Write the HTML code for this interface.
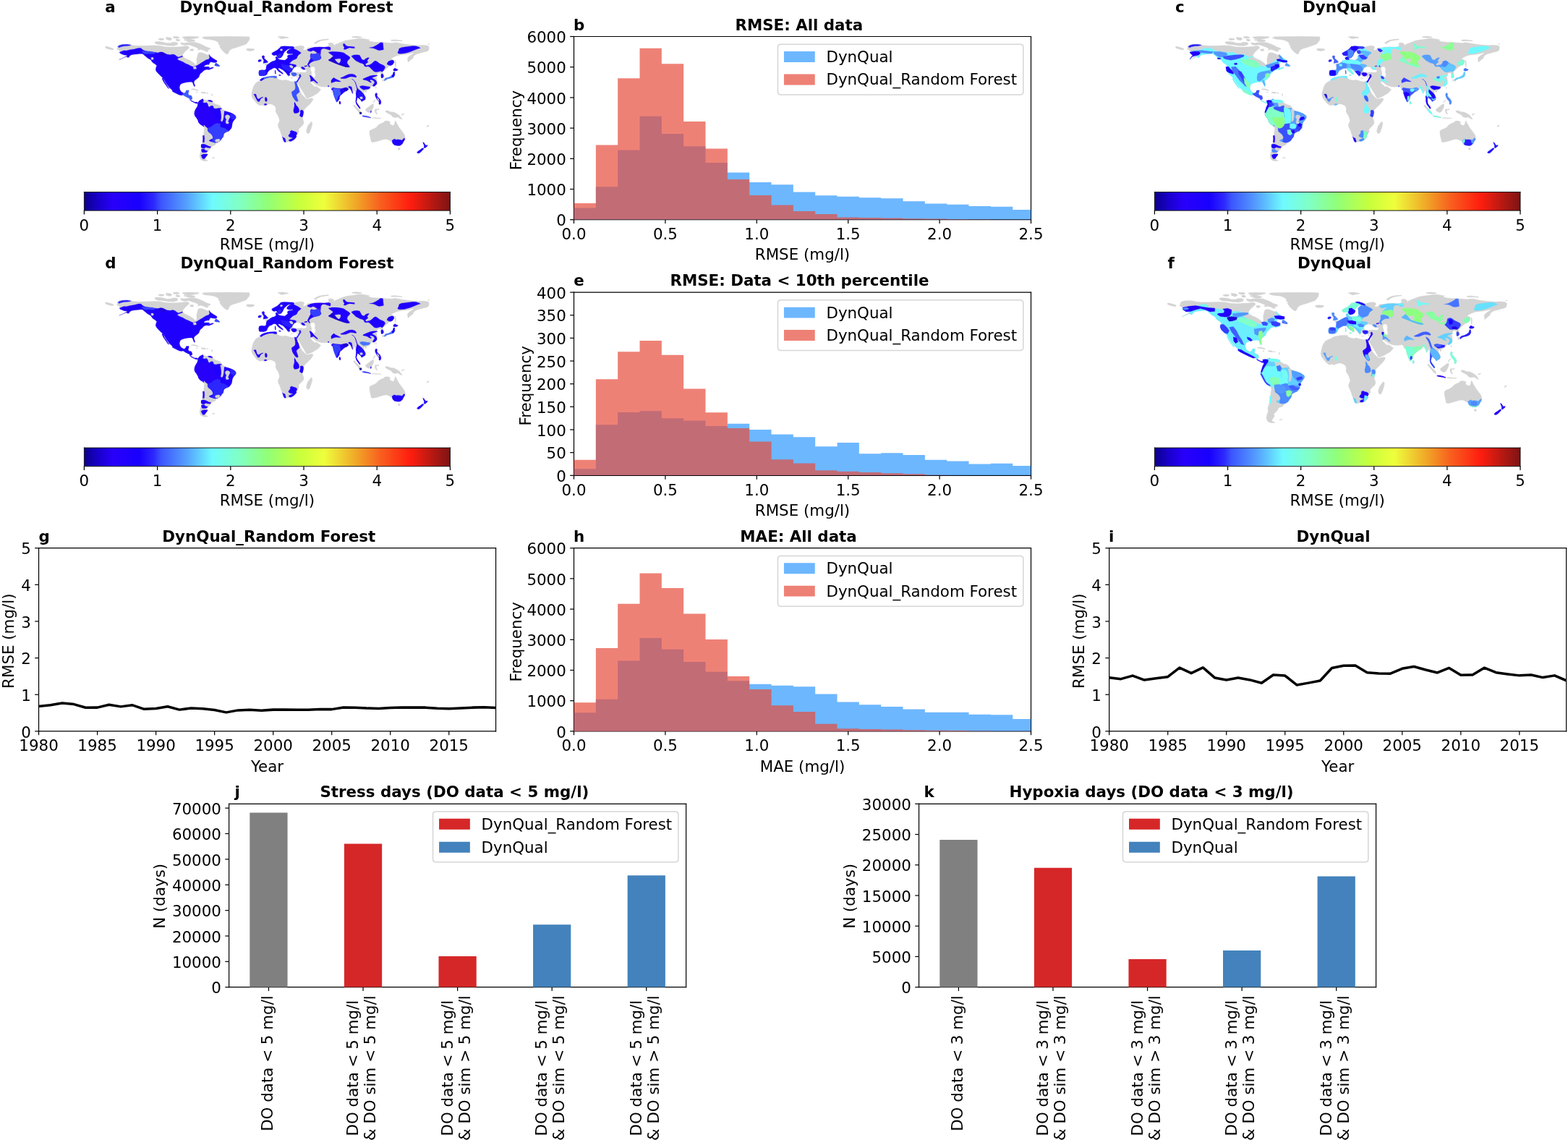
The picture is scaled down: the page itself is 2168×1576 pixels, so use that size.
<!DOCTYPE html>
<html lang="en"><head><meta charset="utf-8"><title>DynQual vs DynQual_Random Forest</title>
<style>html,body{margin:0;padding:0;background:#fff;overflow:hidden}svg{display:block}</style></head>
<body>
<svg width="2168" height="1576" viewBox="0 0 1419.054545 1031.563636" role="img" aria-label="Model performance figure"><defs><linearGradient id="jetgrad" x1="0" y1="0" x2="1" y2="0"><stop offset="0.000" stop-color="#0c008c"/><stop offset="0.040" stop-color="#1a00cd"/><stop offset="0.080" stop-color="#2800fa"/><stop offset="0.150" stop-color="#1900ff"/><stop offset="0.190" stop-color="#2d28ff"/><stop offset="0.210" stop-color="#3c55ff"/><stop offset="0.280" stop-color="#55a0ff"/><stop offset="0.350" stop-color="#6efaff"/><stop offset="0.420" stop-color="#80ffc8"/><stop offset="0.500" stop-color="#91ff78"/><stop offset="0.590" stop-color="#c8ff3c"/><stop offset="0.655" stop-color="#eeff3c"/><stop offset="0.740" stop-color="#f0aa28"/><stop offset="0.810" stop-color="#f85f1e"/><stop offset="0.890" stop-color="#ff1e0f"/><stop offset="1.000" stop-color="#7d1414"/></linearGradient></defs>
<defs>
<style type="text/css">*{stroke-linejoin: round; stroke-linecap: butt}</style>
</defs>
<g id="figure_1">
<g id="patch_1">
<path d="M 0 1031.56 L 1419.05 1031.56 L 1419.05 0 L 0 0 z" style="fill: #ffffff"/>
</g>
<g id="axes_1">
<g id="patch_2">
<path d="M 106.13 42.11 L 107.82 40.66 L 110.96 40.08 L 114.82 39.99 L 118.2 40.47 L 120.62 41.14 L 125.45 41.43 L 130.28 41.43 L 135.11 41.19 L 139.94 41.05 L 144.77 41.34 L 149.6 42.3 L 155.4 42.59 L 160.23 42.4 L 165.06 42.11 L 168.93 41.63 L 170.86 42.11 L 171.24 43.46 L 168.93 45.4 L 166.99 47.33 L 165.54 49.26 L 165.16 50.71 L 166.03 51.77 L 168.44 53.12 L 171.34 54.33 L 173.76 55.78 L 175.69 57.23 L 177.23 59.02 L 178.1 56.99 L 177.86 53.61 L 178.59 50.71 L 179.17 48.29 L 181 47.42 L 183.42 47.81 L 185.83 48.78 L 187.77 49.74 L 189.21 49.26 L 190.66 51.19 L 192.6 52.64 L 195.01 54.09 L 196.46 55.06 L 196.07 56.26 L 194.53 56.6 L 192.6 56.51 L 190.66 56.02 L 189.7 56.99 L 189.21 58.44 L 187.28 58.44 L 185.35 59.16 L 184.38 60.37 L 186.32 60.37 L 188.73 60.37 L 189.94 61.09 L 188.01 62.3 L 190.66 61.43 L 192.98 60.76 L 193.18 61.43 L 191.15 62.4 L 188.73 63.12 L 187.28 62.79 L 185.35 63.27 L 183.9 64.23 L 182.93 65.44 L 181.49 66.41 L 180.52 68.1 L 180.04 69.79 L 178.59 71 L 177.14 72.21 L 175.93 73.17 L 175.45 74.62 L 175.93 76.07 L 176.56 77.76 L 175.93 78.34 L 175.21 77.04 L 174.48 75.1 L 173.76 74.14 L 171.82 74.14 L 169.89 74.28 L 167.96 74.62 L 166.03 75.1 L 164.1 75.83 L 162.89 77.04 L 162.4 79.21 L 162.89 81.38 L 164.1 83.07 L 166.03 84.04 L 167.96 83.56 L 168.44 82.11 L 169.41 81.62 L 170.86 81.72 L 170.62 83.07 L 170.13 85.01 L 171.82 85.97 L 173.76 86.7 L 174 88.15 L 173.9 89.6 L 172.94 90.08 L 173.42 91.04 L 174.87 91.77 L 176.32 92.49 L 177.77 92.25 L 179.22 92.98 L 178.73 93.7 L 176.8 93.46 L 174.87 92.49 L 172.94 91.53 L 171.97 90.56 L 171.49 89.11 L 169.55 88.15 L 167.62 87.18 L 165.69 85.97 L 164.24 86.21 L 162.31 85.97 L 159.89 84.76 L 157.96 83.8 L 156.03 82.83 L 156.03 81.87 L 154.58 80.42 L 153.61 79.69 L 152.16 77.76 L 150.71 75.83 L 149.51 73.9 L 148.3 71.72 L 147.19 70.27 L 145.74 69.07 L 144.29 67.62 L 142.84 66.17 L 141.63 64.72 L 140.91 63.27 L 141.15 61.34 L 141.87 59.4 L 140.91 58.44 L 139.46 57.47 L 138.01 56.51 L 137.04 55.06 L 136.08 53.85 L 134.63 53.12 L 133.18 52.16 L 131.73 50.95 L 130.28 49.74 L 129.31 48.78 L 127.38 48.54 L 125.45 48.78 L 123.04 49.02 L 120.62 49.26 L 118.69 49.74 L 117.24 50.71 L 116.76 51.68 L 115.79 52.16 L 114.82 51.43 L 113.37 51.58 L 110.96 52.74 L 107.82 53.99 L 108.06 53.51 L 110.96 52.16 L 112.89 51.1 L 114.24 49.98 L 112.41 49.74 L 110.48 49.02 L 108.78 48.29 L 108.06 47.33 L 108.54 46.36 L 107.58 45.4 L 106.13 44.91 L 105.65 43.95 L 106.61 43.22 z M 146.61 70.67 L 147.57 70.29 L 148.78 73.67 L 150.23 75.84 L 151.68 78.01 L 152.89 79.95 L 152.41 80.24 L 150.96 78.26 L 149.51 76.18 L 148.06 74.05 L 147.09 72.22 z M 95.26 42.11 L 96.95 42.11 L 99.85 42.98 L 102.75 43.95 L 102.51 45.15 L 100.33 45.01 L 97.43 44.19 L 95.4 43.46 z M 182.72 34.04 L 184.89 33.22 L 192.62 33.08 L 207.11 32.93 L 219.19 33.03 L 225.71 33.22 L 225.95 34.77 L 225.47 36.7 L 224.02 38.39 L 223.05 39.84 L 220.64 40.81 L 217.74 41.77 L 214.84 42.74 L 212.43 43.46 L 210.01 44.19 L 208.08 45.4 L 207.11 47.09 L 206.39 48.78 L 205.18 49.02 L 203.73 48.05 L 202.28 46.84 L 200.83 45.4 L 199.62 43.7 L 198.66 42.01 L 199.38 41.05 L 197.45 40.32 L 198.18 39.36 L 196.97 38.15 L 195.52 37.18 L 193.59 36.46 L 191.17 35.98 L 188.76 35.73 L 186.34 35.49 L 184.41 35.01 z M 222.81 44.33 L 224.5 43.85 L 227.4 43.95 L 230.06 44.19 L 230.3 45.15 L 228.85 45.88 L 226.43 46.27 L 224.02 45.88 L 222.96 45.15 z M 168.95 38.63 L 173.3 38.05 L 177.65 38.39 L 181.51 39.84 L 184.41 41.05 L 186.34 42.26 L 189.24 43.22 L 190.69 43.95 L 189.96 44.91 L 187.79 45.4 L 188.76 46.6 L 186.82 46.84 L 184.41 45.64 L 181.99 44.91 L 178.61 45.4 L 179.58 43.95 L 177.65 42.98 L 175.23 42.01 L 172.33 41.05 L 169.43 40.32 z M 165.57 33.32 L 170.88 32.93 L 179.58 33.22 L 180.06 34.04 L 175.71 34.53 L 172.33 35.25 L 170.4 34.77 L 166.53 34.29 z M 166.53 35.73 L 171.37 35.49 L 176.2 36.22 L 175.71 37.18 L 170.88 36.94 L 167.02 36.7 z M 171.85 44.43 L 174.75 44.19 L 175.47 45.4 L 174.02 46.36 L 172.09 45.88 z M 139.94 37.91 L 142.84 37.43 L 147.19 37.91 L 150.57 39.02 L 154.43 38.87 L 155.88 38.15 L 159.26 38.05 L 161.2 39.12 L 160.23 40.81 L 156.37 41.53 L 151.54 41.29 L 147.19 40.66 L 142.84 40.32 L 140.43 39.36 z M 142.84 35.25 L 145.74 34.53 L 148.64 35.01 L 148.15 36.22 L 144.77 36.46 z M 150.09 33.56 L 154.43 34.04 L 155.88 35.25 L 153.95 36.7 L 150.57 35.73 z M 156.37 33.08 L 160.23 32.84 L 162.65 33.8 L 161.2 34.77 L 157.33 34.53 z M 159.26 35.25 L 162.16 35.49 L 163.13 36.7 L 161.2 37.43 L 159.26 36.7 z M 163.13 38.39 L 166.99 38.87 L 168.93 38.39 L 170.86 39.12 L 169.89 40.81 L 166.99 41.05 L 164.1 40.32 z M 165.06 33.32 L 170.86 33.08 L 179.55 33.32 L 180.04 34.04 L 175.69 35.01 L 170.86 35.73 L 166.99 35.25 L 165.54 34.29 z M 168.93 36.7 L 172.79 36.22 L 176.65 36.7 L 176.17 37.67 L 171.82 37.91 L 169.41 37.57 z M 195.28 56.75 L 196.97 57.96 L 198.42 58.92 L 198.9 60.13 L 197.45 59.98 L 195.52 59.69 L 194.07 59.16 L 194.79 57.96 z M 172.94 80.53 L 175.35 80.19 L 177.77 80.82 L 179.7 81.64 L 179.46 82.27 L 177.28 81.64 L 174.87 81.15 L 173.18 81.15 z M 182.11 83.23 L 184.53 83.09 L 186.46 83.81 L 186.22 84.54 L 183.8 84.39 L 182.21 84.05 z M 187.19 83.81 L 188.39 83.81 L 188.39 84.54 L 187.19 84.54 z M 177.28 83.33 L 178.73 83.23 L 178.83 83.81 L 177.38 83.91 z M 191.29 84.78 L 192.16 85.02 L 192.35 86.71 L 191.68 86.71 z M 179.22 92.99 L 180.18 91.3 L 181.63 90.33 L 183.56 89.37 L 184.05 90.33 L 185.01 90.09 L 185.98 90.57 L 187.91 90.82 L 190.33 90.57 L 192.02 91.3 L 192.5 92.26 L 193.71 93.47 L 195.64 94.44 L 197.57 94.92 L 199.5 95.89 L 200.47 97.34 L 200.95 98.54 L 202.4 99.51 L 203.37 100.23 L 205.3 100.96 L 207.72 101.68 L 210.13 102.65 L 212.06 103.86 L 213.27 105.07 L 213.51 106.51 L 212.64 107.82 L 211.68 109.03 L 210.71 110.48 L 210.23 111.92 L 209.99 113.86 L 209.26 115.79 L 208.3 117.24 L 207.33 118.45 L 205.4 119.17 L 203.46 120.14 L 202.5 121.1 L 202.26 122.55 L 201.77 124 L 200.57 125.45 L 199.6 126.9 L 198.63 127.87 L 197.18 128.83 L 195.74 129.8 L 195.25 130.76 L 193.8 131.73 L 191.87 132.21 L 190.91 133.18 L 190.42 134.63 L 189.21 135.84 L 188.01 137.04 L 186.8 138.49 L 188.01 139.46 L 187.28 140.43 L 186.07 142.36 L 185.35 143.57 L 186.56 144.53 L 188.49 145.26 L 187.04 145.64 L 185.11 145.74 L 183.18 145.26 L 181.73 144.29 L 181 142.84 L 180.66 140.91 L 181 138.98 L 181.73 137.04 L 182.21 135.11 L 181.82 133.66 L 182.21 131.25 L 183.18 129.31 L 183.42 127.38 L 183.66 124.97 L 184.05 122.55 L 184.38 120.62 L 184.63 118.69 L 184.87 116.76 L 184.63 114.82 L 183.18 113.62 L 181.24 112.41 L 179.79 110.72 L 179.07 108.54 L 177.86 106.61 L 176.41 104.68 L 175.93 102.75 L 176.41 100.33 L 177.38 98.4 L 178.59 96.47 L 178.93 94.53 z M 191.87 142.6 L 194.29 142.36 L 194.53 143.08 L 192.11 143.23 z M 233.92 73.67 L 236.34 72.7 L 238.75 71.25 L 241.65 70.53 L 245.03 70.04 L 248.41 69.9 L 250.59 70.04 L 250.83 71.01 L 253.24 72.22 L 256.14 72.7 L 258.07 72.22 L 260.01 72.7 L 262.91 73.43 L 265.8 73.91 L 267.25 73.67 L 268.46 74.63 L 268.22 75.6 L 269.18 77.53 L 270.63 79.95 L 271.6 82.36 L 272.57 84.29 L 274.02 86.23 L 275.46 87.68 L 276.91 89.12 L 277.88 89.61 L 280.3 89.12 L 282.71 88.64 L 283.44 90.09 L 282.44 91.64 L 281 93.57 L 279.55 95.02 L 277.61 96.95 L 275.68 98.88 L 274.72 100.33 L 274.96 102.26 L 274.47 104.2 L 273.75 106.13 L 273.99 107.58 L 274.72 109.51 L 274.96 111.44 L 274.23 112.89 L 272.78 114.34 L 271.33 115.79 L 270.13 117.24 L 270.61 119.17 L 269.89 120.14 L 268.92 121.59 L 267.95 123.52 L 266.5 125.45 L 265.05 126.9 L 263.12 127.87 L 261.19 128.35 L 258.77 128.83 L 257.33 127.87 L 256.36 125.93 L 255.39 123.52 L 254.43 121.59 L 253.94 119.65 L 252.98 117.24 L 252.01 115.31 L 251.53 113.37 L 252.01 111.44 L 252.98 109.51 L 252.5 107.09 L 251.53 104.68 L 250.32 102.75 L 249.36 100.81 L 249.6 98.88 L 249.36 96.95 L 248.15 95.5 L 246.22 94.53 L 244.28 94.05 L 241.87 94.53 L 238.97 95.5 L 237.04 95.02 L 235.1 95.5 L 232.21 93.57 L 230.76 91.64 L 229.57 90.09 L 228.12 88.16 L 227.64 85.74 L 227.88 83.33 L 228.61 80.91 L 229.09 78.98 L 230.06 77.05 L 231.51 75.12 L 232.96 74.15 z M 281.72 109.99 L 282.69 110.96 L 282.44 113.37 L 281.72 115.79 L 280.75 118.69 L 279.79 120.62 L 278.1 120.86 L 277.13 118.69 L 277.86 115.79 L 278.58 113.86 L 280.03 111.92 z M 234.4 67.62 L 234.16 65.68 L 234.65 63.75 L 236.82 63.27 L 239.24 63.51 L 240.68 62.79 L 240.93 60.85 L 241.17 59.4 L 239.96 58.44 L 239.48 57.71 L 241.17 57.47 L 242.62 57.38 L 243.58 57.09 L 245.03 56.26 L 246.48 55.54 L 248.41 55.06 L 249.38 54.33 L 249.86 53.61 L 249.38 52.16 L 249.62 51.43 L 250.59 51.19 L 251.31 52.4 L 252.28 53.61 L 254.21 54.09 L 256.14 54.33 L 257.59 54.57 L 259.04 53.61 L 260.49 52.16 L 260.01 50.71 L 260.97 49.74 L 262.91 49.5 L 265.32 49.02 L 264.84 48.54 L 262.42 48.78 L 260.49 48.54 L 259.52 47.57 L 260.01 46.36 L 260.97 45.4 L 262.18 44.43 L 262.42 43.95 L 260.49 44.43 L 259.04 45.64 L 257.59 46.84 L 256.63 48.29 L 256.14 49.74 L 255.18 51.19 L 254.21 52.16 L 252.76 52.64 L 251.31 52.16 L 250.83 50.71 L 249.86 49.74 L 248.41 50.23 L 246.96 49.98 L 246.09 49.02 L 246 48.05 L 248.41 46.6 L 250.83 45.4 L 253.24 43.22 L 254.21 42.11 L 257.11 41.77 L 260.97 41.92 L 264.84 42.11 L 266.29 42.74 L 267.74 42.11 L 270.15 41.53 L 272.57 41.29 L 274.5 41.77 L 275.46 42.74 L 274.98 43.95 L 274.02 44.91 L 275.46 45.4 L 276.91 44.91 L 277.88 43.95 L 278.85 42.98 L 281.26 43.22 L 284.64 42.59 L 289.47 42.4 L 294.3 42.59 L 296.72 42.11 L 297.69 40.56 L 296.72 39.36 L 298.65 38.63 L 301.07 38.87 L 302.52 40.56 L 302.03 42.5 L 302.27 42.01 L 303.24 40.32 L 306.14 39.12 L 309.04 37.91 L 312.42 36.7 L 316.28 35.98 L 320.63 35.49 L 324.98 34.77 L 328.36 34.86 L 332.22 35.49 L 334.64 35.98 L 333.19 36.7 L 336.09 37.67 L 340.44 38.05 L 345.27 38.15 L 350.1 38.63 L 354.93 38.87 L 356.86 38.39 L 359.76 38.63 L 364.59 39.6 L 369.42 40.32 L 374.25 40.81 L 379.08 41.05 L 381.5 40.81 L 386.33 41.05 L 388.26 42.11 L 388.26 44.43 L 387.29 46.12 L 385.36 46.84 L 382.95 47.33 L 380.53 48.05 L 377.63 48.78 L 375.7 49.74 L 374.25 50.95 L 373.77 52.64 L 371.83 54.09 L 369.9 55.78 L 369.18 56.51 L 368.94 54.57 L 368.7 52.64 L 369.9 51.19 L 371.83 49.74 L 373.77 48.54 L 374.73 47.81 L 372.8 48.05 L 369.9 48.78 L 367 49.26 L 364.11 49.5 L 362.17 49.74 L 359.76 50.23 L 357.34 51.19 L 355.41 52.16 L 353.96 53.12 L 356.86 54.57 L 356.62 56.51 L 355.41 58.44 L 353.48 59.4 L 351.55 60.37 L 350.1 61.82 L 348.65 63.27 L 347.2 64.23 L 345.75 64.96 L 346.96 65.44 L 346.72 66.65 L 347.2 68.58 L 346.96 70.03 L 345.27 70.76 L 344.54 69.55 L 344.78 67.62 L 344.3 66.17 L 342.85 65.93 L 341.4 66.65 L 341.64 68.1 L 339.95 68.58 L 340.92 70.03 L 341.16 71.96 L 341.4 74.38 L 340.44 76.31 L 338.99 77.76 L 338.02 78.24 L 336.57 77.76 L 335.61 79.21 L 334.64 80.66 L 333.19 81.38 L 331.74 82.11 L 330.29 82.59 L 329.33 82.11 L 329.33 83.81 L 329.81 86.23 L 330.77 88.16 L 330.53 90.09 L 328.84 91.06 L 327.39 92.02 L 326.43 90.57 L 324.98 89.12 L 323.53 88.16 L 323.05 90.09 L 322.56 92.02 L 323.53 93.96 L 324.98 95.89 L 326.19 97.82 L 325.46 98.3 L 324.01 96.37 L 322.56 94.44 L 321.84 92.02 L 322.08 89.61 L 322.32 87.19 L 322.08 84.78 L 321.6 83.33 L 320.63 81.88 L 319.66 84.29 L 319.42 84.78 L 318.7 82.6 L 318.22 79.95 L 317.25 78.98 L 315.32 80.91 L 313.87 82.12 L 312.42 82.84 L 310.97 83.81 L 309.52 85.26 L 308.07 86.23 L 307.35 87.68 L 307.1 89.61 L 306.14 91.06 L 304.93 92.51 L 304.21 91.54 L 303.48 89.61 L 302.52 87.19 L 301.79 84.78 L 301.31 82.36 L 300.34 81.15 L 299.62 80.91 L 299.13 79.46 L 297.69 78.01 L 295.75 78.5 L 293.34 78.74 L 290.92 78.5 L 288.99 78.01 L 287.54 77.53 L 285.61 76.56 L 283.68 75.12 L 281.74 73.67 L 281.02 73.67 L 280.78 74.15 L 281.26 75.12 L 282.23 76.08 L 283.68 77.53 L 285.13 78.5 L 286.57 78.01 L 287.54 78.98 L 288.99 79.95 L 290.44 80.91 L 289.47 82.36 L 287.54 84.29 L 285.13 85.74 L 282.71 87.19 L 280.3 88.16 L 277.88 89.12 L 276.91 88.16 L 275.95 86.23 L 274.5 83.81 L 273.05 81.4 L 271.6 78.98 L 270.15 76.56 L 269.18 75.12 L 270.15 74.39 L 271.12 73.18 L 271.12 72.93 L 271.36 70.51 L 271.6 68.82 L 270.15 68.58 L 268.7 69.16 L 266.77 69.07 L 265.32 69.31 L 263.87 68.82 L 263.15 67.62 L 262.91 66.17 L 263.63 65.2 L 264.35 64.23 L 262.91 64.96 L 261.94 65.2 L 262.42 66.65 L 262.66 68.1 L 261.94 69.07 L 261.21 69.55 L 260.49 68.1 L 259.52 66.65 L 258.56 65.68 L 257.59 64.72 L 256.63 63.75 L 255.66 63.03 L 254.69 62.54 L 253.49 61.92 L 252.28 61.58 L 251.7 62.3 L 252.76 63.27 L 253.73 64.23 L 254.69 65.2 L 255.9 65.93 L 256.38 66.89 L 255.42 67.62 L 255.18 66.65 L 253.73 65.68 L 252.28 64.72 L 251.31 63.75 L 250.59 62.79 L 249.86 61.82 L 248.41 61.34 L 246.96 61.82 L 245.51 62.79 L 244.07 63.27 L 243.1 64.23 L 242.13 65.68 L 241.65 67.13 L 240.68 68.1 L 238.75 68.58 L 236.82 68.58 L 234.89 68.49 z M 237.06 50.71 L 238.75 50.23 L 239.48 51.43 L 238.99 52.64 L 240.2 53.61 L 241.65 55.06 L 242.62 56.26 L 241.17 56.75 L 239.72 56.99 L 238.27 57.23 L 238.51 56.02 L 238.75 54.57 L 238.03 53.61 L 237.3 52.16 z M 233.68 54.57 L 234.89 53.85 L 236.58 54.09 L 236.34 55.3 L 234.89 56.02 L 233.68 55.78 z M 248.8 63.75 L 249.38 63.51 L 249.62 66.65 L 248.9 66.89 z M 252.28 67.62 L 254.21 67.86 L 253.97 68.58 L 252.52 68.34 z M 262.91 70.51 L 264.84 70.42 L 264.93 70.9 L 263 71 z M 268.46 69.79 L 269.67 69.55 L 269.76 70.27 L 268.61 70.42 z M 251.07 33.22 L 255.42 32.84 L 260.73 33.56 L 261.21 34.29 L 258.32 34.53 L 255.42 35.25 L 253.97 34.86 L 252.52 34.04 z M 284.16 39.12 L 286.09 37.43 L 288.99 36.22 L 292.85 35.49 L 297.2 35.25 L 297.44 35.98 L 293.34 36.46 L 289.96 37.18 L 287.54 38.39 L 285.61 39.84 z M 318.46 33.08 L 323.29 32.84 L 327.15 33.32 L 326.67 34.04 L 322.8 33.9 L 318.94 33.8 z M 318.7 33.22 L 322.56 32.84 L 326.91 33.32 L 327.39 34.04 L 323.53 34.19 L 319.66 34.04 z M 353.48 36.22 L 357.34 35.83 L 359.76 36.22 L 364.11 36.7 L 363.62 37.28 L 359.28 37.09 L 354.44 37.09 z M 387.29 39.6 L 388.74 39.7 L 388.65 40.32 L 387.39 40.28 z M 357.34 54.57 L 358.07 54.82 L 358.41 57.47 L 358.21 60.37 L 357.58 60.37 L 357.44 57.47 z M 355.89 62.79 L 357.34 61.58 L 358.79 62.3 L 360.24 62.79 L 359.28 63.99 L 357.34 64.23 L 356.14 63.99 z M 347.68 71.96 L 349.13 70.51 L 351.55 70.03 L 353.48 69.07 L 355.41 67.62 L 356.14 65.2 L 357.1 65.2 L 357.34 67.62 L 356.38 69.55 L 354.44 70.51 L 352.51 71 L 350.58 71.48 L 348.89 72.45 L 348.17 73.41 z M 345.75 71.96 L 347.2 71.72 L 347.44 73.17 L 346.23 73.65 z M 339.95 78.74 L 340.68 78.5 L 340.44 80.19 L 339.95 80.19 z M 330.53 82.6 L 331.74 82.36 L 331.74 83.57 L 330.77 83.81 z M 306.86 91.78 L 307.83 91.54 L 308.46 93.23 L 307.83 94.44 L 307.01 93.96 z M 339.71 84.54 L 340.92 84.05 L 341.4 85.26 L 341.16 86.71 L 342.37 88.16 L 343.82 89.61 L 344.78 91.54 L 344.78 93.47 L 343.82 94.68 L 342.85 93.96 L 343.09 92.51 L 342.13 91.06 L 340.92 89.61 L 339.95 87.68 L 339.47 86.23 z M 337.3 92.51 L 339.47 90.09 L 339.95 90.57 L 337.78 92.99 z M 330.77 98.79 L 332.71 97.34 L 334.64 95.89 L 336.57 94.44 L 338.02 93.96 L 338.26 95.89 L 337.54 97.82 L 336.57 99.75 L 335.61 101.2 L 334.16 101.93 L 332.22 101.2 L 331.02 100.23 z M 319.66 95.16 L 320.87 94.92 L 322.56 96.85 L 324.5 98.79 L 326.43 100.72 L 327.39 102.65 L 326.43 103.13 L 324.98 101.93 L 323.53 99.99 L 321.6 97.82 L 320.15 96.13 z M 327.88 104.58 L 330.29 104.68 L 333.19 105.31 L 335.61 106.27 L 335.36 106.76 L 332.71 106.13 L 329.81 105.79 L 328.12 105.31 z M 339.47 98.79 L 342.85 98.54 L 343.33 99.27 L 340.92 99.51 L 340.44 101.2 L 341.64 103.13 L 340.92 103.62 L 339.47 101.68 L 339.23 99.75 z M 336.57 106.51 L 339.47 106.42 L 342.37 106.76 L 344.78 106.51 L 344.78 107.09 L 341.89 107.38 L 338.99 107.09 L 336.67 107.09 z M 348.65 100.23 L 350.58 99.99 L 353.48 101.2 L 356.38 101.44 L 358.79 102.65 L 361.21 104.1 L 363.14 106.51 L 364.11 108.21 L 362.17 107.48 L 360.24 106.03 L 357.34 106.51 L 354.93 105.55 L 353.96 104.1 L 352.03 103.13 L 350.1 102.17 L 348.89 101.2 z M 363.14 103.62 L 365.56 102.65 L 366.04 103.13 L 363.62 104.34 z M 334.4 118.69 L 335.61 117.48 L 338.02 116.51 L 340.44 115.31 L 341.89 113.62 L 343.33 112.41 L 345.27 111.44 L 347.2 110.72 L 348.17 109.51 L 350.1 109.27 L 352.51 109.75 L 353.24 110.72 L 352.51 111.92 L 353.96 112.89 L 355.89 113.62 L 356.86 112.41 L 357.34 110.48 L 357.83 109.03 L 358.55 110.23 L 359.28 111.92 L 360.24 113.37 L 361.21 115.31 L 362.66 117.24 L 364.11 119.17 L 365.56 121.1 L 366.52 123.04 L 366.76 124.97 L 366.04 126.9 L 365.07 128.35 L 364.11 130.28 L 362.17 131.73 L 360.72 131.97 L 358.79 131.73 L 356.86 131.25 L 355.41 129.8 L 354.44 127.87 L 352.51 127.14 L 351.55 126.42 L 349.61 125.93 L 347.2 126.18 L 344.78 126.9 L 342.37 127.62 L 339.95 128.35 L 337.54 128.83 L 335.85 128.35 L 335.61 126.42 L 335.12 124.48 L 334.64 122.55 L 334.4 120.62 z M 360 133.9 L 362.17 133.9 L 361.69 135.59 L 360.72 135.84 z M 382.7 128.59 L 383.67 129.07 L 384.39 130.28 L 385.36 131.49 L 387.05 131.25 L 386.57 132.45 L 385.36 133.42 L 384.39 134.15 L 383.67 133.18 L 383.91 131.73 L 383.19 130.28 z M 377.39 137.77 L 378.6 136.56 L 380.53 135.35 L 381.98 134.15 L 383.43 133.9 L 383.19 135.11 L 381.98 136.32 L 380.53 137.77 L 379.08 138.73 L 377.63 138.49 z M 386.09 114.1 L 388.02 113.13 L 388.36 113.76 L 386.57 115.06 z" clip-path="url(#p8a1bfb4084)" style="fill: #d3d3d3; stroke: #d3d3d3; stroke-width: 0.15"/>
</g>
<g id="patch_3">
<path d="M 265.08 61.58 L 267.25 60.85 L 269.67 60.61 L 271.6 61.09 L 272.32 62.54 L 274.02 63.27 L 276.19 63.27 L 277.4 63.99 L 276.91 65.2 L 274.98 65.44 L 272.57 65.2 L 270.15 65.44 L 267.74 65.44 L 265.8 64.96 L 264.84 63.75 z M 281.5 60.85 L 283.19 60.37 L 284.64 61.09 L 285.13 63.27 L 284.64 65.2 L 285.37 67.13 L 285.13 69.55 L 283.68 70.27 L 282.47 69.55 L 281.99 67.62 L 282.23 65.68 L 281.5 63.75 L 281.26 62.3 z" clip-path="url(#p8a1bfb4084)" style="fill: #ffffff; stroke: #ffffff; stroke-width: 0.15"/>
</g>
<g id="patch_4">
<path d="M 107.82 53.99 L 110.96 52.74 L 113.37 51.58 L 115.4 50.32 L 114.24 49.98 L 112.41 49.74 L 110.48 49.02 L 108.78 48.29 L 108.06 47.33 L 109.99 46.46 L 112.41 45.64 L 114.34 45.88 L 116.27 45.4 L 118.69 44.82 L 121.59 44.43 L 123.52 43.85 L 125.45 43.46 L 127.62 43.46 L 128.45 44.43 L 129.8 45.4 L 131.73 46.12 L 135.11 46.6 L 138.01 46.94 L 140.91 47.42 L 143.32 47.71 L 145.26 47.09 L 147.19 47.33 L 149.12 48.29 L 151.05 49.16 L 153.95 49.5 L 156.37 49.02 L 158.3 49.65 L 159.75 50.71 L 161.2 51.68 L 163.13 51.19 L 165.06 50.47 L 165.4 51.19 L 163.61 51.92 L 161.68 52.54 L 160.47 53.22 L 161.2 54.09 L 163.13 55.06 L 165.54 56.02 L 167.96 57.47 L 170.38 58.44 L 172.79 59.65 L 174.72 60.37 L 176.17 60.13 L 178.1 59.4 L 180.04 58.2 L 181.97 56.99 L 183.9 55.78 L 185.83 54.57 L 187.28 53.85 L 188.73 53.61 L 189.7 52.16 L 189.21 49.26 L 190.66 51.19 L 192.6 52.64 L 195.01 54.09 L 196.46 55.06 L 196.07 56.26 L 194.53 56.6 L 192.6 56.51 L 190.66 56.02 L 189.7 56.99 L 189.21 58.44 L 187.28 58.44 L 185.35 59.16 L 184.38 60.37 L 186.32 60.37 L 188.73 60.37 L 189.94 61.09 L 188.01 62.3 L 190.66 61.43 L 192.98 60.76 L 193.18 61.43 L 191.15 62.4 L 188.73 63.12 L 187.28 62.79 L 185.35 63.27 L 183.9 64.23 L 182.93 65.44 L 181.49 66.41 L 180.52 68.1 L 180.04 69.79 L 178.59 71 L 177.14 72.21 L 175.93 73.17 L 175.45 74.62 L 175.93 76.07 L 176.56 77.76 L 175.93 78.34 L 175.21 77.04 L 174.48 75.1 L 173.76 74.14 L 171.82 74.14 L 169.89 74.28 L 167.96 74.62 L 166.03 75.1 L 164.1 75.83 L 162.89 77.04 L 162.4 79.21 L 162.89 81.38 L 164.1 83.07 L 166.03 84.04 L 166.03 85.49 L 165.69 85.97 L 164.24 86.21 L 162.31 85.97 L 159.89 84.76 L 157.96 83.8 L 156.03 82.83 L 156.03 81.87 L 154.58 80.42 L 153.61 79.69 L 152.16 77.76 L 150.71 75.83 L 149.51 73.9 L 148.3 71.72 L 147.19 70.27 L 145.74 69.07 L 144.29 67.62 L 142.84 66.17 L 141.63 64.72 L 140.91 63.27 L 141.15 61.34 L 141.87 59.4 L 140.91 58.44 L 139.46 57.47 L 138.01 56.51 L 137.04 55.06 L 136.08 53.85 L 134.63 53.12 L 133.18 52.16 L 131.73 50.95 L 130.28 49.74 L 129.31 48.78 L 127.38 48.54 L 125.45 48.78 L 123.04 49.02 L 120.62 49.26 L 118.69 49.74 L 117.24 50.71 L 116.76 51.68 L 115.79 52.16 L 114.82 51.43 L 113.37 51.58 L 110.96 52.74 z" clip-path="url(#p8a1bfb4084)" style="fill: #1f00fd; stroke: #1f00fd; stroke-width: 0.15"/>
</g>
<g id="patch_5">
<path d="M 106.51 42.3 L 108.06 41.05 L 110.96 40.28 L 114.82 40.08 L 118.11 40.56 L 118.3 41.14 L 115.79 41.53 L 112.41 41.77 L 109.51 42.4 L 108.06 43.08 z" clip-path="url(#p8a1bfb4084)" style="fill: #2c26ff; stroke: #2c26ff; stroke-width: 0.15"/>
</g>
<g id="patch_6">
<path d="M 128.45 46.12 L 131.73 46.27 L 135.11 46.65 L 138.01 47.04 L 140.43 47.42 L 139.94 48.54 L 137.53 48.78 L 135.11 48.54 L 132.7 48.78 L 130.28 48.54 L 129.07 47.33 z" clip-path="url(#p8a1bfb4084)" style="fill: #3747ff; stroke: #3747ff; stroke-width: 0.15"/>
</g>
<g id="patch_7">
<path d="M 143.32 47.71 L 145.26 47.09 L 147.19 47.33 L 149.12 48.29 L 150.57 49.16 L 149.6 50.23 L 147.19 50.71 L 144.77 50.23 L 143.57 49.02 z" clip-path="url(#p8a1bfb4084)" style="fill: #2100e2; stroke: #2100e2; stroke-width: 0.15"/>
</g>
<g id="patch_8">
<path d="M 146.61 70.67 L 147.57 70.29 L 148.78 73.67 L 150.23 75.84 L 151.68 78.01 L 152.89 79.95 L 152.41 80.24 L 150.96 78.26 L 149.51 76.18 L 148.06 74.05 L 147.09 72.22 z" clip-path="url(#p8a1bfb4084)" style="fill: #1f00fd; stroke: #1f00fd; stroke-width: 0.15"/>
</g>
<g id="patch_9">
<path d="M 195.28 56.75 L 196.97 57.96 L 198.42 58.92 L 198.9 60.13 L 197.45 59.98 L 195.52 59.69 L 194.07 59.16 L 194.79 57.96 z" clip-path="url(#p8a1bfb4084)" style="fill: #3747ff; stroke: #3747ff; stroke-width: 0.15"/>
</g>
<g id="patch_10">
<path d="M 164.72 84.78 L 166.66 84.29 L 168.1 83.33 L 168.35 81.88 L 171 81.64 L 170.76 83.33 L 170.28 84.78 L 171 86.23 L 172.94 86.47 L 173.9 88.16 L 173.9 89.61 L 172.94 90.09 L 171.97 90.57 L 171.49 89.12 L 169.55 88.16 L 167.62 87.19 L 165.69 85.98 z" clip-path="url(#p8a1bfb4084)" style="fill: #3e5bff; stroke: #3e5bff; stroke-width: 0.15"/>
</g>
<g id="patch_11">
<path d="M 171.97 90.57 L 173.42 91.06 L 174.87 91.78 L 176.32 92.51 L 177.77 92.26 L 179.22 92.99 L 178.73 93.71 L 176.8 93.47 L 174.87 92.51 L 172.94 91.54 z M 179.22 92.99 L 180.18 91.3 L 181.63 90.33 L 183.56 89.37 L 184.05 90.33 L 184.14 91.64 L 183.42 92.6 L 185.11 93.09 L 187.04 92.84 L 188.01 94.05 L 188.49 95.98 L 189.46 96.95 L 190.42 95.98 L 191.87 95.5 L 193.08 96.23 L 193.32 97.92 L 195.25 98.4 L 197.67 97.92 L 200.08 97.92 L 200.81 98.54 L 199.12 98.88 L 199.6 100.33 L 200.08 102.26 L 200.32 104.2 L 200.57 106.13 L 200.08 108.06 L 199.84 109.51 L 201.05 110.23 L 202.02 108.54 L 202.5 106.13 L 202.74 103.71 L 202.98 101.3 L 203.22 100.33 L 205.3 100.96 L 207.72 101.68 L 210.13 102.65 L 212.06 103.86 L 213.27 105.07 L 213.51 106.51 L 212.64 107.82 L 211.68 109.03 L 210.71 110.48 L 210.23 111.92 L 209.99 113.86 L 209.26 115.79 L 208.3 117.24 L 207.33 118.45 L 205.4 119.17 L 203.46 120.14 L 202.5 121.1 L 202.26 122.55 L 201.77 124 L 200.57 125.45 L 199.6 126.9 L 198.63 127.87 L 196.7 128.83 L 194.29 129.07 L 191.87 128.35 L 189.94 127.87 L 189.21 126.9 L 190.91 126.18 L 192.6 125.45 L 192.84 124 L 191.87 122.07 L 190.42 120.62 L 188.49 119.17 L 188.01 117.72 L 188.01 115.79 L 186.07 114.34 L 184.87 112.89 L 184.14 111.68 L 184.63 114.82 L 183.18 113.62 L 181.24 112.41 L 179.79 110.72 L 179.07 108.54 L 177.86 106.61 L 176.41 104.68 L 175.93 102.75 L 176.41 100.33 L 177.38 98.4 L 178.59 96.47 L 178.93 94.53 z M 187.91 90.82 L 190.33 90.57 L 192.02 91.3 L 192.5 92.26 L 190.91 92.12 L 188.97 91.64 z" clip-path="url(#p8a1bfb4084)" style="fill: #1f00fd; stroke: #1f00fd; stroke-width: 0.15"/>
</g>
<g id="patch_12">
<path d="M 176.41 100.33 L 177.38 98.4 L 178.59 96.47 L 180.28 96.95 L 183.18 96.47 L 186.07 96.95 L 188.49 96.23 L 189.46 97.19 L 190.91 97.92 L 192.84 98.88 L 193.08 101.3 L 193.32 104.2 L 193.8 106.61 L 195.74 107.58 L 198.15 108.54 L 199.6 109.51 L 199.12 111.44 L 196.7 111.44 L 193.8 112.41 L 191.87 114.34 L 189.94 115.31 L 188.01 115.79 L 186.07 114.34 L 184.87 112.89 L 183.18 113.62 L 181.24 112.41 L 179.79 110.72 L 179.07 108.54 L 177.86 106.61 L 176.41 104.68 L 175.93 102.75 z" clip-path="url(#p8a1bfb4084)" style="fill: #2700fa; stroke: #2700fa; stroke-width: 0.15"/>
</g>
<g id="patch_13">
<path d="M 188.01 115.79 L 190.91 114.82 L 193.8 112.41 L 196.7 111.44 L 199.12 111.92 L 199.6 113.86 L 201.53 114.82 L 204.43 115.79 L 207.33 116.76 L 207.33 118.45 L 205.4 119.17 L 203.46 120.14 L 202.5 121.1 L 202.26 122.55 L 201.77 124 L 200.57 125.45 L 199.6 126.9 L 198.63 127.87 L 196.7 128.83 L 194.29 129.07 L 191.87 128.35 L 192.84 124 L 191.87 122.07 L 190.42 120.62 L 188.49 119.17 L 188.01 117.72 z" clip-path="url(#p8a1bfb4084)" style="fill: #343eff; stroke: #343eff; stroke-width: 0.15"/>
</g>
<g id="patch_14">
<path d="M 199.12 114.34 L 201.53 113.13 L 204.43 112.89 L 207.33 113.37 L 209.26 114.34 L 209.74 115.31 L 208.3 117.24 L 207.33 117.96 L 205.4 117.24 L 203.46 115.79 L 201.05 115.31 z" clip-path="url(#p8a1bfb4084)" style="fill: #1f00fd; stroke: #1f00fd; stroke-width: 0.15"/>
</g>
<g id="patch_15">
<path d="M 208.3 103.23 L 210.23 102.84 L 212.06 103.86 L 213.27 105.07 L 213.51 106.51 L 212.64 107.82 L 211.19 108.3 L 209.74 107.58 L 208.78 105.65 z" clip-path="url(#p8a1bfb4084)" style="fill: #2c26ff; stroke: #2c26ff; stroke-width: 0.15"/>
</g>
<g id="patch_16">
<path d="M 183.42 122.79 L 184.87 122.55 L 185.11 125.45 L 184.87 128.83 L 183.42 128.83 L 183.66 125.45 z M 181.97 130.76 L 184.14 130.28 L 186.56 131.01 L 188.97 132.21 L 190.91 132.7 L 190.42 133.9 L 188.01 133.66 L 186.07 133.18 L 185.11 134.15 L 183.18 134.15 L 181.97 133.18 z M 182.21 135.11 L 184.63 134.63 L 186.07 136.08 L 188.01 136.56 L 187.04 137.77 L 185.11 138.01 L 183.18 138.01 L 182.45 137.04 z M 181.97 140.43 L 184.14 139.46 L 188.01 139.46 L 187.28 140.91 L 186.07 142.36 L 185.35 143.57 L 183.66 143.81 L 182.69 142.36 z M 234.4 67.62 L 234.16 65.68 L 234.65 63.75 L 236.82 63.27 L 239.24 63.51 L 240.68 62.79 L 240.93 60.85 L 241.17 59.4 L 242.13 58.44 L 243.58 57.47 L 245.03 56.26 L 246.48 55.54 L 248.41 55.06 L 249.38 54.33 L 249.86 53.61 L 249.38 52.16 L 249.62 51.43 L 250.59 51.19 L 251.31 52.4 L 252.28 53.61 L 254.21 54.09 L 256.14 54.33 L 257.59 54.57 L 259.04 53.61 L 260.49 52.16 L 260.01 50.71 L 260.97 49.74 L 262.91 49.5 L 265.32 49.02 L 264.84 48.54 L 262.42 48.78 L 260.49 48.54 L 259.52 47.57 L 260.01 46.36 L 262.91 45.64 L 265.8 45.64 L 268.7 46.12 L 271.12 46.84 L 272.57 47.81 L 271.6 48.78 L 270.15 49.74 L 269.18 51.19 L 268.7 52.64 L 267.25 53.61 L 265.8 54.09 L 264.35 55.06 L 262.91 56.51 L 261.94 57.47 L 263.87 57.96 L 266.29 58.2 L 268.22 58.92 L 267.74 60.37 L 266.29 60.85 L 265.32 62.3 L 264.35 63.27 L 263.87 64.72 L 262.91 65.44 L 261.94 66.65 L 262.42 68.1 L 260.97 68.58 L 260.01 67.62 L 259.04 66.17 L 258.07 65.2 L 257.11 64.23 L 256.14 63.27 L 255.18 62.79 L 254.21 62.3 L 253.24 61.82 L 252.28 61.58 L 251.79 62.3 L 252.76 63.27 L 253.73 64.23 L 254.69 65.2 L 255.9 65.93 L 256.14 67.13 L 255.18 66.65 L 253.73 65.68 L 252.28 64.72 L 251.31 63.75 L 250.59 62.79 L 249.86 61.82 L 248.41 61.34 L 246.96 61.82 L 245.51 62.79 L 244.07 63.27 L 243.1 64.23 L 242.13 65.68 L 241.65 67.13 L 240.68 68.1 L 238.75 68.58 L 236.82 68.58 L 234.89 68.49 z M 246 48.05 L 248.41 46.6 L 250.83 45.4 L 253.24 43.22 L 254.21 42.11 L 257.11 41.77 L 260.97 41.92 L 264.84 42.11 L 266.29 42.74 L 265.8 43.95 L 263.87 44.43 L 262.42 43.95 L 260.49 44.43 L 259.04 45.64 L 257.59 46.84 L 256.63 48.29 L 256.14 49.74 L 255.18 51.19 L 254.21 52.16 L 252.76 52.64 L 251.31 52.16 L 250.83 50.71 L 249.86 49.74 L 248.41 50.23 L 246.96 49.98 L 246.09 49.02 z M 260.01 46.36 L 260.97 45.4 L 262.18 44.43 L 263.87 44.43 L 265.8 43.95 L 267.74 44.91 L 269.67 45.88 L 271.12 46.84 L 268.7 46.12 L 265.8 45.64 L 262.91 45.64 z" clip-path="url(#p8a1bfb4084)" style="fill: #1f00fd; stroke: #1f00fd; stroke-width: 0.15"/>
</g>
<g id="patch_17">
<path d="M 234.65 63.99 L 236.82 63.51 L 239.24 63.66 L 240.44 64.23 L 240.68 66.17 L 240.2 67.86 L 238.75 68.49 L 236.82 68.49 L 234.98 68.34 L 234.31 66.65 z" clip-path="url(#p8a1bfb4084)" style="fill: #2c26ff; stroke: #2c26ff; stroke-width: 0.15"/>
</g>
<g id="patch_18">
<path d="M 254.21 57.96 L 257.11 58.44 L 260.01 58.92 L 262.42 59.4 L 263.87 60.85 L 264.84 62.79 L 263.87 64.48 L 262.42 65.2 L 260.49 64.23 L 258.56 63.27 L 256.63 62.3 L 255.18 60.85 z" clip-path="url(#p8a1bfb4084)" style="fill: #281eff; stroke: #281eff; stroke-width: 0.15"/>
</g>
<g id="patch_19">
<path d="M 251.79 48.78 L 253.73 48.54 L 254.69 49.74 L 254.21 51.43 L 253 52.16 L 251.79 51.43 L 251.31 49.98 z" clip-path="url(#p8a1bfb4084)" style="fill: #2c26ff; stroke: #2c26ff; stroke-width: 0.15"/>
</g>
<g id="patch_20">
<path d="M 237.06 50.71 L 238.75 50.23 L 239.48 51.43 L 238.99 52.64 L 240.2 53.61 L 241.65 55.06 L 242.62 56.26 L 241.17 56.75 L 239.72 56.99 L 238.27 57.23 L 238.51 56.02 L 238.75 54.57 L 238.03 53.61 L 237.3 52.16 z M 233.68 54.57 L 234.89 53.85 L 236.58 54.09 L 236.34 55.3 L 234.89 56.02 L 233.68 55.78 z M 248.8 63.75 L 249.38 63.51 L 249.62 66.65 L 248.9 66.89 z M 252.28 67.62 L 254.21 67.86 L 253.97 68.58 L 252.52 68.34 z" clip-path="url(#p8a1bfb4084)" style="fill: #1f00fd; stroke: #1f00fd; stroke-width: 0.15"/>
</g>
<g id="patch_21">
<path d="M 235.13 72.45 L 236.82 71 L 238.75 70.03 L 241.65 69.31 L 245.03 68.82 L 248.41 68.68 L 250.35 68.82 L 250.59 70.51 L 249.38 70.76 L 246.48 70.03 L 243.58 70.27 L 240.68 71 L 238.27 71.96 L 236.34 73.17 z" clip-path="url(#p8a1bfb4084)" style="fill: #4163ff; stroke: #4163ff; stroke-width: 0.15"/>
</g>
<g id="patch_22">
<path d="M 235.13 72.45 L 236.82 71 L 238.75 70.42 L 238.27 71.96 L 236.34 73.17 z" clip-path="url(#p8a1bfb4084)" style="fill: #1f00fd; stroke: #1f00fd; stroke-width: 0.15"/>
</g>
<g id="patch_23">
<path d="M 263.39 66.17 L 265.32 65.68 L 267.74 65.93 L 268.7 67.13 L 267.74 68.58 L 265.8 69.07 L 264.35 68.1 z" clip-path="url(#p8a1bfb4084)" style="fill: #3f5fff; stroke: #3f5fff; stroke-width: 0.15"/>
</g>
<g id="patch_24">
<path d="M 270.63 67.62 L 271.84 67.13 L 272.57 69.07 L 271.6 70.51 L 270.63 71.96 L 269.67 73.9 L 268.7 74.86 L 267.74 73.9 L 269.18 72.45 L 270.15 70.51 L 270.88 69.07 z" clip-path="url(#p8a1bfb4084)" style="fill: #2c26ff; stroke: #2c26ff; stroke-width: 0.15"/>
</g>
<g id="patch_25">
<path d="M 272.32 60.85 L 274.02 60.37 L 275.46 61.34 L 276.19 62.79 L 274.98 63.03 L 273.53 62.3 z M 278.36 58.44 L 279.33 58.2 L 280.54 60.37 L 279.81 60.85 z" clip-path="url(#p8a1bfb4084)" style="fill: #1f00fd; stroke: #1f00fd; stroke-width: 0.15"/>
</g>
<g id="patch_26">
<path d="M 275.46 59.65 L 277.88 59.16 L 278.12 59.89 L 275.71 60.37 z" clip-path="url(#p8a1bfb4084)" style="fill: #1c00d5; stroke: #1c00d5; stroke-width: 0.15"/>
</g>
<g id="patch_27">
<path d="M 278.12 44.91 L 281.26 43.46 L 284.64 42.74 L 289.47 42.5 L 294.3 42.74 L 298.65 42.74 L 299.13 43.95 L 298.65 45.4 L 296.72 44.91 L 294.3 43.95 L 291.89 43.95 L 290.44 45.4 L 290.2 47.81 L 289.96 50.23 L 290.68 52.64 L 288.99 54.09 L 287.06 54.57 L 285.13 55.06 L 283.19 55.54 L 281.26 56.51 L 279.81 57.96 L 278.36 58.44 L 279.33 56.51 L 280.3 54.57 L 281.26 52.64 L 280.78 50.71 L 281.26 48.78 L 283.19 47.33 L 284.64 46.12 L 283.68 45.88 L 281.74 46.6 L 279.81 46.36 L 278.36 45.64 z" clip-path="url(#p8a1bfb4084)" style="fill: #2600fb; stroke: #2600fb; stroke-width: 0.15"/>
</g>
<g id="patch_28">
<path d="M 281.02 49.26 L 283.19 48.78 L 286.09 48.29 L 289.47 48.05 L 290.05 50.23 L 290.68 52.64 L 288.99 54.09 L 287.06 54.57 L 285.13 55.06 L 283.19 54.57 L 281.74 53.12 L 280.78 51.19 z" clip-path="url(#p8a1bfb4084)" style="fill: #343eff; stroke: #343eff; stroke-width: 0.15"/>
</g>
<g id="patch_29">
<path d="M 279.33 56.51 L 280.3 54.57 L 281.74 53.12 L 283.19 54.57 L 283.19 55.54 L 281.26 56.51 L 279.81 57.96 L 278.36 58.44 z M 280.05 68.1 L 281.26 68.34 L 282.71 69.55 L 284.16 71.48 L 285.61 72.93 L 287.06 74.38 L 287.78 75.1 L 286.82 75.35 L 285.13 73.9 L 283.68 72.93 L 282.23 73.41 L 281.02 73.9 L 281.26 71.96 L 280.78 70.03 z M 310.49 39.6 L 311.94 39.6 L 312.9 41.05 L 314.83 41.92 L 317.73 42.11 L 320.87 42.4 L 320.87 43.7 L 318.7 43.46 L 316.28 43.22 L 314.35 43.95 L 312.42 44.91 L 310.97 44.43 L 311.69 42.98 L 310.73 41.53 z M 297.2 47.33 L 300.58 46.6 L 304.45 46.75 L 308.31 47.09 L 311.21 47.81 L 313.14 49.26 L 315.56 50.71 L 317.01 52.16 L 316.04 53.61 L 314.59 55.06 L 314.11 56.99 L 315.08 58.44 L 316.52 60.37 L 315.08 60.85 L 312.18 60.37 L 309.28 59.4 L 306.38 58.44 L 303.48 57.23 L 300.58 56.02 L 298.17 55.06 L 297.2 54.33 L 299.13 53.12 L 300.58 51.68 L 301.55 50.71 L 299.62 49.26 L 298.17 48.29 z" clip-path="url(#p8a1bfb4084)" style="fill: #1f00fd; stroke: #1f00fd; stroke-width: 0.15"/>
</g>
<g id="patch_30">
<path d="M 297.2 54.33 L 299.13 53.12 L 300.58 51.68 L 303 53.61 L 304.93 56.02 L 306.86 57.23 L 309.28 57.96 L 312.18 58.92 L 315.08 59.4 L 316.52 60.37 L 315.08 60.85 L 312.18 60.37 L 309.28 59.4 L 306.38 58.44 L 303.48 57.23 L 300.58 56.02 L 298.17 55.06 z" clip-path="url(#p8a1bfb4084)" style="fill: #1b00d1; stroke: #1b00d1; stroke-width: 0.15"/>
</g>
<g id="patch_31">
<path d="M 294.55 42.5 L 297.44 42.4 L 299.13 42.98 L 298.89 45.4 L 297.44 44.43 L 294.55 43.95 z" clip-path="url(#p8a1bfb4084)" style="fill: #2600fb; stroke: #2600fb; stroke-width: 0.15"/>
</g>
<g id="patch_32">
<path d="M 334.16 43.22 L 337.54 42.5 L 340.44 41.05 L 342.85 39.6 L 344.3 38.39 L 346.47 38.63 L 346.72 40.56 L 346.96 42.98 L 347.2 44.91 L 345.27 45.4 L 342.85 45.64 L 340.92 44.91 L 338.99 43.95 L 337.05 43.46 z M 359.76 47.81 L 360.72 45.88 L 361.21 43.95 L 363.14 42.98 L 366.04 42.5 L 369.9 42.01 L 373.77 41.53 L 376.67 41.77 L 379.08 42.5 L 380.53 43.46 L 378.6 43.95 L 376.18 44.91 L 373.77 45.88 L 371.35 46.84 L 368.94 47.57 L 366.04 48.29 L 363.14 48.54 L 361.21 48.54 z M 317.97 50.71 L 320.15 49.74 L 323.05 49.5 L 325.46 49.98 L 326.43 51.68 L 327.39 53.61 L 329.33 54.57 L 330.77 53.12 L 332.71 52.16 L 334.16 52.16 L 333.19 53.61 L 332.22 55.06 L 333.19 56.02 L 332.22 56.99 L 330.77 57.96 L 331.26 59.4 L 333.19 58.92 L 335.12 58.44 L 337.05 56.99 L 338.5 55.54 L 339.95 55.06 L 341.4 55.78 L 342.85 56.99 L 344.3 57.96 L 345.75 58.44 L 347.68 59.4 L 348.65 60.85 L 347.68 62.79 L 346.72 64.23 L 345.75 64.96 L 344.3 64.23 L 342.85 64.72 L 340.92 65.2 L 338.99 64.96 L 337.54 63.75 L 336.09 62.3 L 334.64 60.85 L 333.19 60.13 L 331.26 60.37 L 329.81 59.89 L 329.33 58.44 L 327.88 57.47 L 325.94 56.99 L 324.01 56.02 L 322.08 55.06 L 320.63 53.61 L 319.18 52.16 z M 350.1 57.96 L 351.06 56.02 L 352.51 55.06 L 354.93 54.33 L 356.38 55.06 L 356.62 56.51 L 355.41 58.44 L 353.48 59.4 L 351.55 58.92 z" clip-path="url(#p8a1bfb4084)" style="fill: #1f00fd; stroke: #1f00fd; stroke-width: 0.15"/>
</g>
<g id="patch_33">
<path d="M 355.89 62.79 L 357.34 61.58 L 358.79 62.3 L 360.24 62.79 L 359.28 63.99 L 357.34 64.23 L 356.14 63.99 z" clip-path="url(#p8a1bfb4084)" style="fill: #2300eb; stroke: #2300eb; stroke-width: 0.15"/>
</g>
<g id="patch_34">
<path d="M 347.68 71.96 L 349.13 70.51 L 351.55 70.03 L 353.48 69.07 L 355.41 67.62 L 356.14 65.2 L 357.1 65.2 L 357.34 67.62 L 356.38 69.55 L 354.44 70.51 L 352.51 71 L 350.58 71.48 L 348.89 72.45 L 348.17 73.41 z" clip-path="url(#p8a1bfb4084)" style="fill: #4674ff; stroke: #4674ff; stroke-width: 0.15"/>
</g>
<g id="patch_35">
<path d="M 354.44 68.1 L 355.41 67.62 L 356.14 65.2 L 357.1 65.2 L 357.34 67.62 L 356.38 69.55 L 354.93 70.03 z" clip-path="url(#p8a1bfb4084)" style="fill: #1c07ff; stroke: #1c07ff; stroke-width: 0.15"/>
</g>
<g id="patch_36">
<path d="M 344.78 67.62 L 345.75 66.65 L 346.96 67.62 L 347.2 69.55 L 346.23 70.51 L 345.03 70.51 z" clip-path="url(#p8a1bfb4084)" style="fill: #1f00fd; stroke: #1f00fd; stroke-width: 0.15"/>
</g>
<g id="patch_37">
<path d="M 308.07 70.51 L 310.49 69.55 L 313.38 68.1 L 315.8 67.13 L 318.7 66.89 L 321.11 67.62 L 322.56 69.07 L 322.32 70.03 L 319.66 69.55 L 317.25 69.31 L 315.32 70.03 L 312.9 71 L 310.49 71.24 L 308.55 71 z" clip-path="url(#p8a1bfb4084)" style="fill: #2400fb; stroke: #2400fb; stroke-width: 0.15"/>
</g>
<g id="patch_38">
<path d="M 299.62 72.93 L 300.58 71.48 L 302.03 70.27 L 303.48 71.24 L 305.41 72.21 L 307.35 73.17 L 308.55 73.9 L 306.38 73.9 L 303.97 73.65 L 301.55 74.38 L 299.86 75.1 z M 328.36 71.48 L 330.29 70.51 L 332.71 69.55 L 335.12 68.58 L 338.02 68.1 L 340.92 68.1 L 341.64 68.58 L 339.95 69.07 L 338.02 69.79 L 336.57 70.51 L 338.5 71.48 L 339.95 72.45 L 340.92 73.9 L 341.16 75.83 L 339.95 77.28 L 338.5 78.24 L 337.05 77.76 L 338.02 76.31 L 338.99 74.86 L 338.5 73.41 L 337.05 72.45 L 335.61 71.96 L 334.64 72.93 L 336.09 73.9 L 335.85 74.86 L 334.16 74.14 L 332.71 73.17 L 330.77 72.45 L 328.84 72.21 z M 325.46 78.24 L 327.39 77.52 L 329.81 77.76 L 332.22 78.24 L 334.88 78.49 L 334.64 79.93 L 333.19 80.66 L 331.26 80.9 L 329.33 81.38 L 327.88 80.66 L 326.43 79.69 z M 296.72 77.52 L 297.44 77.28 L 297.69 78.49 L 296.96 78.73 z" clip-path="url(#p8a1bfb4084)" style="fill: #1f00fd; stroke: #1f00fd; stroke-width: 0.15"/>
</g>
<g id="patch_39">
<path d="M 299.62 80.91 L 301.31 79.22 L 303.24 79.7 L 305.66 79.95 L 308.55 80.19 L 310.97 79.7 L 313.38 79.22 L 314.83 79.95 L 315.32 80.91 L 313.87 82.12 L 312.42 82.84 L 310.97 83.81 L 309.52 85.26 L 308.07 86.23 L 307.35 87.68 L 307.1 89.61 L 306.14 91.06 L 304.93 92.51 L 304.21 91.54 L 303.48 89.61 L 302.52 87.19 L 301.79 84.78 L 301.31 82.36 L 300.34 81.15 z" clip-path="url(#p8a1bfb4084)" style="fill: #2600fb; stroke: #2600fb; stroke-width: 0.15"/>
</g>
<g id="patch_40">
<path d="M 301.31 79.95 L 303.24 79.95 L 305.66 80.43 L 308.07 80.91 L 307.59 82.36 L 308.55 84.29 L 307.83 85.74 L 306.62 86.71 L 305.66 88.16 L 305.17 90.09 L 304.45 91.78 L 303.48 89.61 L 302.52 87.19 L 301.79 84.78 L 301.31 82.36 z" clip-path="url(#p8a1bfb4084)" style="fill: #3e5bff; stroke: #3e5bff; stroke-width: 0.15"/>
</g>
<g id="patch_41">
<path d="M 310.49 79.95 L 313.38 79.22 L 314.83 79.95 L 315.32 80.91 L 313.87 82.12 L 312.42 82.36 L 310.97 81.4 z" clip-path="url(#p8a1bfb4084)" style="fill: #1a00cc; stroke: #1a00cc; stroke-width: 0.15"/>
</g>
<g id="patch_42">
<path d="M 306.86 91.78 L 307.83 91.54 L 308.46 93.23 L 307.83 94.44 L 307.01 93.96 z" clip-path="url(#p8a1bfb4084)" style="fill: #2700f8; stroke: #2700f8; stroke-width: 0.15"/>
</g>
<g id="patch_43">
<path d="M 315.08 78.26 L 316.77 78.01 L 318.22 78.74 L 318.7 80.67 L 318.94 82.6 L 319.42 84.78 L 318.7 84.29 L 317.97 82.12 L 316.77 80.19 L 315.56 79.22 z M 318.22 71.49 L 319.66 71.98 L 321.11 73.43 L 322.08 75.36 L 322.8 77.77 L 323.53 79.7 L 324.5 80.91 L 326.43 82.36 L 328.36 84.29 L 329.81 86.23 L 330.77 88.16 L 330.53 90.09 L 328.84 91.06 L 327.39 92.02 L 326.43 90.57 L 324.98 89.12 L 323.53 88.16 L 323.05 90.09 L 322.56 92.02 L 323.53 93.96 L 324.98 95.89 L 326.19 97.82 L 325.46 98.3 L 324.01 96.37 L 322.56 94.44 L 321.84 92.02 L 322.08 89.61 L 322.32 87.19 L 322.08 84.78 L 322.56 82.36 L 323.05 80.43 L 322.56 78.5 L 321.84 76.08 L 321.11 74.15 L 320.15 72.7 z" clip-path="url(#p8a1bfb4084)" style="fill: #1f00fd; stroke: #1f00fd; stroke-width: 0.15"/>
</g>
<g id="patch_44">
<path d="M 323.53 83.81 L 326.43 83.33 L 328.84 85.26 L 330.05 87.19 L 330.29 89.61 L 328.36 90.57 L 326.91 89.61 L 328.36 89.12 L 327.88 87.43 L 325.46 87.68 L 324.01 86.71 z" clip-path="url(#p8a1bfb4084)" style="fill: #2213ff; stroke: #2213ff; stroke-width: 0.15"/>
</g>
<g id="patch_45">
<path d="M 339.71 84.54 L 340.92 84.05 L 341.4 85.26 L 341.16 86.71 L 342.37 88.16 L 343.82 89.61 L 344.78 91.54 L 344.78 93.47 L 343.82 94.68 L 342.85 93.96 L 343.09 92.51 L 342.13 91.06 L 340.92 89.61 L 339.95 87.68 L 339.47 86.23 z M 335.12 100.72 L 336.33 100.23 L 335.61 102.41 z" clip-path="url(#p8a1bfb4084)" style="fill: #1f00fd; stroke: #1f00fd; stroke-width: 0.15"/>
</g>
<g id="patch_46">
<path d="M 325.22 101.68 L 327.15 101.44 L 327.39 103.13 L 325.7 103.37 z" clip-path="url(#p8a1bfb4084)" style="fill: #0f0099; stroke: #0f0099; stroke-width: 0.15"/>
</g>
<g id="patch_47">
<path d="M 327.88 104.58 L 330.29 104.68 L 333.19 105.31 L 335.61 106.27 L 335.36 106.76 L 332.71 106.13 L 329.81 105.79 L 328.12 105.31 z" clip-path="url(#p8a1bfb4084)" style="fill: #343eff; stroke: #343eff; stroke-width: 0.15"/>
</g>
<g id="patch_48">
<path d="M 266.53 73.43 L 267.74 73.91 L 268.7 75.36 L 269.18 77.29 L 270.15 79.22 L 270.63 81.15 L 271.12 83.09 L 270.15 84.05 L 269.18 84.78 L 268.22 85.98 L 268.7 87.68 L 269.43 89.61 L 269.91 91.54 L 268.7 92.02 L 267.25 91.06 L 266.29 89.61 L 265.32 88.16 L 264.6 86.71 L 264.11 84.78 L 263.87 83.33 L 265.08 82.36 L 266.29 81.64 L 267.25 80.19 L 267.25 77.77 L 266.77 75.36 z" clip-path="url(#p8a1bfb4084)" style="fill: #3a50ff; stroke: #3a50ff; stroke-width: 0.15"/>
</g>
<g id="patch_49">
<path d="M 266.53 92.26 L 267.25 93.47 L 268.22 95.4 L 269.67 96.85 L 270.63 98.79 L 270.73 101.2 L 269.67 102.17 L 268.22 102.41 L 266.77 102.65 L 265.8 101.68 L 265.56 99.75 L 266.04 97.82 L 266.53 95.89 L 266.29 93.96 z M 271.6 100.23 L 272.57 99.51 L 274.02 99.75 L 274.74 101.2 L 274.5 103.13 L 274.02 105.07 L 273.53 106.03 L 272.08 105.55 L 271.12 104.58 L 271.6 103.13 L 271.84 101.68 z M 229.57 85.26 L 231.51 85.02 L 231.99 86.23 L 232.47 88.16 L 233.44 89.61 L 234.89 89.12 L 236.34 88.16 L 238.03 87.77 L 237.79 88.4 L 236.34 88.88 L 235.37 90.57 L 234.89 91.78 L 233.44 92.02 L 232.47 90.57 L 231.51 88.64 L 230.54 86.71 z M 239.96 87.92 L 241.17 88.16 L 241.89 90.09 L 241.41 91.78 L 240.2 91.78 L 239.72 90.09 z M 239.24 93.96 L 240.68 93.71 L 241.75 94.44 L 240.68 95.16 L 239.14 95.02 z M 262.64 118.69 L 264.09 117.96 L 265.54 118.69 L 266.99 118.93 L 268.44 119.65 L 268.92 121.1 L 267.95 122.55 L 268.44 123.52 L 267.47 124.97 L 266.02 126.42 L 264.57 127.38 L 263.12 127.96 L 261.67 127.62 L 261.43 126.42 L 262.64 125.93 L 264.09 125.45 L 265.05 124.48 L 263.61 124.48 L 262.16 124 L 260.95 123.04 L 261.67 121.59 L 262.64 120.62 z M 255.39 123.52 L 256.36 124.48 L 257.81 124.97 L 258.29 126.42 L 258.77 128.35 L 257.81 128.83 L 256.84 127.87 L 256.36 126.42 L 255.88 124.97 z M 354.69 127.62 L 355.41 126.42 L 357.34 125.69 L 358.31 126.42 L 359.76 126.18 L 362.17 126.42 L 363.62 126.9 L 364.59 125.93 L 365.8 124.97 L 366.52 125.45 L 366.04 126.9 L 365.07 128.35 L 364.11 130.28 L 362.17 131.73 L 360.72 131.97 L 358.79 131.73 L 356.86 131.25 L 355.41 129.8 z M 382.7 128.59 L 383.67 129.07 L 384.39 130.28 L 385.36 131.49 L 387.05 131.25 L 386.57 132.45 L 385.36 133.42 L 384.39 134.15 L 383.67 133.18 L 383.91 131.73 L 383.19 130.28 z M 377.39 137.77 L 378.6 136.56 L 380.53 135.35 L 381.98 134.15 L 383.43 133.9 L 383.19 135.11 L 381.98 136.32 L 380.53 137.77 L 379.08 138.73 L 377.63 138.49 z" clip-path="url(#p8a1bfb4084)" style="fill: #1f00fd; stroke: #1f00fd; stroke-width: 0.15"/>
</g>
<g id="patch_50">
<path d="M 136.56 52.06 L 138.73 51.92 L 138.98 53.85 L 137.04 53.99 z M 174.82 60.37 L 177.38 60.18 L 177.72 62.3 L 175.21 62.59 z M 203.71 104.92 L 205.4 103.81 L 207.33 104.29 L 208.3 105.74 L 207.33 107.58 L 206.36 109.99 L 207.33 110.96 L 206.36 112.02 L 204.67 111.92 L 204.19 109.99 L 204.91 108.06 L 203.95 106.61 z M 200.08 101.3 L 201.29 100.81 L 201.77 103.23 L 201.53 106.13 L 200.81 109.03 L 199.99 109.51 L 200.32 106.13 L 200.23 103.71 z M 195.25 126.18 L 198.15 125.69 L 199.36 126.66 L 198.15 128.35 L 195.74 128.59 L 194.53 127.62 z M 261.94 59.16 L 263.87 58.92 L 265.32 60.37 L 264.84 61.82 L 263.39 61.58 L 262.42 60.61 z M 253.49 44.67 L 255.18 44.19 L 255.9 45.15 L 254.69 46.12 L 253.73 45.64 z M 282.23 46.12 L 284.64 46.27 L 287.06 47.91 L 284.64 48.68 L 282.23 48.54 L 281.5 47.57 z M 303 53.61 L 306.38 53.12 L 308.31 53.37 L 308.07 55.54 L 306.86 57.23 L 304.93 56.02 z M 325.46 87.77 L 327.88 87.53 L 328.36 89.12 L 326.43 89.85 z M 341.16 88.16 L 342.37 89.12 L 343.33 91.06 L 342.61 91.3 L 341.64 89.85 z" clip-path="url(#p8a1bfb4084)" style="fill: #d3d3d3; stroke: #d3d3d3; stroke-width: 0.15"/>
</g>
<g id="patch_51">
<path d="M 106.13 273.62 L 107.82 272.17 L 110.96 271.59 L 114.82 271.5 L 118.2 271.98 L 120.62 272.66 L 125.45 272.95 L 130.28 272.95 L 135.11 272.71 L 139.94 272.56 L 144.77 272.85 L 149.6 273.82 L 155.4 274.11 L 160.23 273.91 L 165.06 273.62 L 168.93 273.14 L 170.86 273.62 L 171.24 274.98 L 168.93 276.91 L 166.99 278.84 L 165.54 280.77 L 165.16 282.22 L 166.03 283.28 L 168.44 284.64 L 171.34 285.84 L 173.76 287.29 L 175.69 288.74 L 177.23 290.53 L 178.1 288.5 L 177.86 285.12 L 178.59 282.22 L 179.17 279.81 L 181 278.94 L 183.42 279.32 L 185.83 280.29 L 187.77 281.26 L 189.21 280.77 L 190.66 282.7 L 192.6 284.15 L 195.01 285.6 L 196.46 286.57 L 196.07 287.78 L 194.53 288.12 L 192.6 288.02 L 190.66 287.54 L 189.7 288.5 L 189.21 289.95 L 187.28 289.95 L 185.35 290.68 L 184.38 291.88 L 186.32 291.88 L 188.73 291.88 L 189.94 292.61 L 188.01 293.82 L 190.66 292.95 L 192.98 292.27 L 193.18 292.95 L 191.15 293.91 L 188.73 294.64 L 187.28 294.3 L 185.35 294.78 L 183.9 295.75 L 182.93 296.96 L 181.49 297.92 L 180.52 299.61 L 180.04 301.3 L 178.59 302.51 L 177.14 303.72 L 175.93 304.68 L 175.45 306.13 L 175.93 307.58 L 176.56 309.27 L 175.93 309.85 L 175.21 308.55 L 174.48 306.62 L 173.76 305.65 L 171.82 305.65 L 169.89 305.8 L 167.96 306.13 L 166.03 306.62 L 164.1 307.34 L 162.89 308.55 L 162.4 310.72 L 162.89 312.9 L 164.1 314.59 L 166.03 315.55 L 167.96 315.07 L 168.44 313.62 L 169.41 313.14 L 170.86 313.23 L 170.62 314.59 L 170.13 316.52 L 171.82 317.49 L 173.76 318.21 L 174 319.66 L 173.9 321.11 L 172.94 321.59 L 173.42 322.56 L 174.87 323.28 L 176.32 324.01 L 177.77 323.76 L 179.22 324.49 L 178.73 325.21 L 176.8 324.97 L 174.87 324.01 L 172.94 323.04 L 171.97 322.07 L 171.49 320.63 L 169.55 319.66 L 167.62 318.69 L 165.69 317.49 L 164.24 317.73 L 162.31 317.49 L 159.89 316.28 L 157.96 315.31 L 156.03 314.35 L 156.03 313.38 L 154.58 311.93 L 153.61 311.21 L 152.16 309.27 L 150.71 307.34 L 149.51 305.41 L 148.3 303.23 L 147.19 301.79 L 145.74 300.58 L 144.29 299.13 L 142.84 297.68 L 141.63 296.23 L 140.91 294.78 L 141.15 292.85 L 141.87 290.92 L 140.91 289.95 L 139.46 288.98 L 138.01 288.02 L 137.04 286.57 L 136.08 285.36 L 134.63 284.64 L 133.18 283.67 L 131.73 282.46 L 130.28 281.26 L 129.31 280.29 L 127.38 280.05 L 125.45 280.29 L 123.04 280.53 L 120.62 280.77 L 118.69 281.26 L 117.24 282.22 L 116.76 283.19 L 115.79 283.67 L 114.82 282.95 L 113.37 283.09 L 110.96 284.25 L 107.82 285.51 L 108.06 285.02 L 110.96 283.67 L 112.89 282.61 L 114.24 281.5 L 112.41 281.26 L 110.48 280.53 L 108.78 279.81 L 108.06 278.84 L 108.54 277.87 L 107.58 276.91 L 106.13 276.43 L 105.65 275.46 L 106.61 274.73 z M 146.61 302.18 L 147.57 301.8 L 148.78 305.18 L 150.23 307.35 L 151.68 309.53 L 152.89 311.46 L 152.41 311.75 L 150.96 309.77 L 149.51 307.69 L 148.06 305.57 L 147.09 303.73 z M 95.26 273.62 L 96.95 273.62 L 99.85 274.49 L 102.75 275.46 L 102.51 276.67 L 100.33 276.52 L 97.43 275.7 L 95.4 274.98 z M 182.72 265.56 L 184.89 264.74 L 192.62 264.59 L 207.11 264.45 L 219.19 264.54 L 225.71 264.74 L 225.95 266.28 L 225.47 268.21 L 224.02 269.9 L 223.05 271.35 L 220.64 272.32 L 217.74 273.29 L 214.84 274.25 L 212.43 274.98 L 210.01 275.7 L 208.08 276.91 L 207.11 278.6 L 206.39 280.29 L 205.18 280.53 L 203.73 279.57 L 202.28 278.36 L 200.83 276.91 L 199.62 275.22 L 198.66 273.53 L 199.38 272.56 L 197.45 271.84 L 198.18 270.87 L 196.97 269.66 L 195.52 268.7 L 193.59 267.97 L 191.17 267.49 L 188.76 267.25 L 186.34 267.01 L 184.41 266.52 z M 222.81 275.85 L 224.5 275.36 L 227.4 275.46 L 230.06 275.7 L 230.3 276.67 L 228.85 277.39 L 226.43 277.78 L 224.02 277.39 L 222.96 276.67 z M 168.95 270.15 L 173.3 269.57 L 177.65 269.9 L 181.51 271.35 L 184.41 272.56 L 186.34 273.77 L 189.24 274.73 L 190.69 275.46 L 189.96 276.43 L 187.79 276.91 L 188.76 278.12 L 186.82 278.36 L 184.41 277.15 L 181.99 276.43 L 178.61 276.91 L 179.58 275.46 L 177.65 274.49 L 175.23 273.53 L 172.33 272.56 L 169.43 271.84 z M 165.57 264.83 L 170.88 264.45 L 179.58 264.74 L 180.06 265.56 L 175.71 266.04 L 172.33 266.76 L 170.4 266.28 L 166.53 265.8 z M 166.53 267.25 L 171.37 267.01 L 176.2 267.73 L 175.71 268.7 L 170.88 268.45 L 167.02 268.21 z M 171.85 275.94 L 174.75 275.7 L 175.47 276.91 L 174.02 277.87 L 172.09 277.39 z M 139.94 269.42 L 142.84 268.94 L 147.19 269.42 L 150.57 270.53 L 154.43 270.39 L 155.88 269.66 L 159.26 269.57 L 161.2 270.63 L 160.23 272.32 L 156.37 273.04 L 151.54 272.8 L 147.19 272.17 L 142.84 271.84 L 140.43 270.87 z M 142.84 266.76 L 145.74 266.04 L 148.64 266.52 L 148.15 267.73 L 144.77 267.97 z M 150.09 265.07 L 154.43 265.56 L 155.88 266.76 L 153.95 268.21 L 150.57 267.25 z M 156.37 264.59 L 160.23 264.35 L 162.65 265.31 L 161.2 266.28 L 157.33 266.04 z M 159.26 266.76 L 162.16 267.01 L 163.13 268.21 L 161.2 268.94 L 159.26 268.21 z M 163.13 269.9 L 166.99 270.39 L 168.93 269.9 L 170.86 270.63 L 169.89 272.32 L 166.99 272.56 L 164.1 271.84 z M 165.06 264.83 L 170.86 264.59 L 179.55 264.83 L 180.04 265.56 L 175.69 266.52 L 170.86 267.25 L 166.99 266.76 L 165.54 265.8 z M 168.93 268.21 L 172.79 267.73 L 176.65 268.21 L 176.17 269.18 L 171.82 269.42 L 169.41 269.08 z M 195.28 288.26 L 196.97 289.47 L 198.42 290.43 L 198.9 291.64 L 197.45 291.5 L 195.52 291.21 L 194.07 290.68 L 194.79 289.47 z M 172.94 312.04 L 175.35 311.7 L 177.77 312.33 L 179.7 313.15 L 179.46 313.78 L 177.28 313.15 L 174.87 312.67 L 173.18 312.67 z M 182.11 314.74 L 184.53 314.6 L 186.46 315.32 L 186.22 316.05 L 183.8 315.9 L 182.21 315.57 z M 187.19 315.32 L 188.39 315.32 L 188.39 316.05 L 187.19 316.05 z M 177.28 314.84 L 178.73 314.74 L 178.83 315.32 L 177.38 315.42 z M 191.29 316.29 L 192.16 316.53 L 192.35 318.22 L 191.68 318.22 z M 179.22 324.5 L 180.18 322.81 L 181.63 321.84 L 183.56 320.88 L 184.05 321.84 L 185.01 321.6 L 185.98 322.09 L 187.91 322.33 L 190.33 322.09 L 192.02 322.81 L 192.5 323.78 L 193.71 324.98 L 195.64 325.95 L 197.57 326.43 L 199.5 327.4 L 200.47 328.85 L 200.95 330.06 L 202.4 331.02 L 203.37 331.75 L 205.3 332.47 L 207.72 333.2 L 210.13 334.16 L 212.06 335.37 L 213.27 336.58 L 213.51 338.03 L 212.64 339.33 L 211.68 340.54 L 210.71 341.99 L 210.23 343.44 L 209.99 345.37 L 209.26 347.3 L 208.3 348.75 L 207.33 349.96 L 205.4 350.68 L 203.46 351.65 L 202.5 352.62 L 202.26 354.06 L 201.77 355.51 L 200.57 356.96 L 199.6 358.41 L 198.63 359.38 L 197.18 360.34 L 195.74 361.31 L 195.25 362.28 L 193.8 363.24 L 191.87 363.73 L 190.91 364.69 L 190.42 366.14 L 189.21 367.35 L 188.01 368.56 L 186.8 370.01 L 188.01 370.97 L 187.28 371.94 L 186.07 373.87 L 185.35 375.08 L 186.56 376.04 L 188.49 376.77 L 187.04 377.16 L 185.11 377.25 L 183.18 376.77 L 181.73 375.8 L 181 374.35 L 180.66 372.42 L 181 370.49 L 181.73 368.56 L 182.21 366.62 L 181.82 365.18 L 182.21 362.76 L 183.18 360.83 L 183.42 358.9 L 183.66 356.48 L 184.05 354.06 L 184.38 352.13 L 184.63 350.2 L 184.87 348.27 L 184.63 346.34 L 183.18 345.13 L 181.24 343.92 L 179.79 342.23 L 179.07 340.06 L 177.86 338.12 L 176.41 336.19 L 175.93 334.26 L 176.41 331.84 L 177.38 329.91 L 178.59 327.98 L 178.93 326.05 z M 191.87 374.11 L 194.29 373.87 L 194.53 374.59 L 192.11 374.74 z M 233.92 305.18 L 236.34 304.21 L 238.75 302.76 L 241.65 302.04 L 245.03 301.56 L 248.41 301.41 L 250.59 301.56 L 250.83 302.52 L 253.24 303.73 L 256.14 304.21 L 258.07 303.73 L 260.01 304.21 L 262.91 304.94 L 265.8 305.42 L 267.25 305.18 L 268.46 306.15 L 268.22 307.11 L 269.18 309.04 L 270.63 311.46 L 271.6 313.87 L 272.57 315.81 L 274.02 317.74 L 275.46 319.19 L 276.91 320.64 L 277.88 321.12 L 280.3 320.64 L 282.71 320.15 L 283.44 321.6 L 282.44 323.15 L 281 325.08 L 279.55 326.53 L 277.61 328.46 L 275.68 330.39 L 274.72 331.84 L 274.96 333.78 L 274.47 335.71 L 273.75 337.64 L 273.99 339.09 L 274.72 341.02 L 274.96 342.95 L 274.23 344.4 L 272.78 345.85 L 271.33 347.3 L 270.13 348.75 L 270.61 350.68 L 269.89 351.65 L 268.92 353.1 L 267.95 355.03 L 266.5 356.96 L 265.05 358.41 L 263.12 359.38 L 261.19 359.86 L 258.77 360.34 L 257.33 359.38 L 256.36 357.45 L 255.39 355.03 L 254.43 353.1 L 253.94 351.17 L 252.98 348.75 L 252.01 346.82 L 251.53 344.89 L 252.01 342.95 L 252.98 341.02 L 252.5 338.61 L 251.53 336.19 L 250.32 334.26 L 249.36 332.33 L 249.6 330.39 L 249.36 328.46 L 248.15 327.01 L 246.22 326.05 L 244.28 325.56 L 241.87 326.05 L 238.97 327.01 L 237.04 326.53 L 235.1 327.01 L 232.21 325.08 L 230.76 323.15 L 229.57 321.6 L 228.12 319.67 L 227.64 317.26 L 227.88 314.84 L 228.61 312.43 L 229.09 310.49 L 230.06 308.56 L 231.51 306.63 L 232.96 305.66 z M 281.72 341.51 L 282.69 342.47 L 282.44 344.89 L 281.72 347.3 L 280.75 350.2 L 279.79 352.13 L 278.1 352.37 L 277.13 350.2 L 277.86 347.3 L 278.58 345.37 L 280.03 343.44 z M 234.4 299.13 L 234.16 297.2 L 234.65 295.26 L 236.82 294.78 L 239.24 295.02 L 240.68 294.3 L 240.93 292.37 L 241.17 290.92 L 239.96 289.95 L 239.48 289.23 L 241.17 288.98 L 242.62 288.89 L 243.58 288.6 L 245.03 287.78 L 246.48 287.05 L 248.41 286.57 L 249.38 285.84 L 249.86 285.12 L 249.38 283.67 L 249.62 282.95 L 250.59 282.7 L 251.31 283.91 L 252.28 285.12 L 254.21 285.6 L 256.14 285.84 L 257.59 286.09 L 259.04 285.12 L 260.49 283.67 L 260.01 282.22 L 260.97 281.26 L 262.91 281.01 L 265.32 280.53 L 264.84 280.05 L 262.42 280.29 L 260.49 280.05 L 259.52 279.08 L 260.01 277.87 L 260.97 276.91 L 262.18 275.94 L 262.42 275.46 L 260.49 275.94 L 259.04 277.15 L 257.59 278.36 L 256.63 279.81 L 256.14 281.26 L 255.18 282.7 L 254.21 283.67 L 252.76 284.15 L 251.31 283.67 L 250.83 282.22 L 249.86 281.26 L 248.41 281.74 L 246.96 281.5 L 246.09 280.53 L 246 279.57 L 248.41 278.12 L 250.83 276.91 L 253.24 274.73 L 254.21 273.62 L 257.11 273.29 L 260.97 273.43 L 264.84 273.62 L 266.29 274.25 L 267.74 273.62 L 270.15 273.04 L 272.57 272.8 L 274.5 273.29 L 275.46 274.25 L 274.98 275.46 L 274.02 276.43 L 275.46 276.91 L 276.91 276.43 L 277.88 275.46 L 278.85 274.49 L 281.26 274.73 L 284.64 274.11 L 289.47 273.91 L 294.3 274.11 L 296.72 273.62 L 297.69 272.08 L 296.72 270.87 L 298.65 270.15 L 301.07 270.39 L 302.52 272.08 L 302.03 274.01 L 302.27 273.53 L 303.24 271.84 L 306.14 270.63 L 309.04 269.42 L 312.42 268.21 L 316.28 267.49 L 320.63 267.01 L 324.98 266.28 L 328.36 266.38 L 332.22 267.01 L 334.64 267.49 L 333.19 268.21 L 336.09 269.18 L 340.44 269.57 L 345.27 269.66 L 350.1 270.15 L 354.93 270.39 L 356.86 269.9 L 359.76 270.15 L 364.59 271.11 L 369.42 271.84 L 374.25 272.32 L 379.08 272.56 L 381.5 272.32 L 386.33 272.56 L 388.26 273.62 L 388.26 275.94 L 387.29 277.63 L 385.36 278.36 L 382.95 278.84 L 380.53 279.57 L 377.63 280.29 L 375.7 281.26 L 374.25 282.46 L 373.77 284.15 L 371.83 285.6 L 369.9 287.29 L 369.18 288.02 L 368.94 286.09 L 368.7 284.15 L 369.9 282.7 L 371.83 281.26 L 373.77 280.05 L 374.73 279.32 L 372.8 279.57 L 369.9 280.29 L 367 280.77 L 364.11 281.01 L 362.17 281.26 L 359.76 281.74 L 357.34 282.7 L 355.41 283.67 L 353.96 284.64 L 356.86 286.09 L 356.62 288.02 L 355.41 289.95 L 353.48 290.92 L 351.55 291.88 L 350.1 293.33 L 348.65 294.78 L 347.2 295.75 L 345.75 296.47 L 346.96 296.96 L 346.72 298.16 L 347.2 300.1 L 346.96 301.54 L 345.27 302.27 L 344.54 301.06 L 344.78 299.13 L 344.3 297.68 L 342.85 297.44 L 341.4 298.16 L 341.64 299.61 L 339.95 300.1 L 340.92 301.54 L 341.16 303.48 L 341.4 305.89 L 340.44 307.82 L 338.99 309.27 L 338.02 309.76 L 336.57 309.27 L 335.61 310.72 L 334.64 312.17 L 333.19 312.9 L 331.74 313.62 L 330.29 314.1 L 329.33 313.62 L 329.33 315.32 L 329.81 317.74 L 330.77 319.67 L 330.53 321.6 L 328.84 322.57 L 327.39 323.54 L 326.43 322.09 L 324.98 320.64 L 323.53 319.67 L 323.05 321.6 L 322.56 323.54 L 323.53 325.47 L 324.98 327.4 L 326.19 329.33 L 325.46 329.82 L 324.01 327.88 L 322.56 325.95 L 321.84 323.54 L 322.08 321.12 L 322.32 318.7 L 322.08 316.29 L 321.6 314.84 L 320.63 313.39 L 319.66 315.81 L 319.42 316.29 L 318.7 314.12 L 318.22 311.46 L 317.25 310.49 L 315.32 312.43 L 313.87 313.63 L 312.42 314.36 L 310.97 315.32 L 309.52 316.77 L 308.07 317.74 L 307.35 319.19 L 307.1 321.12 L 306.14 322.57 L 304.93 324.02 L 304.21 323.05 L 303.48 321.12 L 302.52 318.7 L 301.79 316.29 L 301.31 313.87 L 300.34 312.67 L 299.62 312.43 L 299.13 310.98 L 297.69 309.53 L 295.75 310.01 L 293.34 310.25 L 290.92 310.01 L 288.99 309.53 L 287.54 309.04 L 285.61 308.08 L 283.68 306.63 L 281.74 305.18 L 281.02 305.18 L 280.78 305.66 L 281.26 306.63 L 282.23 307.59 L 283.68 309.04 L 285.13 310.01 L 286.57 309.53 L 287.54 310.49 L 288.99 311.46 L 290.44 312.43 L 289.47 313.87 L 287.54 315.81 L 285.13 317.26 L 282.71 318.7 L 280.3 319.67 L 277.88 320.64 L 276.91 319.67 L 275.95 317.74 L 274.5 315.32 L 273.05 312.91 L 271.6 310.49 L 270.15 308.08 L 269.18 306.63 L 270.15 305.9 L 271.12 304.7 L 271.12 304.44 L 271.36 302.03 L 271.6 300.34 L 270.15 300.1 L 268.7 300.67 L 266.77 300.58 L 265.32 300.82 L 263.87 300.34 L 263.15 299.13 L 262.91 297.68 L 263.63 296.71 L 264.35 295.75 L 262.91 296.47 L 261.94 296.71 L 262.42 298.16 L 262.66 299.61 L 261.94 300.58 L 261.21 301.06 L 260.49 299.61 L 259.52 298.16 L 258.56 297.2 L 257.59 296.23 L 256.63 295.26 L 255.66 294.54 L 254.69 294.06 L 253.49 293.43 L 252.28 293.09 L 251.7 293.82 L 252.76 294.78 L 253.73 295.75 L 254.69 296.71 L 255.9 297.44 L 256.38 298.4 L 255.42 299.13 L 255.18 298.16 L 253.73 297.2 L 252.28 296.23 L 251.31 295.26 L 250.59 294.3 L 249.86 293.33 L 248.41 292.85 L 246.96 293.33 L 245.51 294.3 L 244.07 294.78 L 243.1 295.75 L 242.13 297.2 L 241.65 298.65 L 240.68 299.61 L 238.75 300.1 L 236.82 300.1 L 234.89 300 z M 237.06 282.22 L 238.75 281.74 L 239.48 282.95 L 238.99 284.15 L 240.2 285.12 L 241.65 286.57 L 242.62 287.78 L 241.17 288.26 L 239.72 288.5 L 238.27 288.74 L 238.51 287.54 L 238.75 286.09 L 238.03 285.12 L 237.3 283.67 z M 233.68 286.09 L 234.89 285.36 L 236.58 285.6 L 236.34 286.81 L 234.89 287.54 L 233.68 287.29 z M 248.8 295.26 L 249.38 295.02 L 249.62 298.16 L 248.9 298.4 z M 252.28 299.13 L 254.21 299.37 L 253.97 300.1 L 252.52 299.85 z M 262.91 302.03 L 264.84 301.93 L 264.93 302.41 L 263 302.51 z M 268.46 301.3 L 269.67 301.06 L 269.76 301.79 L 268.61 301.93 z M 251.07 264.74 L 255.42 264.35 L 260.73 265.07 L 261.21 265.8 L 258.32 266.04 L 255.42 266.76 L 253.97 266.38 L 252.52 265.56 z M 284.16 270.63 L 286.09 268.94 L 288.99 267.73 L 292.85 267.01 L 297.2 266.76 L 297.44 267.49 L 293.34 267.97 L 289.96 268.7 L 287.54 269.9 L 285.61 271.35 z M 318.46 264.59 L 323.29 264.35 L 327.15 264.83 L 326.67 265.56 L 322.8 265.41 L 318.94 265.31 z M 318.7 264.74 L 322.56 264.35 L 326.91 264.83 L 327.39 265.56 L 323.53 265.7 L 319.66 265.56 z M 353.48 267.73 L 357.34 267.34 L 359.76 267.73 L 364.11 268.21 L 363.62 268.79 L 359.28 268.6 L 354.44 268.6 z M 387.29 271.11 L 388.74 271.21 L 388.65 271.84 L 387.39 271.79 z M 357.34 286.09 L 358.07 286.33 L 358.41 288.98 L 358.21 291.88 L 357.58 291.88 L 357.44 288.98 z M 355.89 294.3 L 357.34 293.09 L 358.79 293.82 L 360.24 294.3 L 359.28 295.51 L 357.34 295.75 L 356.14 295.51 z M 347.68 303.48 L 349.13 302.03 L 351.55 301.54 L 353.48 300.58 L 355.41 299.13 L 356.14 296.71 L 357.1 296.71 L 357.34 299.13 L 356.38 301.06 L 354.44 302.03 L 352.51 302.51 L 350.58 302.99 L 348.89 303.96 L 348.17 304.93 z M 345.75 303.48 L 347.2 303.23 L 347.44 304.68 L 346.23 305.17 z M 339.95 310.25 L 340.68 310.01 L 340.44 311.7 L 339.95 311.7 z M 330.53 314.12 L 331.74 313.87 L 331.74 315.08 L 330.77 315.32 z M 306.86 323.29 L 307.83 323.05 L 308.46 324.74 L 307.83 325.95 L 307.01 325.47 z M 339.71 316.05 L 340.92 315.57 L 341.4 316.77 L 341.16 318.22 L 342.37 319.67 L 343.82 321.12 L 344.78 323.05 L 344.78 324.98 L 343.82 326.19 L 342.85 325.47 L 343.09 324.02 L 342.13 322.57 L 340.92 321.12 L 339.95 319.19 L 339.47 317.74 z M 337.3 324.02 L 339.47 321.6 L 339.95 322.09 L 337.78 324.5 z M 330.77 330.3 L 332.71 328.85 L 334.64 327.4 L 336.57 325.95 L 338.02 325.47 L 338.26 327.4 L 337.54 329.33 L 336.57 331.26 L 335.61 332.71 L 334.16 333.44 L 332.22 332.71 L 331.02 331.75 z M 319.66 326.68 L 320.87 326.43 L 322.56 328.37 L 324.5 330.3 L 326.43 332.23 L 327.39 334.16 L 326.43 334.65 L 324.98 333.44 L 323.53 331.51 L 321.6 329.33 L 320.15 327.64 z M 327.88 336.1 L 330.29 336.19 L 333.19 336.82 L 335.61 337.79 L 335.36 338.27 L 332.71 337.64 L 329.81 337.3 L 328.12 336.82 z M 339.47 330.3 L 342.85 330.06 L 343.33 330.78 L 340.92 331.02 L 340.44 332.71 L 341.64 334.65 L 340.92 335.13 L 339.47 333.2 L 339.23 331.26 z M 336.57 338.03 L 339.47 337.93 L 342.37 338.27 L 344.78 338.03 L 344.78 338.61 L 341.89 338.9 L 338.99 338.61 L 336.67 338.61 z M 348.65 331.75 L 350.58 331.51 L 353.48 332.71 L 356.38 332.96 L 358.79 334.16 L 361.21 335.61 L 363.14 338.03 L 364.11 339.72 L 362.17 338.99 L 360.24 337.54 L 357.34 338.03 L 354.93 337.06 L 353.96 335.61 L 352.03 334.65 L 350.1 333.68 L 348.89 332.71 z M 363.14 335.13 L 365.56 334.16 L 366.04 334.65 L 363.62 335.85 z M 334.4 350.2 L 335.61 348.99 L 338.02 348.03 L 340.44 346.82 L 341.89 345.13 L 343.33 343.92 L 345.27 342.95 L 347.2 342.23 L 348.17 341.02 L 350.1 340.78 L 352.51 341.26 L 353.24 342.23 L 352.51 343.44 L 353.96 344.4 L 355.89 345.13 L 356.86 343.92 L 357.34 341.99 L 357.83 340.54 L 358.55 341.75 L 359.28 343.44 L 360.24 344.89 L 361.21 346.82 L 362.66 348.75 L 364.11 350.68 L 365.56 352.62 L 366.52 354.55 L 366.76 356.48 L 366.04 358.41 L 365.07 359.86 L 364.11 361.79 L 362.17 363.24 L 360.72 363.48 L 358.79 363.24 L 356.86 362.76 L 355.41 361.31 L 354.44 359.38 L 352.51 358.65 L 351.55 357.93 L 349.61 357.45 L 347.2 357.69 L 344.78 358.41 L 342.37 359.14 L 339.95 359.86 L 337.54 360.34 L 335.85 359.86 L 335.61 357.93 L 335.12 356 L 334.64 354.06 L 334.4 352.13 z M 360 365.42 L 362.17 365.42 L 361.69 367.11 L 360.72 367.35 z M 382.7 360.1 L 383.67 360.59 L 384.39 361.79 L 385.36 363 L 387.05 362.76 L 386.57 363.97 L 385.36 364.93 L 384.39 365.66 L 383.67 364.69 L 383.91 363.24 L 383.19 361.79 z M 377.39 369.28 L 378.6 368.07 L 380.53 366.87 L 381.98 365.66 L 383.43 365.42 L 383.19 366.62 L 381.98 367.83 L 380.53 369.28 L 379.08 370.25 L 377.63 370.01 z M 386.09 345.61 L 388.02 344.65 L 388.36 345.27 L 386.57 346.58 z" clip-path="url(#p8a1bfb4084)" style="fill: #d3d3d3; stroke: #d3d3d3; stroke-width: 0.15"/>
</g>
<g id="patch_52">
<path d="M 265.08 293.09 L 267.25 292.37 L 269.67 292.12 L 271.6 292.61 L 272.32 294.06 L 274.02 294.78 L 276.19 294.78 L 277.4 295.51 L 276.91 296.71 L 274.98 296.96 L 272.57 296.71 L 270.15 296.96 L 267.74 296.96 L 265.8 296.47 L 264.84 295.26 z M 281.5 292.37 L 283.19 291.88 L 284.64 292.61 L 285.13 294.78 L 284.64 296.71 L 285.37 298.65 L 285.13 301.06 L 283.68 301.79 L 282.47 301.06 L 281.99 299.13 L 282.23 297.2 L 281.5 295.26 L 281.26 293.82 z" clip-path="url(#p8a1bfb4084)" style="fill: #ffffff; stroke: #ffffff; stroke-width: 0.15"/>
</g>
<g id="patch_53">
<path d="M 107.82 285.51 L 110.96 284.25 L 113.37 283.09 L 115.4 281.84 L 114.24 281.5 L 112.41 281.26 L 110.48 280.53 L 108.78 279.81 L 108.06 278.84 L 109.99 277.97 L 112.41 277.15 L 114.34 277.39 L 116.27 276.91 L 118.69 276.33 L 121.59 275.94 L 123.52 275.36 L 125.45 274.98 L 127.62 274.98 L 128.45 275.94 L 129.8 276.91 L 131.73 277.63 L 135.11 278.12 L 138.01 278.45 L 140.91 278.94 L 143.32 279.23 L 145.26 278.6 L 147.19 278.84 L 149.12 279.81 L 151.05 280.68 L 153.95 281.01 L 156.37 280.53 L 158.3 281.16 L 159.75 282.22 L 161.2 283.19 L 163.13 282.7 L 165.06 281.98 L 165.4 282.7 L 163.61 283.43 L 161.68 284.06 L 160.47 284.73 L 161.2 285.6 L 163.13 286.57 L 165.54 287.54 L 167.96 288.98 L 170.38 289.95 L 172.79 291.16 L 174.72 291.88 L 176.17 291.64 L 178.1 290.92 L 180.04 289.71 L 181.97 288.5 L 183.9 287.29 L 185.83 286.09 L 187.28 285.36 L 188.73 285.12 L 189.7 283.67 L 189.21 280.77 L 190.66 282.7 L 192.6 284.15 L 195.01 285.6 L 196.46 286.57 L 196.07 287.78 L 194.53 288.12 L 192.6 288.02 L 190.66 287.54 L 189.7 288.5 L 189.21 289.95 L 187.28 289.95 L 185.35 290.68 L 184.38 291.88 L 186.32 291.88 L 188.73 291.88 L 189.94 292.61 L 188.01 293.82 L 190.66 292.95 L 192.98 292.27 L 193.18 292.95 L 191.15 293.91 L 188.73 294.64 L 187.28 294.3 L 185.35 294.78 L 183.9 295.75 L 182.93 296.96 L 181.49 297.92 L 180.52 299.61 L 180.04 301.3 L 178.59 302.51 L 177.14 303.72 L 175.93 304.68 L 175.45 306.13 L 175.93 307.58 L 176.56 309.27 L 175.93 309.85 L 175.21 308.55 L 174.48 306.62 L 173.76 305.65 L 171.82 305.65 L 169.89 305.8 L 167.96 306.13 L 166.03 306.62 L 164.1 307.34 L 162.89 308.55 L 162.4 310.72 L 162.89 312.9 L 164.1 314.59 L 166.03 315.55 L 166.03 317 L 165.69 317.49 L 164.24 317.73 L 162.31 317.49 L 159.89 316.28 L 157.96 315.31 L 156.03 314.35 L 156.03 313.38 L 154.58 311.93 L 153.61 311.21 L 152.16 309.27 L 150.71 307.34 L 149.51 305.41 L 148.3 303.23 L 147.19 301.79 L 145.74 300.58 L 144.29 299.13 L 142.84 297.68 L 141.63 296.23 L 140.91 294.78 L 141.15 292.85 L 141.87 290.92 L 140.91 289.95 L 139.46 288.98 L 138.01 288.02 L 137.04 286.57 L 136.08 285.36 L 134.63 284.64 L 133.18 283.67 L 131.73 282.46 L 130.28 281.26 L 129.31 280.29 L 127.38 280.05 L 125.45 280.29 L 123.04 280.53 L 120.62 280.77 L 118.69 281.26 L 117.24 282.22 L 116.76 283.19 L 115.79 283.67 L 114.82 282.95 L 113.37 283.09 L 110.96 284.25 z" clip-path="url(#p8a1bfb4084)" style="fill: #1f00fd; stroke: #1f00fd; stroke-width: 0.15"/>
</g>
<g id="patch_54">
<path d="M 106.51 273.82 L 108.06 272.56 L 110.96 271.79 L 114.82 271.59 L 118.11 272.08 L 118.3 272.66 L 115.79 273.04 L 112.41 273.29 L 109.51 273.91 L 108.06 274.59 z" clip-path="url(#p8a1bfb4084)" style="fill: #2c26ff; stroke: #2c26ff; stroke-width: 0.15"/>
</g>
<g id="patch_55">
<path d="M 128.45 277.63 L 131.73 277.78 L 135.11 278.16 L 138.01 278.55 L 140.43 278.94 L 139.94 280.05 L 137.53 280.29 L 135.11 280.05 L 132.7 280.29 L 130.28 280.05 L 129.07 278.84 z" clip-path="url(#p8a1bfb4084)" style="fill: #3747ff; stroke: #3747ff; stroke-width: 0.15"/>
</g>
<g id="patch_56">
<path d="M 143.32 279.23 L 145.26 278.6 L 147.19 278.84 L 149.12 279.81 L 150.57 280.68 L 149.6 281.74 L 147.19 282.22 L 144.77 281.74 L 143.57 280.53 z" clip-path="url(#p8a1bfb4084)" style="fill: #2100e2; stroke: #2100e2; stroke-width: 0.15"/>
</g>
<g id="patch_57">
<path d="M 146.61 302.18 L 147.57 301.8 L 148.78 305.18 L 150.23 307.35 L 151.68 309.53 L 152.89 311.46 L 152.41 311.75 L 150.96 309.77 L 149.51 307.69 L 148.06 305.57 L 147.09 303.73 z" clip-path="url(#p8a1bfb4084)" style="fill: #1f00fd; stroke: #1f00fd; stroke-width: 0.15"/>
</g>
<g id="patch_58">
<path d="M 195.28 288.26 L 196.97 289.47 L 198.42 290.43 L 198.9 291.64 L 197.45 291.5 L 195.52 291.21 L 194.07 290.68 L 194.79 289.47 z" clip-path="url(#p8a1bfb4084)" style="fill: #3747ff; stroke: #3747ff; stroke-width: 0.15"/>
</g>
<g id="patch_59">
<path d="M 164.72 316.29 L 166.66 315.81 L 168.1 314.84 L 168.35 313.39 L 171 313.15 L 170.76 314.84 L 170.28 316.29 L 171 317.74 L 172.94 317.98 L 173.9 319.67 L 173.9 321.12 L 172.94 321.6 L 171.97 322.09 L 171.49 320.64 L 169.55 319.67 L 167.62 318.7 L 165.69 317.5 z M 171.97 322.09 L 173.42 322.57 L 174.87 323.29 L 176.32 324.02 L 177.77 323.78 L 179.22 324.5 L 178.73 325.23 L 176.8 324.98 L 174.87 324.02 L 172.94 323.05 z M 179.22 324.5 L 180.18 322.81 L 181.63 321.84 L 183.56 320.88 L 184.05 321.84 L 184.14 323.15 L 183.42 324.12 L 185.11 324.6 L 187.04 324.36 L 188.01 325.56 L 188.49 327.5 L 189.46 328.46 L 190.42 327.5 L 191.87 327.01 L 193.08 327.74 L 193.32 329.43 L 195.25 329.91 L 197.67 329.43 L 200.08 329.43 L 200.81 330.06 L 199.12 330.39 L 199.6 331.84 L 200.08 333.78 L 200.32 335.71 L 200.57 337.64 L 200.08 339.57 L 199.84 341.02 L 201.05 341.75 L 202.02 340.06 L 202.5 337.64 L 202.74 335.23 L 202.98 332.81 L 203.22 331.84 L 205.3 332.47 L 207.72 333.2 L 210.13 334.16 L 212.06 335.37 L 213.27 336.58 L 213.51 338.03 L 212.64 339.33 L 211.68 340.54 L 210.71 341.99 L 210.23 343.44 L 209.99 345.37 L 209.26 347.3 L 208.3 348.75 L 207.33 349.96 L 205.4 350.68 L 203.46 351.65 L 202.5 352.62 L 202.26 354.06 L 201.77 355.51 L 200.57 356.96 L 199.6 358.41 L 198.63 359.38 L 196.7 360.34 L 194.29 360.59 L 191.87 359.86 L 189.94 359.38 L 189.21 358.41 L 190.91 357.69 L 192.6 356.96 L 192.84 355.51 L 191.87 353.58 L 190.42 352.13 L 188.49 350.68 L 188.01 349.23 L 188.01 347.3 L 186.07 345.85 L 184.87 344.4 L 184.14 343.2 L 184.63 346.34 L 183.18 345.13 L 181.24 343.92 L 179.79 342.23 L 179.07 340.06 L 177.86 338.12 L 176.41 336.19 L 175.93 334.26 L 176.41 331.84 L 177.38 329.91 L 178.59 327.98 L 178.93 326.05 z M 187.91 322.33 L 190.33 322.09 L 192.02 322.81 L 192.5 323.78 L 190.91 323.63 L 188.97 323.15 z" clip-path="url(#p8a1bfb4084)" style="fill: #1f00fd; stroke: #1f00fd; stroke-width: 0.15"/>
</g>
<g id="patch_60">
<path d="M 176.41 331.84 L 177.38 329.91 L 178.59 327.98 L 180.28 328.46 L 183.18 327.98 L 186.07 328.46 L 188.49 327.74 L 189.46 328.7 L 190.91 329.43 L 192.84 330.39 L 193.08 332.81 L 193.32 335.71 L 193.8 338.12 L 195.74 339.09 L 198.15 340.06 L 199.6 341.02 L 199.12 342.95 L 196.7 342.95 L 193.8 343.92 L 191.87 345.85 L 189.94 346.82 L 188.01 347.3 L 186.07 345.85 L 184.87 344.4 L 183.18 345.13 L 181.24 343.92 L 179.79 342.23 L 179.07 340.06 L 177.86 338.12 L 176.41 336.19 L 175.93 334.26 z" clip-path="url(#p8a1bfb4084)" style="fill: #2700fa; stroke: #2700fa; stroke-width: 0.15"/>
</g>
<g id="patch_61">
<path d="M 188.01 347.3 L 190.91 346.34 L 193.8 343.92 L 196.7 342.95 L 199.12 343.44 L 199.6 345.37 L 201.53 346.34 L 204.43 347.3 L 207.33 348.27 L 207.33 349.96 L 205.4 350.68 L 203.46 351.65 L 202.5 352.62 L 202.26 354.06 L 201.77 355.51 L 200.57 356.96 L 199.6 358.41 L 198.63 359.38 L 196.7 360.34 L 194.29 360.59 L 191.87 359.86 L 192.84 355.51 L 191.87 353.58 L 190.42 352.13 L 188.49 350.68 L 188.01 349.23 z" clip-path="url(#p8a1bfb4084)" style="fill: #2c26ff; stroke: #2c26ff; stroke-width: 0.15"/>
</g>
<g id="patch_62">
<path d="M 199.12 345.85 L 201.53 344.65 L 204.43 344.4 L 207.33 344.89 L 209.26 345.85 L 209.74 346.82 L 208.3 348.75 L 207.33 349.48 L 205.4 348.75 L 203.46 347.3 L 201.05 346.82 z" clip-path="url(#p8a1bfb4084)" style="fill: #1f00fd; stroke: #1f00fd; stroke-width: 0.15"/>
</g>
<g id="patch_63">
<path d="M 208.3 334.74 L 210.23 334.36 L 212.06 335.37 L 213.27 336.58 L 213.51 338.03 L 212.64 339.33 L 211.19 339.81 L 209.74 339.09 L 208.78 337.16 z" clip-path="url(#p8a1bfb4084)" style="fill: #2c26ff; stroke: #2c26ff; stroke-width: 0.15"/>
</g>
<g id="patch_64">
<path d="M 183.42 354.31 L 184.87 354.06 L 185.11 356.96 L 184.87 360.34 L 183.42 360.34 L 183.66 356.96 z M 181.97 362.28 L 184.14 361.79 L 186.56 362.52 L 188.97 363.73 L 190.91 364.21 L 190.42 365.42 L 188.01 365.18 L 186.07 364.69 L 185.11 365.66 L 183.18 365.66 L 181.97 364.69 z M 182.21 366.62 L 184.63 366.14 L 186.07 367.59 L 188.01 368.07 L 187.04 369.28 L 185.11 369.52 L 183.18 369.52 L 182.45 368.56 z M 181.97 371.94 L 184.14 370.97 L 188.01 370.97 L 187.28 372.42 L 186.07 373.87 L 185.35 375.08 L 183.66 375.32 L 182.69 373.87 z M 234.4 299.13 L 234.16 297.2 L 234.65 295.26 L 236.82 294.78 L 239.24 295.02 L 240.68 294.3 L 240.93 292.37 L 241.17 290.92 L 242.13 289.95 L 243.58 288.98 L 245.03 287.78 L 246.48 287.05 L 248.41 286.57 L 249.38 285.84 L 249.86 285.12 L 249.38 283.67 L 249.62 282.95 L 250.59 282.7 L 251.31 283.91 L 252.28 285.12 L 254.21 285.6 L 256.14 285.84 L 257.59 286.09 L 259.04 285.12 L 260.49 283.67 L 260.01 282.22 L 260.97 281.26 L 262.91 281.01 L 265.32 280.53 L 264.84 280.05 L 262.42 280.29 L 260.49 280.05 L 259.52 279.08 L 260.01 277.87 L 262.91 277.15 L 265.8 277.15 L 268.7 277.63 L 271.12 278.36 L 272.57 279.32 L 271.6 280.29 L 270.15 281.26 L 269.18 282.7 L 268.7 284.15 L 267.25 285.12 L 265.8 285.6 L 264.35 286.57 L 262.91 288.02 L 261.94 288.98 L 263.87 289.47 L 266.29 289.71 L 268.22 290.43 L 267.74 291.88 L 266.29 292.37 L 265.32 293.82 L 264.35 294.78 L 263.87 296.23 L 262.91 296.96 L 261.94 298.16 L 262.42 299.61 L 260.97 300.1 L 260.01 299.13 L 259.04 297.68 L 258.07 296.71 L 257.11 295.75 L 256.14 294.78 L 255.18 294.3 L 254.21 293.82 L 253.24 293.33 L 252.28 293.09 L 251.79 293.82 L 252.76 294.78 L 253.73 295.75 L 254.69 296.71 L 255.9 297.44 L 256.14 298.65 L 255.18 298.16 L 253.73 297.2 L 252.28 296.23 L 251.31 295.26 L 250.59 294.3 L 249.86 293.33 L 248.41 292.85 L 246.96 293.33 L 245.51 294.3 L 244.07 294.78 L 243.1 295.75 L 242.13 297.2 L 241.65 298.65 L 240.68 299.61 L 238.75 300.1 L 236.82 300.1 L 234.89 300 z M 246 279.57 L 248.41 278.12 L 250.83 276.91 L 253.24 274.73 L 254.21 273.62 L 257.11 273.29 L 260.97 273.43 L 264.84 273.62 L 266.29 274.25 L 265.8 275.46 L 263.87 275.94 L 262.42 275.46 L 260.49 275.94 L 259.04 277.15 L 257.59 278.36 L 256.63 279.81 L 256.14 281.26 L 255.18 282.7 L 254.21 283.67 L 252.76 284.15 L 251.31 283.67 L 250.83 282.22 L 249.86 281.26 L 248.41 281.74 L 246.96 281.5 L 246.09 280.53 z M 260.01 277.87 L 260.97 276.91 L 262.18 275.94 L 263.87 275.94 L 265.8 275.46 L 267.74 276.43 L 269.67 277.39 L 271.12 278.36 L 268.7 277.63 L 265.8 277.15 L 262.91 277.15 z M 234.65 295.51 L 236.82 295.02 L 239.24 295.17 L 240.44 295.75 L 240.68 297.68 L 240.2 299.37 L 238.75 300 L 236.82 300 L 234.98 299.85 L 234.31 298.16 z" clip-path="url(#p8a1bfb4084)" style="fill: #1f00fd; stroke: #1f00fd; stroke-width: 0.15"/>
</g>
<g id="patch_65">
<path d="M 254.21 289.47 L 257.11 289.95 L 260.01 290.43 L 262.42 290.92 L 263.87 292.37 L 264.84 294.3 L 263.87 295.99 L 262.42 296.71 L 260.49 295.75 L 258.56 294.78 L 256.63 293.82 L 255.18 292.37 z" clip-path="url(#p8a1bfb4084)" style="fill: #281eff; stroke: #281eff; stroke-width: 0.15"/>
</g>
<g id="patch_66">
<path d="M 251.79 280.29 L 253.73 280.05 L 254.69 281.26 L 254.21 282.95 L 253 283.67 L 251.79 282.95 L 251.31 281.5 z" clip-path="url(#p8a1bfb4084)" style="fill: #2c26ff; stroke: #2c26ff; stroke-width: 0.15"/>
</g>
<g id="patch_67">
<path d="M 237.06 282.22 L 238.75 281.74 L 239.48 282.95 L 238.99 284.15 L 240.2 285.12 L 241.65 286.57 L 242.62 287.78 L 241.17 288.26 L 239.72 288.5 L 238.27 288.74 L 238.51 287.54 L 238.75 286.09 L 238.03 285.12 L 237.3 283.67 z M 233.68 286.09 L 234.89 285.36 L 236.58 285.6 L 236.34 286.81 L 234.89 287.54 L 233.68 287.29 z M 248.8 295.26 L 249.38 295.02 L 249.62 298.16 L 248.9 298.4 z M 252.28 299.13 L 254.21 299.37 L 253.97 300.1 L 252.52 299.85 z M 235.13 303.96 L 236.82 302.51 L 238.75 301.54 L 241.65 300.82 L 245.03 300.34 L 248.41 300.19 L 250.35 300.34 L 250.59 302.03 L 249.38 302.27 L 246.48 301.54 L 243.58 301.79 L 240.68 302.51 L 238.27 303.48 L 236.34 304.68 z M 235.13 303.96 L 236.82 302.51 L 238.75 301.93 L 238.27 303.48 L 236.34 304.68 z M 263.39 297.68 L 265.32 297.2 L 267.74 297.44 L 268.7 298.65 L 267.74 300.1 L 265.8 300.58 L 264.35 299.61 z" clip-path="url(#p8a1bfb4084)" style="fill: #1f00fd; stroke: #1f00fd; stroke-width: 0.15"/>
</g>
<g id="patch_68">
<path d="M 270.63 299.13 L 271.84 298.65 L 272.57 300.58 L 271.6 302.03 L 270.63 303.48 L 269.67 305.41 L 268.7 306.37 L 267.74 305.41 L 269.18 303.96 L 270.15 302.03 L 270.88 300.58 z" clip-path="url(#p8a1bfb4084)" style="fill: #2c26ff; stroke: #2c26ff; stroke-width: 0.15"/>
</g>
<g id="patch_69">
<path d="M 272.32 292.37 L 274.02 291.88 L 275.46 292.85 L 276.19 294.3 L 274.98 294.54 L 273.53 293.82 z M 278.36 289.95 L 279.33 289.71 L 280.54 291.88 L 279.81 292.37 z" clip-path="url(#p8a1bfb4084)" style="fill: #1f00fd; stroke: #1f00fd; stroke-width: 0.15"/>
</g>
<g id="patch_70">
<path d="M 275.46 291.16 L 277.88 290.68 L 278.12 291.4 L 275.71 291.88 z" clip-path="url(#p8a1bfb4084)" style="fill: #1c00d5; stroke: #1c00d5; stroke-width: 0.15"/>
</g>
<g id="patch_71">
<path d="M 278.12 276.43 L 281.26 274.98 L 284.64 274.25 L 289.47 274.01 L 294.3 274.25 L 298.65 274.25 L 299.13 275.46 L 298.65 276.91 L 296.72 276.43 L 294.3 275.46 L 291.89 275.46 L 290.44 276.91 L 290.2 279.32 L 289.96 281.74 L 290.68 284.15 L 288.99 285.6 L 287.06 286.09 L 285.13 286.57 L 283.19 287.05 L 281.26 288.02 L 279.81 289.47 L 278.36 289.95 L 279.33 288.02 L 280.3 286.09 L 281.26 284.15 L 280.78 282.22 L 281.26 280.29 L 283.19 278.84 L 284.64 277.63 L 283.68 277.39 L 281.74 278.12 L 279.81 277.87 L 278.36 277.15 z" clip-path="url(#p8a1bfb4084)" style="fill: #2600fb; stroke: #2600fb; stroke-width: 0.15"/>
</g>
<g id="patch_72">
<path d="M 281.02 280.77 L 283.19 280.29 L 286.09 279.81 L 289.47 279.57 L 290.05 281.74 L 290.68 284.15 L 288.99 285.6 L 287.06 286.09 L 285.13 286.57 L 283.19 286.09 L 281.74 284.64 L 280.78 282.7 z" clip-path="url(#p8a1bfb4084)" style="fill: #343eff; stroke: #343eff; stroke-width: 0.15"/>
</g>
<g id="patch_73">
<path d="M 279.33 288.02 L 280.3 286.09 L 281.74 284.64 L 283.19 286.09 L 283.19 287.05 L 281.26 288.02 L 279.81 289.47 L 278.36 289.95 z M 280.05 299.61 L 281.26 299.85 L 282.71 301.06 L 284.16 302.99 L 285.61 304.44 L 287.06 305.89 L 287.78 306.62 L 286.82 306.86 L 285.13 305.41 L 283.68 304.44 L 282.23 304.93 L 281.02 305.41 L 281.26 303.48 L 280.78 301.54 z M 310.49 271.11 L 311.94 271.11 L 312.9 272.56 L 314.83 273.43 L 317.73 273.62 L 320.87 273.91 L 320.87 275.22 L 318.7 274.98 L 316.28 274.73 L 314.35 275.46 L 312.42 276.43 L 310.97 275.94 L 311.69 274.49 L 310.73 273.04 z M 297.2 278.84 L 300.58 278.12 L 304.45 278.26 L 308.31 278.6 L 311.21 279.32 L 313.14 280.77 L 315.56 282.22 L 317.01 283.67 L 316.04 285.12 L 314.59 286.57 L 314.11 288.5 L 315.08 289.95 L 316.52 291.88 L 315.08 292.37 L 312.18 291.88 L 309.28 290.92 L 306.38 289.95 L 303.48 288.74 L 300.58 287.54 L 298.17 286.57 L 297.2 285.84 L 299.13 284.64 L 300.58 283.19 L 301.55 282.22 L 299.62 280.77 L 298.17 279.81 z" clip-path="url(#p8a1bfb4084)" style="fill: #1f00fd; stroke: #1f00fd; stroke-width: 0.15"/>
</g>
<g id="patch_74">
<path d="M 297.2 285.84 L 299.13 284.64 L 300.58 283.19 L 303 285.12 L 304.93 287.54 L 306.86 288.74 L 309.28 289.47 L 312.18 290.43 L 315.08 290.92 L 316.52 291.88 L 315.08 292.37 L 312.18 291.88 L 309.28 290.92 L 306.38 289.95 L 303.48 288.74 L 300.58 287.54 L 298.17 286.57 z" clip-path="url(#p8a1bfb4084)" style="fill: #1b00d1; stroke: #1b00d1; stroke-width: 0.15"/>
</g>
<g id="patch_75">
<path d="M 294.55 274.01 L 297.44 273.91 L 299.13 274.49 L 298.89 276.91 L 297.44 275.94 L 294.55 275.46 z" clip-path="url(#p8a1bfb4084)" style="fill: #2600fb; stroke: #2600fb; stroke-width: 0.15"/>
</g>
<g id="patch_76">
<path d="M 334.16 274.73 L 337.54 274.01 L 340.44 272.56 L 342.85 271.11 L 344.3 269.9 L 346.47 270.15 L 346.72 272.08 L 346.96 274.49 L 347.2 276.43 L 345.27 276.91 L 342.85 277.15 L 340.92 276.43 L 338.99 275.46 L 337.05 274.98 z M 359.76 279.32 L 360.72 277.39 L 361.21 275.46 L 363.14 274.49 L 366.04 274.01 L 369.9 273.53 L 373.77 273.04 L 376.67 273.29 L 379.08 274.01 L 380.53 274.98 L 378.6 275.46 L 376.18 276.43 L 373.77 277.39 L 371.35 278.36 L 368.94 279.08 L 366.04 279.81 L 363.14 280.05 L 361.21 280.05 z M 317.97 282.22 L 320.15 281.26 L 323.05 281.01 L 325.46 281.5 L 326.43 283.19 L 327.39 285.12 L 329.33 286.09 L 330.77 284.64 L 332.71 283.67 L 334.16 283.67 L 333.19 285.12 L 332.22 286.57 L 333.19 287.54 L 332.22 288.5 L 330.77 289.47 L 331.26 290.92 L 333.19 290.43 L 335.12 289.95 L 337.05 288.5 L 338.5 287.05 L 339.95 286.57 L 341.4 287.29 L 342.85 288.5 L 344.3 289.47 L 345.75 289.95 L 347.68 290.92 L 348.65 292.37 L 347.68 294.3 L 346.72 295.75 L 345.75 296.47 L 344.3 295.75 L 342.85 296.23 L 340.92 296.71 L 338.99 296.47 L 337.54 295.26 L 336.09 293.82 L 334.64 292.37 L 333.19 291.64 L 331.26 291.88 L 329.81 291.4 L 329.33 289.95 L 327.88 288.98 L 325.94 288.5 L 324.01 287.54 L 322.08 286.57 L 320.63 285.12 L 319.18 283.67 z M 350.1 289.47 L 351.06 287.54 L 352.51 286.57 L 354.93 285.84 L 356.38 286.57 L 356.62 288.02 L 355.41 289.95 L 353.48 290.92 L 351.55 290.43 z" clip-path="url(#p8a1bfb4084)" style="fill: #1f00fd; stroke: #1f00fd; stroke-width: 0.15"/>
</g>
<g id="patch_77">
<path d="M 355.89 294.3 L 357.34 293.09 L 358.79 293.82 L 360.24 294.3 L 359.28 295.51 L 357.34 295.75 L 356.14 295.51 z" clip-path="url(#p8a1bfb4084)" style="fill: #2300eb; stroke: #2300eb; stroke-width: 0.15"/>
</g>
<g id="patch_78">
<path d="M 347.68 303.48 L 349.13 302.03 L 351.55 301.54 L 353.48 300.58 L 355.41 299.13 L 356.14 296.71 L 357.1 296.71 L 357.34 299.13 L 356.38 301.06 L 354.44 302.03 L 352.51 302.51 L 350.58 302.99 L 348.89 303.96 L 348.17 304.93 z" clip-path="url(#p8a1bfb4084)" style="fill: #4674ff; stroke: #4674ff; stroke-width: 0.15"/>
</g>
<g id="patch_79">
<path d="M 354.44 299.61 L 355.41 299.13 L 356.14 296.71 L 357.1 296.71 L 357.34 299.13 L 356.38 301.06 L 354.93 301.54 z" clip-path="url(#p8a1bfb4084)" style="fill: #1c07ff; stroke: #1c07ff; stroke-width: 0.15"/>
</g>
<g id="patch_80">
<path d="M 344.78 299.13 L 345.75 298.16 L 346.96 299.13 L 347.2 301.06 L 346.23 302.03 L 345.03 302.03 z" clip-path="url(#p8a1bfb4084)" style="fill: #1f00fd; stroke: #1f00fd; stroke-width: 0.15"/>
</g>
<g id="patch_81">
<path d="M 308.07 302.03 L 310.49 301.06 L 313.38 299.61 L 315.8 298.65 L 318.7 298.4 L 321.11 299.13 L 322.56 300.58 L 322.32 301.54 L 319.66 301.06 L 317.25 300.82 L 315.32 301.54 L 312.9 302.51 L 310.49 302.75 L 308.55 302.51 z" clip-path="url(#p8a1bfb4084)" style="fill: #2400fb; stroke: #2400fb; stroke-width: 0.15"/>
</g>
<g id="patch_82">
<path d="M 299.62 304.44 L 300.58 302.99 L 302.03 301.79 L 303.48 302.75 L 305.41 303.72 L 307.35 304.68 L 308.55 305.41 L 306.38 305.41 L 303.97 305.17 L 301.55 305.89 L 299.86 306.62 z M 328.36 302.99 L 330.29 302.03 L 332.71 301.06 L 335.12 300.1 L 338.02 299.61 L 340.92 299.61 L 341.64 300.1 L 339.95 300.58 L 338.02 301.3 L 336.57 302.03 L 338.5 302.99 L 339.95 303.96 L 340.92 305.41 L 341.16 307.34 L 339.95 308.79 L 338.5 309.76 L 337.05 309.27 L 338.02 307.82 L 338.99 306.37 L 338.5 304.93 L 337.05 303.96 L 335.61 303.48 L 334.64 304.44 L 336.09 305.41 L 335.85 306.37 L 334.16 305.65 L 332.71 304.68 L 330.77 303.96 L 328.84 303.72 z" clip-path="url(#p8a1bfb4084)" style="fill: #1f00fd; stroke: #1f00fd; stroke-width: 0.15"/>
</g>
<g id="patch_83">
<path d="M 325.46 309.76 L 327.39 309.03 L 329.81 309.27 L 332.22 309.76 L 334.88 310 L 334.64 311.45 L 333.19 312.17 L 331.26 312.41 L 329.33 312.9 L 327.88 312.17 L 326.43 311.21 z" clip-path="url(#p8a1bfb4084)" style="fill: #4674ff; stroke: #4674ff; stroke-width: 0.15"/>
</g>
<g id="patch_84">
<path d="M 296.72 309.03 L 297.44 308.79 L 297.69 310 L 296.96 310.24 z" clip-path="url(#p8a1bfb4084)" style="fill: #1f00fd; stroke: #1f00fd; stroke-width: 0.15"/>
</g>
<g id="patch_85">
<path d="M 299.62 312.43 L 301.31 310.73 L 303.24 311.22 L 305.66 311.46 L 308.55 311.7 L 310.97 311.22 L 313.38 310.73 L 314.83 311.46 L 315.32 312.43 L 313.87 313.63 L 312.42 314.36 L 310.97 315.32 L 309.52 316.77 L 308.07 317.74 L 307.35 319.19 L 307.1 321.12 L 306.14 322.57 L 304.93 324.02 L 304.21 323.05 L 303.48 321.12 L 302.52 318.7 L 301.79 316.29 L 301.31 313.87 L 300.34 312.67 z" clip-path="url(#p8a1bfb4084)" style="fill: #2600fb; stroke: #2600fb; stroke-width: 0.15"/>
</g>
<g id="patch_86">
<path d="M 301.31 311.46 L 303.24 311.46 L 305.66 311.94 L 308.07 312.43 L 307.59 313.87 L 308.55 315.81 L 307.83 317.26 L 306.62 318.22 L 305.66 319.67 L 305.17 321.6 L 304.45 323.29 L 303.48 321.12 L 302.52 318.7 L 301.79 316.29 L 301.31 313.87 z" clip-path="url(#p8a1bfb4084)" style="fill: #343eff; stroke: #343eff; stroke-width: 0.15"/>
</g>
<g id="patch_87">
<path d="M 310.49 311.46 L 313.38 310.73 L 314.83 311.46 L 315.32 312.43 L 313.87 313.63 L 312.42 313.87 L 310.97 312.91 z" clip-path="url(#p8a1bfb4084)" style="fill: #1a00cc; stroke: #1a00cc; stroke-width: 0.15"/>
</g>
<g id="patch_88">
<path d="M 306.86 323.29 L 307.83 323.05 L 308.46 324.74 L 307.83 325.95 L 307.01 325.47 z" clip-path="url(#p8a1bfb4084)" style="fill: #2700f8; stroke: #2700f8; stroke-width: 0.15"/>
</g>
<g id="patch_89">
<path d="M 315.08 309.77 L 316.77 309.53 L 318.22 310.25 L 318.7 312.18 L 318.94 314.12 L 319.42 316.29 L 318.7 315.81 L 317.97 313.63 L 316.77 311.7 L 315.56 310.73 z M 318.22 303.01 L 319.66 303.49 L 321.11 304.94 L 322.08 306.87 L 322.8 309.29 L 323.53 311.22 L 324.5 312.43 L 326.43 313.87 L 328.36 315.81 L 329.81 317.74 L 330.77 319.67 L 330.53 321.6 L 328.84 322.57 L 327.39 323.54 L 326.43 322.09 L 324.98 320.64 L 323.53 319.67 L 323.05 321.6 L 322.56 323.54 L 323.53 325.47 L 324.98 327.4 L 326.19 329.33 L 325.46 329.82 L 324.01 327.88 L 322.56 325.95 L 321.84 323.54 L 322.08 321.12 L 322.32 318.7 L 322.08 316.29 L 322.56 313.87 L 323.05 311.94 L 322.56 310.01 L 321.84 307.59 L 321.11 305.66 L 320.15 304.21 z" clip-path="url(#p8a1bfb4084)" style="fill: #1f00fd; stroke: #1f00fd; stroke-width: 0.15"/>
</g>
<g id="patch_90">
<path d="M 323.53 315.32 L 326.43 314.84 L 328.84 316.77 L 330.05 318.7 L 330.29 321.12 L 328.36 322.09 L 326.91 321.12 L 328.36 320.64 L 327.88 318.95 L 325.46 319.19 L 324.01 318.22 z" clip-path="url(#p8a1bfb4084)" style="fill: #2213ff; stroke: #2213ff; stroke-width: 0.15"/>
</g>
<g id="patch_91">
<path d="M 339.71 316.05 L 340.92 315.57 L 341.4 316.77 L 341.16 318.22 L 342.37 319.67 L 343.82 321.12 L 344.78 323.05 L 344.78 324.98 L 343.82 326.19 L 342.85 325.47 L 343.09 324.02 L 342.13 322.57 L 340.92 321.12 L 339.95 319.19 L 339.47 317.74 z M 335.12 332.23 L 336.33 331.75 L 335.61 333.92 z" clip-path="url(#p8a1bfb4084)" style="fill: #1f00fd; stroke: #1f00fd; stroke-width: 0.15"/>
</g>
<g id="patch_92">
<path d="M 325.22 333.2 L 327.15 332.96 L 327.39 334.65 L 325.7 334.89 z" clip-path="url(#p8a1bfb4084)" style="fill: #0f0099; stroke: #0f0099; stroke-width: 0.15"/>
</g>
<g id="patch_93">
<path d="M 327.88 336.1 L 330.29 336.19 L 333.19 336.82 L 335.61 337.79 L 335.36 338.27 L 332.71 337.64 L 329.81 337.3 L 328.12 336.82 z" clip-path="url(#p8a1bfb4084)" style="fill: #343eff; stroke: #343eff; stroke-width: 0.15"/>
</g>
<g id="patch_94">
<path d="M 266.53 304.94 L 267.74 305.42 L 268.7 306.87 L 269.18 308.8 L 270.15 310.73 L 270.63 312.67 L 271.12 314.6 L 270.15 315.57 L 269.18 316.29 L 268.22 317.5 L 268.7 319.19 L 269.43 321.12 L 269.91 323.05 L 268.7 323.54 L 267.25 322.57 L 266.29 321.12 L 265.32 319.67 L 264.6 318.22 L 264.11 316.29 L 263.87 314.84 L 265.08 313.87 L 266.29 313.15 L 267.25 311.7 L 267.25 309.29 L 266.77 306.87 z" clip-path="url(#p8a1bfb4084)" style="fill: #2400fb; stroke: #2400fb; stroke-width: 0.15"/>
</g>
<g id="patch_95">
<path d="M 266.53 323.78 L 267.25 324.98 L 268.22 326.92 L 269.67 328.37 L 270.63 330.3 L 270.73 332.71 L 269.67 333.68 L 268.22 333.92 L 266.77 334.16 L 265.8 333.2 L 265.56 331.26 L 266.04 329.33 L 266.53 327.4 L 266.29 325.47 z M 271.6 331.75 L 272.57 331.02 L 274.02 331.26 L 274.74 332.71 L 274.5 334.65 L 274.02 336.58 L 273.53 337.54 L 272.08 337.06 L 271.12 336.1 L 271.6 334.65 L 271.84 333.2 z M 229.57 316.77 L 231.51 316.53 L 231.99 317.74 L 232.47 319.67 L 233.44 321.12 L 234.89 320.64 L 236.34 319.67 L 238.03 319.28 L 237.79 319.91 L 236.34 320.4 L 235.37 322.09 L 234.89 323.29 L 233.44 323.54 L 232.47 322.09 L 231.51 320.15 L 230.54 318.22 z M 239.96 319.43 L 241.17 319.67 L 241.89 321.6 L 241.41 323.29 L 240.2 323.29 L 239.72 321.6 z M 239.24 325.47 L 240.68 325.23 L 241.75 325.95 L 240.68 326.68 L 239.14 326.53 z M 262.64 350.2 L 264.09 349.48 L 265.54 350.2 L 266.99 350.44 L 268.44 351.17 L 268.92 352.62 L 267.95 354.06 L 268.44 355.03 L 267.47 356.48 L 266.02 357.93 L 264.57 358.9 L 263.12 359.48 L 261.67 359.14 L 261.43 357.93 L 262.64 357.45 L 264.09 356.96 L 265.05 356 L 263.61 356 L 262.16 355.51 L 260.95 354.55 L 261.67 353.1 L 262.64 352.13 z M 255.39 355.03 L 256.36 356 L 257.81 356.48 L 258.29 357.93 L 258.77 359.86 L 257.81 360.34 L 256.84 359.38 L 256.36 357.93 L 255.88 356.48 z M 354.69 359.14 L 355.41 357.93 L 357.34 357.2 L 358.31 357.93 L 359.76 357.69 L 362.17 357.93 L 363.62 358.41 L 364.59 357.45 L 365.8 356.48 L 366.52 356.96 L 366.04 358.41 L 365.07 359.86 L 364.11 361.79 L 362.17 363.24 L 360.72 363.48 L 358.79 363.24 L 356.86 362.76 L 355.41 361.31 z M 382.7 360.1 L 383.67 360.59 L 384.39 361.79 L 385.36 363 L 387.05 362.76 L 386.57 363.97 L 385.36 364.93 L 384.39 365.66 L 383.67 364.69 L 383.91 363.24 L 383.19 361.79 z M 377.39 369.28 L 378.6 368.07 L 380.53 366.87 L 381.98 365.66 L 383.43 365.42 L 383.19 366.62 L 381.98 367.83 L 380.53 369.28 L 379.08 370.25 L 377.63 370.01 z" clip-path="url(#p8a1bfb4084)" style="fill: #1f00fd; stroke: #1f00fd; stroke-width: 0.15"/>
</g>
<g id="patch_96">
<path d="M 136.56 283.57 L 138.73 283.43 L 138.98 285.36 L 137.04 285.51 z M 174.82 291.88 L 177.38 291.69 L 177.72 293.82 L 175.21 294.11 z M 203.71 336.43 L 205.4 335.32 L 207.33 335.81 L 208.3 337.25 L 207.33 339.09 L 206.36 341.51 L 207.33 342.47 L 206.36 343.53 L 204.67 343.44 L 204.19 341.51 L 204.91 339.57 L 203.95 338.12 z M 200.08 332.81 L 201.29 332.33 L 201.77 334.74 L 201.53 337.64 L 200.81 340.54 L 199.99 341.02 L 200.32 337.64 L 200.23 335.23 z M 195.25 357.69 L 198.15 357.2 L 199.36 358.17 L 198.15 359.86 L 195.74 360.1 L 194.53 359.14 z M 261.94 290.68 L 263.87 290.43 L 265.32 291.88 L 264.84 293.33 L 263.39 293.09 L 262.42 292.12 z M 253.49 276.18 L 255.18 275.7 L 255.9 276.67 L 254.69 277.63 L 253.73 277.15 z M 282.23 277.63 L 284.64 277.78 L 287.06 279.42 L 284.64 280.19 L 282.23 280.05 L 281.5 279.08 z M 303 285.12 L 306.38 284.64 L 308.31 284.88 L 308.07 287.05 L 306.86 288.74 L 304.93 287.54 z M 325.46 319.28 L 327.88 319.04 L 328.36 320.64 L 326.43 321.36 z M 341.16 319.67 L 342.37 320.64 L 343.33 322.57 L 342.61 322.81 L 341.64 321.36 z" clip-path="url(#p8a1bfb4084)" style="fill: #d3d3d3; stroke: #d3d3d3; stroke-width: 0.15"/>
</g>
<g id="patch_97">
<path d="M 1074.86 42.11 L 1076.55 40.66 L 1079.69 40.08 L 1083.55 39.99 L 1086.93 40.47 L 1089.35 41.14 L 1094.18 41.43 L 1099.01 41.43 L 1103.84 41.19 L 1108.67 41.05 L 1113.5 41.34 L 1118.33 42.3 L 1124.13 42.59 L 1128.96 42.4 L 1133.79 42.11 L 1137.65 41.63 L 1139.59 42.11 L 1139.97 43.46 L 1137.65 45.4 L 1135.72 47.33 L 1134.27 49.26 L 1133.89 50.71 L 1134.75 51.77 L 1137.17 53.12 L 1140.07 54.33 L 1142.48 55.78 L 1144.42 57.23 L 1145.96 59.02 L 1146.83 56.99 L 1146.59 53.61 L 1147.31 50.71 L 1147.89 48.29 L 1149.73 47.42 L 1152.14 47.81 L 1154.56 48.78 L 1156.49 49.74 L 1157.94 49.26 L 1159.39 51.19 L 1161.32 52.64 L 1163.74 54.09 L 1165.19 55.06 L 1164.8 56.26 L 1163.26 56.6 L 1161.32 56.51 L 1159.39 56.02 L 1158.42 56.99 L 1157.94 58.44 L 1156.01 58.44 L 1154.08 59.16 L 1153.11 60.37 L 1155.04 60.37 L 1157.46 60.37 L 1158.67 61.09 L 1156.73 62.3 L 1159.39 61.43 L 1161.71 60.76 L 1161.9 61.43 L 1159.87 62.4 L 1157.46 63.12 L 1156.01 62.79 L 1154.08 63.27 L 1152.63 64.23 L 1151.66 65.44 L 1150.21 66.41 L 1149.25 68.1 L 1148.76 69.79 L 1147.31 71 L 1145.87 72.21 L 1144.66 73.17 L 1144.17 74.62 L 1144.66 76.07 L 1145.29 77.76 L 1144.66 78.34 L 1143.93 77.04 L 1143.21 75.1 L 1142.48 74.14 L 1140.55 74.14 L 1138.62 74.28 L 1136.69 74.62 L 1134.75 75.1 L 1132.82 75.83 L 1131.61 77.04 L 1131.13 79.21 L 1131.61 81.38 L 1132.82 83.07 L 1134.75 84.04 L 1136.69 83.56 L 1137.17 82.11 L 1138.14 81.62 L 1139.59 81.72 L 1139.34 83.07 L 1138.86 85.01 L 1140.55 85.97 L 1142.48 86.7 L 1142.73 88.15 L 1142.63 89.6 L 1141.66 90.08 L 1142.15 91.04 L 1143.59 91.77 L 1145.04 92.49 L 1146.49 92.25 L 1147.94 92.98 L 1147.46 93.7 L 1145.53 93.46 L 1143.59 92.49 L 1141.66 91.53 L 1140.7 90.56 L 1140.21 89.11 L 1138.28 88.15 L 1136.35 87.18 L 1134.42 85.97 L 1132.97 86.21 L 1131.04 85.97 L 1128.62 84.76 L 1126.69 83.8 L 1124.76 82.83 L 1124.76 81.87 L 1123.31 80.42 L 1122.34 79.69 L 1120.89 77.76 L 1119.44 75.83 L 1118.23 73.9 L 1117.03 71.72 L 1115.92 70.27 L 1114.47 69.07 L 1113.02 67.62 L 1111.57 66.17 L 1110.36 64.72 L 1109.64 63.27 L 1109.88 61.34 L 1110.6 59.4 L 1109.64 58.44 L 1108.19 57.47 L 1106.74 56.51 L 1105.77 55.06 L 1104.81 53.85 L 1103.36 53.12 L 1101.91 52.16 L 1100.46 50.95 L 1099.01 49.74 L 1098.04 48.78 L 1096.11 48.54 L 1094.18 48.78 L 1091.76 49.02 L 1089.35 49.26 L 1087.41 49.74 L 1085.97 50.71 L 1085.48 51.68 L 1084.52 52.16 L 1083.55 51.43 L 1082.1 51.58 L 1079.69 52.74 L 1076.55 53.99 L 1076.79 53.51 L 1079.69 52.16 L 1081.62 51.1 L 1082.97 49.98 L 1081.14 49.74 L 1079.2 49.02 L 1077.51 48.29 L 1076.79 47.33 L 1077.27 46.36 L 1076.3 45.4 L 1074.86 44.91 L 1074.37 43.95 L 1075.34 43.22 z M 1115.34 70.67 L 1116.3 70.29 L 1117.51 73.67 L 1118.96 75.84 L 1120.41 78.01 L 1121.62 79.95 L 1121.13 80.24 L 1119.68 78.26 L 1118.23 76.18 L 1116.78 74.05 L 1115.82 72.22 z M 1063.99 42.11 L 1065.68 42.11 L 1068.58 42.98 L 1071.47 43.95 L 1071.23 45.15 L 1069.06 45.01 L 1066.16 44.19 L 1064.13 43.46 z M 1151.44 34.04 L 1153.62 33.22 L 1161.35 33.08 L 1175.84 32.93 L 1187.92 33.03 L 1194.44 33.22 L 1194.68 34.77 L 1194.2 36.7 L 1192.75 38.39 L 1191.78 39.84 L 1189.36 40.81 L 1186.47 41.77 L 1183.57 42.74 L 1181.15 43.46 L 1178.74 44.19 L 1176.81 45.4 L 1175.84 47.09 L 1175.11 48.78 L 1173.91 49.02 L 1172.46 48.05 L 1171.01 46.84 L 1169.56 45.4 L 1168.35 43.7 L 1167.39 42.01 L 1168.11 41.05 L 1166.18 40.32 L 1166.9 39.36 L 1165.69 38.15 L 1164.25 37.18 L 1162.31 36.46 L 1159.9 35.98 L 1157.48 35.73 L 1155.07 35.49 L 1153.14 35.01 z M 1191.54 44.33 L 1193.23 43.85 L 1196.13 43.95 L 1198.78 44.19 L 1199.03 45.15 L 1197.58 45.88 L 1195.16 46.27 L 1192.75 45.88 L 1191.68 45.15 z M 1137.68 38.63 L 1142.02 38.05 L 1146.37 38.39 L 1150.24 39.84 L 1153.14 41.05 L 1155.07 42.26 L 1157.97 43.22 L 1159.41 43.95 L 1158.69 44.91 L 1156.52 45.4 L 1157.48 46.6 L 1155.55 46.84 L 1153.14 45.64 L 1150.72 44.91 L 1147.34 45.4 L 1148.3 43.95 L 1146.37 42.98 L 1143.96 42.01 L 1141.06 41.05 L 1138.16 40.32 z M 1134.3 33.32 L 1139.61 32.93 L 1148.3 33.22 L 1148.79 34.04 L 1144.44 34.53 L 1141.06 35.25 L 1139.13 34.77 L 1135.26 34.29 z M 1135.26 35.73 L 1140.09 35.49 L 1144.92 36.22 L 1144.44 37.18 L 1139.61 36.94 L 1135.75 36.7 z M 1140.58 44.43 L 1143.47 44.19 L 1144.2 45.4 L 1142.75 46.36 L 1140.82 45.88 z M 1108.67 37.91 L 1111.57 37.43 L 1115.92 37.91 L 1119.3 39.02 L 1123.16 38.87 L 1124.61 38.15 L 1127.99 38.05 L 1129.92 39.12 L 1128.96 40.81 L 1125.09 41.53 L 1120.26 41.29 L 1115.92 40.66 L 1111.57 40.32 L 1109.15 39.36 z M 1111.57 35.25 L 1114.47 34.53 L 1117.36 35.01 L 1116.88 36.22 L 1113.5 36.46 z M 1118.81 33.56 L 1123.16 34.04 L 1124.61 35.25 L 1122.68 36.7 L 1119.3 35.73 z M 1125.09 33.08 L 1128.96 32.84 L 1131.37 33.8 L 1129.92 34.77 L 1126.06 34.53 z M 1127.99 35.25 L 1130.89 35.49 L 1131.86 36.7 L 1129.92 37.43 L 1127.99 36.7 z M 1131.86 38.39 L 1135.72 38.87 L 1137.65 38.39 L 1139.59 39.12 L 1138.62 40.81 L 1135.72 41.05 L 1132.82 40.32 z M 1133.79 33.32 L 1139.59 33.08 L 1148.28 33.32 L 1148.76 34.04 L 1144.42 35.01 L 1139.59 35.73 L 1135.72 35.25 L 1134.27 34.29 z M 1137.65 36.7 L 1141.52 36.22 L 1145.38 36.7 L 1144.9 37.67 L 1140.55 37.91 L 1138.14 37.57 z M 1164 56.75 L 1165.69 57.96 L 1167.14 58.92 L 1167.63 60.13 L 1166.18 59.98 L 1164.25 59.69 L 1162.8 59.16 L 1163.52 57.96 z M 1141.66 80.53 L 1144.08 80.19 L 1146.49 80.82 L 1148.43 81.64 L 1148.18 82.27 L 1146.01 81.64 L 1143.59 81.15 L 1141.9 81.15 z M 1150.84 83.23 L 1153.26 83.09 L 1155.19 83.81 L 1154.95 84.54 L 1152.53 84.39 L 1150.94 84.05 z M 1155.91 83.81 L 1157.12 83.81 L 1157.12 84.54 L 1155.91 84.54 z M 1146.01 83.33 L 1147.46 83.23 L 1147.56 83.81 L 1146.11 83.91 z M 1160.02 84.78 L 1160.89 85.02 L 1161.08 86.71 L 1160.41 86.71 z M 1147.94 92.99 L 1148.91 91.3 L 1150.36 90.33 L 1152.29 89.37 L 1152.77 90.33 L 1153.74 90.09 L 1154.71 90.57 L 1156.64 90.82 L 1159.05 90.57 L 1160.74 91.3 L 1161.23 92.26 L 1162.43 93.47 L 1164.37 94.44 L 1166.3 94.92 L 1168.23 95.89 L 1169.2 97.34 L 1169.68 98.54 L 1171.13 99.51 L 1172.1 100.23 L 1174.03 100.96 L 1176.44 101.68 L 1178.86 102.65 L 1180.79 103.86 L 1182 105.07 L 1182.24 106.51 L 1181.37 107.82 L 1180.4 109.03 L 1179.44 110.48 L 1178.95 111.92 L 1178.71 113.86 L 1177.99 115.79 L 1177.02 117.24 L 1176.06 118.45 L 1174.12 119.17 L 1172.19 120.14 L 1171.23 121.1 L 1170.98 122.55 L 1170.5 124 L 1169.29 125.45 L 1168.33 126.9 L 1167.36 127.87 L 1165.91 128.83 L 1164.46 129.8 L 1163.98 130.76 L 1162.53 131.73 L 1160.6 132.21 L 1159.63 133.18 L 1159.15 134.63 L 1157.94 135.84 L 1156.73 137.04 L 1155.53 138.49 L 1156.73 139.46 L 1156.01 140.43 L 1154.8 142.36 L 1154.08 143.57 L 1155.28 144.53 L 1157.22 145.26 L 1155.77 145.64 L 1153.84 145.74 L 1151.9 145.26 L 1150.45 144.29 L 1149.73 142.84 L 1149.39 140.91 L 1149.73 138.98 L 1150.45 137.04 L 1150.94 135.11 L 1150.55 133.66 L 1150.94 131.25 L 1151.9 129.31 L 1152.14 127.38 L 1152.39 124.97 L 1152.77 122.55 L 1153.11 120.62 L 1153.35 118.69 L 1153.59 116.76 L 1153.35 114.82 L 1151.9 113.62 L 1149.97 112.41 L 1148.52 110.72 L 1147.8 108.54 L 1146.59 106.61 L 1145.14 104.68 L 1144.66 102.75 L 1145.14 100.33 L 1146.11 98.4 L 1147.31 96.47 L 1147.65 94.53 z M 1160.6 142.6 L 1163.01 142.36 L 1163.26 143.08 L 1160.84 143.23 z M 1202.65 73.67 L 1205.06 72.7 L 1207.48 71.25 L 1210.38 70.53 L 1213.76 70.04 L 1217.14 69.9 L 1219.31 70.04 L 1219.56 71.01 L 1221.97 72.22 L 1224.87 72.7 L 1226.8 72.22 L 1228.73 72.7 L 1231.63 73.43 L 1234.53 73.91 L 1235.98 73.67 L 1237.19 74.63 L 1236.95 75.6 L 1237.91 77.53 L 1239.36 79.95 L 1240.33 82.36 L 1241.29 84.29 L 1242.74 86.23 L 1244.19 87.68 L 1245.64 89.12 L 1246.61 89.61 L 1249.02 89.12 L 1251.44 88.64 L 1252.16 90.09 L 1251.17 91.64 L 1249.72 93.57 L 1248.27 95.02 L 1246.34 96.95 L 1244.41 98.88 L 1243.44 100.33 L 1243.68 102.26 L 1243.2 104.2 L 1242.48 106.13 L 1242.72 107.58 L 1243.44 109.51 L 1243.68 111.44 L 1242.96 112.89 L 1241.51 114.34 L 1240.06 115.79 L 1238.85 117.24 L 1239.34 119.17 L 1238.61 120.14 L 1237.65 121.59 L 1236.68 123.52 L 1235.23 125.45 L 1233.78 126.9 L 1231.85 127.87 L 1229.92 128.35 L 1227.5 128.83 L 1226.05 127.87 L 1225.09 125.93 L 1224.12 123.52 L 1223.15 121.59 L 1222.67 119.65 L 1221.71 117.24 L 1220.74 115.31 L 1220.26 113.37 L 1220.74 111.44 L 1221.71 109.51 L 1221.22 107.09 L 1220.26 104.68 L 1219.05 102.75 L 1218.08 100.81 L 1218.32 98.88 L 1218.08 96.95 L 1216.87 95.5 L 1214.94 94.53 L 1213.01 94.05 L 1210.6 94.53 L 1207.7 95.5 L 1205.76 95.02 L 1203.83 95.5 L 1200.93 93.57 L 1199.48 91.64 L 1198.3 90.09 L 1196.85 88.16 L 1196.37 85.74 L 1196.61 83.33 L 1197.34 80.91 L 1197.82 78.98 L 1198.78 77.05 L 1200.23 75.12 L 1201.68 74.15 z M 1250.45 109.99 L 1251.41 110.96 L 1251.17 113.37 L 1250.45 115.79 L 1249.48 118.69 L 1248.52 120.62 L 1246.82 120.86 L 1245.86 118.69 L 1246.58 115.79 L 1247.31 113.86 L 1248.76 111.92 z M 1203.13 67.62 L 1202.89 65.68 L 1203.37 63.75 L 1205.55 63.27 L 1207.96 63.51 L 1209.41 62.79 L 1209.65 60.85 L 1209.89 59.4 L 1208.69 58.44 L 1208.2 57.71 L 1209.89 57.47 L 1211.34 57.38 L 1212.31 57.09 L 1213.76 56.26 L 1215.21 55.54 L 1217.14 55.06 L 1218.11 54.33 L 1218.59 53.61 L 1218.11 52.16 L 1218.35 51.43 L 1219.31 51.19 L 1220.04 52.4 L 1221.01 53.61 L 1222.94 54.09 L 1224.87 54.33 L 1226.32 54.57 L 1227.77 53.61 L 1229.22 52.16 L 1228.73 50.71 L 1229.7 49.74 L 1231.63 49.5 L 1234.05 49.02 L 1233.56 48.54 L 1231.15 48.78 L 1229.22 48.54 L 1228.25 47.57 L 1228.73 46.36 L 1229.7 45.4 L 1230.91 44.43 L 1231.15 43.95 L 1229.22 44.43 L 1227.77 45.64 L 1226.32 46.84 L 1225.35 48.29 L 1224.87 49.74 L 1223.9 51.19 L 1222.94 52.16 L 1221.49 52.64 L 1220.04 52.16 L 1219.56 50.71 L 1218.59 49.74 L 1217.14 50.23 L 1215.69 49.98 L 1214.82 49.02 L 1214.73 48.05 L 1217.14 46.6 L 1219.56 45.4 L 1221.97 43.22 L 1222.94 42.11 L 1225.84 41.77 L 1229.7 41.92 L 1233.56 42.11 L 1235.01 42.74 L 1236.46 42.11 L 1238.88 41.53 L 1241.29 41.29 L 1243.23 41.77 L 1244.19 42.74 L 1243.71 43.95 L 1242.74 44.91 L 1244.19 45.4 L 1245.64 44.91 L 1246.61 43.95 L 1247.57 42.98 L 1249.99 43.22 L 1253.37 42.59 L 1258.2 42.4 L 1263.03 42.59 L 1265.45 42.11 L 1266.41 40.56 L 1265.45 39.36 L 1267.38 38.63 L 1269.79 38.87 L 1271.24 40.56 L 1270.76 42.5 L 1271 42.01 L 1271.97 40.32 L 1274.87 39.12 L 1277.76 37.91 L 1281.15 36.7 L 1285.01 35.98 L 1289.36 35.49 L 1293.71 34.77 L 1297.09 34.86 L 1300.95 35.49 L 1303.37 35.98 L 1301.92 36.7 L 1304.82 37.67 L 1309.16 38.05 L 1313.99 38.15 L 1318.82 38.63 L 1323.66 38.87 L 1325.59 38.39 L 1328.49 38.63 L 1333.32 39.6 L 1338.15 40.32 L 1342.98 40.81 L 1347.81 41.05 L 1350.22 40.81 L 1355.05 41.05 L 1356.99 42.11 L 1356.99 44.43 L 1356.02 46.12 L 1354.09 46.84 L 1351.67 47.33 L 1349.26 48.05 L 1346.36 48.78 L 1344.43 49.74 L 1342.98 50.95 L 1342.49 52.64 L 1340.56 54.09 L 1338.63 55.78 L 1337.91 56.51 L 1337.66 54.57 L 1337.42 52.64 L 1338.63 51.19 L 1340.56 49.74 L 1342.49 48.54 L 1343.46 47.81 L 1341.53 48.05 L 1338.63 48.78 L 1335.73 49.26 L 1332.83 49.5 L 1330.9 49.74 L 1328.49 50.23 L 1326.07 51.19 L 1324.14 52.16 L 1322.69 53.12 L 1325.59 54.57 L 1325.35 56.51 L 1324.14 58.44 L 1322.21 59.4 L 1320.27 60.37 L 1318.82 61.82 L 1317.38 63.27 L 1315.93 64.23 L 1314.48 64.96 L 1315.68 65.44 L 1315.44 66.65 L 1315.93 68.58 L 1315.68 70.03 L 1313.99 70.76 L 1313.27 69.55 L 1313.51 67.62 L 1313.03 66.17 L 1311.58 65.93 L 1310.13 66.65 L 1310.37 68.1 L 1308.68 68.58 L 1309.65 70.03 L 1309.89 71.96 L 1310.13 74.38 L 1309.16 76.31 L 1307.71 77.76 L 1306.75 78.24 L 1305.3 77.76 L 1304.33 79.21 L 1303.37 80.66 L 1301.92 81.38 L 1300.47 82.11 L 1299.02 82.59 L 1298.05 82.11 L 1298.05 83.81 L 1298.54 86.23 L 1299.5 88.16 L 1299.26 90.09 L 1297.57 91.06 L 1296.12 92.02 L 1295.15 90.57 L 1293.71 89.12 L 1292.26 88.16 L 1291.77 90.09 L 1291.29 92.02 L 1292.26 93.96 L 1293.71 95.89 L 1294.91 97.82 L 1294.19 98.3 L 1292.74 96.37 L 1291.29 94.44 L 1290.57 92.02 L 1290.81 89.61 L 1291.05 87.19 L 1290.81 84.78 L 1290.32 83.33 L 1289.36 81.88 L 1288.39 84.29 L 1288.15 84.78 L 1287.43 82.6 L 1286.94 79.95 L 1285.98 78.98 L 1284.04 80.91 L 1282.6 82.12 L 1281.15 82.84 L 1279.7 83.81 L 1278.25 85.26 L 1276.8 86.23 L 1276.07 87.68 L 1275.83 89.61 L 1274.87 91.06 L 1273.66 92.51 L 1272.93 91.54 L 1272.21 89.61 L 1271.24 87.19 L 1270.52 84.78 L 1270.04 82.36 L 1269.07 81.15 L 1268.34 80.91 L 1267.86 79.46 L 1266.41 78.01 L 1264.48 78.5 L 1262.07 78.74 L 1259.65 78.5 L 1257.72 78.01 L 1256.27 77.53 L 1254.34 76.56 L 1252.4 75.12 L 1250.47 73.67 L 1249.75 73.67 L 1249.51 74.15 L 1249.99 75.12 L 1250.95 76.08 L 1252.4 77.53 L 1253.85 78.5 L 1255.3 78.01 L 1256.27 78.98 L 1257.72 79.95 L 1259.17 80.91 L 1258.2 82.36 L 1256.27 84.29 L 1253.85 85.74 L 1251.44 87.19 L 1249.02 88.16 L 1246.61 89.12 L 1245.64 88.16 L 1244.67 86.23 L 1243.23 83.81 L 1241.78 81.4 L 1240.33 78.98 L 1238.88 76.56 L 1237.91 75.12 L 1238.88 74.39 L 1239.84 73.18 L 1239.84 72.93 L 1240.09 70.51 L 1240.33 68.82 L 1238.88 68.58 L 1237.43 69.16 L 1235.5 69.07 L 1234.05 69.31 L 1232.6 68.82 L 1231.87 67.62 L 1231.63 66.17 L 1232.36 65.2 L 1233.08 64.23 L 1231.63 64.96 L 1230.67 65.2 L 1231.15 66.65 L 1231.39 68.1 L 1230.67 69.07 L 1229.94 69.55 L 1229.22 68.1 L 1228.25 66.65 L 1227.28 65.68 L 1226.32 64.72 L 1225.35 63.75 L 1224.39 63.03 L 1223.42 62.54 L 1222.21 61.92 L 1221.01 61.58 L 1220.43 62.3 L 1221.49 63.27 L 1222.45 64.23 L 1223.42 65.2 L 1224.63 65.93 L 1225.11 66.89 L 1224.14 67.62 L 1223.9 66.65 L 1222.45 65.68 L 1221.01 64.72 L 1220.04 63.75 L 1219.31 62.79 L 1218.59 61.82 L 1217.14 61.34 L 1215.69 61.82 L 1214.24 62.79 L 1212.79 63.27 L 1211.83 64.23 L 1210.86 65.68 L 1210.38 67.13 L 1209.41 68.1 L 1207.48 68.58 L 1205.55 68.58 L 1203.61 68.49 z M 1205.79 50.71 L 1207.48 50.23 L 1208.2 51.43 L 1207.72 52.64 L 1208.93 53.61 L 1210.38 55.06 L 1211.34 56.26 L 1209.89 56.75 L 1208.45 56.99 L 1207 57.23 L 1207.24 56.02 L 1207.48 54.57 L 1206.75 53.61 L 1206.03 52.16 z M 1202.41 54.57 L 1203.61 53.85 L 1205.31 54.09 L 1205.06 55.3 L 1203.61 56.02 L 1202.41 55.78 z M 1217.53 63.75 L 1218.11 63.51 L 1218.35 66.65 L 1217.62 66.89 z M 1221.01 67.62 L 1222.94 67.86 L 1222.7 68.58 L 1221.25 68.34 z M 1231.63 70.51 L 1233.56 70.42 L 1233.66 70.9 L 1231.73 71 z M 1237.19 69.79 L 1238.4 69.55 L 1238.49 70.27 L 1237.33 70.42 z M 1219.8 33.22 L 1224.14 32.84 L 1229.46 33.56 L 1229.94 34.29 L 1227.04 34.53 L 1224.14 35.25 L 1222.7 34.86 L 1221.25 34.04 z M 1252.89 39.12 L 1254.82 37.43 L 1257.72 36.22 L 1261.58 35.49 L 1265.93 35.25 L 1266.17 35.98 L 1262.07 36.46 L 1258.68 37.18 L 1256.27 38.39 L 1254.34 39.84 z M 1287.18 33.08 L 1292.01 32.84 L 1295.88 33.32 L 1295.4 34.04 L 1291.53 33.9 L 1287.67 33.8 z M 1287.43 33.22 L 1291.29 32.84 L 1295.64 33.32 L 1296.12 34.04 L 1292.26 34.19 L 1288.39 34.04 z M 1322.21 36.22 L 1326.07 35.83 L 1328.49 36.22 L 1332.83 36.7 L 1332.35 37.28 L 1328 37.09 L 1323.17 37.09 z M 1356.02 39.6 L 1357.47 39.7 L 1357.37 40.32 L 1356.12 40.28 z M 1326.07 54.57 L 1326.8 54.82 L 1327.13 57.47 L 1326.94 60.37 L 1326.31 60.37 L 1326.17 57.47 z M 1324.62 62.79 L 1326.07 61.58 L 1327.52 62.3 L 1328.97 62.79 L 1328 63.99 L 1326.07 64.23 L 1324.86 63.99 z M 1316.41 71.96 L 1317.86 70.51 L 1320.27 70.03 L 1322.21 69.07 L 1324.14 67.62 L 1324.86 65.2 L 1325.83 65.2 L 1326.07 67.62 L 1325.1 69.55 L 1323.17 70.51 L 1321.24 71 L 1319.31 71.48 L 1317.62 72.45 L 1316.89 73.41 z M 1314.48 71.96 L 1315.93 71.72 L 1316.17 73.17 L 1314.96 73.65 z M 1308.68 78.74 L 1309.4 78.5 L 1309.16 80.19 L 1308.68 80.19 z M 1299.26 82.6 L 1300.47 82.36 L 1300.47 83.57 L 1299.5 83.81 z M 1275.59 91.78 L 1276.56 91.54 L 1277.18 93.23 L 1276.56 94.44 L 1275.74 93.96 z M 1308.44 84.54 L 1309.65 84.05 L 1310.13 85.26 L 1309.89 86.71 L 1311.1 88.16 L 1312.54 89.61 L 1313.51 91.54 L 1313.51 93.47 L 1312.54 94.68 L 1311.58 93.96 L 1311.82 92.51 L 1310.85 91.06 L 1309.65 89.61 L 1308.68 87.68 L 1308.2 86.23 z M 1306.02 92.51 L 1308.2 90.09 L 1308.68 90.57 L 1306.51 92.99 z M 1299.5 98.79 L 1301.43 97.34 L 1303.37 95.89 L 1305.3 94.44 L 1306.75 93.96 L 1306.99 95.89 L 1306.27 97.82 L 1305.3 99.75 L 1304.33 101.2 L 1302.88 101.93 L 1300.95 101.2 L 1299.74 100.23 z M 1288.39 95.16 L 1289.6 94.92 L 1291.29 96.85 L 1293.22 98.79 L 1295.15 100.72 L 1296.12 102.65 L 1295.15 103.13 L 1293.71 101.93 L 1292.26 99.99 L 1290.32 97.82 L 1288.87 96.13 z M 1296.6 104.58 L 1299.02 104.68 L 1301.92 105.31 L 1304.33 106.27 L 1304.09 106.76 L 1301.43 106.13 L 1298.54 105.79 L 1296.85 105.31 z M 1308.2 98.79 L 1311.58 98.54 L 1312.06 99.27 L 1309.65 99.51 L 1309.16 101.2 L 1310.37 103.13 L 1309.65 103.62 L 1308.2 101.68 L 1307.96 99.75 z M 1305.3 106.51 L 1308.2 106.42 L 1311.1 106.76 L 1313.51 106.51 L 1313.51 107.09 L 1310.61 107.38 L 1307.71 107.09 L 1305.4 107.09 z M 1317.38 100.23 L 1319.31 99.99 L 1322.21 101.2 L 1325.1 101.44 L 1327.52 102.65 L 1329.93 104.1 L 1331.87 106.51 L 1332.83 108.21 L 1330.9 107.48 L 1328.97 106.03 L 1326.07 106.51 L 1323.66 105.55 L 1322.69 104.1 L 1320.76 103.13 L 1318.82 102.17 L 1317.62 101.2 z M 1331.87 103.62 L 1334.28 102.65 L 1334.77 103.13 L 1332.35 104.34 z M 1303.13 118.69 L 1304.33 117.48 L 1306.75 116.51 L 1309.16 115.31 L 1310.61 113.62 L 1312.06 112.41 L 1313.99 111.44 L 1315.93 110.72 L 1316.89 109.51 L 1318.82 109.27 L 1321.24 109.75 L 1321.96 110.72 L 1321.24 111.92 L 1322.69 112.89 L 1324.62 113.62 L 1325.59 112.41 L 1326.07 110.48 L 1326.55 109.03 L 1327.28 110.23 L 1328 111.92 L 1328.97 113.37 L 1329.93 115.31 L 1331.38 117.24 L 1332.83 119.17 L 1334.28 121.1 L 1335.25 123.04 L 1335.49 124.97 L 1334.77 126.9 L 1333.8 128.35 L 1332.83 130.28 L 1330.9 131.73 L 1329.45 131.97 L 1327.52 131.73 L 1325.59 131.25 L 1324.14 129.8 L 1323.17 127.87 L 1321.24 127.14 L 1320.27 126.42 L 1318.34 125.93 L 1315.93 126.18 L 1313.51 126.9 L 1311.1 127.62 L 1308.68 128.35 L 1306.27 128.83 L 1304.57 128.35 L 1304.33 126.42 L 1303.85 124.48 L 1303.37 122.55 L 1303.13 120.62 z M 1328.73 133.9 L 1330.9 133.9 L 1330.42 135.59 L 1329.45 135.84 z M 1351.43 128.59 L 1352.4 129.07 L 1353.12 130.28 L 1354.09 131.49 L 1355.78 131.25 L 1355.3 132.45 L 1354.09 133.42 L 1353.12 134.15 L 1352.4 133.18 L 1352.64 131.73 L 1351.91 130.28 z M 1346.12 137.77 L 1347.33 136.56 L 1349.26 135.35 L 1350.71 134.15 L 1352.16 133.9 L 1351.91 135.11 L 1350.71 136.32 L 1349.26 137.77 L 1347.81 138.73 L 1346.36 138.49 z M 1354.81 114.1 L 1356.74 113.13 L 1357.08 113.76 L 1355.3 115.06 z" clip-path="url(#p8a1bfb4084)" style="fill: #d3d3d3; stroke: #d3d3d3; stroke-width: 0.15"/>
</g>
<g id="patch_98">
<path d="M 1233.81 61.58 L 1235.98 60.85 L 1238.4 60.61 L 1240.33 61.09 L 1241.05 62.54 L 1242.74 63.27 L 1244.92 63.27 L 1246.12 63.99 L 1245.64 65.2 L 1243.71 65.44 L 1241.29 65.2 L 1238.88 65.44 L 1236.46 65.44 L 1234.53 64.96 L 1233.56 63.75 z M 1250.23 60.85 L 1251.92 60.37 L 1253.37 61.09 L 1253.85 63.27 L 1253.37 65.2 L 1254.09 67.13 L 1253.85 69.55 L 1252.4 70.27 L 1251.2 69.55 L 1250.71 67.62 L 1250.95 65.68 L 1250.23 63.75 L 1249.99 62.3 z" clip-path="url(#p8a1bfb4084)" style="fill: #ffffff; stroke: #ffffff; stroke-width: 0.15"/>
</g>
<g id="patch_99">
<path d="M 1076.55 53.99 L 1079.69 52.74 L 1082.1 51.58 L 1084.13 50.32 L 1082.97 49.98 L 1081.14 49.74 L 1079.2 49.02 L 1077.51 48.29 L 1076.79 47.33 L 1078.72 46.46 L 1081.14 45.64 L 1083.07 45.88 L 1085 45.4 L 1087.41 44.82 L 1090.31 44.43 L 1092.25 43.85 L 1094.18 43.46 L 1096.35 43.46 L 1097.17 44.43 L 1098.53 45.4 L 1100.46 46.12 L 1103.84 46.6 L 1106.74 46.94 L 1109.64 47.42 L 1112.05 47.71 L 1113.98 47.09 L 1115.92 47.33 L 1117.85 48.29 L 1119.78 49.16 L 1122.68 49.5 L 1125.09 49.02 L 1127.03 49.65 L 1128.48 50.71 L 1129.92 51.68 L 1131.86 51.19 L 1133.79 50.47 L 1134.13 51.19 L 1132.34 51.92 L 1130.41 52.54 L 1129.2 53.22 L 1129.92 54.09 L 1131.86 55.06 L 1134.27 56.02 L 1136.69 57.47 L 1139.1 58.44 L 1141.52 59.65 L 1143.45 60.37 L 1144.9 60.13 L 1146.83 59.4 L 1148.76 58.2 L 1150.7 56.99 L 1152.63 55.78 L 1154.56 54.57 L 1156.01 53.85 L 1157.46 53.61 L 1158.42 52.16 L 1157.94 49.26 L 1159.39 51.19 L 1161.32 52.64 L 1163.74 54.09 L 1165.19 55.06 L 1164.8 56.26 L 1163.26 56.6 L 1161.32 56.51 L 1159.39 56.02 L 1158.42 56.99 L 1157.94 58.44 L 1156.01 58.44 L 1154.08 59.16 L 1153.11 60.37 L 1155.04 60.37 L 1157.46 60.37 L 1158.67 61.09 L 1156.73 62.3 L 1159.39 61.43 L 1161.71 60.76 L 1161.9 61.43 L 1159.87 62.4 L 1157.46 63.12 L 1156.01 62.79 L 1154.08 63.27 L 1152.63 64.23 L 1151.66 65.44 L 1150.21 66.41 L 1149.25 68.1 L 1148.76 69.79 L 1147.31 71 L 1145.87 72.21 L 1144.66 73.17 L 1144.17 74.62 L 1144.66 76.07 L 1145.29 77.76 L 1144.66 78.34 L 1143.93 77.04 L 1143.21 75.1 L 1142.48 74.14 L 1140.55 74.14 L 1138.62 74.28 L 1136.69 74.62 L 1134.75 75.1 L 1132.82 75.83 L 1131.61 77.04 L 1131.13 79.21 L 1131.61 81.38 L 1132.82 83.07 L 1134.75 84.04 L 1134.75 85.49 L 1134.42 85.97 L 1132.97 86.21 L 1131.04 85.97 L 1128.62 84.76 L 1126.69 83.8 L 1124.76 82.83 L 1124.76 81.87 L 1123.31 80.42 L 1122.34 79.69 L 1120.89 77.76 L 1119.44 75.83 L 1118.23 73.9 L 1117.03 71.72 L 1115.92 70.27 L 1114.47 69.07 L 1113.02 67.62 L 1111.57 66.17 L 1110.36 64.72 L 1109.64 63.27 L 1109.88 61.34 L 1110.6 59.4 L 1109.64 58.44 L 1108.19 57.47 L 1106.74 56.51 L 1105.77 55.06 L 1104.81 53.85 L 1103.36 53.12 L 1101.91 52.16 L 1100.46 50.95 L 1099.01 49.74 L 1098.04 48.78 L 1096.11 48.54 L 1094.18 48.78 L 1091.76 49.02 L 1089.35 49.26 L 1087.41 49.74 L 1085.97 50.71 L 1085.48 51.68 L 1084.52 52.16 L 1083.55 51.43 L 1082.1 51.58 L 1079.69 52.74 z" clip-path="url(#p8a1bfb4084)" style="fill: #6ef9ff; stroke: #6ef9ff; stroke-width: 0.15"/>
</g>
<g id="patch_100">
<path d="M 1075.24 42.3 L 1076.79 41.05 L 1079.69 40.28 L 1083.55 40.08 L 1086.84 40.56 L 1087.03 41.14 L 1084.52 41.53 L 1081.14 41.77 L 1078.24 42.4 L 1076.79 43.08 z" clip-path="url(#p8a1bfb4084)" style="fill: #281eff; stroke: #281eff; stroke-width: 0.15"/>
</g>
<g id="patch_101">
<path d="M 1115.34 70.67 L 1116.3 70.29 L 1117.51 73.67 L 1118.96 75.84 L 1120.41 78.01 L 1121.62 79.95 L 1121.13 80.24 L 1119.68 78.26 L 1118.23 76.18 L 1116.78 74.05 L 1115.82 72.22 z" clip-path="url(#p8a1bfb4084)" style="fill: #6ef9ff; stroke: #6ef9ff; stroke-width: 0.15"/>
</g>
<g id="patch_102">
<path d="M 1164 56.75 L 1165.69 57.96 L 1167.14 58.92 L 1167.63 60.13 L 1166.18 59.98 L 1164.25 59.69 L 1162.8 59.16 L 1163.52 57.96 z" clip-path="url(#p8a1bfb4084)" style="fill: #549eff; stroke: #549eff; stroke-width: 0.15"/>
</g>
<g id="patch_103">
<path d="M 1133.45 84.78 L 1135.38 84.29 L 1136.83 83.33 L 1137.07 81.88 L 1139.73 81.64 L 1139.49 83.33 L 1139.01 84.78 L 1139.73 86.23 L 1141.66 86.47 L 1142.63 88.16 L 1142.63 89.61 L 1141.66 90.09 L 1140.7 90.57 L 1140.21 89.12 L 1138.28 88.16 L 1136.35 87.19 L 1134.42 85.98 z" clip-path="url(#p8a1bfb4084)" style="fill: #3a50ff; stroke: #3a50ff; stroke-width: 0.15"/>
</g>
<g id="patch_104">
<path d="M 1140.7 90.57 L 1142.15 91.06 L 1143.59 91.78 L 1145.04 92.51 L 1146.49 92.26 L 1147.94 92.99 L 1147.46 93.71 L 1145.53 93.47 L 1143.59 92.51 L 1141.66 91.54 z" clip-path="url(#p8a1bfb4084)" style="fill: #71fbf7; stroke: #71fbf7; stroke-width: 0.15"/>
</g>
<g id="patch_105">
<path d="M 1147.94 92.99 L 1148.91 91.3 L 1150.36 90.33 L 1152.29 89.37 L 1152.77 90.33 L 1152.87 91.64 L 1152.14 92.6 L 1153.84 93.09 L 1155.77 92.84 L 1156.73 94.05 L 1157.22 95.98 L 1158.18 96.95 L 1159.15 95.98 L 1160.6 95.5 L 1161.81 96.23 L 1162.05 97.92 L 1163.98 98.4 L 1166.4 97.92 L 1168.81 97.92 L 1169.54 98.54 L 1167.84 98.88 L 1168.33 100.33 L 1168.81 102.26 L 1169.05 104.2 L 1169.29 106.13 L 1168.81 108.06 L 1168.57 109.51 L 1169.78 110.23 L 1170.74 108.54 L 1171.23 106.13 L 1171.47 103.71 L 1171.71 101.3 L 1171.95 100.33 L 1174.03 100.96 L 1176.44 101.68 L 1178.86 102.65 L 1180.79 103.86 L 1182 105.07 L 1182.24 106.51 L 1181.37 107.82 L 1180.4 109.03 L 1179.44 110.48 L 1178.95 111.92 L 1178.71 113.86 L 1177.99 115.79 L 1177.02 117.24 L 1176.06 118.45 L 1174.12 119.17 L 1172.19 120.14 L 1171.23 121.1 L 1170.98 122.55 L 1170.5 124 L 1169.29 125.45 L 1168.33 126.9 L 1167.36 127.87 L 1165.43 128.83 L 1163.01 129.07 L 1160.6 128.35 L 1158.67 127.87 L 1157.94 126.9 L 1159.63 126.18 L 1161.32 125.45 L 1161.56 124 L 1160.6 122.07 L 1159.15 120.62 L 1157.22 119.17 L 1156.73 117.72 L 1156.73 115.79 L 1154.8 114.34 L 1153.59 112.89 L 1152.87 111.68 L 1153.35 114.82 L 1151.9 113.62 L 1149.97 112.41 L 1148.52 110.72 L 1147.8 108.54 L 1146.59 106.61 L 1145.14 104.68 L 1144.66 102.75 L 1145.14 100.33 L 1146.11 98.4 L 1147.31 96.47 L 1147.65 94.53 z" clip-path="url(#p8a1bfb4084)" style="fill: #549eff; stroke: #549eff; stroke-width: 0.15"/>
</g>
<g id="patch_106">
<path d="M 1156.64 90.82 L 1159.05 90.57 L 1160.74 91.3 L 1161.23 92.26 L 1159.63 92.12 L 1157.7 91.64 z" clip-path="url(#p8a1bfb4084)" style="fill: #6ef9ff; stroke: #6ef9ff; stroke-width: 0.15"/>
</g>
<g id="patch_107">
<path d="M 1145.14 100.33 L 1146.11 98.4 L 1147.31 96.47 L 1149.01 96.95 L 1151.9 96.47 L 1154.8 96.95 L 1157.22 96.23 L 1158.18 97.19 L 1159.63 97.92 L 1161.56 98.88 L 1161.81 101.3 L 1162.05 104.2 L 1162.53 106.61 L 1164.46 107.58 L 1166.88 108.54 L 1168.33 109.51 L 1167.84 111.44 L 1165.43 111.44 L 1162.53 112.41 L 1160.6 114.34 L 1158.67 115.31 L 1156.73 115.79 L 1154.8 114.34 L 1153.59 112.89 L 1151.9 113.62 L 1149.97 112.41 L 1148.52 110.72 L 1147.8 108.54 L 1146.59 106.61 L 1145.14 104.68 L 1144.66 102.75 z" clip-path="url(#p8a1bfb4084)" style="fill: #80ffc8; stroke: #80ffc8; stroke-width: 0.15"/>
</g>
<g id="patch_108">
<path d="M 1156.73 115.79 L 1159.63 114.82 L 1162.53 112.41 L 1165.43 111.44 L 1167.84 111.92 L 1168.33 113.86 L 1170.26 114.82 L 1173.16 115.79 L 1176.06 116.76 L 1176.06 118.45 L 1174.12 119.17 L 1172.19 120.14 L 1171.23 121.1 L 1170.98 122.55 L 1170.5 124 L 1169.29 125.45 L 1168.33 126.9 L 1167.36 127.87 L 1165.43 128.83 L 1163.01 129.07 L 1160.6 128.35 L 1161.56 124 L 1160.6 122.07 L 1159.15 120.62 L 1157.22 119.17 L 1156.73 117.72 z" clip-path="url(#p8a1bfb4084)" style="fill: #3a50ff; stroke: #3a50ff; stroke-width: 0.15"/>
</g>
<g id="patch_109">
<path d="M 1167.84 114.34 L 1170.26 113.13 L 1173.16 112.89 L 1176.06 113.37 L 1177.99 114.34 L 1178.47 115.31 L 1177.02 117.24 L 1176.06 117.96 L 1174.12 117.24 L 1172.19 115.79 L 1169.78 115.31 z" clip-path="url(#p8a1bfb4084)" style="fill: #343eff; stroke: #343eff; stroke-width: 0.15"/>
</g>
<g id="patch_110">
<path d="M 1177.02 103.23 L 1178.95 102.84 L 1180.79 103.86 L 1182 105.07 L 1182.24 106.51 L 1181.37 107.82 L 1179.92 108.3 L 1178.47 107.58 L 1177.51 105.65 z" clip-path="url(#p8a1bfb4084)" style="fill: #549eff; stroke: #549eff; stroke-width: 0.15"/>
</g>
<g id="patch_111">
<path d="M 1152.14 122.79 L 1153.59 122.55 L 1153.84 125.45 L 1153.59 128.83 L 1152.14 128.83 L 1152.39 125.45 z M 1150.7 130.76 L 1152.87 130.28 L 1155.28 131.01 L 1157.7 132.21 L 1159.63 132.7 L 1159.15 133.9 L 1156.73 133.66 L 1154.8 133.18 L 1153.84 134.15 L 1151.9 134.15 L 1150.7 133.18 z" clip-path="url(#p8a1bfb4084)" style="fill: #2000fd; stroke: #2000fd; stroke-width: 0.15"/>
</g>
<g id="patch_112">
<path d="M 1150.94 135.11 L 1153.35 134.63 L 1154.8 136.08 L 1156.73 136.56 L 1155.77 137.77 L 1153.84 138.01 L 1151.9 138.01 L 1151.18 137.04 z" clip-path="url(#p8a1bfb4084)" style="fill: #4d89ff; stroke: #4d89ff; stroke-width: 0.15"/>
</g>
<g id="patch_113">
<path d="M 1150.7 140.43 L 1152.87 139.46 L 1156.73 139.46 L 1156.01 140.91 L 1154.8 142.36 L 1154.08 143.57 L 1152.39 143.81 L 1151.42 142.36 z" clip-path="url(#p8a1bfb4084)" style="fill: #1c07ff; stroke: #1c07ff; stroke-width: 0.15"/>
</g>
<g id="patch_114">
<path d="M 1203.13 67.62 L 1202.89 65.68 L 1203.37 63.75 L 1205.55 63.27 L 1207.96 63.51 L 1209.41 62.79 L 1209.65 60.85 L 1209.89 59.4 L 1210.86 58.44 L 1212.31 57.47 L 1213.76 56.26 L 1215.21 55.54 L 1217.14 55.06 L 1218.11 54.33 L 1218.59 53.61 L 1218.11 52.16 L 1218.35 51.43 L 1219.31 51.19 L 1220.04 52.4 L 1221.01 53.61 L 1222.94 54.09 L 1224.87 54.33 L 1226.32 54.57 L 1227.77 53.61 L 1229.22 52.16 L 1228.73 50.71 L 1229.7 49.74 L 1231.63 49.5 L 1234.05 49.02 L 1233.56 48.54 L 1231.15 48.78 L 1229.22 48.54 L 1228.25 47.57 L 1228.73 46.36 L 1231.63 45.64 L 1234.53 45.64 L 1237.43 46.12 L 1239.84 46.84 L 1241.29 47.81 L 1240.33 48.78 L 1238.88 49.74 L 1237.91 51.19 L 1237.43 52.64 L 1235.98 53.61 L 1234.53 54.09 L 1233.08 55.06 L 1231.63 56.51 L 1230.67 57.47 L 1232.6 57.96 L 1235.01 58.2 L 1236.95 58.92 L 1236.46 60.37 L 1235.01 60.85 L 1234.05 62.3 L 1233.08 63.27 L 1232.6 64.72 L 1231.63 65.44 L 1230.67 66.65 L 1231.15 68.1 L 1229.7 68.58 L 1228.73 67.62 L 1227.77 66.17 L 1226.8 65.2 L 1225.84 64.23 L 1224.87 63.27 L 1223.9 62.79 L 1222.94 62.3 L 1221.97 61.82 L 1221.01 61.58 L 1220.52 62.3 L 1221.49 63.27 L 1222.45 64.23 L 1223.42 65.2 L 1224.63 65.93 L 1224.87 67.13 L 1223.9 66.65 L 1222.45 65.68 L 1221.01 64.72 L 1220.04 63.75 L 1219.31 62.79 L 1218.59 61.82 L 1217.14 61.34 L 1215.69 61.82 L 1214.24 62.79 L 1212.79 63.27 L 1211.83 64.23 L 1210.86 65.68 L 1210.38 67.13 L 1209.41 68.1 L 1207.48 68.58 L 1205.55 68.58 L 1203.61 68.49 z" clip-path="url(#p8a1bfb4084)" style="fill: #5bb7ff; stroke: #5bb7ff; stroke-width: 0.15"/>
</g>
<g id="patch_115">
<path d="M 1214.73 48.05 L 1217.14 46.6 L 1219.56 45.4 L 1221.97 43.22 L 1222.94 42.11 L 1225.84 41.77 L 1229.7 41.92 L 1233.56 42.11 L 1235.01 42.74 L 1234.53 43.95 L 1232.6 44.43 L 1231.15 43.95 L 1229.22 44.43 L 1227.77 45.64 L 1226.32 46.84 L 1225.35 48.29 L 1224.87 49.74 L 1223.9 51.19 L 1222.94 52.16 L 1221.49 52.64 L 1220.04 52.16 L 1219.56 50.71 L 1218.59 49.74 L 1217.14 50.23 L 1215.69 49.98 L 1214.82 49.02 z" clip-path="url(#p8a1bfb4084)" style="fill: #343eff; stroke: #343eff; stroke-width: 0.15"/>
</g>
<g id="patch_116">
<path d="M 1228.73 46.36 L 1229.7 45.4 L 1230.91 44.43 L 1232.6 44.43 L 1234.53 43.95 L 1236.46 44.91 L 1238.4 45.88 L 1239.84 46.84 L 1237.43 46.12 L 1234.53 45.64 L 1231.63 45.64 z" clip-path="url(#p8a1bfb4084)" style="fill: #6ef9ff; stroke: #6ef9ff; stroke-width: 0.15"/>
</g>
<g id="patch_117">
<path d="M 1203.37 63.99 L 1205.55 63.51 L 1207.96 63.66 L 1209.17 64.23 L 1209.41 66.17 L 1208.93 67.86 L 1207.48 68.49 L 1205.55 68.49 L 1203.71 68.34 L 1203.04 66.65 z" clip-path="url(#p8a1bfb4084)" style="fill: #1c07ff; stroke: #1c07ff; stroke-width: 0.15"/>
</g>
<g id="patch_118">
<path d="M 1222.94 57.96 L 1225.84 58.44 L 1228.73 58.92 L 1231.15 59.4 L 1232.6 60.85 L 1233.56 62.79 L 1232.6 64.48 L 1231.15 65.2 L 1229.22 64.23 L 1227.28 63.27 L 1225.35 62.3 L 1223.9 60.85 z M 1220.52 48.78 L 1222.45 48.54 L 1223.42 49.74 L 1222.94 51.43 L 1221.73 52.16 L 1220.52 51.43 L 1220.04 49.98 z" clip-path="url(#p8a1bfb4084)" style="fill: #4d89ff; stroke: #4d89ff; stroke-width: 0.15"/>
</g>
<g id="patch_119">
<path d="M 1205.79 50.71 L 1207.48 50.23 L 1208.2 51.43 L 1207.72 52.64 L 1208.93 53.61 L 1210.38 55.06 L 1211.34 56.26 L 1209.89 56.75 L 1208.45 56.99 L 1207 57.23 L 1207.24 56.02 L 1207.48 54.57 L 1206.75 53.61 L 1206.03 52.16 z" clip-path="url(#p8a1bfb4084)" style="fill: #3f5fff; stroke: #3f5fff; stroke-width: 0.15"/>
</g>
<g id="patch_120">
<path d="M 1202.41 54.57 L 1203.61 53.85 L 1205.31 54.09 L 1205.06 55.3 L 1203.61 56.02 L 1202.41 55.78 z" clip-path="url(#p8a1bfb4084)" style="fill: #2c26ff; stroke: #2c26ff; stroke-width: 0.15"/>
</g>
<g id="patch_121">
<path d="M 1217.53 63.75 L 1218.11 63.51 L 1218.35 66.65 L 1217.62 66.89 z" clip-path="url(#p8a1bfb4084)" style="fill: #3f5fff; stroke: #3f5fff; stroke-width: 0.15"/>
</g>
<g id="patch_122">
<path d="M 1221.01 67.62 L 1222.94 67.86 L 1222.7 68.58 L 1221.25 68.34 z" clip-path="url(#p8a1bfb4084)" style="fill: #76fce7; stroke: #76fce7; stroke-width: 0.15"/>
</g>
<g id="patch_123">
<path d="M 1203.86 72.45 L 1205.55 71 L 1207.48 70.03 L 1210.38 69.31 L 1213.76 68.82 L 1217.14 68.68 L 1219.07 68.82 L 1219.31 70.51 L 1218.11 70.76 L 1215.21 70.03 L 1212.31 70.27 L 1209.41 71 L 1207 71.96 L 1205.06 73.17 z M 1203.86 72.45 L 1205.55 71 L 1207.48 70.42 L 1207 71.96 L 1205.06 73.17 z" clip-path="url(#p8a1bfb4084)" style="fill: #6befff; stroke: #6befff; stroke-width: 0.15"/>
</g>
<g id="patch_124">
<path d="M 1232.12 66.17 L 1234.05 65.68 L 1236.46 65.93 L 1237.43 67.13 L 1236.46 68.58 L 1234.53 69.07 L 1233.08 68.1 z M 1239.36 67.62 L 1240.57 67.13 L 1241.29 69.07 L 1240.33 70.51 L 1239.36 71.96 L 1238.4 73.9 L 1237.43 74.86 L 1236.46 73.9 L 1237.91 72.45 L 1238.88 70.51 L 1239.6 69.07 z" clip-path="url(#p8a1bfb4084)" style="fill: #2400fb; stroke: #2400fb; stroke-width: 0.15"/>
</g>
<g id="patch_125">
<path d="M 1241.05 60.85 L 1242.74 60.37 L 1244.19 61.34 L 1244.92 62.79 L 1243.71 63.03 L 1242.26 62.3 z" clip-path="url(#p8a1bfb4084)" style="fill: #6ef9ff; stroke: #6ef9ff; stroke-width: 0.15"/>
</g>
<g id="patch_126">
<path d="M 1247.09 58.44 L 1248.06 58.2 L 1249.26 60.37 L 1248.54 60.85 z M 1244.19 59.65 L 1246.61 59.16 L 1246.85 59.89 L 1244.43 60.37 z" clip-path="url(#p8a1bfb4084)" style="fill: #343eff; stroke: #343eff; stroke-width: 0.15"/>
</g>
<g id="patch_127">
<path d="M 1246.85 44.91 L 1249.99 43.46 L 1253.37 42.74 L 1258.2 42.5 L 1263.03 42.74 L 1267.38 42.74 L 1267.86 43.95 L 1267.38 45.4 L 1265.45 44.91 L 1263.03 43.95 L 1260.62 43.95 L 1259.17 45.4 L 1258.93 47.81 L 1258.68 50.23 L 1259.41 52.64 L 1257.72 54.09 L 1255.79 54.57 L 1253.85 55.06 L 1251.92 55.54 L 1249.99 56.51 L 1248.54 57.96 L 1247.09 58.44 L 1248.06 56.51 L 1249.02 54.57 L 1249.99 52.64 L 1249.51 50.71 L 1249.99 48.78 L 1251.92 47.33 L 1253.37 46.12 L 1252.4 45.88 L 1250.47 46.6 L 1248.54 46.36 L 1247.09 45.64 z" clip-path="url(#p8a1bfb4084)" style="fill: #6ef9ff; stroke: #6ef9ff; stroke-width: 0.15"/>
</g>
<g id="patch_128">
<path d="M 1249.75 49.26 L 1251.92 48.78 L 1254.82 48.29 L 1258.2 48.05 L 1258.78 50.23 L 1259.41 52.64 L 1257.72 54.09 L 1255.79 54.57 L 1253.85 55.06 L 1251.92 54.57 L 1250.47 53.12 L 1249.51 51.19 z" clip-path="url(#p8a1bfb4084)" style="fill: #8cff8e; stroke: #8cff8e; stroke-width: 0.15"/>
</g>
<g id="patch_129">
<path d="M 1248.06 56.51 L 1249.02 54.57 L 1250.47 53.12 L 1251.92 54.57 L 1251.92 55.54 L 1249.99 56.51 L 1248.54 57.96 L 1247.09 58.44 z M 1248.78 68.1 L 1249.99 68.34 L 1251.44 69.55 L 1252.89 71.48 L 1254.34 72.93 L 1255.79 74.38 L 1256.51 75.1 L 1255.54 75.35 L 1253.85 73.9 L 1252.4 72.93 L 1250.95 73.41 L 1249.75 73.9 L 1249.99 71.96 L 1249.51 70.03 z" clip-path="url(#p8a1bfb4084)" style="fill: #6ef9ff; stroke: #6ef9ff; stroke-width: 0.15"/>
</g>
<g id="patch_130">
<path d="M 1279.21 39.6 L 1280.66 39.6 L 1281.63 41.05 L 1283.56 41.92 L 1286.46 42.11 L 1289.6 42.4 L 1289.6 43.7 L 1287.43 43.46 L 1285.01 43.22 L 1283.08 43.95 L 1281.15 44.91 L 1279.7 44.43 L 1280.42 42.98 L 1279.46 41.53 z" clip-path="url(#p8a1bfb4084)" style="fill: #7dfed2; stroke: #7dfed2; stroke-width: 0.15"/>
</g>
<g id="patch_131">
<path d="M 1265.93 47.33 L 1269.31 46.6 L 1273.18 46.75 L 1277.04 47.09 L 1279.94 47.81 L 1281.87 49.26 L 1284.29 50.71 L 1285.73 52.16 L 1284.77 53.61 L 1283.32 55.06 L 1282.84 56.99 L 1283.8 58.44 L 1285.25 60.37 L 1283.8 60.85 L 1280.9 60.37 L 1278.01 59.4 L 1275.11 58.44 L 1272.21 57.23 L 1269.31 56.02 L 1266.9 55.06 L 1265.93 54.33 L 1267.86 53.12 L 1269.31 51.68 L 1270.28 50.71 L 1268.34 49.26 L 1266.9 48.29 z" clip-path="url(#p8a1bfb4084)" style="fill: #8fff82; stroke: #8fff82; stroke-width: 0.15"/>
</g>
<g id="patch_132">
<path d="M 1265.93 54.33 L 1267.86 53.12 L 1269.31 51.68 L 1271.73 53.61 L 1273.66 56.02 L 1275.59 57.23 L 1278.01 57.96 L 1280.9 58.92 L 1283.8 59.4 L 1285.25 60.37 L 1283.8 60.85 L 1280.9 60.37 L 1278.01 59.4 L 1275.11 58.44 L 1272.21 57.23 L 1269.31 56.02 L 1266.9 55.06 z" clip-path="url(#p8a1bfb4084)" style="fill: #80ffc8; stroke: #80ffc8; stroke-width: 0.15"/>
</g>
<g id="patch_133">
<path d="M 1263.27 42.5 L 1266.17 42.4 L 1267.86 42.98 L 1267.62 45.4 L 1266.17 44.43 L 1263.27 43.95 z" clip-path="url(#p8a1bfb4084)" style="fill: #6ef9ff; stroke: #6ef9ff; stroke-width: 0.15"/>
</g>
<g id="patch_134">
<path d="M 1302.88 43.22 L 1306.27 42.5 L 1309.16 41.05 L 1311.58 39.6 L 1313.03 38.39 L 1315.2 38.63 L 1315.44 40.56 L 1315.68 42.98 L 1315.93 44.91 L 1313.99 45.4 L 1311.58 45.64 L 1309.65 44.91 L 1307.71 43.95 L 1305.78 43.46 z" clip-path="url(#p8a1bfb4084)" style="fill: #8bff95; stroke: #8bff95; stroke-width: 0.15"/>
</g>
<g id="patch_135">
<path d="M 1328.49 47.81 L 1329.45 45.88 L 1329.93 43.95 L 1331.87 42.98 L 1334.77 42.5 L 1338.63 42.01 L 1342.49 41.53 L 1345.39 41.77 L 1347.81 42.5 L 1349.26 43.46 L 1347.33 43.95 L 1344.91 44.91 L 1342.49 45.88 L 1340.08 46.84 L 1337.66 47.57 L 1334.77 48.29 L 1331.87 48.54 L 1329.93 48.54 z" clip-path="url(#p8a1bfb4084)" style="fill: #6ef9ff; stroke: #6ef9ff; stroke-width: 0.15"/>
</g>
<g id="patch_136">
<path d="M 1286.7 50.71 L 1288.87 49.74 L 1291.77 49.5 L 1294.19 49.98 L 1295.15 51.68 L 1296.12 53.61 L 1298.05 54.57 L 1299.5 53.12 L 1301.43 52.16 L 1302.88 52.16 L 1301.92 53.61 L 1300.95 55.06 L 1301.92 56.02 L 1300.95 56.99 L 1299.5 57.96 L 1299.99 59.4 L 1301.92 58.92 L 1303.85 58.44 L 1305.78 56.99 L 1307.23 55.54 L 1308.68 55.06 L 1310.13 55.78 L 1311.58 56.99 L 1313.03 57.96 L 1314.48 58.44 L 1316.41 59.4 L 1317.38 60.85 L 1316.41 62.79 L 1315.44 64.23 L 1314.48 64.96 L 1313.03 64.23 L 1311.58 64.72 L 1309.65 65.2 L 1307.71 64.96 L 1306.27 63.75 L 1304.82 62.3 L 1303.37 60.85 L 1301.92 60.13 L 1299.99 60.37 L 1298.54 59.89 L 1298.05 58.44 L 1296.6 57.47 L 1294.67 56.99 L 1292.74 56.02 L 1290.81 55.06 L 1289.36 53.61 L 1287.91 52.16 z" clip-path="url(#p8a1bfb4084)" style="fill: #549eff; stroke: #549eff; stroke-width: 0.15"/>
</g>
<g id="patch_137">
<path d="M 1318.82 57.96 L 1319.79 56.02 L 1321.24 55.06 L 1323.66 54.33 L 1325.1 55.06 L 1325.35 56.51 L 1324.14 58.44 L 1322.21 59.4 L 1320.27 58.92 z" clip-path="url(#p8a1bfb4084)" style="fill: #7bfed8; stroke: #7bfed8; stroke-width: 0.15"/>
</g>
<g id="patch_138">
<path d="M 1324.62 62.79 L 1326.07 61.58 L 1327.52 62.3 L 1328.97 62.79 L 1328 63.99 L 1326.07 64.23 L 1324.86 63.99 z" clip-path="url(#p8a1bfb4084)" style="fill: #4674ff; stroke: #4674ff; stroke-width: 0.15"/>
</g>
<g id="patch_139">
<path d="M 1316.41 71.96 L 1317.86 70.51 L 1320.27 70.03 L 1322.21 69.07 L 1324.14 67.62 L 1324.86 65.2 L 1325.83 65.2 L 1326.07 67.62 L 1325.1 69.55 L 1323.17 70.51 L 1321.24 71 L 1319.31 71.48 L 1317.62 72.45 L 1316.89 73.41 z" clip-path="url(#p8a1bfb4084)" style="fill: #62d0ff; stroke: #62d0ff; stroke-width: 0.15"/>
</g>
<g id="patch_140">
<path d="M 1313.51 67.62 L 1314.48 66.65 L 1315.68 67.62 L 1315.93 69.55 L 1314.96 70.51 L 1313.75 70.51 z" clip-path="url(#p8a1bfb4084)" style="fill: #76fce7; stroke: #76fce7; stroke-width: 0.15"/>
</g>
<g id="patch_141">
<path d="M 1276.8 70.51 L 1279.21 69.55 L 1282.11 68.1 L 1284.53 67.13 L 1287.43 66.89 L 1289.84 67.62 L 1291.29 69.07 L 1291.05 70.03 L 1288.39 69.55 L 1285.98 69.31 L 1284.04 70.03 L 1281.63 71 L 1279.21 71.24 L 1277.28 71 z" clip-path="url(#p8a1bfb4084)" style="fill: #6befff; stroke: #6befff; stroke-width: 0.15"/>
</g>
<g id="patch_142">
<path d="M 1268.34 72.93 L 1269.31 71.48 L 1270.76 70.27 L 1272.21 71.24 L 1274.14 72.21 L 1276.07 73.17 L 1277.28 73.9 L 1275.11 73.9 L 1272.69 73.65 L 1270.28 74.38 L 1268.59 75.1 z" clip-path="url(#p8a1bfb4084)" style="fill: #343eff; stroke: #343eff; stroke-width: 0.15"/>
</g>
<g id="patch_143">
<path d="M 1297.09 71.48 L 1299.02 70.51 L 1301.43 69.55 L 1303.85 68.58 L 1306.75 68.1 L 1309.65 68.1 L 1310.37 68.58 L 1308.68 69.07 L 1306.75 69.79 L 1305.3 70.51 L 1307.23 71.48 L 1308.68 72.45 L 1309.65 73.9 L 1309.89 75.83 L 1308.68 77.28 L 1307.23 78.24 L 1305.78 77.76 L 1306.75 76.31 L 1307.71 74.86 L 1307.23 73.41 L 1305.78 72.45 L 1304.33 71.96 L 1303.37 72.93 L 1304.82 73.9 L 1304.57 74.86 L 1302.88 74.14 L 1301.43 73.17 L 1299.5 72.45 L 1297.57 72.21 z" clip-path="url(#p8a1bfb4084)" style="fill: #71fbf7; stroke: #71fbf7; stroke-width: 0.15"/>
</g>
<g id="patch_144">
<path d="M 1294.19 78.24 L 1296.12 77.52 L 1298.54 77.76 L 1300.95 78.24 L 1303.61 78.49 L 1303.37 79.93 L 1301.92 80.66 L 1299.99 80.9 L 1298.05 81.38 L 1296.6 80.66 L 1295.15 79.69 z" clip-path="url(#p8a1bfb4084)" style="fill: #1900ff; stroke: #1900ff; stroke-width: 0.15"/>
</g>
<g id="patch_145">
<path d="M 1265.45 77.52 L 1266.17 77.28 L 1266.41 78.49 L 1265.69 78.73 z" clip-path="url(#p8a1bfb4084)" style="fill: #343eff; stroke: #343eff; stroke-width: 0.15"/>
</g>
<g id="patch_146">
<path d="M 1268.34 80.91 L 1270.04 79.22 L 1271.97 79.7 L 1274.38 79.95 L 1277.28 80.19 L 1279.7 79.7 L 1282.11 79.22 L 1283.56 79.95 L 1284.04 80.91 L 1282.6 82.12 L 1281.15 82.84 L 1279.7 83.81 L 1278.25 85.26 L 1276.8 86.23 L 1276.07 87.68 L 1275.83 89.61 L 1274.87 91.06 L 1273.66 92.51 L 1272.93 91.54 L 1272.21 89.61 L 1271.24 87.19 L 1270.52 84.78 L 1270.04 82.36 L 1269.07 81.15 z" clip-path="url(#p8a1bfb4084)" style="fill: #3f5fff; stroke: #3f5fff; stroke-width: 0.15"/>
</g>
<g id="patch_147">
<path d="M 1270.04 79.95 L 1271.97 79.95 L 1274.38 80.43 L 1276.8 80.91 L 1276.32 82.36 L 1277.28 84.29 L 1276.56 85.74 L 1275.35 86.71 L 1274.38 88.16 L 1273.9 90.09 L 1273.18 91.78 L 1272.21 89.61 L 1271.24 87.19 L 1270.52 84.78 L 1270.04 82.36 z" clip-path="url(#p8a1bfb4084)" style="fill: #3a50ff; stroke: #3a50ff; stroke-width: 0.15"/>
</g>
<g id="patch_148">
<path d="M 1279.21 79.95 L 1282.11 79.22 L 1283.56 79.95 L 1284.04 80.91 L 1282.6 82.12 L 1281.15 82.36 L 1279.7 81.4 z" clip-path="url(#p8a1bfb4084)" style="fill: #549eff; stroke: #549eff; stroke-width: 0.15"/>
</g>
<g id="patch_149">
<path d="M 1275.59 91.78 L 1276.56 91.54 L 1277.18 93.23 L 1276.56 94.44 L 1275.74 93.96 z" clip-path="url(#p8a1bfb4084)" style="fill: #76fce7; stroke: #76fce7; stroke-width: 0.15"/>
</g>
<g id="patch_150">
<path d="M 1283.8 78.26 L 1285.49 78.01 L 1286.94 78.74 L 1287.43 80.67 L 1287.67 82.6 L 1288.15 84.78 L 1287.43 84.29 L 1286.7 82.12 L 1285.49 80.19 L 1284.29 79.22 z" clip-path="url(#p8a1bfb4084)" style="fill: #71fbf7; stroke: #71fbf7; stroke-width: 0.15"/>
</g>
<g id="patch_151">
<path d="M 1286.94 71.49 L 1288.39 71.98 L 1289.84 73.43 L 1290.81 75.36 L 1291.53 77.77 L 1292.26 79.7 L 1293.22 80.91 L 1295.15 82.36 L 1297.09 84.29 L 1298.54 86.23 L 1299.5 88.16 L 1299.26 90.09 L 1297.57 91.06 L 1296.12 92.02 L 1295.15 90.57 L 1293.71 89.12 L 1292.26 88.16 L 1291.77 90.09 L 1291.29 92.02 L 1292.26 93.96 L 1293.71 95.89 L 1294.91 97.82 L 1294.19 98.3 L 1292.74 96.37 L 1291.29 94.44 L 1290.57 92.02 L 1290.81 89.61 L 1291.05 87.19 L 1290.81 84.78 L 1291.29 82.36 L 1291.77 80.43 L 1291.29 78.5 L 1290.57 76.08 L 1289.84 74.15 L 1288.87 72.7 z" clip-path="url(#p8a1bfb4084)" style="fill: #343eff; stroke: #343eff; stroke-width: 0.15"/>
</g>
<g id="patch_152">
<path d="M 1292.26 83.81 L 1295.15 83.33 L 1297.57 85.26 L 1298.78 87.19 L 1299.02 89.61 L 1297.09 90.57 L 1295.64 89.61 L 1297.09 89.12 L 1296.6 87.43 L 1294.19 87.68 L 1292.74 86.71 z" clip-path="url(#p8a1bfb4084)" style="fill: #76fce7; stroke: #76fce7; stroke-width: 0.15"/>
</g>
<g id="patch_153">
<path d="M 1308.44 84.54 L 1309.65 84.05 L 1310.13 85.26 L 1309.89 86.71 L 1311.1 88.16 L 1312.54 89.61 L 1313.51 91.54 L 1313.51 93.47 L 1312.54 94.68 L 1311.58 93.96 L 1311.82 92.51 L 1310.85 91.06 L 1309.65 89.61 L 1308.68 87.68 L 1308.2 86.23 z" clip-path="url(#p8a1bfb4084)" style="fill: #4d89ff; stroke: #4d89ff; stroke-width: 0.15"/>
</g>
<g id="patch_154">
<path d="M 1296.6 104.58 L 1299.02 104.68 L 1301.92 105.31 L 1304.33 106.27 L 1304.09 106.76 L 1301.43 106.13 L 1298.54 105.79 L 1296.85 105.31 z" clip-path="url(#p8a1bfb4084)" style="fill: #76fce7; stroke: #76fce7; stroke-width: 0.15"/>
</g>
<g id="patch_155">
<path d="M 1235.26 73.43 L 1236.46 73.91 L 1237.43 75.36 L 1237.91 77.29 L 1238.88 79.22 L 1239.36 81.15 L 1239.84 83.09 L 1238.88 84.05 L 1237.91 84.78 L 1236.95 85.98 L 1237.43 87.68 L 1238.15 89.61 L 1238.64 91.54 L 1237.43 92.02 L 1235.98 91.06 L 1235.01 89.61 L 1234.05 88.16 L 1233.32 86.71 L 1232.84 84.78 L 1232.6 83.33 L 1233.81 82.36 L 1235.01 81.64 L 1235.98 80.19 L 1235.98 77.77 L 1235.5 75.36 z" clip-path="url(#p8a1bfb4084)" style="fill: #6befff; stroke: #6befff; stroke-width: 0.15"/>
</g>
<g id="patch_156">
<path d="M 1235.26 92.26 L 1235.98 93.47 L 1236.95 95.4 L 1238.4 96.85 L 1239.36 98.79 L 1239.46 101.2 L 1238.4 102.17 L 1236.95 102.41 L 1235.5 102.65 L 1234.53 101.68 L 1234.29 99.75 L 1234.77 97.82 L 1235.26 95.89 L 1235.01 93.96 z" clip-path="url(#p8a1bfb4084)" style="fill: #6ef9ff; stroke: #6ef9ff; stroke-width: 0.15"/>
</g>
<g id="patch_157">
<path d="M 1240.33 100.23 L 1241.29 99.51 L 1242.74 99.75 L 1243.47 101.2 L 1243.23 103.13 L 1242.74 105.07 L 1242.26 106.03 L 1240.81 105.55 L 1239.84 104.58 L 1240.33 103.13 L 1240.57 101.68 z" clip-path="url(#p8a1bfb4084)" style="fill: #343eff; stroke: #343eff; stroke-width: 0.15"/>
</g>
<g id="patch_158">
<path d="M 1198.3 85.26 L 1200.23 85.02 L 1200.72 86.23 L 1201.2 88.16 L 1202.17 89.61 L 1203.61 89.12 L 1205.06 88.16 L 1206.75 87.77 L 1206.51 88.4 L 1205.06 88.88 L 1204.1 90.57 L 1203.61 91.78 L 1202.17 92.02 L 1201.2 90.57 L 1200.23 88.64 L 1199.27 86.71 z" clip-path="url(#p8a1bfb4084)" style="fill: #4d89ff; stroke: #4d89ff; stroke-width: 0.15"/>
</g>
<g id="patch_159">
<path d="M 1208.69 87.92 L 1209.89 88.16 L 1210.62 90.09 L 1210.14 91.78 L 1208.93 91.78 L 1208.45 90.09 z" clip-path="url(#p8a1bfb4084)" style="fill: #7bfed8; stroke: #7bfed8; stroke-width: 0.15"/>
</g>
<g id="patch_160">
<path d="M 1207.96 93.96 L 1209.41 93.71 L 1210.47 94.44 L 1209.41 95.16 L 1207.87 95.02 z" clip-path="url(#p8a1bfb4084)" style="fill: #5bb7ff; stroke: #5bb7ff; stroke-width: 0.15"/>
</g>
<g id="patch_161">
<path d="M 1231.37 118.69 L 1232.82 117.96 L 1234.27 118.69 L 1235.71 118.93 L 1237.16 119.65 L 1237.65 121.1 L 1236.68 122.55 L 1237.16 123.52 L 1236.2 124.97 L 1234.75 126.42 L 1233.3 127.38 L 1231.85 127.96 L 1230.4 127.62 L 1230.16 126.42 L 1231.37 125.93 L 1232.82 125.45 L 1233.78 124.48 L 1232.33 124.48 L 1230.88 124 L 1229.68 123.04 L 1230.4 121.59 L 1231.37 120.62 z" clip-path="url(#p8a1bfb4084)" style="fill: #4d89ff; stroke: #4d89ff; stroke-width: 0.15"/>
</g>
<g id="patch_162">
<path d="M 1224.12 123.52 L 1225.09 124.48 L 1226.54 124.97 L 1227.02 126.42 L 1227.5 128.35 L 1226.54 128.83 L 1225.57 127.87 L 1225.09 126.42 L 1224.6 124.97 z" clip-path="url(#p8a1bfb4084)" style="fill: #2000fd; stroke: #2000fd; stroke-width: 0.15"/>
</g>
<g id="patch_163">
<path d="M 1323.41 127.62 L 1324.14 126.42 L 1326.07 125.69 L 1327.04 126.42 L 1328.49 126.18 L 1330.9 126.42 L 1332.35 126.9 L 1333.32 125.93 L 1334.52 124.97 L 1335.25 125.45 L 1334.77 126.9 L 1333.8 128.35 L 1332.83 130.28 L 1330.9 131.73 L 1329.45 131.97 L 1327.52 131.73 L 1325.59 131.25 L 1324.14 129.8 z" clip-path="url(#p8a1bfb4084)" style="fill: #281eff; stroke: #281eff; stroke-width: 0.15"/>
</g>
<g id="patch_164">
<path d="M 1351.43 128.59 L 1352.4 129.07 L 1353.12 130.28 L 1354.09 131.49 L 1355.78 131.25 L 1355.3 132.45 L 1354.09 133.42 L 1353.12 134.15 L 1352.4 133.18 L 1352.64 131.73 L 1351.91 130.28 z M 1346.12 137.77 L 1347.33 136.56 L 1349.26 135.35 L 1350.71 134.15 L 1352.16 133.9 L 1351.91 135.11 L 1350.71 136.32 L 1349.26 137.77 L 1347.81 138.73 L 1346.36 138.49 z" clip-path="url(#p8a1bfb4084)" style="fill: #2213ff; stroke: #2213ff; stroke-width: 0.15"/>
</g>
<g id="patch_165">
<path d="M 1124.13 53.73 L 1129.92 53.37 L 1135.72 54.82 L 1139.34 56.99 L 1140.07 59.89 L 1137.17 61.34 L 1132.82 60.61 L 1129.2 59.16 L 1125.58 57.71 L 1123.77 55.54 z" clip-path="url(#p8a1bfb4084)" style="fill: #82ffbd; stroke: #82ffbd; stroke-width: 0.15"/>
</g>
<g id="patch_166">
<path d="M 1077.03 46.48 L 1082.1 45.76 L 1087.9 45.54 L 1092.97 45.98 L 1098.04 46.84 L 1096.59 48.44 L 1091.52 48.29 L 1086.45 47.57 L 1082.1 47.21 z" clip-path="url(#p8a1bfb4084)" style="fill: #4d89ff; stroke: #4d89ff; stroke-width: 0.15"/>
</g>
<g id="patch_167">
<path d="M 1076.67 47.21 L 1080.65 46.7 L 1085 46.84 L 1086.45 47.93 L 1085 49.74 L 1082.1 50.47 L 1079.2 51.19 L 1076.67 53.73 L 1077.75 51.92 L 1079.35 50.11 L 1077.39 48.44 z" clip-path="url(#p8a1bfb4084)" style="fill: #2000fd; stroke: #2000fd; stroke-width: 0.15"/>
</g>
<g id="patch_168">
<path d="M 1087.9 43.95 L 1092.97 43.66 L 1096.59 43.95 L 1098.04 46.48 L 1093.69 45.98 L 1089.35 45.54 z" clip-path="url(#p8a1bfb4084)" style="fill: #6ef9ff; stroke: #6ef9ff; stroke-width: 0.15"/>
</g>
<g id="patch_169">
<path d="M 1098.04 46.84 L 1103.84 46.7 L 1109.64 47.57 L 1111.08 49.38 L 1108.19 51.19 L 1103.84 51.92 L 1100.94 50.47 L 1098.77 48.66 z" clip-path="url(#p8a1bfb4084)" style="fill: #5296ff; stroke: #5296ff; stroke-width: 0.15"/>
</g>
<g id="patch_170">
<path d="M 1106.74 51.19 L 1111.08 50.47 L 1116.88 49.74 L 1122.68 49.38 L 1125.94 49.74 L 1125.58 51.19 L 1121.95 52.64 L 1118.33 53.73 L 1113.98 54.45 L 1109.64 53.73 L 1107.46 52.64 z" clip-path="url(#p8a1bfb4084)" style="fill: #3a50ff; stroke: #3a50ff; stroke-width: 0.15"/>
</g>
<g id="patch_171">
<path d="M 1101.67 52.28 L 1104.56 52.5 L 1104.71 53.51 L 1102.03 53.51 z" clip-path="url(#p8a1bfb4084)" style="fill: #2100e2; stroke: #2100e2; stroke-width: 0.15"/>
</g>
<g id="patch_172">
<path d="M 1109.27 60.61 L 1111.81 60.25 L 1113.98 62.79 L 1116.52 64.96 L 1116.16 67.13 L 1113.98 66.41 L 1111.81 65.68 L 1110 64.23 z" clip-path="url(#p8a1bfb4084)" style="fill: #2000fd; stroke: #2000fd; stroke-width: 0.15"/>
</g>
<g id="patch_173">
<path d="M 1114.35 60.61 L 1118.33 60.25 L 1121.23 63.51 L 1123.4 67.13 L 1125.58 71.48 L 1128.48 75.83 L 1129.92 78.73 L 1127.03 78 L 1124.13 75.1 L 1121.95 72.93 L 1119.78 70.03 L 1117.61 67.13 L 1115.43 64.23 z" clip-path="url(#p8a1bfb4084)" style="fill: #4674ff; stroke: #4674ff; stroke-width: 0.15"/>
</g>
<g id="patch_174">
<path d="M 1120.5 63.51 L 1123.4 64.96 L 1125.58 68.58 L 1127.75 72.93 L 1129.92 76.55 L 1128.48 77.28 L 1125.58 74.38 L 1123.4 70.76 L 1121.23 67.13 z" clip-path="url(#p8a1bfb4084)" style="fill: #343eff; stroke: #343eff; stroke-width: 0.15"/>
</g>
<g id="patch_175">
<path d="M 1116.88 57.35 L 1119.42 56.99 L 1119.78 58.44 L 1117.24 58.58 z" clip-path="url(#p8a1bfb4084)" style="fill: #2700f8; stroke: #2700f8; stroke-width: 0.15"/>
</g>
<g id="patch_176">
<path d="M 1138.26 66.41 L 1141.52 64.96 L 1145.14 64.23 L 1149.49 63.51 L 1150.21 65.68 L 1147.31 67.86 L 1144.42 70.03 L 1142.24 72.21 L 1140.07 73.65 L 1137.89 72.93 L 1137.53 70.03 z" clip-path="url(#p8a1bfb4084)" style="fill: #549eff; stroke: #549eff; stroke-width: 0.15"/>
</g>
<g id="patch_177">
<path d="M 1145.14 59.16 L 1149.49 57.71 L 1153.84 56.63 L 1156.73 55.54 L 1157.46 58.44 L 1154.56 60.61 L 1150.94 61.34 L 1147.31 61.34 z" clip-path="url(#p8a1bfb4084)" style="fill: #5296ff; stroke: #5296ff; stroke-width: 0.15"/>
</g>
<g id="patch_178">
<path d="M 1150.21 60.61 L 1153.84 59.16 L 1157.46 58.44 L 1157.82 60.61 L 1156.01 62.06 L 1153.11 63.51 L 1150.94 64.96 L 1149.85 63.51 z" clip-path="url(#p8a1bfb4084)" style="fill: #281eff; stroke: #281eff; stroke-width: 0.15"/>
</g>
<g id="patch_179">
<path d="M 1153.84 58.44 L 1157.46 58.08 L 1157.82 60.61 L 1154.56 61.34 z M 1155.28 53.73 L 1157.82 53.37 L 1160.36 54.09 L 1164.7 54.82 L 1165.07 56.26 L 1161.81 56.41 L 1158.18 55.54 L 1156.01 55.18 z" clip-path="url(#p8a1bfb4084)" style="fill: #2000fd; stroke: #2000fd; stroke-width: 0.15"/>
</g>
<g id="patch_180">
<path d="M 1157.46 49.38 L 1158.91 50.47 L 1160.72 52.64 L 1161.81 54.09 L 1158.91 53.73 L 1157.82 51.92 z" clip-path="url(#p8a1bfb4084)" style="fill: #5296ff; stroke: #5296ff; stroke-width: 0.15"/>
</g>
<g id="patch_181">
<path d="M 1142.24 72.93 L 1143.69 72.21 L 1145.14 75.83 L 1144.78 78 L 1143.69 76.55 L 1142.6 74.38 z" clip-path="url(#p8a1bfb4084)" style="fill: #5bb7ff; stroke: #5bb7ff; stroke-width: 0.15"/>
</g>
<g id="patch_182">
<path d="M 1145.14 67.13 L 1147.31 66.05 L 1149.49 67.13 L 1148.76 69.31 L 1146.59 70.76 L 1145.14 69.67 z" clip-path="url(#p8a1bfb4084)" style="fill: #84ffb5; stroke: #84ffb5; stroke-width: 0.15"/>
</g>
<g id="patch_183">
<path d="M 1124.85 80.18 L 1127.75 81.62 L 1130.65 83.44 L 1132.82 85.25 L 1129.92 85.61 L 1127.03 83.8 L 1124.85 81.99 z" clip-path="url(#p8a1bfb4084)" style="fill: #80ffc8; stroke: #80ffc8; stroke-width: 0.15"/>
</g>
<g id="patch_184">
<path d="M 1125.58 70.03 L 1128.48 72.93 L 1131.37 75.83 L 1131.01 79.45 L 1128.48 78.73 L 1126.3 75.1 z" clip-path="url(#p8a1bfb4084)" style="fill: #84ffb5; stroke: #84ffb5; stroke-width: 0.15"/>
</g>
<g id="patch_185">
<path d="M 1146.01 91.06 L 1148.43 90.57 L 1150.84 91.06 L 1150.84 92.99 L 1149.39 94.92 L 1147.94 97.34 L 1146.49 99.75 L 1145.53 102.17 L 1144.56 101.68 L 1145.29 99.27 L 1146.01 96.85 L 1147.22 94.44 L 1146.73 92.51 z" clip-path="url(#p8a1bfb4084)" style="fill: #2400fb; stroke: #2400fb; stroke-width: 0.15"/>
</g>
<g id="patch_186">
<path d="M 1148.43 92.51 L 1150.84 92.99 L 1153.26 94.44 L 1151.81 95.4 L 1149.87 96.85 L 1148.43 96.37 z" clip-path="url(#p8a1bfb4084)" style="fill: #343eff; stroke: #343eff; stroke-width: 0.15"/>
</g>
<g id="patch_187">
<path d="M 1150.36 90.57 L 1153.74 90.09 L 1157.6 90.33 L 1160.98 91.3 L 1161.47 92.51 L 1158.57 93.23 L 1155.19 92.75 L 1152.29 92.51 z" clip-path="url(#p8a1bfb4084)" style="fill: #71fbf7; stroke: #71fbf7; stroke-width: 0.15"/>
</g>
<g id="patch_188">
<path d="M 1152.29 97.34 L 1155.67 96.37 L 1158.57 96.85 L 1161.95 95.4 L 1162.43 98.3 L 1161.95 101.68 L 1159.05 101.2 L 1155.67 99.75 L 1153.26 98.79 z" clip-path="url(#p8a1bfb4084)" style="fill: #3a50ff; stroke: #3a50ff; stroke-width: 0.15"/>
</g>
<g id="patch_189">
<path d="M 1161.95 97.34 L 1164.85 97.82 L 1167.26 98.79 L 1168.23 101.68 L 1168.71 105.55 L 1168.23 108.93 L 1167.26 111.35 L 1164.37 111.83 L 1162.43 110.38 L 1162.92 107 L 1162.43 103.13 L 1161.95 100.23 z" clip-path="url(#p8a1bfb4084)" style="fill: #6ef9ff; stroke: #6ef9ff; stroke-width: 0.15"/>
</g>
<g id="patch_190">
<path d="M 1151.81 105.55 L 1155.67 106.51 L 1159.54 106.03 L 1162.43 107 L 1162.43 110.38 L 1161.95 113.76 L 1160.02 115.69 L 1157.6 116.18 L 1155.19 113.76 L 1153.26 110.38 L 1151.81 107.96 z" clip-path="url(#p8a1bfb4084)" style="fill: #8fff82; stroke: #8fff82; stroke-width: 0.15"/>
</g>
<g id="patch_191">
<path d="M 1171.13 100.23 L 1174.99 101.2 L 1178.86 102.65 L 1181.76 104.58 L 1182 106.51 L 1180.79 108.93 L 1178.86 110.86 L 1176.93 110.38 L 1174.99 108.93 L 1173.06 107 L 1171.61 104.1 z" clip-path="url(#p8a1bfb4084)" style="fill: #549eff; stroke: #549eff; stroke-width: 0.15"/>
</g>
<g id="patch_192">
<path d="M 1174.99 107 L 1177.41 106.03 L 1179.82 105.55 L 1180.79 107.48 L 1178.86 108.45 L 1176.44 108.93 z M 1174.03 111.83 L 1176.44 111.35 L 1178.38 112.79 L 1177.41 114.73 L 1174.99 114.24 z" clip-path="url(#p8a1bfb4084)" style="fill: #2000fd; stroke: #2000fd; stroke-width: 0.15"/>
</g>
<g id="patch_193">
<path d="M 1167.26 112.31 L 1170.65 111.83 L 1173.54 113.28 L 1172.58 116.18 L 1169.68 116.66 L 1167.26 115.69 z" clip-path="url(#p8a1bfb4084)" style="fill: #6ef9ff; stroke: #6ef9ff; stroke-width: 0.15"/>
</g>
<g id="patch_194">
<path d="M 1164.85 117.62 L 1167.26 117.14 L 1169.68 118.59 L 1169.2 121.49 L 1167.26 122.46 L 1165.33 121.01 z" clip-path="url(#p8a1bfb4084)" style="fill: #80ffc8; stroke: #80ffc8; stroke-width: 0.15"/>
</g>
<g id="patch_195">
<path d="M 1168.23 118.11 L 1171.13 117.87 L 1171.85 120.04 L 1169.68 120.52 z" clip-path="url(#p8a1bfb4084)" style="fill: #2400fb; stroke: #2400fb; stroke-width: 0.15"/>
</g>
<g id="patch_196">
<path d="M 1214.73 48.05 L 1217.14 46.84 L 1219.56 46.12 L 1220.52 47.81 L 1219.8 49.74 L 1218.11 50.71 L 1215.69 49.98 z" clip-path="url(#p8a1bfb4084)" style="fill: #281eff; stroke: #281eff; stroke-width: 0.15"/>
</g>
<g id="patch_197">
<path d="M 1219.56 45.88 L 1222.94 44.91 L 1224.87 46.12 L 1224.87 48.78 L 1223.9 51.19 L 1221.97 52.4 L 1220.28 51.19 L 1219.8 48.78 z" clip-path="url(#p8a1bfb4084)" style="fill: #4d89ff; stroke: #4d89ff; stroke-width: 0.15"/>
</g>
<g id="patch_198">
<path d="M 1221.97 43.22 L 1222.94 42.11 L 1225.84 41.77 L 1229.22 42.11 L 1228.73 43.95 L 1226.8 45.64 L 1224.63 45.64 L 1222.94 44.67 z" clip-path="url(#p8a1bfb4084)" style="fill: #2400fb; stroke: #2400fb; stroke-width: 0.15"/>
</g>
<g id="patch_199">
<path d="M 1227.77 45.88 L 1230.67 45.4 L 1231.63 47.33 L 1230.67 48.78 L 1228.73 48.54 z M 1229.7 49.74 L 1233.56 49.5 L 1237.43 52.16 L 1235.98 53.61 L 1233.08 53.61 L 1231.15 52.16 z" clip-path="url(#p8a1bfb4084)" style="fill: #343eff; stroke: #343eff; stroke-width: 0.15"/>
</g>
<g id="patch_200">
<path d="M 1217.14 52.16 L 1219.56 51.43 L 1221.01 53.61 L 1220.52 54.82 L 1218.11 54.33 z" clip-path="url(#p8a1bfb4084)" style="fill: #1c00fe; stroke: #1c00fe; stroke-width: 0.15"/>
</g>
<g id="patch_201">
<path d="M 1214.73 54.57 L 1219.56 54.09 L 1224.87 54.33 L 1228.73 54.82 L 1231.63 56.51 L 1231.15 58.44 L 1226.8 57.96 L 1221.97 57.71 L 1218.11 57.23 L 1215.21 56.99 z" clip-path="url(#p8a1bfb4084)" style="fill: #6ef9ff; stroke: #6ef9ff; stroke-width: 0.15"/>
</g>
<g id="patch_202">
<path d="M 1209.41 58.44 L 1212.31 57.47 L 1215.21 56.99 L 1218.11 57.47 L 1219.07 59.4 L 1218.11 61.82 L 1215.69 61.82 L 1213.28 63.03 L 1211.34 64.23 L 1209.65 62.79 z" clip-path="url(#p8a1bfb4084)" style="fill: #4d89ff; stroke: #4d89ff; stroke-width: 0.15"/>
</g>
<g id="patch_203">
<path d="M 1211.83 57.96 L 1214.48 57.86 L 1214.73 59.65 L 1212.31 59.98 z" clip-path="url(#p8a1bfb4084)" style="fill: #6ef9ff; stroke: #6ef9ff; stroke-width: 0.15"/>
</g>
<g id="patch_204">
<path d="M 1221.97 57.96 L 1225.84 58.2 L 1229.22 58.92 L 1232.12 60.37 L 1233.08 62.79 L 1231.63 64.23 L 1228.73 63.99 L 1225.84 62.79 L 1222.94 60.85 z" clip-path="url(#p8a1bfb4084)" style="fill: #4d89ff; stroke: #4d89ff; stroke-width: 0.15"/>
</g>
<g id="patch_205">
<path d="M 1219.07 61.82 L 1221.01 61.58 L 1222.94 63.27 L 1224.63 65.93 L 1224.87 67.37 L 1222.94 66.65 L 1221.01 64.72 L 1219.56 63.27 z" clip-path="url(#p8a1bfb4084)" style="fill: #76fce7; stroke: #76fce7; stroke-width: 0.15"/>
</g>
<g id="patch_206">
<path d="M 1226.32 64.23 L 1229.22 63.99 L 1231.63 65.44 L 1231.15 68.1 L 1229.7 68.58 L 1228.25 66.89 L 1226.8 65.44 z" clip-path="url(#p8a1bfb4084)" style="fill: #281eff; stroke: #281eff; stroke-width: 0.15"/>
</g>
<g id="patch_207">
<path d="M 1208.93 62.79 L 1211.83 63.27 L 1211.34 65.2 L 1210.38 67.13 L 1209.17 67.62 z" clip-path="url(#p8a1bfb4084)" style="fill: #549eff; stroke: #549eff; stroke-width: 0.15"/>
</g>
<g id="patch_208">
<path d="M 1246.61 43.95 L 1249.02 44.19 L 1251.44 45.88 L 1249.51 47.33 L 1247.57 46.12 z" clip-path="url(#p8a1bfb4084)" style="fill: #2c26ff; stroke: #2c26ff; stroke-width: 0.15"/>
</g>
<g id="patch_209">
<path d="M 1246.61 54.57 L 1249.02 53.61 L 1250.95 54.57 L 1250.47 56.51 L 1249.02 58.44 L 1247.09 60.37 L 1246.12 59.4 L 1247.09 56.99 z" clip-path="url(#p8a1bfb4084)" style="fill: #6ef9ff; stroke: #6ef9ff; stroke-width: 0.15"/>
</g>
<g id="patch_210">
<path d="M 1249.51 69.07 L 1251.44 68.82 L 1252.89 70.51 L 1251.92 71.72 L 1250.23 71 z" clip-path="url(#p8a1bfb4084)" style="fill: #343eff; stroke: #343eff; stroke-width: 0.15"/>
</g>
<g id="patch_211">
<path d="M 1305.78 55.54 L 1308.2 54.82 L 1310.13 55.78 L 1309.89 58.92 L 1307.71 60.85 L 1305.78 60.37 L 1305.3 57.96 z" clip-path="url(#p8a1bfb4084)" style="fill: #4d89ff; stroke: #4d89ff; stroke-width: 0.15"/>
</g>
<g id="patch_212">
<path d="M 1303.37 60.85 L 1305.78 60.37 L 1307.71 60.85 L 1309.89 58.92 L 1311.58 56.99 L 1314.48 58.44 L 1316.41 59.4 L 1317.38 60.85 L 1316.41 62.79 L 1315.44 64.23 L 1314.48 64.96 L 1313.03 64.23 L 1311.58 64.72 L 1309.65 65.2 L 1307.71 64.96 L 1306.27 63.75 L 1304.82 62.3 z" clip-path="url(#p8a1bfb4084)" style="fill: #60c6ff; stroke: #60c6ff; stroke-width: 0.15"/>
</g>
<g id="patch_213">
<path d="M 1299.99 69.55 L 1302.4 68.82 L 1303.13 70.51 L 1300.95 71.24 z" clip-path="url(#p8a1bfb4084)" style="fill: #4674ff; stroke: #4674ff; stroke-width: 0.15"/>
</g>
<g id="patch_214">
<path d="M 1297.09 71 L 1299.99 71.48 L 1302.88 72.45 L 1304.82 73.9 L 1304.33 74.86 L 1301.92 74.14 L 1299.5 72.93 L 1297.57 72.21 z" clip-path="url(#p8a1bfb4084)" style="fill: #7bfed8; stroke: #7bfed8; stroke-width: 0.15"/>
</g>
<g id="patch_215">
<path d="M 1292.74 81.14 L 1294.67 82.59 L 1296.6 84.52 L 1298.05 85.97 L 1299.26 88.39 L 1296.6 88.39 L 1295.15 86.46 L 1293.71 84.04 L 1292.98 82.59 z M 1270.04 83.81 L 1272.93 83.33 L 1275.35 84.29 L 1275.83 86.23 L 1274.87 88.16 L 1273.66 89.61 L 1272.21 89.61 L 1271.24 87.19 L 1270.52 85.26 z" clip-path="url(#p8a1bfb4084)" style="fill: #2400fb; stroke: #2400fb; stroke-width: 0.15"/>
</g>
<g id="patch_216">
<path d="M 1276.07 80.91 L 1278.25 79.95 L 1279.94 80.43 L 1279.7 82.36 L 1277.76 83.09 L 1276.32 82.36 z" clip-path="url(#p8a1bfb4084)" style="fill: #71fbf7; stroke: #71fbf7; stroke-width: 0.15"/>
</g>
<g id="patch_217">
<path d="M 1273.66 87.19 L 1275.35 86.71 L 1275.59 89.61 L 1274.62 91.06 L 1273.66 90.09 z" clip-path="url(#p8a1bfb4084)" style="fill: #7bfed8; stroke: #7bfed8; stroke-width: 0.15"/>
</g>
<g id="patch_218">
<path d="M 1290.08 86.71 L 1291.29 86.95 L 1291.77 90.09 L 1292.26 93.96 L 1293.71 95.89 L 1294.91 97.82 L 1294.19 98.3 L 1292.74 96.37 L 1291.29 94.44 L 1290.57 92.02 L 1290.32 89.12 z" clip-path="url(#p8a1bfb4084)" style="fill: #2700f8; stroke: #2700f8; stroke-width: 0.15"/>
</g>
<g id="patch_219">
<path d="M 1290.32 77.53 L 1292.26 78.01 L 1293.22 80.91 L 1292.98 84.78 L 1292.26 88.16 L 1291.05 87.19 L 1290.81 84.78 L 1291.29 82.36 L 1291.53 79.95 z" clip-path="url(#p8a1bfb4084)" style="fill: #71fbf7; stroke: #71fbf7; stroke-width: 0.15"/>
</g>
<g id="patch_220">
<path d="M 1292.98 81.4 L 1294.67 82.36 L 1297.09 84.29 L 1298.54 86.23 L 1298.78 88.64 L 1297.09 89.61 L 1296.6 87.43 L 1294.67 85.74 L 1293.22 83.81 z" clip-path="url(#p8a1bfb4084)" style="fill: #2200fc; stroke: #2200fc; stroke-width: 0.15"/>
</g>
<g id="patch_221">
<path d="M 1292.26 98.3 L 1294.19 100.23 L 1296.12 102.65 L 1296.6 103.62 L 1295.15 103.13 L 1293.71 101.93 L 1292.26 99.99 z" clip-path="url(#p8a1bfb4084)" style="fill: #71fbf7; stroke: #71fbf7; stroke-width: 0.15"/>
</g>
<g id="patch_222">
<path d="M 1234.53 86.71 L 1236.46 86.47 L 1237.91 88.16 L 1238.4 91.54 L 1237.19 92.02 L 1235.74 90.57 L 1234.77 88.64 z" clip-path="url(#p8a1bfb4084)" style="fill: #3f5fff; stroke: #3f5fff; stroke-width: 0.15"/>
</g>
<g id="patch_223">
<path d="M 1198.3 85.26 L 1200.23 85.02 L 1200.72 86.23 L 1201.2 88.16 L 1200.23 88.64 L 1199.27 86.71 z" clip-path="url(#p8a1bfb4084)" style="fill: #2100e2; stroke: #2100e2; stroke-width: 0.15"/>
</g>
<g id="patch_224">
<path d="M 1233.78 118.69 L 1235.71 118.93 L 1237.16 119.65 L 1237.65 121.1 L 1236.68 122.55 L 1237.16 123.52 L 1236.2 124.97 L 1234.75 126.42 L 1233.78 124.48 L 1234.27 121.59 z" clip-path="url(#p8a1bfb4084)" style="fill: #80ffc8; stroke: #80ffc8; stroke-width: 0.15"/>
</g>
<g id="patch_225">
<path d="M 1323.41 127.62 L 1324.14 126.42 L 1326.07 125.69 L 1325.59 128.35 L 1324.62 130.28 L 1324.04 129.56 z" clip-path="url(#p8a1bfb4084)" style="fill: #7bfed8; stroke: #7bfed8; stroke-width: 0.15"/>
</g>
<g id="patch_226">
<path d="M 1330.9 126.42 L 1332.35 126.9 L 1333.32 125.93 L 1334.52 124.97 L 1335.25 125.45 L 1334.77 126.9 L 1333.8 128.35 L 1332.83 130.28 L 1331.87 129.31 z" clip-path="url(#p8a1bfb4084)" style="fill: #549eff; stroke: #549eff; stroke-width: 0.15"/>
</g>
<g id="patch_227">
<path d="M 1271.73 53.61 L 1275.11 53.12 L 1277.04 53.37 L 1276.8 55.54 L 1275.59 57.23 L 1273.66 56.02 z M 1172.43 104.92 L 1174.12 103.81 L 1176.06 104.29 L 1177.02 105.74 L 1176.06 107.58 L 1175.09 109.99 L 1176.06 110.96 L 1175.09 112.02 L 1173.4 111.92 L 1172.92 109.99 L 1173.64 108.06 L 1172.67 106.61 z M 1168.81 101.3 L 1170.02 100.81 L 1170.5 103.23 L 1170.26 106.13 L 1169.54 109.03 L 1168.71 109.51 L 1169.05 106.13 L 1168.96 103.71 z" clip-path="url(#p8a1bfb4084)" style="fill: #d3d3d3; stroke: #d3d3d3; stroke-width: 0.15"/>
</g>
<g id="patch_228">
<path d="M 1067.98 274.19 L 1069.75 272.67 L 1073.04 272.06 L 1077.09 271.96 L 1080.64 272.47 L 1083.17 273.18 L 1088.23 273.48 L 1093.29 273.48 L 1098.36 273.23 L 1103.42 273.08 L 1108.48 273.38 L 1113.54 274.39 L 1119.62 274.7 L 1124.68 274.49 L 1129.74 274.19 L 1133.79 273.68 L 1135.82 274.19 L 1136.22 275.61 L 1133.79 277.63 L 1131.77 279.66 L 1130.25 281.68 L 1129.85 283.2 L 1130.76 284.31 L 1133.29 285.73 L 1136.33 287 L 1138.86 288.52 L 1140.88 290.03 L 1142.5 291.91 L 1143.41 289.78 L 1143.16 286.24 L 1143.92 283.2 L 1144.53 280.67 L 1146.45 279.76 L 1148.98 280.16 L 1151.51 281.18 L 1153.54 282.19 L 1155.06 281.68 L 1156.57 283.71 L 1158.6 285.23 L 1161.13 286.74 L 1162.65 287.76 L 1162.24 289.02 L 1160.62 289.38 L 1158.6 289.28 L 1156.57 288.77 L 1155.56 289.78 L 1155.06 291.3 L 1153.03 291.3 L 1151.01 292.06 L 1149.99 293.33 L 1152.02 293.33 L 1154.55 293.33 L 1155.82 294.08 L 1153.79 295.35 L 1156.57 294.44 L 1159 293.73 L 1159.21 294.44 L 1157.08 295.45 L 1154.55 296.21 L 1153.03 295.86 L 1151.01 296.36 L 1149.49 297.38 L 1148.48 298.64 L 1146.96 299.65 L 1145.94 301.43 L 1145.44 303.2 L 1143.92 304.46 L 1142.4 305.73 L 1141.13 306.74 L 1140.63 308.26 L 1141.13 309.78 L 1141.79 311.55 L 1141.13 312.16 L 1140.38 310.79 L 1139.62 308.77 L 1138.86 307.75 L 1136.83 307.75 L 1134.81 307.91 L 1132.78 308.26 L 1130.76 308.77 L 1128.73 309.53 L 1127.47 310.79 L 1126.96 313.07 L 1127.47 315.35 L 1128.73 317.12 L 1130.76 318.13 L 1132.78 317.62 L 1133.29 316.11 L 1134.3 315.6 L 1135.82 315.7 L 1135.57 317.12 L 1135.06 319.14 L 1136.83 320.16 L 1138.86 320.92 L 1139.11 322.43 L 1139.01 323.95 L 1138 324.46 L 1138.5 325.47 L 1140.02 326.23 L 1141.54 326.99 L 1143.06 326.74 L 1144.58 327.5 L 1144.07 328.26 L 1142.05 328 L 1140.02 326.99 L 1138 325.98 L 1136.98 324.97 L 1136.48 323.45 L 1134.45 322.43 L 1132.43 321.42 L 1130.4 320.16 L 1128.88 320.41 L 1126.86 320.16 L 1124.33 318.89 L 1122.3 317.88 L 1120.28 316.87 L 1120.28 315.85 L 1118.76 314.33 L 1117.75 313.57 L 1116.23 311.55 L 1114.71 309.53 L 1113.44 307.5 L 1112.18 305.22 L 1111.01 303.7 L 1109.49 302.44 L 1107.98 300.92 L 1106.46 299.4 L 1105.19 297.88 L 1104.43 296.36 L 1104.68 294.34 L 1105.44 292.31 L 1104.43 291.3 L 1102.91 290.29 L 1101.39 289.28 L 1100.38 287.76 L 1099.37 286.49 L 1097.85 285.73 L 1096.33 284.72 L 1094.81 283.45 L 1093.29 282.19 L 1092.28 281.18 L 1090.26 280.92 L 1088.23 281.18 L 1085.7 281.43 L 1083.17 281.68 L 1081.14 282.19 L 1079.63 283.2 L 1079.12 284.21 L 1078.11 284.72 L 1077.09 283.96 L 1075.58 284.11 L 1073.04 285.33 L 1069.75 286.64 L 1070.01 286.14 L 1073.04 284.72 L 1075.07 283.61 L 1076.49 282.44 L 1074.56 282.19 L 1072.54 281.43 L 1070.77 280.67 L 1070.01 279.66 L 1070.51 278.64 L 1069.5 277.63 L 1067.98 277.13 L 1067.48 276.11 L 1068.49 275.35 z M 1110.41 304.12 L 1111.42 303.72 L 1112.68 307.26 L 1114.2 309.54 L 1115.72 311.82 L 1116.99 313.84 L 1116.48 314.14 L 1114.96 312.07 L 1113.44 309.89 L 1111.92 307.66 L 1110.91 305.74 z M 1056.59 274.19 L 1058.36 274.19 L 1061.4 275.1 L 1064.44 276.11 L 1064.19 277.38 L 1061.91 277.23 L 1058.87 276.37 L 1056.74 275.61 z M 1148.25 265.73 L 1150.53 264.87 L 1158.63 264.72 L 1173.81 264.57 L 1186.47 264.67 L 1193.3 264.87 L 1193.56 266.49 L 1193.05 268.52 L 1191.53 270.29 L 1190.52 271.81 L 1187.99 272.82 L 1184.95 273.83 L 1181.91 274.85 L 1179.38 275.61 L 1176.85 276.37 L 1174.83 277.63 L 1173.81 279.4 L 1173.05 281.18 L 1171.79 281.43 L 1170.27 280.42 L 1168.75 279.15 L 1167.23 277.63 L 1165.97 275.86 L 1164.95 274.09 L 1165.71 273.08 L 1163.69 272.32 L 1164.45 271.3 L 1163.18 270.04 L 1161.66 269.03 L 1159.64 268.27 L 1157.11 267.76 L 1154.58 267.51 L 1152.04 267.25 L 1150.02 266.75 z M 1190.27 276.52 L 1192.04 276.01 L 1195.07 276.11 L 1197.86 276.37 L 1198.11 277.38 L 1196.59 278.14 L 1194.06 278.54 L 1191.53 278.14 L 1190.42 277.38 z M 1133.82 270.54 L 1138.38 269.94 L 1142.93 270.29 L 1146.98 271.81 L 1150.02 273.08 L 1152.04 274.34 L 1155.08 275.35 L 1156.6 276.11 L 1155.84 277.13 L 1153.56 277.63 L 1154.58 278.9 L 1152.55 279.15 L 1150.02 277.88 L 1147.49 277.13 L 1143.94 277.63 L 1144.96 276.11 L 1142.93 275.1 L 1140.4 274.09 L 1137.36 273.08 L 1134.33 272.32 z M 1130.28 264.98 L 1135.84 264.57 L 1144.96 264.87 L 1145.46 265.73 L 1140.91 266.24 L 1137.36 267 L 1135.34 266.49 L 1131.29 265.99 z M 1131.29 267.51 L 1136.35 267.25 L 1141.41 268.01 L 1140.91 269.03 L 1135.84 268.77 L 1131.79 268.52 z M 1136.86 276.62 L 1139.89 276.37 L 1140.65 277.63 L 1139.13 278.64 L 1137.11 278.14 z M 1103.42 269.78 L 1106.46 269.28 L 1111.01 269.78 L 1114.56 270.95 L 1118.61 270.8 L 1120.13 270.04 L 1123.67 269.94 L 1125.69 271.05 L 1124.68 272.82 L 1120.63 273.58 L 1115.57 273.33 L 1111.01 272.67 L 1106.46 272.32 L 1103.93 271.3 z M 1106.46 267 L 1109.49 266.24 L 1112.53 266.75 L 1112.03 268.01 L 1108.48 268.27 z M 1114.05 265.23 L 1118.61 265.73 L 1120.13 267 L 1118.1 268.52 L 1114.56 267.51 z M 1120.63 264.72 L 1124.68 264.47 L 1127.21 265.48 L 1125.69 266.49 L 1121.64 266.24 z M 1123.67 267 L 1126.71 267.25 L 1127.72 268.52 L 1125.69 269.28 L 1123.67 268.52 z M 1127.72 270.29 L 1131.77 270.8 L 1133.79 270.29 L 1135.82 271.05 L 1134.81 272.82 L 1131.77 273.08 L 1128.73 272.32 z M 1129.74 264.98 L 1135.82 264.72 L 1144.93 264.98 L 1145.44 265.73 L 1140.88 266.75 L 1135.82 267.51 L 1131.77 267 L 1130.25 265.99 z M 1133.79 268.52 L 1137.84 268.01 L 1141.89 268.52 L 1141.39 269.53 L 1136.83 269.78 L 1134.3 269.43 z M 1161.41 289.53 L 1163.18 290.79 L 1164.7 291.81 L 1165.21 293.07 L 1163.69 292.92 L 1161.66 292.62 L 1160.14 292.06 L 1160.9 290.79 z M 1138 314.45 L 1140.53 314.09 L 1143.06 314.75 L 1145.08 315.61 L 1144.83 316.27 L 1142.55 315.61 L 1140.02 315.11 L 1138.25 315.11 z M 1147.61 317.28 L 1150.15 317.13 L 1152.17 317.89 L 1151.92 318.65 L 1149.39 318.5 L 1147.72 318.14 z M 1152.93 317.89 L 1154.2 317.89 L 1154.2 318.65 L 1152.93 318.65 z M 1142.55 317.38 L 1144.07 317.28 L 1144.17 317.89 L 1142.65 317.99 z M 1157.23 318.9 L 1158.14 319.16 L 1158.35 320.93 L 1157.64 320.93 z M 1144.58 327.51 L 1145.59 325.74 L 1147.11 324.73 L 1149.13 323.71 L 1149.64 324.73 L 1150.65 324.47 L 1151.66 324.98 L 1153.69 325.23 L 1156.22 324.98 L 1157.99 325.74 L 1158.5 326.75 L 1159.76 328.02 L 1161.79 329.03 L 1163.81 329.53 L 1165.84 330.55 L 1166.85 332.07 L 1167.36 333.33 L 1168.88 334.34 L 1169.89 335.1 L 1171.91 335.86 L 1174.45 336.62 L 1176.98 337.63 L 1179 338.9 L 1180.27 340.17 L 1180.52 341.68 L 1179.61 343.05 L 1178.6 344.32 L 1177.58 345.84 L 1177.08 347.35 L 1176.82 349.38 L 1176.07 351.4 L 1175.05 352.92 L 1174.04 354.19 L 1172.02 354.95 L 1169.99 355.96 L 1168.98 356.97 L 1168.72 358.49 L 1168.22 360.01 L 1166.95 361.53 L 1165.94 363.05 L 1164.93 364.06 L 1163.41 365.07 L 1161.89 366.09 L 1161.38 367.1 L 1159.87 368.11 L 1157.84 368.62 L 1156.83 369.63 L 1156.32 371.15 L 1155.06 372.41 L 1153.79 373.68 L 1152.52 375.2 L 1153.79 376.21 L 1153.03 377.22 L 1151.77 379.25 L 1151.01 380.51 L 1152.27 381.53 L 1154.3 382.29 L 1152.78 382.69 L 1150.75 382.79 L 1148.73 382.29 L 1147.21 381.27 L 1146.45 379.75 L 1146.1 377.73 L 1146.45 375.7 L 1147.21 373.68 L 1147.72 371.65 L 1147.31 370.14 L 1147.72 367.6 L 1148.73 365.58 L 1148.98 363.55 L 1149.23 361.02 L 1149.64 358.49 L 1149.99 356.47 L 1150.25 354.44 L 1150.5 352.42 L 1150.25 350.39 L 1148.73 349.13 L 1146.7 347.86 L 1145.18 346.09 L 1144.43 343.81 L 1143.16 341.79 L 1141.64 339.76 L 1141.13 337.74 L 1141.64 335.2 L 1142.65 333.18 L 1143.92 331.15 L 1144.27 329.13 z M 1157.84 379.5 L 1160.37 379.25 L 1160.62 380.01 L 1158.09 380.16 z M 1201.91 307.26 L 1204.44 306.25 L 1206.97 304.73 L 1210.01 303.97 L 1213.55 303.46 L 1217.1 303.31 L 1219.37 303.46 L 1219.63 304.48 L 1222.16 305.74 L 1225.2 306.25 L 1227.22 305.74 L 1229.25 306.25 L 1232.28 307.01 L 1235.32 307.51 L 1236.84 307.26 L 1238.11 308.27 L 1237.85 309.28 L 1238.87 311.31 L 1240.38 313.84 L 1241.4 316.37 L 1242.41 318.4 L 1243.93 320.42 L 1245.45 321.94 L 1246.97 323.46 L 1247.98 323.97 L 1250.51 323.46 L 1253.04 322.95 L 1253.8 324.47 L 1252.76 326.09 L 1251.24 328.12 L 1249.72 329.64 L 1247.7 331.66 L 1245.67 333.69 L 1244.66 335.2 L 1244.91 337.23 L 1244.41 339.25 L 1243.65 341.28 L 1243.9 342.8 L 1244.66 344.82 L 1244.91 346.85 L 1244.16 348.37 L 1242.64 349.89 L 1241.12 351.4 L 1239.85 352.92 L 1240.36 354.95 L 1239.6 355.96 L 1238.59 357.48 L 1237.57 359.5 L 1236.06 361.53 L 1234.54 363.05 L 1232.51 364.06 L 1230.49 364.57 L 1227.96 365.07 L 1226.44 364.06 L 1225.42 362.04 L 1224.41 359.5 L 1223.4 357.48 L 1222.89 355.45 L 1221.88 352.92 L 1220.87 350.9 L 1220.36 348.87 L 1220.87 346.85 L 1221.88 344.82 L 1221.37 342.29 L 1220.36 339.76 L 1219.1 337.74 L 1218.08 335.71 L 1218.34 333.69 L 1218.08 331.66 L 1216.82 330.14 L 1214.79 329.13 L 1212.77 328.62 L 1210.24 329.13 L 1207.2 330.14 L 1205.17 329.64 L 1203.15 330.14 L 1200.11 328.12 L 1198.59 326.09 L 1197.35 324.47 L 1195.83 322.45 L 1195.33 319.92 L 1195.58 317.38 L 1196.34 314.85 L 1196.85 312.83 L 1197.86 310.8 L 1199.38 308.78 L 1200.9 307.77 z M 1252 345.33 L 1253.01 346.34 L 1252.76 348.87 L 1252 351.4 L 1250.99 354.44 L 1249.98 356.47 L 1248.21 356.72 L 1247.19 354.44 L 1247.95 351.4 L 1248.71 349.38 L 1250.23 347.35 z M 1202.42 300.92 L 1202.16 298.89 L 1202.67 296.87 L 1204.95 296.36 L 1207.48 296.62 L 1209 295.86 L 1209.25 293.83 L 1209.5 292.31 L 1208.24 291.3 L 1207.73 290.54 L 1209.5 290.29 L 1211.02 290.19 L 1212.03 289.88 L 1213.55 289.02 L 1215.07 288.26 L 1217.1 287.76 L 1218.11 287 L 1218.62 286.24 L 1218.11 284.72 L 1218.36 283.96 L 1219.37 283.71 L 1220.13 284.97 L 1221.15 286.24 L 1223.17 286.74 L 1225.2 287 L 1226.72 287.25 L 1228.23 286.24 L 1229.75 284.72 L 1229.25 283.2 L 1230.26 282.19 L 1232.28 281.93 L 1234.82 281.43 L 1234.31 280.92 L 1231.78 281.18 L 1229.75 280.92 L 1228.74 279.91 L 1229.25 278.64 L 1230.26 277.63 L 1231.52 276.62 L 1231.78 276.11 L 1229.75 276.62 L 1228.23 277.88 L 1226.72 279.15 L 1225.7 280.67 L 1225.2 282.19 L 1224.18 283.71 L 1223.17 284.72 L 1221.65 285.23 L 1220.13 284.72 L 1219.63 283.2 L 1218.62 282.19 L 1217.1 282.69 L 1215.58 282.44 L 1214.67 281.43 L 1214.57 280.42 L 1217.1 278.9 L 1219.63 277.63 L 1222.16 275.35 L 1223.17 274.19 L 1226.21 273.83 L 1230.26 273.99 L 1234.31 274.19 L 1235.83 274.85 L 1237.35 274.19 L 1239.88 273.58 L 1242.41 273.33 L 1244.43 273.83 L 1245.45 274.85 L 1244.94 276.11 L 1243.93 277.13 L 1245.45 277.63 L 1246.97 277.13 L 1247.98 276.11 L 1248.99 275.1 L 1251.52 275.35 L 1255.07 274.7 L 1260.13 274.49 L 1265.19 274.7 L 1267.72 274.19 L 1268.73 272.57 L 1267.72 271.3 L 1269.75 270.54 L 1272.28 270.8 L 1273.8 272.57 L 1273.29 274.59 L 1273.54 274.09 L 1274.56 272.32 L 1277.59 271.05 L 1280.63 269.78 L 1284.17 268.52 L 1288.22 267.76 L 1292.78 267.25 L 1297.34 266.49 L 1300.88 266.6 L 1304.93 267.25 L 1307.46 267.76 L 1305.94 268.52 L 1308.98 269.53 L 1313.54 269.94 L 1318.6 270.04 L 1323.66 270.54 L 1328.72 270.8 L 1330.75 270.29 L 1333.79 270.54 L 1338.85 271.56 L 1343.91 272.32 L 1348.97 272.82 L 1354.04 273.08 L 1356.57 272.82 L 1361.63 273.08 L 1363.65 274.19 L 1363.65 276.62 L 1362.64 278.39 L 1360.62 279.15 L 1358.09 279.66 L 1355.56 280.42 L 1352.52 281.18 L 1350.49 282.19 L 1348.97 283.45 L 1348.47 285.23 L 1346.44 286.74 L 1344.42 288.52 L 1343.66 289.28 L 1343.41 287.25 L 1343.15 285.23 L 1344.42 283.71 L 1346.44 282.19 L 1348.47 280.92 L 1349.48 280.16 L 1347.46 280.42 L 1344.42 281.18 L 1341.38 281.68 L 1338.34 281.93 L 1336.32 282.19 L 1333.79 282.69 L 1331.26 283.71 L 1329.23 284.72 L 1327.71 285.73 L 1330.75 287.25 L 1330.5 289.28 L 1329.23 291.3 L 1327.21 292.31 L 1325.18 293.33 L 1323.66 294.84 L 1322.14 296.36 L 1320.62 297.38 L 1319.11 298.13 L 1320.37 298.64 L 1320.12 299.91 L 1320.62 301.93 L 1320.37 303.45 L 1318.6 304.21 L 1317.84 302.94 L 1318.09 300.92 L 1317.59 299.4 L 1316.07 299.15 L 1314.55 299.91 L 1314.8 301.43 L 1313.03 301.93 L 1314.04 303.45 L 1314.3 305.48 L 1314.55 308.01 L 1313.54 310.03 L 1312.02 311.55 L 1311.01 312.06 L 1309.49 311.55 L 1308.47 313.07 L 1307.46 314.59 L 1305.94 315.35 L 1304.42 316.11 L 1302.91 316.61 L 1301.89 316.11 L 1301.89 317.89 L 1302.4 320.42 L 1303.41 322.45 L 1303.16 324.47 L 1301.39 325.48 L 1299.87 326.5 L 1298.86 324.98 L 1297.34 323.46 L 1295.82 322.45 L 1295.31 324.47 L 1294.81 326.5 L 1295.82 328.52 L 1297.34 330.55 L 1298.6 332.57 L 1297.84 333.08 L 1296.32 331.05 L 1294.81 329.03 L 1294.05 326.5 L 1294.3 323.97 L 1294.55 321.43 L 1294.3 318.9 L 1293.79 317.38 L 1292.78 315.87 L 1291.77 318.4 L 1291.51 318.9 L 1290.76 316.63 L 1290.25 313.84 L 1289.24 312.83 L 1287.21 314.85 L 1285.69 316.12 L 1284.17 316.88 L 1282.66 317.89 L 1281.14 319.41 L 1279.62 320.42 L 1278.86 321.94 L 1278.61 323.97 L 1277.59 325.48 L 1276.33 327 L 1275.57 325.99 L 1274.81 323.97 L 1273.8 321.43 L 1273.04 318.9 L 1272.53 316.37 L 1271.52 315.11 L 1270.76 314.85 L 1270.25 313.33 L 1268.73 311.82 L 1266.71 312.32 L 1264.18 312.58 L 1261.65 312.32 L 1259.62 311.82 L 1258.1 311.31 L 1256.08 310.3 L 1254.05 308.78 L 1252.03 307.26 L 1251.27 307.26 L 1251.02 307.77 L 1251.52 308.78 L 1252.53 309.79 L 1254.05 311.31 L 1255.57 312.32 L 1257.09 311.82 L 1258.1 312.83 L 1259.62 313.84 L 1261.14 314.85 L 1260.13 316.37 L 1258.1 318.4 L 1255.57 319.92 L 1253.04 321.43 L 1250.51 322.45 L 1247.98 323.46 L 1246.97 322.45 L 1245.95 320.42 L 1244.43 317.89 L 1242.92 315.36 L 1241.4 312.83 L 1239.88 310.3 L 1238.87 308.78 L 1239.88 308.02 L 1240.89 306.75 L 1240.89 306.49 L 1241.14 303.96 L 1241.4 302.18 L 1239.88 301.93 L 1238.36 302.54 L 1236.33 302.44 L 1234.82 302.69 L 1233.3 302.18 L 1232.54 300.92 L 1232.28 299.4 L 1233.04 298.39 L 1233.8 297.38 L 1232.28 298.13 L 1231.27 298.39 L 1231.78 299.91 L 1232.03 301.43 L 1231.27 302.44 L 1230.51 302.94 L 1229.75 301.43 L 1228.74 299.91 L 1227.73 298.89 L 1226.72 297.88 L 1225.7 296.87 L 1224.69 296.11 L 1223.68 295.6 L 1222.41 294.95 L 1221.15 294.59 L 1220.54 295.35 L 1221.65 296.36 L 1222.67 297.38 L 1223.68 298.39 L 1224.94 299.15 L 1225.45 300.16 L 1224.44 300.92 L 1224.18 299.91 L 1222.67 298.89 L 1221.15 297.88 L 1220.13 296.87 L 1219.37 295.86 L 1218.62 294.84 L 1217.1 294.34 L 1215.58 294.84 L 1214.06 295.86 L 1212.54 296.36 L 1211.53 297.38 L 1210.52 298.89 L 1210.01 300.41 L 1209 301.43 L 1206.97 301.93 L 1204.95 301.93 L 1202.92 301.83 z M 1205.2 283.2 L 1206.97 282.69 L 1207.73 283.96 L 1207.22 285.23 L 1208.49 286.24 L 1210.01 287.76 L 1211.02 289.02 L 1209.5 289.53 L 1207.98 289.78 L 1206.47 290.03 L 1206.72 288.77 L 1206.97 287.25 L 1206.21 286.24 L 1205.45 284.72 z M 1201.66 287.25 L 1202.92 286.49 L 1204.69 286.74 L 1204.44 288.01 L 1202.92 288.77 L 1201.66 288.52 z M 1217.5 296.87 L 1218.11 296.62 L 1218.36 299.91 L 1217.6 300.16 z M 1221.15 300.92 L 1223.17 301.17 L 1222.92 301.93 L 1221.4 301.68 z M 1232.28 303.96 L 1234.31 303.86 L 1234.41 304.36 L 1232.39 304.46 z M 1238.11 303.2 L 1239.37 302.94 L 1239.47 303.7 L 1238.26 303.86 z M 1219.88 264.87 L 1224.44 264.47 L 1230.01 265.23 L 1230.51 265.99 L 1227.47 266.24 L 1224.44 267 L 1222.92 266.6 L 1221.4 265.73 z M 1254.56 271.05 L 1256.58 269.28 L 1259.62 268.01 L 1263.67 267.25 L 1268.23 267 L 1268.48 267.76 L 1264.18 268.27 L 1260.63 269.03 L 1258.1 270.29 L 1256.08 271.81 z M 1290.5 264.72 L 1295.56 264.47 L 1299.61 264.98 L 1299.11 265.73 L 1295.06 265.58 L 1291.01 265.48 z M 1290.76 264.87 L 1294.81 264.47 L 1299.36 264.98 L 1299.87 265.73 L 1295.82 265.89 L 1291.77 265.73 z M 1327.21 268.01 L 1331.26 267.61 L 1333.79 268.01 L 1338.34 268.52 L 1337.84 269.13 L 1333.28 268.92 L 1328.22 268.92 z M 1362.64 271.56 L 1364.16 271.66 L 1364.06 272.32 L 1362.74 272.27 z M 1331.26 287.25 L 1332.01 287.5 L 1332.37 290.29 L 1332.17 293.33 L 1331.51 293.33 L 1331.36 290.29 z M 1329.74 295.86 L 1331.26 294.59 L 1332.77 295.35 L 1334.29 295.86 L 1333.28 297.12 L 1331.26 297.38 L 1329.99 297.12 z M 1321.13 305.48 L 1322.65 303.96 L 1325.18 303.45 L 1327.21 302.44 L 1329.23 300.92 L 1329.99 298.39 L 1331 298.39 L 1331.26 300.92 L 1330.24 302.94 L 1328.22 303.96 L 1326.19 304.46 L 1324.17 304.97 L 1322.4 305.98 L 1321.64 306.99 z M 1319.11 305.48 L 1320.62 305.22 L 1320.88 306.74 L 1319.61 307.25 z M 1313.03 312.58 L 1313.79 312.32 L 1313.54 314.09 L 1313.03 314.09 z M 1303.16 316.63 L 1304.42 316.37 L 1304.42 317.64 L 1303.41 317.89 z M 1278.35 326.24 L 1279.36 325.99 L 1280.02 327.76 L 1279.36 329.03 L 1278.5 328.52 z M 1312.78 318.65 L 1314.04 318.14 L 1314.55 319.41 L 1314.3 320.93 L 1315.56 322.45 L 1317.08 323.97 L 1318.09 325.99 L 1318.09 328.02 L 1317.08 329.28 L 1316.07 328.52 L 1316.32 327 L 1315.31 325.48 L 1314.04 323.97 L 1313.03 321.94 L 1312.52 320.42 z M 1310.25 327 L 1312.52 324.47 L 1313.03 324.98 L 1310.75 327.51 z M 1303.41 333.58 L 1305.44 332.07 L 1307.46 330.55 L 1309.49 329.03 L 1311.01 328.52 L 1311.26 330.55 L 1310.5 332.57 L 1309.49 334.6 L 1308.47 336.12 L 1306.96 336.87 L 1304.93 336.12 L 1303.66 335.1 z M 1291.77 329.79 L 1293.03 329.53 L 1294.81 331.56 L 1296.83 333.58 L 1298.86 335.61 L 1299.87 337.63 L 1298.86 338.14 L 1297.34 336.87 L 1295.82 334.85 L 1293.79 332.57 L 1292.27 330.8 z M 1300.37 339.66 L 1302.91 339.76 L 1305.94 340.42 L 1308.47 341.43 L 1308.22 341.94 L 1305.44 341.28 L 1302.4 340.92 L 1300.63 340.42 z M 1312.52 333.58 L 1316.07 333.33 L 1316.57 334.09 L 1314.04 334.34 L 1313.54 336.12 L 1314.8 338.14 L 1314.04 338.65 L 1312.52 336.62 L 1312.27 334.6 z M 1309.49 341.68 L 1312.52 341.58 L 1315.56 341.94 L 1318.09 341.68 L 1318.09 342.29 L 1315.06 342.6 L 1312.02 342.29 L 1309.59 342.29 z M 1322.14 335.1 L 1324.17 334.85 L 1327.21 336.12 L 1330.24 336.37 L 1332.77 337.63 L 1335.31 339.15 L 1337.33 341.68 L 1338.34 343.46 L 1336.32 342.7 L 1334.29 341.18 L 1331.26 341.68 L 1328.72 340.67 L 1327.71 339.15 L 1325.69 338.14 L 1323.66 337.13 L 1322.4 336.12 z M 1337.33 338.65 L 1339.86 337.63 L 1340.37 338.14 L 1337.84 339.41 z M 1307.21 354.44 L 1308.47 353.18 L 1311.01 352.16 L 1313.54 350.9 L 1315.06 349.13 L 1316.57 347.86 L 1318.6 346.85 L 1320.62 346.09 L 1321.64 344.82 L 1323.66 344.57 L 1326.19 345.08 L 1326.95 346.09 L 1326.19 347.35 L 1327.71 348.37 L 1329.74 349.13 L 1330.75 347.86 L 1331.26 345.84 L 1331.76 344.32 L 1332.52 345.58 L 1333.28 347.35 L 1334.29 348.87 L 1335.31 350.9 L 1336.82 352.92 L 1338.34 354.95 L 1339.86 356.97 L 1340.87 359 L 1341.13 361.02 L 1340.37 363.05 L 1339.36 364.57 L 1338.34 366.59 L 1336.32 368.11 L 1334.8 368.36 L 1332.77 368.11 L 1330.75 367.6 L 1329.23 366.09 L 1328.22 364.06 L 1326.19 363.3 L 1325.18 362.54 L 1323.16 362.04 L 1320.62 362.29 L 1318.09 363.05 L 1315.56 363.81 L 1313.03 364.57 L 1310.5 365.07 L 1308.73 364.57 L 1308.47 362.54 L 1307.97 360.52 L 1307.46 358.49 L 1307.21 356.47 z M 1334.04 370.39 L 1336.32 370.39 L 1335.81 372.16 L 1334.8 372.41 z M 1357.83 364.82 L 1358.85 365.33 L 1359.6 366.59 L 1360.62 367.86 L 1362.39 367.6 L 1361.88 368.87 L 1360.62 369.88 L 1359.6 370.64 L 1358.85 369.63 L 1359.1 368.11 L 1358.34 366.59 z M 1352.26 374.44 L 1353.53 373.17 L 1355.56 371.91 L 1357.07 370.64 L 1358.59 370.39 L 1358.34 371.65 L 1357.07 372.92 L 1355.56 374.44 L 1354.04 375.45 L 1352.52 375.2 z M 1361.38 349.63 L 1363.4 348.62 L 1363.76 349.28 L 1361.88 350.64 z" clip-path="url(#p8a1bfb4084)" style="fill: #d3d3d3; stroke: #d3d3d3; stroke-width: 0.15"/>
</g>
<g id="patch_229">
<path d="M 1234.56 294.59 L 1236.84 293.83 L 1239.37 293.58 L 1241.4 294.08 L 1242.16 295.6 L 1243.93 296.36 L 1246.21 296.36 L 1247.47 297.12 L 1246.97 298.39 L 1244.94 298.64 L 1242.41 298.39 L 1239.88 298.64 L 1237.35 298.64 L 1235.32 298.13 L 1234.31 296.87 z M 1251.77 293.83 L 1253.55 293.33 L 1255.07 294.08 L 1255.57 296.36 L 1255.07 298.39 L 1255.82 300.41 L 1255.57 302.94 L 1254.05 303.7 L 1252.79 302.94 L 1252.28 300.92 L 1252.53 298.89 L 1251.77 296.87 L 1251.52 295.35 z" clip-path="url(#p8a1bfb4084)" style="fill: #ffffff; stroke: #ffffff; stroke-width: 0.15"/>
</g>
<g id="patch_230">
<path d="M 1069.75 286.64 L 1073.04 285.33 L 1075.58 284.11 L 1077.7 282.8 L 1076.49 282.44 L 1074.56 282.19 L 1072.54 281.43 L 1070.77 280.67 L 1070.01 279.66 L 1072.03 278.75 L 1074.56 277.88 L 1076.59 278.14 L 1078.61 277.63 L 1081.14 277.02 L 1084.18 276.62 L 1086.21 276.01 L 1088.23 275.61 L 1090.51 275.61 L 1091.37 276.62 L 1092.79 277.63 L 1094.81 278.39 L 1098.36 278.9 L 1101.39 279.25 L 1104.43 279.76 L 1106.96 280.06 L 1108.99 279.4 L 1111.01 279.66 L 1113.04 280.67 L 1115.06 281.58 L 1118.1 281.93 L 1120.63 281.43 L 1122.66 282.09 L 1124.18 283.2 L 1125.69 284.21 L 1127.72 283.71 L 1129.74 282.95 L 1130.1 283.71 L 1128.23 284.47 L 1126.2 285.12 L 1124.93 285.83 L 1125.69 286.74 L 1127.72 287.76 L 1130.25 288.77 L 1132.78 290.29 L 1135.31 291.3 L 1137.84 292.57 L 1139.87 293.33 L 1141.39 293.07 L 1143.41 292.31 L 1145.44 291.05 L 1147.46 289.78 L 1149.49 288.52 L 1151.51 287.25 L 1153.03 286.49 L 1154.55 286.24 L 1155.56 284.72 L 1155.06 281.68 L 1156.57 283.71 L 1158.6 285.23 L 1161.13 286.74 L 1162.65 287.76 L 1162.24 289.02 L 1160.62 289.38 L 1158.6 289.28 L 1156.57 288.77 L 1155.56 289.78 L 1155.06 291.3 L 1153.03 291.3 L 1151.01 292.06 L 1149.99 293.33 L 1152.02 293.33 L 1154.55 293.33 L 1155.82 294.08 L 1153.79 295.35 L 1156.57 294.44 L 1159 293.73 L 1159.21 294.44 L 1157.08 295.45 L 1154.55 296.21 L 1153.03 295.86 L 1151.01 296.36 L 1149.49 297.38 L 1148.48 298.64 L 1146.96 299.65 L 1145.94 301.43 L 1145.44 303.2 L 1143.92 304.46 L 1142.4 305.73 L 1141.13 306.74 L 1140.63 308.26 L 1141.13 309.78 L 1141.79 311.55 L 1141.13 312.16 L 1140.38 310.79 L 1139.62 308.77 L 1138.86 307.75 L 1136.83 307.75 L 1134.81 307.91 L 1132.78 308.26 L 1130.76 308.77 L 1128.73 309.53 L 1127.47 310.79 L 1126.96 313.07 L 1127.47 315.35 L 1128.73 317.12 L 1130.76 318.13 L 1130.76 319.65 L 1130.4 320.16 L 1128.88 320.41 L 1126.86 320.16 L 1124.33 318.89 L 1122.3 317.88 L 1120.28 316.87 L 1120.28 315.85 L 1118.76 314.33 L 1117.75 313.57 L 1116.23 311.55 L 1114.71 309.53 L 1113.44 307.5 L 1112.18 305.22 L 1111.01 303.7 L 1109.49 302.44 L 1107.98 300.92 L 1106.46 299.4 L 1105.19 297.88 L 1104.43 296.36 L 1104.68 294.34 L 1105.44 292.31 L 1104.43 291.3 L 1102.91 290.29 L 1101.39 289.28 L 1100.38 287.76 L 1099.37 286.49 L 1097.85 285.73 L 1096.33 284.72 L 1094.81 283.45 L 1093.29 282.19 L 1092.28 281.18 L 1090.26 280.92 L 1088.23 281.18 L 1085.7 281.43 L 1083.17 281.68 L 1081.14 282.19 L 1079.63 283.2 L 1079.12 284.21 L 1078.11 284.72 L 1077.09 283.96 L 1075.58 284.11 L 1073.04 285.33 z" clip-path="url(#p8a1bfb4084)" style="fill: #6befff; stroke: #6befff; stroke-width: 0.15"/>
</g>
<g id="patch_231">
<path d="M 1110.41 304.12 L 1111.42 303.72 L 1112.68 307.26 L 1114.2 309.54 L 1115.72 311.82 L 1116.99 313.84 L 1116.48 314.14 L 1114.96 312.07 L 1113.44 309.89 L 1111.92 307.66 L 1110.91 305.74 z" clip-path="url(#p8a1bfb4084)" style="fill: #6ef9ff; stroke: #6ef9ff; stroke-width: 0.15"/>
</g>
<g id="patch_232">
<path d="M 1161.41 289.53 L 1163.18 290.79 L 1164.7 291.81 L 1165.21 293.07 L 1163.69 292.92 L 1161.66 292.62 L 1160.14 292.06 L 1160.9 290.79 z" clip-path="url(#p8a1bfb4084)" style="fill: #343eff; stroke: #343eff; stroke-width: 0.15"/>
</g>
<g id="patch_233">
<path d="M 1129.39 318.9 L 1131.41 318.4 L 1132.93 317.38 L 1133.19 315.87 L 1135.97 315.61 L 1135.72 317.38 L 1135.21 318.9 L 1135.97 320.42 L 1138 320.68 L 1139.01 322.45 L 1139.01 323.97 L 1138 324.47 L 1136.98 324.98 L 1136.48 323.46 L 1134.45 322.45 L 1132.43 321.43 L 1130.4 320.17 z" clip-path="url(#p8a1bfb4084)" style="fill: #6befff; stroke: #6befff; stroke-width: 0.15"/>
</g>
<g id="patch_234">
<path d="M 1136.98 324.98 L 1138.5 325.48 L 1140.02 326.24 L 1141.54 327 L 1143.06 326.75 L 1144.58 327.51 L 1144.07 328.27 L 1142.05 328.02 L 1140.02 327 L 1138 325.99 z" clip-path="url(#p8a1bfb4084)" style="fill: #1c00fe; stroke: #1c00fe; stroke-width: 0.15"/>
</g>
<g id="patch_235">
<path d="M 1144.58 327.51 L 1145.59 325.74 L 1147.11 324.73 L 1149.13 323.71 L 1149.64 324.73 L 1149.74 326.09 L 1148.98 327.1 L 1150.75 327.61 L 1152.78 327.36 L 1153.79 328.62 L 1154.3 330.65 L 1155.31 331.66 L 1156.32 330.65 L 1157.84 330.14 L 1159.11 330.9 L 1159.36 332.67 L 1161.38 333.18 L 1163.92 332.67 L 1166.45 332.67 L 1167.21 333.33 L 1165.43 333.69 L 1165.94 335.2 L 1166.45 337.23 L 1166.7 339.25 L 1166.95 341.28 L 1166.45 343.3 L 1166.19 344.82 L 1167.46 345.58 L 1168.47 343.81 L 1168.98 341.28 L 1169.23 338.75 L 1169.48 336.22 L 1169.74 335.2 L 1171.91 335.86 L 1174.45 336.62 L 1176.98 337.63 L 1179 338.9 L 1180.27 340.17 L 1180.52 341.68 L 1179.61 343.05 L 1178.6 344.32 L 1177.58 345.84 L 1177.08 347.35 L 1176.82 349.38 L 1176.07 351.4 L 1175.05 352.92 L 1174.04 354.19 L 1172.02 354.95 L 1169.99 355.96 L 1168.98 356.97 L 1168.72 358.49 L 1168.22 360.01 L 1166.95 361.53 L 1165.94 363.05 L 1164.93 364.06 L 1162.9 365.07 L 1160.37 365.33 L 1157.84 364.57 L 1155.82 364.06 L 1155.06 363.05 L 1156.83 362.29 L 1158.6 361.53 L 1158.85 360.01 L 1157.84 357.99 L 1156.32 356.47 L 1154.3 354.95 L 1153.79 353.43 L 1153.79 351.4 L 1151.77 349.89 L 1150.5 348.37 L 1149.74 347.1 L 1150.25 350.39 L 1148.73 349.13 L 1146.7 347.86 L 1145.18 346.09 L 1144.43 343.81 L 1143.16 341.79 L 1141.64 339.76 L 1141.13 337.74 L 1141.64 335.2 L 1142.65 333.18 L 1143.92 331.15 L 1144.27 329.13 z" clip-path="url(#p8a1bfb4084)" style="fill: #62d0ff; stroke: #62d0ff; stroke-width: 0.15"/>
</g>
<g id="patch_236">
<path d="M 1141.64 335.2 L 1142.65 333.18 L 1143.92 331.15 L 1145.69 331.66 L 1148.73 331.15 L 1151.77 331.66 L 1154.3 330.9 L 1155.31 331.91 L 1156.83 332.67 L 1158.85 333.69 L 1159.11 336.22 L 1159.36 339.25 L 1159.87 341.79 L 1161.89 342.8 L 1164.42 343.81 L 1165.94 344.82 L 1165.43 346.85 L 1162.9 346.85 L 1159.87 347.86 L 1157.84 349.89 L 1155.82 350.9 L 1153.79 351.4 L 1151.77 349.89 L 1150.5 348.37 L 1148.73 349.13 L 1146.7 347.86 L 1145.18 346.09 L 1144.43 343.81 L 1143.16 341.79 L 1141.64 339.76 L 1141.13 337.74 z" clip-path="url(#p8a1bfb4084)" style="fill: #6ef9ff; stroke: #6ef9ff; stroke-width: 0.15"/>
</g>
<g id="patch_237">
<path d="M 1153.79 351.4 L 1156.83 350.39 L 1159.87 347.86 L 1162.9 346.85 L 1165.43 347.35 L 1165.94 349.38 L 1167.97 350.39 L 1171 351.4 L 1174.04 352.42 L 1174.04 354.19 L 1172.02 354.95 L 1169.99 355.96 L 1168.98 356.97 L 1168.72 358.49 L 1168.22 360.01 L 1166.95 361.53 L 1165.94 363.05 L 1164.93 364.06 L 1162.9 365.07 L 1160.37 365.33 L 1157.84 364.57 L 1158.85 360.01 L 1157.84 357.99 L 1156.32 356.47 L 1154.3 354.95 L 1153.79 353.43 z" clip-path="url(#p8a1bfb4084)" style="fill: #4d89ff; stroke: #4d89ff; stroke-width: 0.15"/>
</g>
<g id="patch_238">
<path d="M 1165.43 349.89 L 1167.97 348.62 L 1171 348.37 L 1174.04 348.87 L 1176.07 349.89 L 1176.57 350.9 L 1175.05 352.92 L 1174.04 353.68 L 1172.02 352.92 L 1169.99 351.4 L 1167.46 350.9 z M 1175.05 338.24 L 1177.08 337.84 L 1179 338.9 L 1180.27 340.17 L 1180.52 341.68 L 1179.61 343.05 L 1178.09 343.56 L 1176.57 342.8 L 1175.56 340.77 z" clip-path="url(#p8a1bfb4084)" style="fill: #549eff; stroke: #549eff; stroke-width: 0.15"/>
</g>
<g id="patch_239">
<path d="M 1148.98 358.74 L 1150.5 358.49 L 1150.75 361.53 L 1150.5 365.07 L 1148.98 365.07 L 1149.23 361.53 z" clip-path="url(#p8a1bfb4084)" style="fill: #71fbf7; stroke: #71fbf7; stroke-width: 0.15"/>
</g>
<g id="patch_240">
<path d="M 1202.42 300.92 L 1202.16 298.89 L 1202.67 296.87 L 1204.95 296.36 L 1207.48 296.62 L 1209 295.86 L 1209.25 293.83 L 1209.5 292.31 L 1210.52 291.3 L 1212.03 290.29 L 1213.55 289.02 L 1215.07 288.26 L 1217.1 287.76 L 1218.11 287 L 1218.62 286.24 L 1218.11 284.72 L 1218.36 283.96 L 1219.37 283.71 L 1220.13 284.97 L 1221.15 286.24 L 1223.17 286.74 L 1225.2 287 L 1226.72 287.25 L 1228.23 286.24 L 1229.75 284.72 L 1229.25 283.2 L 1230.26 282.19 L 1232.28 281.93 L 1234.82 281.43 L 1234.31 280.92 L 1231.78 281.18 L 1229.75 280.92 L 1228.74 279.91 L 1229.25 278.64 L 1232.28 277.88 L 1235.32 277.88 L 1238.36 278.39 L 1240.89 279.15 L 1242.41 280.16 L 1241.4 281.18 L 1239.88 282.19 L 1238.87 283.71 L 1238.36 285.23 L 1236.84 286.24 L 1235.32 286.74 L 1233.8 287.76 L 1232.28 289.28 L 1231.27 290.29 L 1233.3 290.79 L 1235.83 291.05 L 1237.85 291.81 L 1237.35 293.33 L 1235.83 293.83 L 1234.82 295.35 L 1233.8 296.36 L 1233.3 297.88 L 1232.28 298.64 L 1231.27 299.91 L 1231.78 301.43 L 1230.26 301.93 L 1229.25 300.92 L 1228.23 299.4 L 1227.22 298.39 L 1226.21 297.38 L 1225.2 296.36 L 1224.18 295.86 L 1223.17 295.35 L 1222.16 294.84 L 1221.15 294.59 L 1220.64 295.35 L 1221.65 296.36 L 1222.67 297.38 L 1223.68 298.39 L 1224.94 299.15 L 1225.2 300.41 L 1224.18 299.91 L 1222.67 298.89 L 1221.15 297.88 L 1220.13 296.87 L 1219.37 295.86 L 1218.62 294.84 L 1217.1 294.34 L 1215.58 294.84 L 1214.06 295.86 L 1212.54 296.36 L 1211.53 297.38 L 1210.52 298.89 L 1210.01 300.41 L 1209 301.43 L 1206.97 301.93 L 1204.95 301.93 L 1202.92 301.83 z" clip-path="url(#p8a1bfb4084)" style="fill: #62d0ff; stroke: #62d0ff; stroke-width: 0.15"/>
</g>
<g id="patch_241">
<path d="M 1214.57 280.42 L 1217.1 278.9 L 1219.63 277.63 L 1222.16 275.35 L 1223.17 274.19 L 1226.21 273.83 L 1230.26 273.99 L 1234.31 274.19 L 1235.83 274.85 L 1235.32 276.11 L 1233.3 276.62 L 1231.78 276.11 L 1229.75 276.62 L 1228.23 277.88 L 1226.72 279.15 L 1225.7 280.67 L 1225.2 282.19 L 1224.18 283.71 L 1223.17 284.72 L 1221.65 285.23 L 1220.13 284.72 L 1219.63 283.2 L 1218.62 282.19 L 1217.1 282.69 L 1215.58 282.44 L 1214.67 281.43 z" clip-path="url(#p8a1bfb4084)" style="fill: #7bfed8; stroke: #7bfed8; stroke-width: 0.15"/>
</g>
<g id="patch_242">
<path d="M 1229.25 278.64 L 1230.26 277.63 L 1231.52 276.62 L 1233.3 276.62 L 1235.32 276.11 L 1237.35 277.13 L 1239.37 278.14 L 1240.89 279.15 L 1238.36 278.39 L 1235.32 277.88 L 1232.28 277.88 z" clip-path="url(#p8a1bfb4084)" style="fill: #4d89ff; stroke: #4d89ff; stroke-width: 0.15"/>
</g>
<g id="patch_243">
<path d="M 1202.67 297.12 L 1204.95 296.62 L 1207.48 296.77 L 1208.74 297.38 L 1209 299.4 L 1208.49 301.17 L 1206.97 301.83 L 1204.95 301.83 L 1203.02 301.68 L 1202.31 299.91 z" clip-path="url(#p8a1bfb4084)" style="fill: #4674ff; stroke: #4674ff; stroke-width: 0.15"/>
</g>
<g id="patch_244">
<path d="M 1223.17 290.79 L 1226.21 291.3 L 1229.25 291.81 L 1231.78 292.31 L 1233.3 293.83 L 1234.31 295.86 L 1233.3 297.63 L 1231.78 298.39 L 1229.75 297.38 L 1227.73 296.36 L 1225.7 295.35 L 1224.18 293.83 z" clip-path="url(#p8a1bfb4084)" style="fill: #6befff; stroke: #6befff; stroke-width: 0.15"/>
</g>
<g id="patch_245">
<path d="M 1220.64 281.18 L 1222.67 280.92 L 1223.68 282.19 L 1223.17 283.96 L 1221.91 284.72 L 1220.64 283.96 L 1220.13 282.44 z" clip-path="url(#p8a1bfb4084)" style="fill: #2200fc; stroke: #2200fc; stroke-width: 0.15"/>
</g>
<g id="patch_246">
<path d="M 1205.2 283.2 L 1206.97 282.69 L 1207.73 283.96 L 1207.22 285.23 L 1208.49 286.24 L 1210.01 287.76 L 1211.02 289.02 L 1209.5 289.53 L 1207.98 289.78 L 1206.47 290.03 L 1206.72 288.77 L 1206.97 287.25 L 1206.21 286.24 L 1205.45 284.72 z" clip-path="url(#p8a1bfb4084)" style="fill: #4d89ff; stroke: #4d89ff; stroke-width: 0.15"/>
</g>
<g id="patch_247">
<path d="M 1201.66 287.25 L 1202.92 286.49 L 1204.69 286.74 L 1204.44 288.01 L 1202.92 288.77 L 1201.66 288.52 z" clip-path="url(#p8a1bfb4084)" style="fill: #281eff; stroke: #281eff; stroke-width: 0.15"/>
</g>
<g id="patch_248">
<path d="M 1217.5 296.87 L 1218.11 296.62 L 1218.36 299.91 L 1217.6 300.16 z" clip-path="url(#p8a1bfb4084)" style="fill: #76fce7; stroke: #76fce7; stroke-width: 0.15"/>
</g>
<g id="patch_249">
<path d="M 1221.15 300.92 L 1223.17 301.17 L 1222.92 301.93 L 1221.4 301.68 z" clip-path="url(#p8a1bfb4084)" style="fill: #7bfed8; stroke: #7bfed8; stroke-width: 0.15"/>
</g>
<g id="patch_250">
<path d="M 1232.79 299.4 L 1234.82 298.89 L 1237.35 299.15 L 1238.36 300.41 L 1237.35 301.93 L 1235.32 302.44 L 1233.8 301.43 z" clip-path="url(#p8a1bfb4084)" style="fill: #281eff; stroke: #281eff; stroke-width: 0.15"/>
</g>
<g id="patch_251">
<path d="M 1240.38 300.92 L 1241.65 300.41 L 1242.41 302.44 L 1241.4 303.96 L 1240.38 305.48 L 1239.37 307.5 L 1238.36 308.51 L 1237.35 307.5 L 1238.87 305.98 L 1239.88 303.96 L 1240.64 302.44 z" clip-path="url(#p8a1bfb4084)" style="fill: #1c00fe; stroke: #1c00fe; stroke-width: 0.15"/>
</g>
<g id="patch_252">
<path d="M 1242.16 293.83 L 1243.93 293.33 L 1245.45 294.34 L 1246.21 295.86 L 1244.94 296.11 L 1243.42 295.35 z M 1248.48 291.3 L 1249.5 291.05 L 1250.76 293.33 L 1250 293.83 z" clip-path="url(#p8a1bfb4084)" style="fill: #4d89ff; stroke: #4d89ff; stroke-width: 0.15"/>
</g>
<g id="patch_253">
<path d="M 1245.45 292.57 L 1247.98 292.06 L 1248.23 292.82 L 1245.7 293.33 z" clip-path="url(#p8a1bfb4084)" style="fill: #2400fb; stroke: #2400fb; stroke-width: 0.15"/>
</g>
<g id="patch_254">
<path d="M 1248.23 277.13 L 1251.52 275.61 L 1255.07 274.85 L 1260.13 274.59 L 1265.19 274.85 L 1269.75 274.85 L 1270.25 276.11 L 1269.75 277.63 L 1267.72 277.13 L 1265.19 276.11 L 1262.66 276.11 L 1261.14 277.63 L 1260.89 280.16 L 1260.63 282.69 L 1261.39 285.23 L 1259.62 286.74 L 1257.6 287.25 L 1255.57 287.76 L 1253.55 288.26 L 1251.52 289.28 L 1250 290.79 L 1248.48 291.3 L 1249.5 289.28 L 1250.51 287.25 L 1251.52 285.23 L 1251.02 283.2 L 1251.52 281.18 L 1253.55 279.66 L 1255.07 278.39 L 1254.05 278.14 L 1252.03 278.9 L 1250 278.64 L 1248.48 277.88 z" clip-path="url(#p8a1bfb4084)" style="fill: #62d0ff; stroke: #62d0ff; stroke-width: 0.15"/>
</g>
<g id="patch_255">
<path d="M 1251.27 281.68 L 1253.55 281.18 L 1256.58 280.67 L 1260.13 280.42 L 1260.74 282.69 L 1261.39 285.23 L 1259.62 286.74 L 1257.6 287.25 L 1255.57 287.76 L 1253.55 287.25 L 1252.03 285.73 L 1251.02 283.71 z" clip-path="url(#p8a1bfb4084)" style="fill: #8fff82; stroke: #8fff82; stroke-width: 0.15"/>
</g>
<g id="patch_256">
<path d="M 1249.5 289.28 L 1250.51 287.25 L 1252.03 285.73 L 1253.55 287.25 L 1253.55 288.26 L 1251.52 289.28 L 1250 290.79 L 1248.48 291.3 z" clip-path="url(#p8a1bfb4084)" style="fill: #5296ff; stroke: #5296ff; stroke-width: 0.15"/>
</g>
<g id="patch_257">
<path d="M 1250.26 301.43 L 1251.52 301.68 L 1253.04 302.94 L 1254.56 304.97 L 1256.08 306.49 L 1257.6 308.01 L 1258.36 308.77 L 1257.34 309.02 L 1255.57 307.5 L 1254.05 306.49 L 1252.53 306.99 L 1251.27 307.5 L 1251.52 305.48 L 1251.02 303.45 z" clip-path="url(#p8a1bfb4084)" style="fill: #549eff; stroke: #549eff; stroke-width: 0.15"/>
</g>
<g id="patch_258">
<path d="M 1282.15 271.56 L 1283.67 271.56 L 1284.68 273.08 L 1286.71 273.99 L 1289.74 274.19 L 1293.03 274.49 L 1293.03 275.86 L 1290.76 275.61 L 1288.22 275.35 L 1286.2 276.11 L 1284.17 277.13 L 1282.66 276.62 L 1283.41 275.1 L 1282.4 273.58 z" clip-path="url(#p8a1bfb4084)" style="fill: #71fbf7; stroke: #71fbf7; stroke-width: 0.15"/>
</g>
<g id="patch_259">
<path d="M 1268.23 279.66 L 1271.77 278.9 L 1275.82 279.05 L 1279.87 279.4 L 1282.91 280.16 L 1284.93 281.68 L 1287.46 283.2 L 1288.98 284.72 L 1287.97 286.24 L 1286.45 287.76 L 1285.95 289.78 L 1286.96 291.3 L 1288.48 293.33 L 1286.96 293.83 L 1283.92 293.33 L 1280.88 292.31 L 1277.85 291.3 L 1274.81 290.03 L 1271.77 288.77 L 1269.24 287.76 L 1268.23 287 L 1270.25 285.73 L 1271.77 284.21 L 1272.78 283.2 L 1270.76 281.68 L 1269.24 280.67 z" clip-path="url(#p8a1bfb4084)" style="fill: #8fff82; stroke: #8fff82; stroke-width: 0.15"/>
</g>
<g id="patch_260">
<path d="M 1268.23 287 L 1270.25 285.73 L 1271.77 284.21 L 1274.3 286.24 L 1276.33 288.77 L 1278.35 290.03 L 1280.88 290.79 L 1283.92 291.81 L 1286.96 292.31 L 1288.48 293.33 L 1286.96 293.83 L 1283.92 293.33 L 1280.88 292.31 L 1277.85 291.3 L 1274.81 290.03 L 1271.77 288.77 L 1269.24 287.76 z" clip-path="url(#p8a1bfb4084)" style="fill: #5bb7ff; stroke: #5bb7ff; stroke-width: 0.15"/>
</g>
<g id="patch_261">
<path d="M 1265.44 274.59 L 1268.48 274.49 L 1270.25 275.1 L 1270 277.63 L 1268.48 276.62 L 1265.44 276.11 z" clip-path="url(#p8a1bfb4084)" style="fill: #6befff; stroke: #6befff; stroke-width: 0.15"/>
</g>
<g id="patch_262">
<path d="M 1306.96 275.35 L 1310.5 274.59 L 1313.54 273.08 L 1316.07 271.56 L 1317.59 270.29 L 1319.86 270.54 L 1320.12 272.57 L 1320.37 275.1 L 1320.62 277.13 L 1318.6 277.63 L 1316.07 277.88 L 1314.04 277.13 L 1312.02 276.11 L 1309.99 275.61 z" clip-path="url(#p8a1bfb4084)" style="fill: #4674ff; stroke: #4674ff; stroke-width: 0.15"/>
</g>
<g id="patch_263">
<path d="M 1333.79 280.16 L 1334.8 278.14 L 1335.31 276.11 L 1337.33 275.1 L 1340.37 274.59 L 1344.42 274.09 L 1348.47 273.58 L 1351.51 273.83 L 1354.04 274.59 L 1355.56 275.61 L 1353.53 276.11 L 1351 277.13 L 1348.47 278.14 L 1345.94 279.15 L 1343.41 279.91 L 1340.37 280.67 L 1337.33 280.92 L 1335.31 280.92 z" clip-path="url(#p8a1bfb4084)" style="fill: #67e0ff; stroke: #67e0ff; stroke-width: 0.15"/>
</g>
<g id="patch_264">
<path d="M 1290 283.2 L 1292.27 282.19 L 1295.31 281.93 L 1297.84 282.44 L 1298.86 284.21 L 1299.87 286.24 L 1301.89 287.25 L 1303.41 285.73 L 1305.44 284.72 L 1306.96 284.72 L 1305.94 286.24 L 1304.93 287.76 L 1305.94 288.77 L 1304.93 289.78 L 1303.41 290.79 L 1303.92 292.31 L 1305.94 291.81 L 1307.97 291.3 L 1309.99 289.78 L 1311.51 288.26 L 1313.03 287.76 L 1314.55 288.52 L 1316.07 289.78 L 1317.59 290.79 L 1319.11 291.3 L 1321.13 292.31 L 1322.14 293.83 L 1321.13 295.86 L 1320.12 297.38 L 1319.11 298.13 L 1317.59 297.38 L 1316.07 297.88 L 1314.04 298.39 L 1312.02 298.13 L 1310.5 296.87 L 1308.98 295.35 L 1307.46 293.83 L 1305.94 293.07 L 1303.92 293.33 L 1302.4 292.82 L 1301.89 291.3 L 1300.37 290.29 L 1298.35 289.78 L 1296.32 288.77 L 1294.3 287.76 L 1292.78 286.24 L 1291.26 284.72 z" clip-path="url(#p8a1bfb4084)" style="fill: #88ffa1; stroke: #88ffa1; stroke-width: 0.15"/>
</g>
<g id="patch_265">
<path d="M 1323.66 290.79 L 1324.67 288.77 L 1326.19 287.76 L 1328.72 287 L 1330.24 287.76 L 1330.5 289.28 L 1329.23 291.3 L 1327.21 292.31 L 1325.18 291.81 z" clip-path="url(#p8a1bfb4084)" style="fill: #84ffb5; stroke: #84ffb5; stroke-width: 0.15"/>
</g>
<g id="patch_266">
<path d="M 1329.74 295.86 L 1331.26 294.59 L 1332.77 295.35 L 1334.29 295.86 L 1333.28 297.12 L 1331.26 297.38 L 1329.99 297.12 z" clip-path="url(#p8a1bfb4084)" style="fill: #2700f8; stroke: #2700f8; stroke-width: 0.15"/>
</g>
<g id="patch_267">
<path d="M 1321.13 305.48 L 1322.65 303.96 L 1325.18 303.45 L 1327.21 302.44 L 1329.23 300.92 L 1329.99 298.39 L 1331 298.39 L 1331.26 300.92 L 1330.24 302.94 L 1328.22 303.96 L 1326.19 304.46 L 1324.17 304.97 L 1322.4 305.98 L 1321.64 306.99 z" clip-path="url(#p8a1bfb4084)" style="fill: #281eff; stroke: #281eff; stroke-width: 0.15"/>
</g>
<g id="patch_268">
<path d="M 1318.09 300.92 L 1319.11 299.91 L 1320.37 300.92 L 1320.62 302.94 L 1319.61 303.96 L 1318.35 303.96 z" clip-path="url(#p8a1bfb4084)" style="fill: #343eff; stroke: #343eff; stroke-width: 0.15"/>
</g>
<g id="patch_269">
<path d="M 1279.62 303.96 L 1282.15 302.94 L 1285.19 301.43 L 1287.72 300.41 L 1290.76 300.16 L 1293.29 300.92 L 1294.81 302.44 L 1294.55 303.45 L 1291.77 302.94 L 1289.24 302.69 L 1287.21 303.45 L 1284.68 304.46 L 1282.15 304.72 L 1280.12 304.46 z" clip-path="url(#p8a1bfb4084)" style="fill: #3f5fff; stroke: #3f5fff; stroke-width: 0.15"/>
</g>
<g id="patch_270">
<path d="M 1270.76 306.49 L 1271.77 304.97 L 1273.29 303.7 L 1274.81 304.72 L 1276.83 305.73 L 1278.86 306.74 L 1280.12 307.5 L 1277.85 307.5 L 1275.32 307.25 L 1272.78 308.01 L 1271.01 308.77 z" clip-path="url(#p8a1bfb4084)" style="fill: #5bb7ff; stroke: #5bb7ff; stroke-width: 0.15"/>
</g>
<g id="patch_271">
<path d="M 1300.88 304.97 L 1302.91 303.96 L 1305.44 302.94 L 1307.97 301.93 L 1311.01 301.43 L 1314.04 301.43 L 1314.8 301.93 L 1313.03 302.44 L 1311.01 303.2 L 1309.49 303.96 L 1311.51 304.97 L 1313.03 305.98 L 1314.04 307.5 L 1314.3 309.53 L 1313.03 311.04 L 1311.51 312.06 L 1309.99 311.55 L 1311.01 310.03 L 1312.02 308.51 L 1311.51 306.99 L 1309.99 305.98 L 1308.47 305.48 L 1307.46 306.49 L 1308.98 307.5 L 1308.73 308.51 L 1306.96 307.75 L 1305.44 306.74 L 1303.41 305.98 L 1301.39 305.73 z" clip-path="url(#p8a1bfb4084)" style="fill: #62d0ff; stroke: #62d0ff; stroke-width: 0.15"/>
</g>
<g id="patch_272">
<path d="M 1297.84 312.06 L 1299.87 311.3 L 1302.4 311.55 L 1304.93 312.06 L 1307.71 312.31 L 1307.46 313.83 L 1305.94 314.59 L 1303.92 314.84 L 1301.89 315.35 L 1300.37 314.59 L 1298.86 313.57 z" clip-path="url(#p8a1bfb4084)" style="fill: #281eff; stroke: #281eff; stroke-width: 0.15"/>
</g>
<g id="patch_273">
<path d="M 1270.76 314.85 L 1272.53 313.08 L 1274.56 313.59 L 1277.09 313.84 L 1280.12 314.09 L 1282.66 313.59 L 1285.19 313.08 L 1286.71 313.84 L 1287.21 314.85 L 1285.69 316.12 L 1284.17 316.88 L 1282.66 317.89 L 1281.14 319.41 L 1279.62 320.42 L 1278.86 321.94 L 1278.61 323.97 L 1277.59 325.48 L 1276.33 327 L 1275.57 325.99 L 1274.81 323.97 L 1273.8 321.43 L 1273.04 318.9 L 1272.53 316.37 L 1271.52 315.11 z" clip-path="url(#p8a1bfb4084)" style="fill: #84ffb5; stroke: #84ffb5; stroke-width: 0.15"/>
</g>
<g id="patch_274">
<path d="M 1272.53 313.84 L 1274.56 313.84 L 1277.09 314.35 L 1279.62 314.85 L 1279.11 316.37 L 1280.12 318.4 L 1279.36 319.92 L 1278.1 320.93 L 1277.09 322.45 L 1276.58 324.47 L 1275.82 326.24 L 1274.81 323.97 L 1273.8 321.43 L 1273.04 318.9 L 1272.53 316.37 z" clip-path="url(#p8a1bfb4084)" style="fill: #7bfed8; stroke: #7bfed8; stroke-width: 0.15"/>
</g>
<g id="patch_275">
<path d="M 1278.35 326.24 L 1279.36 325.99 L 1280.02 327.76 L 1279.36 329.03 L 1278.5 328.52 z" clip-path="url(#p8a1bfb4084)" style="fill: #71fbf7; stroke: #71fbf7; stroke-width: 0.15"/>
</g>
<g id="patch_276">
<path d="M 1286.96 312.07 L 1288.73 311.82 L 1290.25 312.58 L 1290.76 314.6 L 1291.01 316.63 L 1291.51 318.9 L 1290.76 318.4 L 1290 316.12 L 1288.73 314.09 L 1287.46 313.08 z" clip-path="url(#p8a1bfb4084)" style="fill: #7bfed8; stroke: #7bfed8; stroke-width: 0.15"/>
</g>
<g id="patch_277">
<path d="M 1290.25 304.98 L 1291.77 305.49 L 1293.29 307.01 L 1294.3 309.03 L 1295.06 311.56 L 1295.82 313.59 L 1296.83 314.85 L 1298.86 316.37 L 1300.88 318.4 L 1302.4 320.42 L 1303.41 322.45 L 1303.16 324.47 L 1301.39 325.48 L 1299.87 326.5 L 1298.86 324.98 L 1297.34 323.46 L 1295.82 322.45 L 1295.31 324.47 L 1294.81 326.5 L 1295.82 328.52 L 1297.34 330.55 L 1298.6 332.57 L 1297.84 333.08 L 1296.32 331.05 L 1294.81 329.03 L 1294.05 326.5 L 1294.3 323.97 L 1294.55 321.43 L 1294.3 318.9 L 1294.81 316.37 L 1295.31 314.35 L 1294.81 312.32 L 1294.05 309.79 L 1293.29 307.77 L 1292.27 306.25 z" clip-path="url(#p8a1bfb4084)" style="fill: #4d89ff; stroke: #4d89ff; stroke-width: 0.15"/>
</g>
<g id="patch_278">
<path d="M 1295.82 317.89 L 1298.86 317.38 L 1301.39 319.41 L 1302.65 321.43 L 1302.91 323.97 L 1300.88 324.98 L 1299.36 323.97 L 1300.88 323.46 L 1300.37 321.69 L 1297.84 321.94 L 1296.32 320.93 z" clip-path="url(#p8a1bfb4084)" style="fill: #62d0ff; stroke: #62d0ff; stroke-width: 0.15"/>
</g>
<g id="patch_279">
<path d="M 1312.78 318.65 L 1314.04 318.14 L 1314.55 319.41 L 1314.3 320.93 L 1315.56 322.45 L 1317.08 323.97 L 1318.09 325.99 L 1318.09 328.02 L 1317.08 329.28 L 1316.07 328.52 L 1316.32 327 L 1315.31 325.48 L 1314.04 323.97 L 1313.03 321.94 L 1312.52 320.42 z" clip-path="url(#p8a1bfb4084)" style="fill: #7bfed8; stroke: #7bfed8; stroke-width: 0.15"/>
</g>
<g id="patch_280">
<path d="M 1300.37 339.66 L 1302.91 339.76 L 1305.94 340.42 L 1308.47 341.43 L 1308.22 341.94 L 1305.44 341.28 L 1302.4 340.92 L 1300.63 340.42 z" clip-path="url(#p8a1bfb4084)" style="fill: #2400fb; stroke: #2400fb; stroke-width: 0.15"/>
</g>
<g id="patch_281">
<path d="M 1236.08 307.01 L 1237.35 307.51 L 1238.36 309.03 L 1238.87 311.06 L 1239.88 313.08 L 1240.38 315.11 L 1240.89 317.13 L 1239.88 318.14 L 1238.87 318.9 L 1237.85 320.17 L 1238.36 321.94 L 1239.12 323.97 L 1239.62 325.99 L 1238.36 326.5 L 1236.84 325.48 L 1235.83 323.97 L 1234.82 322.45 L 1234.06 320.93 L 1233.55 318.9 L 1233.3 317.38 L 1234.56 316.37 L 1235.83 315.61 L 1236.84 314.09 L 1236.84 311.56 L 1236.33 309.03 z" clip-path="url(#p8a1bfb4084)" style="fill: #2200fc; stroke: #2200fc; stroke-width: 0.15"/>
</g>
<g id="patch_282">
<path d="M 1236.08 326.75 L 1236.84 328.02 L 1237.85 330.04 L 1239.37 331.56 L 1240.38 333.58 L 1240.49 336.12 L 1239.37 337.13 L 1237.85 337.38 L 1236.33 337.63 L 1235.32 336.62 L 1235.07 334.6 L 1235.57 332.57 L 1236.08 330.55 L 1235.83 328.52 z" clip-path="url(#p8a1bfb4084)" style="fill: #4d89ff; stroke: #4d89ff; stroke-width: 0.15"/>
</g>
<g id="patch_283">
<path d="M 1241.4 335.1 L 1242.41 334.34 L 1243.93 334.6 L 1244.69 336.12 L 1244.43 338.14 L 1243.93 340.17 L 1243.42 341.18 L 1241.9 340.67 L 1240.89 339.66 L 1241.4 338.14 L 1241.65 336.62 z" clip-path="url(#p8a1bfb4084)" style="fill: #5bb7ff; stroke: #5bb7ff; stroke-width: 0.15"/>
</g>
<g id="patch_284">
<path d="M 1197.35 319.41 L 1199.38 319.16 L 1199.88 320.42 L 1200.39 322.45 L 1201.4 323.97 L 1202.92 323.46 L 1204.44 322.45 L 1206.21 322.04 L 1205.96 322.7 L 1204.44 323.21 L 1203.43 324.98 L 1202.92 326.24 L 1201.4 326.5 L 1200.39 324.98 L 1199.38 322.95 L 1198.37 320.93 z" clip-path="url(#p8a1bfb4084)" style="fill: #549eff; stroke: #549eff; stroke-width: 0.15"/>
</g>
<g id="patch_285">
<path d="M 1208.24 322.19 L 1209.5 322.45 L 1210.26 324.47 L 1209.76 326.24 L 1208.49 326.24 L 1207.98 324.47 z" clip-path="url(#p8a1bfb4084)" style="fill: #76fce7; stroke: #76fce7; stroke-width: 0.15"/>
</g>
<g id="patch_286">
<path d="M 1232.01 354.44 L 1233.52 353.68 L 1235.04 354.44 L 1236.56 354.69 L 1238.08 355.45 L 1238.59 356.97 L 1237.57 358.49 L 1238.08 359.5 L 1237.07 361.02 L 1235.55 362.54 L 1234.03 363.55 L 1232.51 364.16 L 1230.99 363.81 L 1230.74 362.54 L 1232.01 362.04 L 1233.52 361.53 L 1234.54 360.52 L 1233.02 360.52 L 1231.5 360.01 L 1230.23 359 L 1230.99 357.48 L 1232.01 356.47 z" clip-path="url(#p8a1bfb4084)" style="fill: #2000fd; stroke: #2000fd; stroke-width: 0.15"/>
</g>
<g id="patch_287">
<path d="M 1224.41 359.5 L 1225.42 360.52 L 1226.94 361.02 L 1227.45 362.54 L 1227.96 364.57 L 1226.94 365.07 L 1225.93 364.06 L 1225.42 362.54 L 1224.92 361.02 z" clip-path="url(#p8a1bfb4084)" style="fill: #62d0ff; stroke: #62d0ff; stroke-width: 0.15"/>
</g>
<g id="patch_288">
<path d="M 1328.47 363.81 L 1329.23 362.54 L 1331.26 361.78 L 1332.27 362.54 L 1333.79 362.29 L 1336.32 362.54 L 1337.84 363.05 L 1338.85 362.04 L 1340.11 361.02 L 1340.87 361.53 L 1340.37 363.05 L 1339.36 364.57 L 1338.34 366.59 L 1336.32 368.11 L 1334.8 368.36 L 1332.77 368.11 L 1330.75 367.6 L 1329.23 366.09 z" clip-path="url(#p8a1bfb4084)" style="fill: #549eff; stroke: #549eff; stroke-width: 0.15"/>
</g>
<g id="patch_289">
<path d="M 1357.83 364.82 L 1358.85 365.33 L 1359.6 366.59 L 1360.62 367.86 L 1362.39 367.6 L 1361.88 368.87 L 1360.62 369.88 L 1359.6 370.64 L 1358.85 369.63 L 1359.1 368.11 L 1358.34 366.59 z M 1352.26 374.44 L 1353.53 373.17 L 1355.56 371.91 L 1357.07 370.64 L 1358.59 370.39 L 1358.34 371.65 L 1357.07 372.92 L 1355.56 374.44 L 1354.04 375.45 L 1352.52 375.2 z" clip-path="url(#p8a1bfb4084)" style="fill: #2000fd; stroke: #2000fd; stroke-width: 0.15"/>
</g>
<g id="patch_290">
<path d="M 1070.46 278.11 L 1076.26 277.02 L 1082.05 276.52 L 1087.85 277.53 L 1093.65 278.47 L 1099.44 278.83 L 1099.44 281.73 L 1095.1 282.09 L 1090.75 280.28 L 1086.4 279.2 L 1082.05 280.28 L 1077.71 281.73 L 1073.36 282.09 L 1070.82 280.28 z" clip-path="url(#p8a1bfb4084)" style="fill: #2400fb; stroke: #2400fb; stroke-width: 0.15"/>
</g>
<g id="patch_291">
<path d="M 1069.74 278.83 L 1074.08 277.96 L 1076.26 279.56 L 1072.63 280.65 z" clip-path="url(#p8a1bfb4084)" style="fill: #4d89ff; stroke: #4d89ff; stroke-width: 0.15"/>
</g>
<g id="patch_292">
<path d="M 1086.4 275.36 L 1090.75 275.07 L 1093.65 276.66 L 1090.75 277.53 L 1087.13 277.02 z" clip-path="url(#p8a1bfb4084)" style="fill: #76fce7; stroke: #76fce7; stroke-width: 0.15"/>
</g>
<g id="patch_293">
<path d="M 1106.69 279.56 L 1111.04 278.98 L 1114.66 280.28 L 1114.3 283.91 L 1112.49 286.44 L 1108.86 286.8 L 1104.52 286.44 L 1101.62 284.63 L 1102.34 283.54 L 1107.41 283.18 L 1108.14 281.37 z" clip-path="url(#p8a1bfb4084)" style="fill: #2200fc; stroke: #2200fc; stroke-width: 0.15"/>
</g>
<g id="patch_294">
<path d="M 1115.38 283.91 L 1119.73 283.18 L 1125.53 282.82 L 1129.88 283.04 L 1129.15 284.63 L 1124.08 286.08 L 1119.73 286.95 L 1116.11 286.44 z" clip-path="url(#p8a1bfb4084)" style="fill: #5296ff; stroke: #5296ff; stroke-width: 0.15"/>
</g>
<g id="patch_295">
<path d="M 1110.31 287.17 L 1114.66 286.44 L 1119.73 287.17 L 1119.01 289.34 L 1115.38 290.43 L 1112.49 290.79 L 1111.04 288.98 z" clip-path="url(#p8a1bfb4084)" style="fill: #1c00d5; stroke: #1c00d5; stroke-width: 0.15"/>
</g>
<g id="patch_296">
<path d="M 1119.73 288.25 L 1125.53 287.53 L 1131.33 288.98 L 1136.4 291.15 L 1137.85 294.78 L 1134.22 296.22 L 1129.88 294.78 L 1125.53 292.6 L 1121.18 291.15 z" clip-path="url(#p8a1bfb4084)" style="fill: #80ffc8; stroke: #80ffc8; stroke-width: 0.15"/>
</g>
<g id="patch_297">
<path d="M 1104.52 293.69 L 1107.41 293.33 L 1110.31 296.22 L 1112.49 299.12 L 1111.04 302.02 L 1108.14 301.3 L 1105.24 298.4 L 1104.15 295.86 z" clip-path="url(#p8a1bfb4084)" style="fill: #343eff; stroke: #343eff; stroke-width: 0.15"/>
</g>
<g id="patch_298">
<path d="M 1112.49 296.22 L 1116.11 295.5 L 1119.01 299.12 L 1121.18 303.47 L 1124.08 307.82 L 1125.89 312.17 L 1123.35 311.44 L 1120.46 307.82 L 1117.56 304.19 L 1114.66 300.57 z" clip-path="url(#p8a1bfb4084)" style="fill: #3f5fff; stroke: #3f5fff; stroke-width: 0.15"/>
</g>
<g id="patch_299">
<path d="M 1116.11 304.92 L 1119.01 305.64 L 1120.46 309.27 L 1118.28 310.72 L 1116.47 308.54 z" clip-path="url(#p8a1bfb4084)" style="fill: #2700f8; stroke: #2700f8; stroke-width: 0.15"/>
</g>
<g id="patch_300">
<path d="M 1134.95 297.67 L 1140.02 296.95 L 1145.82 296.59 L 1145.09 299.12 L 1141.47 302.02 L 1137.85 303.47 L 1135.31 302.02 z" clip-path="url(#p8a1bfb4084)" style="fill: #5296ff; stroke: #5296ff; stroke-width: 0.15"/>
</g>
<g id="patch_301">
<path d="M 1139.3 299.85 L 1142.19 299.12 L 1142.92 303.47 L 1141.47 307.82 L 1141.83 311.8 L 1140.38 311.44 L 1139.66 307.09 L 1138.93 303.47 z" clip-path="url(#p8a1bfb4084)" style="fill: #8cff8e; stroke: #8cff8e; stroke-width: 0.15"/>
</g>
<g id="patch_302">
<path d="M 1141.47 291.51 L 1145.09 291.15 L 1147.63 292.6 L 1146.54 294.78 L 1142.92 294.41 z" clip-path="url(#p8a1bfb4084)" style="fill: #3a50ff; stroke: #3a50ff; stroke-width: 0.15"/>
</g>
<g id="patch_303">
<path d="M 1147.27 288.98 L 1150.89 287.53 L 1153.79 288.25 L 1153.06 291.15 L 1150.16 292.6 L 1147.63 291.51 z" clip-path="url(#p8a1bfb4084)" style="fill: #5296ff; stroke: #5296ff; stroke-width: 0.15"/>
</g>
<g id="patch_304">
<path d="M 1153.06 285.94 L 1157.41 285.5 L 1162.48 286.44 L 1162.48 288.62 L 1158.86 288.98 L 1154.51 288.25 z" clip-path="url(#p8a1bfb4084)" style="fill: #2200fc; stroke: #2200fc; stroke-width: 0.15"/>
</g>
<g id="patch_305">
<path d="M 1150.16 291.15 L 1154.51 290.79 L 1158.86 292.6 L 1158.14 294.78 L 1154.51 295.5 L 1150.89 294.05 z" clip-path="url(#p8a1bfb4084)" style="fill: #343eff; stroke: #343eff; stroke-width: 0.15"/>
</g>
<g id="patch_306">
<path d="M 1160.31 289.7 L 1163.21 290.43 L 1165.02 292.24 L 1162.48 292.6 L 1160.31 291.51 z" clip-path="url(#p8a1bfb4084)" style="fill: #4d89ff; stroke: #4d89ff; stroke-width: 0.15"/>
</g>
<g id="patch_307">
<path d="M 1128.43 304.92 L 1131.33 305.64 L 1133.5 307.82 L 1132.05 308.9 L 1129.15 307.09 z" clip-path="url(#p8a1bfb4084)" style="fill: #281eff; stroke: #281eff; stroke-width: 0.15"/>
</g>
<g id="patch_308">
<path d="M 1120.46 315.79 L 1123.35 316.51 L 1126.98 318.69 L 1129.88 320.14 L 1134.22 322.31 L 1136.4 323.76 L 1134.22 324.12 L 1129.88 322.31 L 1126.25 320.5 L 1122.63 318.69 L 1120.46 317.24 z M 1142.55 325.48 L 1145.08 324.98 L 1147.61 325.48 L 1147.61 327.51 L 1146.1 329.53 L 1144.58 332.07 L 1143.06 334.6 L 1142.05 337.13 L 1141.03 336.62 L 1141.79 334.09 L 1142.55 331.56 L 1143.82 329.03 L 1143.31 327 z" clip-path="url(#p8a1bfb4084)" style="fill: #1c00fe; stroke: #1c00fe; stroke-width: 0.15"/>
</g>
<g id="patch_309">
<path d="M 1141.03 337.13 L 1142.55 339.15 L 1144.07 342.19 L 1145.59 345.23 L 1147.61 347.25 L 1149.64 348.52 L 1149.13 349.28 L 1146.6 348.01 L 1144.58 345.73 L 1143.06 343.2 L 1141.79 340.67 L 1140.78 338.65 z" clip-path="url(#p8a1bfb4084)" style="fill: #343eff; stroke: #343eff; stroke-width: 0.15"/>
</g>
<g id="patch_310">
<path d="M 1147.11 324.98 L 1150.65 324.47 L 1154.7 324.73 L 1158.25 325.74 L 1158.75 327 L 1155.71 327.76 L 1152.17 327.26 L 1149.13 327 z" clip-path="url(#p8a1bfb4084)" style="fill: #71fbf7; stroke: #71fbf7; stroke-width: 0.15"/>
</g>
<g id="patch_311">
<path d="M 1155.21 331.56 L 1158.25 330.55 L 1159.76 333.08 L 1158.75 336.12 L 1156.22 335.61 z" clip-path="url(#p8a1bfb4084)" style="fill: #4674ff; stroke: #4674ff; stroke-width: 0.15"/>
</g>
<g id="patch_312">
<path d="M 1149.64 341.68 L 1153.69 341.18 L 1157.23 342.19 L 1158.75 344.22 L 1158.25 347.25 L 1156.22 349.78 L 1153.69 350.29 L 1151.16 348.27 L 1149.64 345.23 z" clip-path="url(#p8a1bfb4084)" style="fill: #84ffb5; stroke: #84ffb5; stroke-width: 0.15"/>
</g>
<g id="patch_313">
<path d="M 1159.26 335.1 L 1162.3 334.09 L 1164.83 336.12 L 1165.84 340.67 L 1164.83 345.73 L 1161.79 347.25 L 1159.76 345.73 L 1160.27 342.19 L 1159.76 338.14 z" clip-path="url(#p8a1bfb4084)" style="fill: #71fbf7; stroke: #71fbf7; stroke-width: 0.15"/>
</g>
<g id="patch_314">
<path d="M 1168.88 335.1 L 1172.93 336.12 L 1176.98 337.63 L 1180.01 339.66 L 1180.27 341.68 L 1179 344.22 L 1176.98 346.24 L 1174.95 345.73 L 1172.93 344.22 L 1170.9 342.19 L 1169.38 339.15 z" clip-path="url(#p8a1bfb4084)" style="fill: #549eff; stroke: #549eff; stroke-width: 0.15"/>
</g>
<g id="patch_315">
<path d="M 1174.95 347.25 L 1176.98 346.75 L 1177.48 348.52 L 1175.71 349.28 z" clip-path="url(#p8a1bfb4084)" style="fill: #2400fb; stroke: #2400fb; stroke-width: 0.15"/>
</g>
<g id="patch_316">
<path d="M 1172.93 342.19 L 1175.46 341.18 L 1177.99 340.67 L 1179 342.7 L 1176.98 343.71 L 1174.45 344.22 z" clip-path="url(#p8a1bfb4084)" style="fill: #343eff; stroke: #343eff; stroke-width: 0.15"/>
</g>
<g id="patch_317">
<path d="M 1153.18 348.27 L 1157.23 347.76 L 1161.28 348.77 L 1163.81 351.3 L 1163.31 354.34 L 1160.78 356.37 L 1157.74 355.86 L 1154.7 353.83 L 1153.44 351.3 z" clip-path="url(#p8a1bfb4084)" style="fill: #5296ff; stroke: #5296ff; stroke-width: 0.15"/>
</g>
<g id="patch_318">
<path d="M 1163.81 353.83 L 1166.85 353.07 L 1169.38 354.34 L 1168.37 357.38 L 1165.84 359.4 L 1164.32 357.88 z" clip-path="url(#p8a1bfb4084)" style="fill: #88ffa1; stroke: #88ffa1; stroke-width: 0.15"/>
</g>
<g id="patch_319">
<path d="M 1165.84 349.28 L 1169.89 348.77 L 1172.93 350.29 L 1175.96 350.8 L 1174.95 352.82 L 1171.91 353.33 L 1168.37 352.32 z" clip-path="url(#p8a1bfb4084)" style="fill: #3f5fff; stroke: #3f5fff; stroke-width: 0.15"/>
</g>
<g id="patch_320">
<path d="M 1226.72 273.08 L 1229.75 272.97 L 1233.3 274.19 L 1235.57 275.61 L 1235.32 276.37 L 1232.28 275.86 L 1229.75 274.59 L 1227.22 273.99 z" clip-path="url(#p8a1bfb4084)" style="fill: #2700f8; stroke: #2700f8; stroke-width: 0.15"/>
</g>
<g id="patch_321">
<path d="M 1220.64 279.15 L 1223.17 278.75 L 1225.2 280.16 L 1226.72 281.18 L 1225.96 283.2 L 1224.18 284.47 L 1222.16 284.72 L 1221.15 282.69 z" clip-path="url(#p8a1bfb4084)" style="fill: #2200fc; stroke: #2200fc; stroke-width: 0.15"/>
</g>
<g id="patch_322">
<path d="M 1229.25 278.64 L 1232.28 277.88 L 1235.32 277.88 L 1238.36 278.39 L 1240.89 279.15 L 1242.41 280.16 L 1241.4 281.18 L 1239.88 282.19 L 1238.87 283.71 L 1238.36 285.23 L 1236.84 286.24 L 1235.32 286.74 L 1233.3 287.25 L 1231.78 286.74 L 1230.77 285.73 L 1229.75 284.72 L 1229.25 283.2 z" clip-path="url(#p8a1bfb4084)" style="fill: #4d89ff; stroke: #4d89ff; stroke-width: 0.15"/>
</g>
<g id="patch_323">
<path d="M 1209.5 291.3 L 1213.55 289.28 L 1217.1 287.25 L 1219.63 287.25 L 1220.64 289.78 L 1219.63 292.31 L 1218.11 294.84 L 1215.58 294.84 L 1213.05 296.11 L 1211.02 297.38 L 1209.25 295.86 z" clip-path="url(#p8a1bfb4084)" style="fill: #4674ff; stroke: #4674ff; stroke-width: 0.15"/>
</g>
<g id="patch_324">
<path d="M 1219.12 290.29 L 1223.17 290.03 L 1227.22 290.79 L 1227.22 293.33 L 1224.18 293.33 L 1220.64 292.57 z" clip-path="url(#p8a1bfb4084)" style="fill: #2400fb; stroke: #2400fb; stroke-width: 0.15"/>
</g>
<g id="patch_325">
<path d="M 1223.17 286.24 L 1227.22 286.24 L 1231.27 287.25 L 1232.28 289.28 L 1231.27 291.3 L 1227.22 290.79 L 1224.18 289.78 z" clip-path="url(#p8a1bfb4084)" style="fill: #78fde1; stroke: #78fde1; stroke-width: 0.15"/>
</g>
<g id="patch_326">
<path d="M 1228.23 293.33 L 1231.78 292.82 L 1234.31 294.34 L 1233.8 295.86 L 1230.26 295.86 z" clip-path="url(#p8a1bfb4084)" style="fill: #4d89ff; stroke: #4d89ff; stroke-width: 0.15"/>
</g>
<g id="patch_327">
<path d="M 1220.64 294.84 L 1223.17 295.35 L 1225.2 297.38 L 1225.96 299.4 L 1224.18 299.91 L 1222.16 297.88 L 1220.64 296.36 z" clip-path="url(#p8a1bfb4084)" style="fill: #8cff8e; stroke: #8cff8e; stroke-width: 0.15"/>
</g>
<g id="patch_328">
<path d="M 1203.43 296.36 L 1206.97 296.11 L 1208.74 297.38 L 1208.49 298.89 L 1205.96 299.15 L 1203.68 298.64 z" clip-path="url(#p8a1bfb4084)" style="fill: #343eff; stroke: #343eff; stroke-width: 0.15"/>
</g>
<g id="patch_329">
<path d="M 1249.5 285.23 L 1252.53 284.72 L 1256.58 286.24 L 1257.09 288.26 L 1253.55 288.26 L 1251.52 289.28 L 1250 291.3 L 1248.99 293.33 L 1248.48 291.3 L 1249.5 288.77 z" clip-path="url(#p8a1bfb4084)" style="fill: #5296ff; stroke: #5296ff; stroke-width: 0.15"/>
</g>
<g id="patch_330">
<path d="M 1250.51 300.41 L 1252.53 300.67 L 1252.53 302.94 L 1250.76 302.69 z" clip-path="url(#p8a1bfb4084)" style="fill: #2100e2; stroke: #2100e2; stroke-width: 0.15"/>
</g>
<g id="patch_331">
<path d="M 1252.03 301.93 L 1254.56 302.44 L 1255.07 304.46 L 1253.04 304.46 z" clip-path="url(#p8a1bfb4084)" style="fill: #88ffa1; stroke: #88ffa1; stroke-width: 0.15"/>
</g>
<g id="patch_332">
<path d="M 1309.99 288.26 L 1312.52 287.5 L 1314.55 288.52 L 1316.07 289.78 L 1319.11 291.3 L 1321.13 292.31 L 1322.14 293.83 L 1321.13 295.86 L 1320.12 297.38 L 1319.11 298.13 L 1317.59 297.38 L 1316.07 297.88 L 1314.04 298.39 L 1312.02 298.13 L 1310.5 296.87 L 1308.98 295.35 L 1307.46 293.83 L 1308.98 292.31 L 1309.49 290.79 z" clip-path="url(#p8a1bfb4084)" style="fill: #343eff; stroke: #343eff; stroke-width: 0.15"/>
</g>
<g id="patch_333">
<path d="M 1311.01 289.28 L 1313.54 288.77 L 1315.06 290.79 L 1314.04 293.33 L 1311.51 293.33 z" clip-path="url(#p8a1bfb4084)" style="fill: #1c00fe; stroke: #1c00fe; stroke-width: 0.15"/>
</g>
<g id="patch_334">
<path d="M 1314.04 295.86 L 1317.08 295.35 L 1319.11 296.36 L 1318.6 298.13 L 1316.07 297.88 L 1314.3 297.63 z" clip-path="url(#p8a1bfb4084)" style="fill: #2100e2; stroke: #2100e2; stroke-width: 0.15"/>
</g>
<g id="patch_335">
<path d="M 1297.84 312.06 L 1299.87 311.3 L 1302.4 311.55 L 1304.93 312.06 L 1303.92 313.57 L 1300.88 314.08 L 1298.86 313.57 z M 1290.25 304.98 L 1291.77 305.49 L 1293.29 307.01 L 1294.3 309.03 L 1295.06 311.56 L 1295.82 313.59 L 1295.31 315.36 L 1294.3 313.84 L 1293.54 311.31 L 1292.53 308.78 L 1291.26 306.75 z" clip-path="url(#p8a1bfb4084)" style="fill: #3f5fff; stroke: #3f5fff; stroke-width: 0.15"/>
</g>
<g id="patch_336">
<path d="M 1294.81 315.36 L 1297.84 315.87 L 1300.88 318.4 L 1302.4 320.42 L 1303.41 322.45 L 1303.16 324.47 L 1301.39 325.48 L 1299.87 326.5 L 1298.86 324.98 L 1297.34 323.46 L 1295.82 322.45 L 1294.55 319.92 z" clip-path="url(#p8a1bfb4084)" style="fill: #5bb7ff; stroke: #5bb7ff; stroke-width: 0.15"/>
</g>
<g id="patch_337">
<path d="M 1294.3 318.9 L 1295.82 322.45 L 1295.31 324.47 L 1294.81 326.5 L 1295.82 328.52 L 1297.34 330.55 L 1298.6 332.57 L 1297.84 333.08 L 1296.32 331.05 L 1294.81 329.03 L 1294.05 326.5 L 1294.3 323.97 z M 1276.33 322.45 L 1277.85 322.19 L 1278.1 324.47 L 1276.83 325.74 L 1276.07 324.47 z" clip-path="url(#p8a1bfb4084)" style="fill: #343eff; stroke: #343eff; stroke-width: 0.15"/>
</g>
<g id="patch_338">
<path d="M 1235.32 320.93 L 1237.35 320.68 L 1238.87 322.45 L 1239.37 325.99 L 1238.11 326.5 L 1236.59 324.98 L 1235.57 322.95 z" clip-path="url(#p8a1bfb4084)" style="fill: #5bb7ff; stroke: #5bb7ff; stroke-width: 0.15"/>
</g>
<g id="patch_339">
<path d="M 1241.4 335.1 L 1242.41 334.34 L 1243.93 334.6 L 1244.69 336.12 L 1244.43 338.14 L 1242.92 338.65 L 1241.65 337.63 z" clip-path="url(#p8a1bfb4084)" style="fill: #4d89ff; stroke: #4d89ff; stroke-width: 0.15"/>
</g>
<g id="patch_340">
<path d="M 1241.9 338.65 L 1243.93 338.65 L 1243.93 340.17 L 1243.42 341.18 L 1241.9 340.67 z" clip-path="url(#p8a1bfb4084)" style="fill: #80ffc8; stroke: #80ffc8; stroke-width: 0.15"/>
</g>
<g id="patch_341">
<path d="M 1235.04 357.48 L 1237.57 358.49 L 1238.08 359.5 L 1237.07 361.02 L 1235.55 362.54 L 1234.03 363.55 L 1234.54 360.52 z" clip-path="url(#p8a1bfb4084)" style="fill: #6befff; stroke: #6befff; stroke-width: 0.15"/>
</g>
<g id="patch_342">
<path d="M 1331.26 363.55 L 1333.79 363.05 L 1336.32 363.81 L 1336.82 365.58 L 1335.31 367.1 L 1332.77 367.1 L 1331.26 365.58 z" clip-path="url(#p8a1bfb4084)" style="fill: #4d89ff; stroke: #4d89ff; stroke-width: 0.15"/>
</g>
<g id="patch_343">
<path d="M 1330.75 367.1 L 1332.77 367.6 L 1335.31 367.71 L 1337.33 367.1 L 1338.34 366.59 L 1336.32 368.11 L 1334.8 368.36 L 1332.77 368.11 L 1330.75 367.6 L 1329.23 366.09 z" clip-path="url(#p8a1bfb4084)" style="fill: #84ffb5; stroke: #84ffb5; stroke-width: 0.15"/>
</g>
<g id="patch_344">
<path d="M 1274.3 286.24 L 1277.85 285.73 L 1279.87 285.98 L 1279.62 288.26 L 1278.35 290.03 L 1276.33 288.77 z M 1166.45 336.22 L 1167.71 335.71 L 1168.22 338.24 L 1167.97 341.28 L 1167.21 344.32 L 1166.35 344.82 L 1166.7 341.28 L 1166.6 338.75 z" clip-path="url(#p8a1bfb4084)" style="fill: #d3d3d3; stroke: #d3d3d3; stroke-width: 0.15"/>
</g>
</g>
<g id="axes_2">
<g id="patch_345">
<path d="M 519.38 198.79 L 933.05 198.79 L 933.05 33.05 L 519.38 33.05 z" style="fill: #ffffff"/>
</g>
<g id="matplotlib.axis_1">
<g id="xtick_1">
<g id="line2d_1">
<g>
<path d="M 0 0 L 0 3.5" transform="translate(519.38 198.79)" style="stroke: #000000; stroke-width: 0.8"/>
</g>
</g>
<g id="text_1">
<text style="font-size: 14px; font-family: 'DejaVu Sans', 'Liberation Sans', sans-serif; text-anchor: middle" x="519.38" y="216.82" transform="rotate(-0 519.38 216.82)">0.0</text>
</g>
</g>
<g id="xtick_2">
<g id="line2d_2">
<g>
<path d="M 0 0 L 0 3.5" transform="translate(602.12 198.79)" style="stroke: #000000; stroke-width: 0.8"/>
</g>
</g>
<g id="text_2">
<text style="font-size: 14px; font-family: 'DejaVu Sans', 'Liberation Sans', sans-serif; text-anchor: middle" x="602.12" y="216.82" transform="rotate(-0 602.12 216.82)">0.5</text>
</g>
</g>
<g id="xtick_3">
<g id="line2d_3">
<g>
<path d="M 0 0 L 0 3.5" transform="translate(684.85 198.79)" style="stroke: #000000; stroke-width: 0.8"/>
</g>
</g>
<g id="text_3">
<text style="font-size: 14px; font-family: 'DejaVu Sans', 'Liberation Sans', sans-serif; text-anchor: middle" x="684.85" y="216.82" transform="rotate(-0 684.85 216.82)">1.0</text>
</g>
</g>
<g id="xtick_4">
<g id="line2d_4">
<g>
<path d="M 0 0 L 0 3.5" transform="translate(767.59 198.79)" style="stroke: #000000; stroke-width: 0.8"/>
</g>
</g>
<g id="text_4">
<text style="font-size: 14px; font-family: 'DejaVu Sans', 'Liberation Sans', sans-serif; text-anchor: middle" x="767.59" y="216.82" transform="rotate(-0 767.59 216.82)">1.5</text>
</g>
</g>
<g id="xtick_5">
<g id="line2d_5">
<g>
<path d="M 0 0 L 0 3.5" transform="translate(850.32 198.79)" style="stroke: #000000; stroke-width: 0.8"/>
</g>
</g>
<g id="text_5">
<text style="font-size: 14px; font-family: 'DejaVu Sans', 'Liberation Sans', sans-serif; text-anchor: middle" x="850.32" y="216.82" transform="rotate(-0 850.32 216.82)">2.0</text>
</g>
</g>
<g id="xtick_6">
<g id="line2d_6">
<g>
<path d="M 0 0 L 0 3.5" transform="translate(933.05 198.79)" style="stroke: #000000; stroke-width: 0.8"/>
</g>
</g>
<g id="text_6">
<text style="font-size: 14px; font-family: 'DejaVu Sans', 'Liberation Sans', sans-serif; text-anchor: middle" x="933.05" y="216.82" transform="rotate(-0 933.05 216.82)">2.5</text>
</g>
</g>
<g id="text_7">
<text style="font-size: 14px; font-family: 'DejaVu Sans', 'Liberation Sans', sans-serif; text-anchor: middle" x="726.22" y="235.22" transform="rotate(-0 726.22 235.22)">RMSE (mg/l)</text>
</g>
</g>
<g id="matplotlib.axis_2">
<g id="ytick_1">
<g id="line2d_7">
<g>
<path d="M 0 0 L -3.5 0" transform="translate(519.38 198.79)" style="stroke: #000000; stroke-width: 0.8"/>
</g>
</g>
<g id="text_8">
<text style="font-size: 14px; font-family: 'DejaVu Sans', 'Liberation Sans', sans-serif; text-anchor: end" x="512.38" y="204.5" transform="rotate(-0 512.38 204.5)">0</text>
</g>
</g>
<g id="ytick_2">
<g id="line2d_8">
<g>
<path d="M 0 0 L -3.5 0" transform="translate(519.38 171.16)" style="stroke: #000000; stroke-width: 0.8"/>
</g>
</g>
<g id="text_9">
<text style="font-size: 14px; font-family: 'DejaVu Sans', 'Liberation Sans', sans-serif; text-anchor: end" x="512.38" y="176.88" transform="rotate(-0 512.38 176.88)">1000</text>
</g>
</g>
<g id="ytick_3">
<g id="line2d_9">
<g>
<path d="M 0 0 L -3.5 0" transform="translate(519.38 143.54)" style="stroke: #000000; stroke-width: 0.8"/>
</g>
</g>
<g id="text_10">
<text style="font-size: 14px; font-family: 'DejaVu Sans', 'Liberation Sans', sans-serif; text-anchor: end" x="512.38" y="149.25" transform="rotate(-0 512.38 149.25)">2000</text>
</g>
</g>
<g id="ytick_4">
<g id="line2d_10">
<g>
<path d="M 0 0 L -3.5 0" transform="translate(519.38 115.92)" style="stroke: #000000; stroke-width: 0.8"/>
</g>
</g>
<g id="text_11">
<text style="font-size: 14px; font-family: 'DejaVu Sans', 'Liberation Sans', sans-serif; text-anchor: end" x="512.38" y="121.63" transform="rotate(-0 512.38 121.63)">3000</text>
</g>
</g>
<g id="ytick_5">
<g id="line2d_11">
<g>
<path d="M 0 0 L -3.5 0" transform="translate(519.38 88.3)" style="stroke: #000000; stroke-width: 0.8"/>
</g>
</g>
<g id="text_12">
<text style="font-size: 14px; font-family: 'DejaVu Sans', 'Liberation Sans', sans-serif; text-anchor: end" x="512.38" y="94.01" transform="rotate(-0 512.38 94.01)">4000</text>
</g>
</g>
<g id="ytick_6">
<g id="line2d_12">
<g>
<path d="M 0 0 L -3.5 0" transform="translate(519.38 60.68)" style="stroke: #000000; stroke-width: 0.8"/>
</g>
</g>
<g id="text_13">
<text style="font-size: 14px; font-family: 'DejaVu Sans', 'Liberation Sans', sans-serif; text-anchor: end" x="512.38" y="66.39" transform="rotate(-0 512.38 66.39)">5000</text>
</g>
</g>
<g id="ytick_7">
<g id="line2d_13">
<g>
<path d="M 0 0 L -3.5 0" transform="translate(519.38 33.05)" style="stroke: #000000; stroke-width: 0.8"/>
</g>
</g>
<g id="text_14">
<text style="font-size: 14px; font-family: 'DejaVu Sans', 'Liberation Sans', sans-serif; text-anchor: end" x="512.38" y="38.77" transform="rotate(-0 512.38 38.77)">6000</text>
</g>
</g>
<g id="text_15">
<text style="font-size: 14px; font-family: 'DejaVu Sans', 'Liberation Sans', sans-serif; text-anchor: middle" x="471.61" y="117.88" transform="rotate(-90 471.61 117.88)">Frequency</text>
</g>
</g>
<g id="patch_346">
<path d="M 519.38 198.79 L 519.38 33.05" style="fill: none; stroke: #000000; stroke-width: 0.8; stroke-linejoin: miter; stroke-linecap: square"/>
</g>
<g id="patch_347">
<path d="M 933.05 198.79 L 933.05 33.05" style="fill: none; stroke: #000000; stroke-width: 0.8; stroke-linejoin: miter; stroke-linecap: square"/>
</g>
<g id="patch_348">
<path d="M 519.38 198.79 L 933.05 198.79" style="fill: none; stroke: #000000; stroke-width: 0.8; stroke-linejoin: miter; stroke-linecap: square"/>
</g>
<g id="patch_349">
<path d="M 519.38 33.05 L 933.05 33.05" style="fill: none; stroke: #000000; stroke-width: 0.8; stroke-linejoin: miter; stroke-linecap: square"/>
</g>
<g id="patch_350">
<path d="M 519.38 198.79 L 519.38 188.23 L 539.24 188.23 L 539.24 169.01 L 559.09 169.01 L 559.09 135.75 L 578.95 135.75 L 578.95 105.2 L 598.81 105.2 L 598.81 121.03 L 618.66 121.03 L 618.66 132.38 L 638.52 132.38 L 638.52 147.33 L 658.38 147.33 L 658.38 156.08 L 678.23 156.08 L 678.23 164.98 L 698.09 164.98 L 698.09 167.1 L 717.94 167.1 L 717.94 173.73 L 737.8 173.73 L 737.8 176.91 L 757.66 176.91 L 757.66 177.85 L 777.51 177.85 L 777.51 178.87 L 797.37 178.87 L 797.37 179.59 L 817.23 179.59 L 817.23 182.05 L 837.08 182.05 L 837.08 184.31 L 856.94 184.31 L 856.94 185.03 L 876.8 185.03 L 876.8 186.58 L 896.65 186.58 L 896.65 187.07 L 916.51 187.07 L 916.51 189.75 L 933.05 189.75 L 933.05 198.79 z" clip-path="url(#p2bac3826d2)" style="fill: #1e90ff; opacity: 0.65"/>
</g>
<g id="patch_351">
<path d="M 519.38 198.79 L 519.38 183.95 L 539.24 183.95 L 539.24 131.25 L 559.09 131.25 L 559.09 70.81 L 578.95 70.81 L 578.95 43.72 L 598.81 43.72 L 598.81 57.78 L 618.66 57.78 L 618.66 109.9 L 638.52 109.9 L 638.52 134.51 L 658.38 134.51 L 658.38 162.38 L 678.23 162.38 L 678.23 176.66 L 698.09 176.66 L 698.09 185.64 L 717.94 185.64 L 717.94 191.16 L 737.8 191.16 L 737.8 193.76 L 757.66 193.76 L 757.66 196.69 L 777.51 196.69 L 777.51 196.96 L 797.37 196.96 L 797.37 197.35 L 817.23 197.35 L 817.23 197.76 L 837.08 197.76 L 837.08 198.07 L 856.94 198.07 L 856.94 198.37 L 876.8 198.37 L 876.8 198.56 L 896.65 198.56 L 896.65 198.65 L 916.51 198.65 L 916.51 198.7 L 933.05 198.7 L 933.05 198.79 z" clip-path="url(#p2bac3826d2)" style="fill: #e74c3c; opacity: 0.7"/>
</g>
<g id="legend_1">
<g id="patch_352">
<path d="M 706.71 85.74 L 923.25 85.74 Q 926.05 85.74 926.05 82.94 L 926.05 42.85 Q 926.05 40.05 923.25 40.05 L 706.71 40.05 Q 703.91 40.05 703.91 42.85 L 703.91 82.94 Q 703.91 85.74 706.71 85.74 z" style="fill: #ffffff; opacity: 0.8; stroke: #cccccc; stroke-linejoin: miter"/>
</g>
<g id="patch_353">
<path d="M 709.51 56.29 L 737.51 56.29 L 737.51 46.49 L 709.51 46.49 z" style="fill: #1e90ff; opacity: 0.65"/>
</g>
<g id="text_16">
<text style="font-size: 14px; font-family: 'DejaVu Sans', 'Liberation Sans', sans-serif; text-anchor: start" x="747.8" y="56.29" transform="rotate(-0 747.8 56.29)">DynQual</text>
</g>
<g id="patch_354">
<path d="M 709.51 76.84 L 737.51 76.84 L 737.51 67.04 L 709.51 67.04 z" style="fill: #e74c3c; opacity: 0.7"/>
</g>
<g id="text_17">
<text style="font-size: 14px; font-family: 'DejaVu Sans', 'Liberation Sans', sans-serif; text-anchor: start" x="747.8" y="76.84" transform="rotate(-0 747.8 76.84)">DynQual_Random Forest</text>
</g>
</g>
</g>
<g id="axes_3">
<g id="patch_355">
<path d="M 519.38 430.23 L 933.05 430.23 L 933.05 264.5 L 519.38 264.5 z" style="fill: #ffffff"/>
</g>
<g id="matplotlib.axis_3">
<g id="xtick_7">
<g id="line2d_14">
<g>
<path d="M 0 0 L 0 3.5" transform="translate(519.38 430.23)" style="stroke: #000000; stroke-width: 0.8"/>
</g>
</g>
<g id="text_18">
<text style="font-size: 14px; font-family: 'DejaVu Sans', 'Liberation Sans', sans-serif; text-anchor: middle" x="519.38" y="448.26" transform="rotate(-0 519.38 448.26)">0.0</text>
</g>
</g>
<g id="xtick_8">
<g id="line2d_15">
<g>
<path d="M 0 0 L 0 3.5" transform="translate(602.12 430.23)" style="stroke: #000000; stroke-width: 0.8"/>
</g>
</g>
<g id="text_19">
<text style="font-size: 14px; font-family: 'DejaVu Sans', 'Liberation Sans', sans-serif; text-anchor: middle" x="602.12" y="448.26" transform="rotate(-0 602.12 448.26)">0.5</text>
</g>
</g>
<g id="xtick_9">
<g id="line2d_16">
<g>
<path d="M 0 0 L 0 3.5" transform="translate(684.85 430.23)" style="stroke: #000000; stroke-width: 0.8"/>
</g>
</g>
<g id="text_20">
<text style="font-size: 14px; font-family: 'DejaVu Sans', 'Liberation Sans', sans-serif; text-anchor: middle" x="684.85" y="448.26" transform="rotate(-0 684.85 448.26)">1.0</text>
</g>
</g>
<g id="xtick_10">
<g id="line2d_17">
<g>
<path d="M 0 0 L 0 3.5" transform="translate(767.59 430.23)" style="stroke: #000000; stroke-width: 0.8"/>
</g>
</g>
<g id="text_21">
<text style="font-size: 14px; font-family: 'DejaVu Sans', 'Liberation Sans', sans-serif; text-anchor: middle" x="767.59" y="448.26" transform="rotate(-0 767.59 448.26)">1.5</text>
</g>
</g>
<g id="xtick_11">
<g id="line2d_18">
<g>
<path d="M 0 0 L 0 3.5" transform="translate(850.32 430.23)" style="stroke: #000000; stroke-width: 0.8"/>
</g>
</g>
<g id="text_22">
<text style="font-size: 14px; font-family: 'DejaVu Sans', 'Liberation Sans', sans-serif; text-anchor: middle" x="850.32" y="448.26" transform="rotate(-0 850.32 448.26)">2.0</text>
</g>
</g>
<g id="xtick_12">
<g id="line2d_19">
<g>
<path d="M 0 0 L 0 3.5" transform="translate(933.05 430.23)" style="stroke: #000000; stroke-width: 0.8"/>
</g>
</g>
<g id="text_23">
<text style="font-size: 14px; font-family: 'DejaVu Sans', 'Liberation Sans', sans-serif; text-anchor: middle" x="933.05" y="448.26" transform="rotate(-0 933.05 448.26)">2.5</text>
</g>
</g>
<g id="text_24">
<text style="font-size: 14px; font-family: 'DejaVu Sans', 'Liberation Sans', sans-serif; text-anchor: middle" x="726.22" y="466.66" transform="rotate(-0 726.22 466.66)">RMSE (mg/l)</text>
</g>
</g>
<g id="matplotlib.axis_4">
<g id="ytick_8">
<g id="line2d_20">
<g>
<path d="M 0 0 L -3.5 0" transform="translate(519.38 430.23)" style="stroke: #000000; stroke-width: 0.8"/>
</g>
</g>
<g id="text_25">
<text style="font-size: 14px; font-family: 'DejaVu Sans', 'Liberation Sans', sans-serif; text-anchor: end" x="512.38" y="435.94" transform="rotate(-0 512.38 435.94)">0</text>
</g>
</g>
<g id="ytick_9">
<g id="line2d_21">
<g>
<path d="M 0 0 L -3.5 0" transform="translate(519.38 409.52)" style="stroke: #000000; stroke-width: 0.8"/>
</g>
</g>
<g id="text_26">
<text style="font-size: 14px; font-family: 'DejaVu Sans', 'Liberation Sans', sans-serif; text-anchor: end" x="512.38" y="415.23" transform="rotate(-0 512.38 415.23)">50</text>
</g>
</g>
<g id="ytick_10">
<g id="line2d_22">
<g>
<path d="M 0 0 L -3.5 0" transform="translate(519.38 388.8)" style="stroke: #000000; stroke-width: 0.8"/>
</g>
</g>
<g id="text_27">
<text style="font-size: 14px; font-family: 'DejaVu Sans', 'Liberation Sans', sans-serif; text-anchor: end" x="512.38" y="394.51" transform="rotate(-0 512.38 394.51)">100</text>
</g>
</g>
<g id="ytick_11">
<g id="line2d_23">
<g>
<path d="M 0 0 L -3.5 0" transform="translate(519.38 368.08)" style="stroke: #000000; stroke-width: 0.8"/>
</g>
</g>
<g id="text_28">
<text style="font-size: 14px; font-family: 'DejaVu Sans', 'Liberation Sans', sans-serif; text-anchor: end" x="512.38" y="373.8" transform="rotate(-0 512.38 373.8)">150</text>
</g>
</g>
<g id="ytick_12">
<g id="line2d_24">
<g>
<path d="M 0 0 L -3.5 0" transform="translate(519.38 347.37)" style="stroke: #000000; stroke-width: 0.8"/>
</g>
</g>
<g id="text_29">
<text style="font-size: 14px; font-family: 'DejaVu Sans', 'Liberation Sans', sans-serif; text-anchor: end" x="512.38" y="353.08" transform="rotate(-0 512.38 353.08)">200</text>
</g>
</g>
<g id="ytick_13">
<g id="line2d_25">
<g>
<path d="M 0 0 L -3.5 0" transform="translate(519.38 326.65)" style="stroke: #000000; stroke-width: 0.8"/>
</g>
</g>
<g id="text_30">
<text style="font-size: 14px; font-family: 'DejaVu Sans', 'Liberation Sans', sans-serif; text-anchor: end" x="512.38" y="332.36" transform="rotate(-0 512.38 332.36)">250</text>
</g>
</g>
<g id="ytick_14">
<g id="line2d_26">
<g>
<path d="M 0 0 L -3.5 0" transform="translate(519.38 305.93)" style="stroke: #000000; stroke-width: 0.8"/>
</g>
</g>
<g id="text_31">
<text style="font-size: 14px; font-family: 'DejaVu Sans', 'Liberation Sans', sans-serif; text-anchor: end" x="512.38" y="311.65" transform="rotate(-0 512.38 311.65)">300</text>
</g>
</g>
<g id="ytick_15">
<g id="line2d_27">
<g>
<path d="M 0 0 L -3.5 0" transform="translate(519.38 285.22)" style="stroke: #000000; stroke-width: 0.8"/>
</g>
</g>
<g id="text_32">
<text style="font-size: 14px; font-family: 'DejaVu Sans', 'Liberation Sans', sans-serif; text-anchor: end" x="512.38" y="290.93" transform="rotate(-0 512.38 290.93)">350</text>
</g>
</g>
<g id="ytick_16">
<g id="line2d_28">
<g>
<path d="M 0 0 L -3.5 0" transform="translate(519.38 264.5)" style="stroke: #000000; stroke-width: 0.8"/>
</g>
</g>
<g id="text_33">
<text style="font-size: 14px; font-family: 'DejaVu Sans', 'Liberation Sans', sans-serif; text-anchor: end" x="512.38" y="270.21" transform="rotate(-0 512.38 270.21)">400</text>
</g>
</g>
<g id="text_34">
<text style="font-size: 14px; font-family: 'DejaVu Sans', 'Liberation Sans', sans-serif; text-anchor: middle" x="480.65" y="349.07" transform="rotate(-90 480.65 349.07)">Frequency</text>
</g>
</g>
<g id="patch_356">
<path d="M 519.38 430.23 L 519.38 264.5" style="fill: none; stroke: #000000; stroke-width: 0.8; stroke-linejoin: miter; stroke-linecap: square"/>
</g>
<g id="patch_357">
<path d="M 933.05 430.23 L 933.05 264.5" style="fill: none; stroke: #000000; stroke-width: 0.8; stroke-linejoin: miter; stroke-linecap: square"/>
</g>
<g id="patch_358">
<path d="M 519.38 430.23 L 933.05 430.23" style="fill: none; stroke: #000000; stroke-width: 0.8; stroke-linejoin: miter; stroke-linecap: square"/>
</g>
<g id="patch_359">
<path d="M 519.38 264.5 L 933.05 264.5" style="fill: none; stroke: #000000; stroke-width: 0.8; stroke-linejoin: miter; stroke-linecap: square"/>
</g>
<g id="patch_360">
<path d="M 519.38 430.23 L 519.38 424.27 L 539.24 424.27 L 539.24 384.41 L 559.09 384.41 L 559.09 373.14 L 578.95 373.14 L 578.95 372.02 L 598.81 372.02 L 598.81 378.57 L 618.66 378.57 L 618.66 380.55 L 638.52 380.55 L 638.52 385.53 L 658.38 385.53 L 658.38 383.37 L 678.23 383.37 L 678.23 388.88 L 698.09 388.88 L 698.09 393.03 L 717.94 393.03 L 717.94 395.51 L 737.8 395.51 L 737.8 404.05 L 757.66 404.05 L 757.66 400.57 L 777.51 400.57 L 777.51 410.64 L 797.37 410.64 L 797.37 409.89 L 817.23 409.89 L 817.23 411.63 L 837.08 411.63 L 837.08 416.06 L 856.94 416.06 L 856.94 417.31 L 876.8 417.31 L 876.8 419.87 L 896.65 419.87 L 896.65 419.34 L 916.51 419.34 L 916.51 421.49 L 933.05 421.49 L 933.05 430.23 z" clip-path="url(#pc23253623a)" style="fill: #1e90ff; opacity: 0.65"/>
</g>
<g id="patch_361">
<path d="M 519.38 430.23 L 519.38 416.19 L 539.24 416.19 L 539.24 343.14 L 559.09 343.14 L 559.09 318.32 L 578.95 318.32 L 578.95 308.21 L 598.81 308.21 L 598.81 321.22 L 618.66 321.22 L 618.66 351.8 L 638.52 351.8 L 638.52 373.26 L 658.38 373.26 L 658.38 387.52 L 678.23 387.52 L 678.23 399.66 L 698.09 399.66 L 698.09 415.86 L 717.94 415.86 L 717.94 419.29 L 737.8 419.29 L 737.8 425.59 L 757.66 425.59 L 757.66 426.55 L 777.51 426.55 L 777.51 427.37 L 797.37 427.37 L 797.37 428.16 L 817.23 428.16 L 817.23 428.91 L 837.08 428.91 L 837.08 429.94 L 856.94 429.94 L 856.94 430.11 L 876.8 430.11 L 876.8 430.23 L 896.65 430.23 L 896.65 430.23 L 916.51 430.23 L 916.51 430.23 L 933.05 430.23 L 933.05 430.23 z" clip-path="url(#pc23253623a)" style="fill: #e74c3c; opacity: 0.7"/>
</g>
<g id="legend_2">
<g id="patch_362">
<path d="M 706.71 317.19 L 923.25 317.19 Q 926.05 317.19 926.05 314.39 L 926.05 274.3 Q 926.05 271.5 923.25 271.5 L 706.71 271.5 Q 703.91 271.5 703.91 274.3 L 703.91 314.39 Q 703.91 317.19 706.71 317.19 z" style="fill: #ffffff; opacity: 0.8; stroke: #cccccc; stroke-linejoin: miter"/>
</g>
<g id="patch_363">
<path d="M 709.51 287.74 L 737.51 287.74 L 737.51 277.94 L 709.51 277.94 z" style="fill: #1e90ff; opacity: 0.65"/>
</g>
<g id="text_35">
<text style="font-size: 14px; font-family: 'DejaVu Sans', 'Liberation Sans', sans-serif; text-anchor: start" x="747.8" y="287.74" transform="rotate(-0 747.8 287.74)">DynQual</text>
</g>
<g id="patch_364">
<path d="M 709.51 308.29 L 737.51 308.29 L 737.51 298.49 L 709.51 298.49 z" style="fill: #e74c3c; opacity: 0.7"/>
</g>
<g id="text_36">
<text style="font-size: 14px; font-family: 'DejaVu Sans', 'Liberation Sans', sans-serif; text-anchor: start" x="747.8" y="308.29" transform="rotate(-0 747.8 308.29)">DynQual_Random Forest</text>
</g>
</g>
</g>
<g id="axes_4">
<g id="patch_365">
<path d="M 519.38 661.68 L 933.05 661.68 L 933.05 495.95 L 519.38 495.95 z" style="fill: #ffffff"/>
</g>
<g id="matplotlib.axis_5">
<g id="xtick_13">
<g id="line2d_29">
<g>
<path d="M 0 0 L 0 3.5" transform="translate(519.38 661.68)" style="stroke: #000000; stroke-width: 0.8"/>
</g>
</g>
<g id="text_37">
<text style="font-size: 14px; font-family: 'DejaVu Sans', 'Liberation Sans', sans-serif; text-anchor: middle" x="519.38" y="679.71" transform="rotate(-0 519.38 679.71)">0.0</text>
</g>
</g>
<g id="xtick_14">
<g id="line2d_30">
<g>
<path d="M 0 0 L 0 3.5" transform="translate(602.12 661.68)" style="stroke: #000000; stroke-width: 0.8"/>
</g>
</g>
<g id="text_38">
<text style="font-size: 14px; font-family: 'DejaVu Sans', 'Liberation Sans', sans-serif; text-anchor: middle" x="602.12" y="679.71" transform="rotate(-0 602.12 679.71)">0.5</text>
</g>
</g>
<g id="xtick_15">
<g id="line2d_31">
<g>
<path d="M 0 0 L 0 3.5" transform="translate(684.85 661.68)" style="stroke: #000000; stroke-width: 0.8"/>
</g>
</g>
<g id="text_39">
<text style="font-size: 14px; font-family: 'DejaVu Sans', 'Liberation Sans', sans-serif; text-anchor: middle" x="684.85" y="679.71" transform="rotate(-0 684.85 679.71)">1.0</text>
</g>
</g>
<g id="xtick_16">
<g id="line2d_32">
<g>
<path d="M 0 0 L 0 3.5" transform="translate(767.59 661.68)" style="stroke: #000000; stroke-width: 0.8"/>
</g>
</g>
<g id="text_40">
<text style="font-size: 14px; font-family: 'DejaVu Sans', 'Liberation Sans', sans-serif; text-anchor: middle" x="767.59" y="679.71" transform="rotate(-0 767.59 679.71)">1.5</text>
</g>
</g>
<g id="xtick_17">
<g id="line2d_33">
<g>
<path d="M 0 0 L 0 3.5" transform="translate(850.32 661.68)" style="stroke: #000000; stroke-width: 0.8"/>
</g>
</g>
<g id="text_41">
<text style="font-size: 14px; font-family: 'DejaVu Sans', 'Liberation Sans', sans-serif; text-anchor: middle" x="850.32" y="679.71" transform="rotate(-0 850.32 679.71)">2.0</text>
</g>
</g>
<g id="xtick_18">
<g id="line2d_34">
<g>
<path d="M 0 0 L 0 3.5" transform="translate(933.05 661.68)" style="stroke: #000000; stroke-width: 0.8"/>
</g>
</g>
<g id="text_42">
<text style="font-size: 14px; font-family: 'DejaVu Sans', 'Liberation Sans', sans-serif; text-anchor: middle" x="933.05" y="679.71" transform="rotate(-0 933.05 679.71)">2.5</text>
</g>
</g>
<g id="text_43">
<text style="font-size: 14px; font-family: 'DejaVu Sans', 'Liberation Sans', sans-serif; text-anchor: middle" x="726.22" y="698.11" transform="rotate(-0 726.22 698.11)">MAE (mg/l)</text>
</g>
</g>
<g id="matplotlib.axis_6">
<g id="ytick_17">
<g id="line2d_35">
<g>
<path d="M 0 0 L -3.5 0" transform="translate(519.38 661.68)" style="stroke: #000000; stroke-width: 0.8"/>
</g>
</g>
<g id="text_44">
<text style="font-size: 14px; font-family: 'DejaVu Sans', 'Liberation Sans', sans-serif; text-anchor: end" x="512.38" y="667.39" transform="rotate(-0 512.38 667.39)">0</text>
</g>
</g>
<g id="ytick_18">
<g id="line2d_36">
<g>
<path d="M 0 0 L -3.5 0" transform="translate(519.38 634.06)" style="stroke: #000000; stroke-width: 0.8"/>
</g>
</g>
<g id="text_45">
<text style="font-size: 14px; font-family: 'DejaVu Sans', 'Liberation Sans', sans-serif; text-anchor: end" x="512.38" y="639.77" transform="rotate(-0 512.38 639.77)">1000</text>
</g>
</g>
<g id="ytick_19">
<g id="line2d_37">
<g>
<path d="M 0 0 L -3.5 0" transform="translate(519.38 606.44)" style="stroke: #000000; stroke-width: 0.8"/>
</g>
</g>
<g id="text_46">
<text style="font-size: 14px; font-family: 'DejaVu Sans', 'Liberation Sans', sans-serif; text-anchor: end" x="512.38" y="612.15" transform="rotate(-0 512.38 612.15)">2000</text>
</g>
</g>
<g id="ytick_20">
<g id="line2d_38">
<g>
<path d="M 0 0 L -3.5 0" transform="translate(519.38 578.81)" style="stroke: #000000; stroke-width: 0.8"/>
</g>
</g>
<g id="text_47">
<text style="font-size: 14px; font-family: 'DejaVu Sans', 'Liberation Sans', sans-serif; text-anchor: end" x="512.38" y="584.53" transform="rotate(-0 512.38 584.53)">3000</text>
</g>
</g>
<g id="ytick_21">
<g id="line2d_39">
<g>
<path d="M 0 0 L -3.5 0" transform="translate(519.38 551.19)" style="stroke: #000000; stroke-width: 0.8"/>
</g>
</g>
<g id="text_48">
<text style="font-size: 14px; font-family: 'DejaVu Sans', 'Liberation Sans', sans-serif; text-anchor: end" x="512.38" y="556.9" transform="rotate(-0 512.38 556.9)">4000</text>
</g>
</g>
<g id="ytick_22">
<g id="line2d_40">
<g>
<path d="M 0 0 L -3.5 0" transform="translate(519.38 523.57)" style="stroke: #000000; stroke-width: 0.8"/>
</g>
</g>
<g id="text_49">
<text style="font-size: 14px; font-family: 'DejaVu Sans', 'Liberation Sans', sans-serif; text-anchor: end" x="512.38" y="529.28" transform="rotate(-0 512.38 529.28)">5000</text>
</g>
</g>
<g id="ytick_23">
<g id="line2d_41">
<g>
<path d="M 0 0 L -3.5 0" transform="translate(519.38 495.95)" style="stroke: #000000; stroke-width: 0.8"/>
</g>
</g>
<g id="text_50">
<text style="font-size: 14px; font-family: 'DejaVu Sans', 'Liberation Sans', sans-serif; text-anchor: end" x="512.38" y="501.66" transform="rotate(-0 512.38 501.66)">6000</text>
</g>
</g>
<g id="text_51">
<text style="font-size: 14px; font-family: 'DejaVu Sans', 'Liberation Sans', sans-serif; text-anchor: middle" x="471.61" y="580.78" transform="rotate(-90 471.61 580.78)">Frequency</text>
</g>
</g>
<g id="patch_366">
<path d="M 519.38 661.68 L 519.38 495.95" style="fill: none; stroke: #000000; stroke-width: 0.8; stroke-linejoin: miter; stroke-linecap: square"/>
</g>
<g id="patch_367">
<path d="M 933.05 661.68 L 933.05 495.95" style="fill: none; stroke: #000000; stroke-width: 0.8; stroke-linejoin: miter; stroke-linecap: square"/>
</g>
<g id="patch_368">
<path d="M 519.38 661.68 L 933.05 661.68" style="fill: none; stroke: #000000; stroke-width: 0.8; stroke-linejoin: miter; stroke-linecap: square"/>
</g>
<g id="patch_369">
<path d="M 519.38 495.95 L 933.05 495.95" style="fill: none; stroke: #000000; stroke-width: 0.8; stroke-linejoin: miter; stroke-linecap: square"/>
</g>
<g id="patch_370">
<path d="M 519.38 661.68 L 519.38 644.86 L 539.24 644.86 L 539.24 632.84 L 559.09 632.84 L 559.09 597.85 L 578.95 597.85 L 578.95 577.3 L 598.81 577.3 L 598.81 587.63 L 618.66 587.63 L 618.66 598.95 L 638.52 598.95 L 638.52 607.93 L 658.38 607.93 L 658.38 616.02 L 678.23 616.02 L 678.23 619.03 L 698.09 619.03 L 698.09 620.39 L 717.94 620.39 L 717.94 621.35 L 737.8 621.35 L 737.8 628.01 L 757.66 628.01 L 757.66 635.19 L 777.51 635.19 L 777.51 637.65 L 797.37 637.65 L 797.37 639.5 L 817.23 639.5 L 817.23 641.76 L 837.08 641.76 L 837.08 644.53 L 856.94 644.53 L 856.94 644.64 L 876.8 644.64 L 876.8 646.49 L 896.65 646.49 L 896.65 646.79 L 916.51 646.79 L 916.51 650.69 L 933.05 650.69 L 933.05 661.68 z" clip-path="url(#p4a960772e0)" style="fill: #1e90ff; opacity: 0.65"/>
</g>
<g id="patch_371">
<path d="M 519.38 661.68 L 519.38 635.66 L 539.24 635.66 L 539.24 586.49 L 559.09 586.49 L 559.09 546.33 L 578.95 546.33 L 578.95 518.74 L 598.81 518.74 L 598.81 532.19 L 618.66 532.19 L 618.66 555.42 L 638.52 555.42 L 638.52 578.65 L 658.38 578.65 L 658.38 612.07 L 678.23 612.07 L 678.23 623.76 L 698.09 623.76 L 698.09 638.34 L 717.94 638.34 L 717.94 644.14 L 737.8 644.14 L 737.8 655 L 757.66 655 L 757.66 659.22 L 777.51 659.22 L 777.51 659.75 L 797.37 659.75 L 797.37 660.13 L 817.23 660.13 L 817.23 660.55 L 837.08 660.55 L 837.08 660.85 L 856.94 660.85 L 856.94 661.16 L 876.8 661.16 L 876.8 661.38 L 896.65 661.38 L 896.65 661.51 L 916.51 661.51 L 916.51 661.57 L 933.05 661.57 L 933.05 661.68 z" clip-path="url(#p4a960772e0)" style="fill: #e74c3c; opacity: 0.7"/>
</g>
<g id="legend_3">
<g id="patch_372">
<path d="M 706.71 548.64 L 923.25 548.64 Q 926.05 548.64 926.05 545.84 L 926.05 505.75 Q 926.05 502.95 923.25 502.95 L 706.71 502.95 Q 703.91 502.95 703.91 505.75 L 703.91 545.84 Q 703.91 548.64 706.71 548.64 z" style="fill: #ffffff; opacity: 0.8; stroke: #cccccc; stroke-linejoin: miter"/>
</g>
<g id="patch_373">
<path d="M 709.51 519.19 L 737.51 519.19 L 737.51 509.39 L 709.51 509.39 z" style="fill: #1e90ff; opacity: 0.65"/>
</g>
<g id="text_52">
<text style="font-size: 14px; font-family: 'DejaVu Sans', 'Liberation Sans', sans-serif; text-anchor: start" x="747.8" y="519.19" transform="rotate(-0 747.8 519.19)">DynQual</text>
</g>
<g id="patch_374">
<path d="M 709.51 539.74 L 737.51 539.74 L 737.51 529.94 L 709.51 529.94 z" style="fill: #e74c3c; opacity: 0.7"/>
</g>
<g id="text_53">
<text style="font-size: 14px; font-family: 'DejaVu Sans', 'Liberation Sans', sans-serif; text-anchor: start" x="747.8" y="539.74" transform="rotate(-0 747.8 539.74)">DynQual_Random Forest</text>
</g>
</g>
</g>
<g id="axes_5">
<g id="patch_375">
<path d="M 35.05 661.68 L 448.72 661.68 L 448.72 495.95 L 35.05 495.95 z" style="fill: #ffffff"/>
</g>
<g id="matplotlib.axis_7">
<g id="xtick_19">
<g id="line2d_42">
<g>
<path d="M 0 0 L 0 3.5" transform="translate(35.05 661.68)" style="stroke: #000000; stroke-width: 0.8"/>
</g>
</g>
<g id="text_54">
<text style="font-size: 14px; font-family: 'DejaVu Sans', 'Liberation Sans', sans-serif; text-anchor: middle" x="35.05" y="679.71" transform="rotate(-0 35.05 679.71)">1980</text>
</g>
</g>
<g id="xtick_20">
<g id="line2d_43">
<g>
<path d="M 0 0 L 0 3.5" transform="translate(88.09 661.68)" style="stroke: #000000; stroke-width: 0.8"/>
</g>
</g>
<g id="text_55">
<text style="font-size: 14px; font-family: 'DejaVu Sans', 'Liberation Sans', sans-serif; text-anchor: middle" x="88.09" y="679.71" transform="rotate(-0 88.09 679.71)">1985</text>
</g>
</g>
<g id="xtick_21">
<g id="line2d_44">
<g>
<path d="M 0 0 L 0 3.5" transform="translate(141.12 661.68)" style="stroke: #000000; stroke-width: 0.8"/>
</g>
</g>
<g id="text_56">
<text style="font-size: 14px; font-family: 'DejaVu Sans', 'Liberation Sans', sans-serif; text-anchor: middle" x="141.12" y="679.71" transform="rotate(-0 141.12 679.71)">1990</text>
</g>
</g>
<g id="xtick_22">
<g id="line2d_45">
<g>
<path d="M 0 0 L 0 3.5" transform="translate(194.16 661.68)" style="stroke: #000000; stroke-width: 0.8"/>
</g>
</g>
<g id="text_57">
<text style="font-size: 14px; font-family: 'DejaVu Sans', 'Liberation Sans', sans-serif; text-anchor: middle" x="194.16" y="679.71" transform="rotate(-0 194.16 679.71)">1995</text>
</g>
</g>
<g id="xtick_23">
<g id="line2d_46">
<g>
<path d="M 0 0 L 0 3.5" transform="translate(247.19 661.68)" style="stroke: #000000; stroke-width: 0.8"/>
</g>
</g>
<g id="text_58">
<text style="font-size: 14px; font-family: 'DejaVu Sans', 'Liberation Sans', sans-serif; text-anchor: middle" x="247.19" y="679.71" transform="rotate(-0 247.19 679.71)">2000</text>
</g>
</g>
<g id="xtick_24">
<g id="line2d_47">
<g>
<path d="M 0 0 L 0 3.5" transform="translate(300.23 661.68)" style="stroke: #000000; stroke-width: 0.8"/>
</g>
</g>
<g id="text_59">
<text style="font-size: 14px; font-family: 'DejaVu Sans', 'Liberation Sans', sans-serif; text-anchor: middle" x="300.23" y="679.71" transform="rotate(-0 300.23 679.71)">2005</text>
</g>
</g>
<g id="xtick_25">
<g id="line2d_48">
<g>
<path d="M 0 0 L 0 3.5" transform="translate(353.26 661.68)" style="stroke: #000000; stroke-width: 0.8"/>
</g>
</g>
<g id="text_60">
<text style="font-size: 14px; font-family: 'DejaVu Sans', 'Liberation Sans', sans-serif; text-anchor: middle" x="353.26" y="679.71" transform="rotate(-0 353.26 679.71)">2010</text>
</g>
</g>
<g id="xtick_26">
<g id="line2d_49">
<g>
<path d="M 0 0 L 0 3.5" transform="translate(406.3 661.68)" style="stroke: #000000; stroke-width: 0.8"/>
</g>
</g>
<g id="text_61">
<text style="font-size: 14px; font-family: 'DejaVu Sans', 'Liberation Sans', sans-serif; text-anchor: middle" x="406.3" y="679.71" transform="rotate(-0 406.3 679.71)">2015</text>
</g>
</g>
<g id="text_62">
<text style="font-size: 14px; font-family: 'DejaVu Sans', 'Liberation Sans', sans-serif; text-anchor: middle" x="241.89" y="698.11" transform="rotate(-0 241.89 698.11)">Year</text>
</g>
</g>
<g id="matplotlib.axis_8">
<g id="ytick_24">
<g id="line2d_50">
<g>
<path d="M 0 0 L -3.5 0" transform="translate(35.05 661.68)" style="stroke: #000000; stroke-width: 0.8"/>
</g>
</g>
<g id="text_63">
<text style="font-size: 14px; font-family: 'DejaVu Sans', 'Liberation Sans', sans-serif; text-anchor: end" x="28.05" y="667.39" transform="rotate(-0 28.05 667.39)">0</text>
</g>
</g>
<g id="ytick_25">
<g id="line2d_51">
<g>
<path d="M 0 0 L -3.5 0" transform="translate(35.05 628.53)" style="stroke: #000000; stroke-width: 0.8"/>
</g>
</g>
<g id="text_64">
<text style="font-size: 14px; font-family: 'DejaVu Sans', 'Liberation Sans', sans-serif; text-anchor: end" x="28.05" y="634.25" transform="rotate(-0 28.05 634.25)">1</text>
</g>
</g>
<g id="ytick_26">
<g id="line2d_52">
<g>
<path d="M 0 0 L -3.5 0" transform="translate(35.05 595.39)" style="stroke: #000000; stroke-width: 0.8"/>
</g>
</g>
<g id="text_65">
<text style="font-size: 14px; font-family: 'DejaVu Sans', 'Liberation Sans', sans-serif; text-anchor: end" x="28.05" y="601.1" transform="rotate(-0 28.05 601.1)">2</text>
</g>
</g>
<g id="ytick_27">
<g id="line2d_53">
<g>
<path d="M 0 0 L -3.5 0" transform="translate(35.05 562.24)" style="stroke: #000000; stroke-width: 0.8"/>
</g>
</g>
<g id="text_66">
<text style="font-size: 14px; font-family: 'DejaVu Sans', 'Liberation Sans', sans-serif; text-anchor: end" x="28.05" y="567.95" transform="rotate(-0 28.05 567.95)">3</text>
</g>
</g>
<g id="ytick_28">
<g id="line2d_54">
<g>
<path d="M 0 0 L -3.5 0" transform="translate(35.05 529.1)" style="stroke: #000000; stroke-width: 0.8"/>
</g>
</g>
<g id="text_67">
<text style="font-size: 14px; font-family: 'DejaVu Sans', 'Liberation Sans', sans-serif; text-anchor: end" x="28.05" y="534.81" transform="rotate(-0 28.05 534.81)">4</text>
</g>
</g>
<g id="ytick_29">
<g id="line2d_55">
<g>
<path d="M 0 0 L -3.5 0" transform="translate(35.05 495.95)" style="stroke: #000000; stroke-width: 0.8"/>
</g>
</g>
<g id="text_68">
<text style="font-size: 14px; font-family: 'DejaVu Sans', 'Liberation Sans', sans-serif; text-anchor: end" x="28.05" y="501.66" transform="rotate(-0 28.05 501.66)">5</text>
</g>
</g>
<g id="text_69">
<text style="font-size: 14px; font-family: 'DejaVu Sans', 'Liberation Sans', sans-serif; text-anchor: middle" x="12.23" y="580.06" transform="rotate(-90 12.23 580.06)">RMSE (mg/l)</text>
</g>
</g>
<g id="line2d_56">
<path d="M 35.05 639.11 L 45.66 638.08 L 56.26 636.22 L 66.87 637.25 L 77.48 640.33 L 88.09 640.23 L 98.69 637.68 L 109.3 639.41 L 119.91 638.08 L 130.51 641.66 L 141.12 641.06 L 151.73 639.31 L 162.33 642.19 L 172.94 640.86 L 183.55 641.36 L 194.16 642.39 L 204.76 644.64 L 215.37 642.69 L 225.98 642.29 L 236.58 642.95 L 247.19 642.19 L 257.8 642.09 L 268.4 642.29 L 279.01 642.29 L 289.62 641.76 L 300.23 641.86 L 310.83 640.13 L 321.44 640.33 L 332.05 640.86 L 342.65 641.06 L 353.26 640.43 L 363.87 640.13 L 374.47 640.23 L 385.08 640.23 L 395.69 640.96 L 406.3 641.36 L 416.9 640.86 L 427.51 640.23 L 438.12 640.04 L 448.72 640.43" clip-path="url(#pe89f815ff4)" style="fill: none; stroke: #000000; stroke-width: 2.3; stroke-linecap: square"/>
</g>
<g id="patch_376">
<path d="M 35.05 661.68 L 35.05 495.95" style="fill: none; stroke: #000000; stroke-width: 0.8; stroke-linejoin: miter; stroke-linecap: square"/>
</g>
<g id="patch_377">
<path d="M 448.72 661.68 L 448.72 495.95" style="fill: none; stroke: #000000; stroke-width: 0.8; stroke-linejoin: miter; stroke-linecap: square"/>
</g>
<g id="patch_378">
<path d="M 35.05 661.68 L 448.72 661.68" style="fill: none; stroke: #000000; stroke-width: 0.8; stroke-linejoin: miter; stroke-linecap: square"/>
</g>
<g id="patch_379">
<path d="M 35.05 495.95 L 448.72 495.95" style="fill: none; stroke: #000000; stroke-width: 0.8; stroke-linejoin: miter; stroke-linecap: square"/>
</g>
</g>
<g id="axes_6">
<g id="patch_380">
<path d="M 1003.84 661.68 L 1417.52 661.68 L 1417.52 495.95 L 1003.84 495.95 z" style="fill: #ffffff"/>
</g>
<g id="matplotlib.axis_9">
<g id="xtick_27">
<g id="line2d_57">
<g>
<path d="M 0 0 L 0 3.5" transform="translate(1003.84 661.68)" style="stroke: #000000; stroke-width: 0.8"/>
</g>
</g>
<g id="text_70">
<text style="font-size: 14px; font-family: 'DejaVu Sans', 'Liberation Sans', sans-serif; text-anchor: middle" x="1003.84" y="679.71" transform="rotate(-0 1003.84 679.71)">1980</text>
</g>
</g>
<g id="xtick_28">
<g id="line2d_58">
<g>
<path d="M 0 0 L 0 3.5" transform="translate(1056.88 661.68)" style="stroke: #000000; stroke-width: 0.8"/>
</g>
</g>
<g id="text_71">
<text style="font-size: 14px; font-family: 'DejaVu Sans', 'Liberation Sans', sans-serif; text-anchor: middle" x="1056.88" y="679.71" transform="rotate(-0 1056.88 679.71)">1985</text>
</g>
</g>
<g id="xtick_29">
<g id="line2d_59">
<g>
<path d="M 0 0 L 0 3.5" transform="translate(1109.91 661.68)" style="stroke: #000000; stroke-width: 0.8"/>
</g>
</g>
<g id="text_72">
<text style="font-size: 14px; font-family: 'DejaVu Sans', 'Liberation Sans', sans-serif; text-anchor: middle" x="1109.91" y="679.71" transform="rotate(-0 1109.91 679.71)">1990</text>
</g>
</g>
<g id="xtick_30">
<g id="line2d_60">
<g>
<path d="M 0 0 L 0 3.5" transform="translate(1162.95 661.68)" style="stroke: #000000; stroke-width: 0.8"/>
</g>
</g>
<g id="text_73">
<text style="font-size: 14px; font-family: 'DejaVu Sans', 'Liberation Sans', sans-serif; text-anchor: middle" x="1162.95" y="679.71" transform="rotate(-0 1162.95 679.71)">1995</text>
</g>
</g>
<g id="xtick_31">
<g id="line2d_61">
<g>
<path d="M 0 0 L 0 3.5" transform="translate(1215.98 661.68)" style="stroke: #000000; stroke-width: 0.8"/>
</g>
</g>
<g id="text_74">
<text style="font-size: 14px; font-family: 'DejaVu Sans', 'Liberation Sans', sans-serif; text-anchor: middle" x="1215.98" y="679.71" transform="rotate(-0 1215.98 679.71)">2000</text>
</g>
</g>
<g id="xtick_32">
<g id="line2d_62">
<g>
<path d="M 0 0 L 0 3.5" transform="translate(1269.02 661.68)" style="stroke: #000000; stroke-width: 0.8"/>
</g>
</g>
<g id="text_75">
<text style="font-size: 14px; font-family: 'DejaVu Sans', 'Liberation Sans', sans-serif; text-anchor: middle" x="1269.02" y="679.71" transform="rotate(-0 1269.02 679.71)">2005</text>
</g>
</g>
<g id="xtick_33">
<g id="line2d_63">
<g>
<path d="M 0 0 L 0 3.5" transform="translate(1322.05 661.68)" style="stroke: #000000; stroke-width: 0.8"/>
</g>
</g>
<g id="text_76">
<text style="font-size: 14px; font-family: 'DejaVu Sans', 'Liberation Sans', sans-serif; text-anchor: middle" x="1322.05" y="679.71" transform="rotate(-0 1322.05 679.71)">2010</text>
</g>
</g>
<g id="xtick_34">
<g id="line2d_64">
<g>
<path d="M 0 0 L 0 3.5" transform="translate(1375.09 661.68)" style="stroke: #000000; stroke-width: 0.8"/>
</g>
</g>
<g id="text_77">
<text style="font-size: 14px; font-family: 'DejaVu Sans', 'Liberation Sans', sans-serif; text-anchor: middle" x="1375.09" y="679.71" transform="rotate(-0 1375.09 679.71)">2015</text>
</g>
</g>
<g id="text_78">
<text style="font-size: 14px; font-family: 'DejaVu Sans', 'Liberation Sans', sans-serif; text-anchor: middle" x="1210.68" y="698.11" transform="rotate(-0 1210.68 698.11)">Year</text>
</g>
</g>
<g id="matplotlib.axis_10">
<g id="ytick_30">
<g id="line2d_65">
<g>
<path d="M 0 0 L -3.5 0" transform="translate(1003.84 661.68)" style="stroke: #000000; stroke-width: 0.8"/>
</g>
</g>
<g id="text_79">
<text style="font-size: 14px; font-family: 'DejaVu Sans', 'Liberation Sans', sans-serif; text-anchor: end" x="996.84" y="667.39" transform="rotate(-0 996.84 667.39)">0</text>
</g>
</g>
<g id="ytick_31">
<g id="line2d_66">
<g>
<path d="M 0 0 L -3.5 0" transform="translate(1003.84 628.53)" style="stroke: #000000; stroke-width: 0.8"/>
</g>
</g>
<g id="text_80">
<text style="font-size: 14px; font-family: 'DejaVu Sans', 'Liberation Sans', sans-serif; text-anchor: end" x="996.84" y="634.25" transform="rotate(-0 996.84 634.25)">1</text>
</g>
</g>
<g id="ytick_32">
<g id="line2d_67">
<g>
<path d="M 0 0 L -3.5 0" transform="translate(1003.84 595.39)" style="stroke: #000000; stroke-width: 0.8"/>
</g>
</g>
<g id="text_81">
<text style="font-size: 14px; font-family: 'DejaVu Sans', 'Liberation Sans', sans-serif; text-anchor: end" x="996.84" y="601.1" transform="rotate(-0 996.84 601.1)">2</text>
</g>
</g>
<g id="ytick_33">
<g id="line2d_68">
<g>
<path d="M 0 0 L -3.5 0" transform="translate(1003.84 562.24)" style="stroke: #000000; stroke-width: 0.8"/>
</g>
</g>
<g id="text_82">
<text style="font-size: 14px; font-family: 'DejaVu Sans', 'Liberation Sans', sans-serif; text-anchor: end" x="996.84" y="567.95" transform="rotate(-0 996.84 567.95)">3</text>
</g>
</g>
<g id="ytick_34">
<g id="line2d_69">
<g>
<path d="M 0 0 L -3.5 0" transform="translate(1003.84 529.1)" style="stroke: #000000; stroke-width: 0.8"/>
</g>
</g>
<g id="text_83">
<text style="font-size: 14px; font-family: 'DejaVu Sans', 'Liberation Sans', sans-serif; text-anchor: end" x="996.84" y="534.81" transform="rotate(-0 996.84 534.81)">4</text>
</g>
</g>
<g id="ytick_35">
<g id="line2d_70">
<g>
<path d="M 0 0 L -3.5 0" transform="translate(1003.84 495.95)" style="stroke: #000000; stroke-width: 0.8"/>
</g>
</g>
<g id="text_84">
<text style="font-size: 14px; font-family: 'DejaVu Sans', 'Liberation Sans', sans-serif; text-anchor: end" x="996.84" y="501.66" transform="rotate(-0 996.84 501.66)">5</text>
</g>
</g>
<g id="text_85">
<text style="font-size: 14px; font-family: 'DejaVu Sans', 'Liberation Sans', sans-serif; text-anchor: middle" x="981.02" y="580.06" transform="rotate(-90 981.02 580.06)">RMSE (mg/l)</text>
</g>
</g>
<g id="line2d_71">
<path d="M 1003.84 613.15 L 1014.45 614.38 L 1025.06 611.4 L 1035.66 615.31 L 1046.27 613.75 L 1056.88 612.42 L 1067.49 604.2 L 1078.09 609.14 L 1088.7 604.11 L 1099.31 613.25 L 1109.91 615.21 L 1120.52 613.25 L 1131.13 615.21 L 1141.73 618.06 L 1152.34 610.67 L 1162.95 611.4 L 1173.56 619.82 L 1184.16 617.96 L 1194.77 615.91 L 1205.38 604.47 L 1215.98 602.35 L 1226.59 602.25 L 1237.2 608.51 L 1247.8 609.31 L 1258.41 609.47 L 1269.02 605.03 L 1279.63 603.14 L 1290.23 606.13 L 1300.84 608.71 L 1311.45 604.44 L 1322.05 610.87 L 1332.66 610.67 L 1343.27 604.24 L 1353.87 608.51 L 1364.48 609.97 L 1375.09 611.26 L 1385.7 610.67 L 1396.3 613.05 L 1406.91 611.26 L 1417.52 615.84" clip-path="url(#p575f5931a7)" style="fill: none; stroke: #000000; stroke-width: 2.3; stroke-linecap: square"/>
</g>
<g id="patch_381">
<path d="M 1003.84 661.68 L 1003.84 495.95" style="fill: none; stroke: #000000; stroke-width: 0.8; stroke-linejoin: miter; stroke-linecap: square"/>
</g>
<g id="patch_382">
<path d="M 1417.52 661.68 L 1417.52 495.95" style="fill: none; stroke: #000000; stroke-width: 0.8; stroke-linejoin: miter; stroke-linecap: square"/>
</g>
<g id="patch_383">
<path d="M 1003.84 661.68 L 1417.52 661.68" style="fill: none; stroke: #000000; stroke-width: 0.8; stroke-linejoin: miter; stroke-linecap: square"/>
</g>
<g id="patch_384">
<path d="M 1003.84 495.95 L 1417.52 495.95" style="fill: none; stroke: #000000; stroke-width: 0.8; stroke-linejoin: miter; stroke-linecap: square"/>
</g>
</g>
<g id="axes_7">
<g id="patch_385">
<path d="M 207.23 893.26 L 620.9 893.26 L 620.9 727.4 L 207.23 727.4 z" style="fill: #ffffff"/>
</g>
<g id="matplotlib.axis_11">
<g id="xtick_35">
<g id="line2d_72">
<g>
<path d="M 0 0 L 0 3.5" transform="translate(243.13 893.26)" style="stroke: #000000; stroke-width: 0.8"/>
</g>
</g>
<g id="text_86">
<text style="font-size: 14px; font-family: 'DejaVu Sans', 'Liberation Sans', sans-serif" transform="translate(246.53 1023.62) rotate(-90)">DO data &lt; 5 mg/l</text>
</g>
</g>
<g id="xtick_36">
<g id="line2d_73">
<g>
<path d="M 0 0 L 0 3.5" transform="translate(328.6 893.26)" style="stroke: #000000; stroke-width: 0.8"/>
</g>
</g>
<g id="text_87">
<text style="font-size: 14px; font-family: 'DejaVu Sans', 'Liberation Sans', sans-serif" transform="translate(324.16 1027.94) rotate(-90)">DO data &lt; 5 mg/l</text>
<text style="font-size: 14px; font-family: 'DejaVu Sans', 'Liberation Sans', sans-serif" transform="translate(339.84 1032.27) rotate(-90)">&amp; DO sim &lt; 5 mg/l</text>
</g>
</g>
<g id="xtick_37">
<g id="line2d_74">
<g>
<path d="M 0 0 L 0 3.5" transform="translate(414.07 893.26)" style="stroke: #000000; stroke-width: 0.8"/>
</g>
</g>
<g id="text_88">
<text style="font-size: 14px; font-family: 'DejaVu Sans', 'Liberation Sans', sans-serif" transform="translate(409.63 1027.94) rotate(-90)">DO data &lt; 5 mg/l</text>
<text style="font-size: 14px; font-family: 'DejaVu Sans', 'Liberation Sans', sans-serif" transform="translate(425.31 1032.27) rotate(-90)">&amp; DO sim &gt; 5 mg/l</text>
</g>
</g>
<g id="xtick_38">
<g id="line2d_75">
<g>
<path d="M 0 0 L 0 3.5" transform="translate(499.54 893.26)" style="stroke: #000000; stroke-width: 0.8"/>
</g>
</g>
<g id="text_89">
<text style="font-size: 14px; font-family: 'DejaVu Sans', 'Liberation Sans', sans-serif" transform="translate(495.1 1027.94) rotate(-90)">DO data &lt; 5 mg/l</text>
<text style="font-size: 14px; font-family: 'DejaVu Sans', 'Liberation Sans', sans-serif" transform="translate(510.78 1032.27) rotate(-90)">&amp; DO sim &lt; 5 mg/l</text>
</g>
</g>
<g id="xtick_39">
<g id="line2d_76">
<g>
<path d="M 0 0 L 0 3.5" transform="translate(585 893.26)" style="stroke: #000000; stroke-width: 0.8"/>
</g>
</g>
<g id="text_90">
<text style="font-size: 14px; font-family: 'DejaVu Sans', 'Liberation Sans', sans-serif" transform="translate(580.57 1027.94) rotate(-90)">DO data &lt; 5 mg/l</text>
<text style="font-size: 14px; font-family: 'DejaVu Sans', 'Liberation Sans', sans-serif" transform="translate(596.25 1032.27) rotate(-90)">&amp; DO sim &gt; 5 mg/l</text>
</g>
</g>
</g>
<g id="matplotlib.axis_12">
<g id="ytick_36">
<g id="line2d_77">
<g>
<path d="M 0 0 L -3.5 0" transform="translate(207.23 893.26)" style="stroke: #000000; stroke-width: 0.8"/>
</g>
</g>
<g id="text_91">
<text style="font-size: 14px; font-family: 'DejaVu Sans', 'Liberation Sans', sans-serif; text-anchor: end" x="200.23" y="898.97" transform="rotate(-0 200.23 898.97)">0</text>
</g>
</g>
<g id="ytick_37">
<g id="line2d_78">
<g>
<path d="M 0 0 L -3.5 0" transform="translate(207.23 870.11)" style="stroke: #000000; stroke-width: 0.8"/>
</g>
</g>
<g id="text_92">
<text style="font-size: 14px; font-family: 'DejaVu Sans', 'Liberation Sans', sans-serif; text-anchor: end" x="200.23" y="875.82" transform="rotate(-0 200.23 875.82)">10000</text>
</g>
</g>
<g id="ytick_38">
<g id="line2d_79">
<g>
<path d="M 0 0 L -3.5 0" transform="translate(207.23 846.96)" style="stroke: #000000; stroke-width: 0.8"/>
</g>
</g>
<g id="text_93">
<text style="font-size: 14px; font-family: 'DejaVu Sans', 'Liberation Sans', sans-serif; text-anchor: end" x="200.23" y="852.67" transform="rotate(-0 200.23 852.67)">20000</text>
</g>
</g>
<g id="ytick_39">
<g id="line2d_80">
<g>
<path d="M 0 0 L -3.5 0" transform="translate(207.23 823.81)" style="stroke: #000000; stroke-width: 0.8"/>
</g>
</g>
<g id="text_94">
<text style="font-size: 14px; font-family: 'DejaVu Sans', 'Liberation Sans', sans-serif; text-anchor: end" x="200.23" y="829.52" transform="rotate(-0 200.23 829.52)">30000</text>
</g>
</g>
<g id="ytick_40">
<g id="line2d_81">
<g>
<path d="M 0 0 L -3.5 0" transform="translate(207.23 800.66)" style="stroke: #000000; stroke-width: 0.8"/>
</g>
</g>
<g id="text_95">
<text style="font-size: 14px; font-family: 'DejaVu Sans', 'Liberation Sans', sans-serif; text-anchor: end" x="200.23" y="806.37" transform="rotate(-0 200.23 806.37)">40000</text>
</g>
</g>
<g id="ytick_41">
<g id="line2d_82">
<g>
<path d="M 0 0 L -3.5 0" transform="translate(207.23 777.51)" style="stroke: #000000; stroke-width: 0.8"/>
</g>
</g>
<g id="text_96">
<text style="font-size: 14px; font-family: 'DejaVu Sans', 'Liberation Sans', sans-serif; text-anchor: end" x="200.23" y="783.23" transform="rotate(-0 200.23 783.23)">50000</text>
</g>
</g>
<g id="ytick_42">
<g id="line2d_83">
<g>
<path d="M 0 0 L -3.5 0" transform="translate(207.23 754.36)" style="stroke: #000000; stroke-width: 0.8"/>
</g>
</g>
<g id="text_97">
<text style="font-size: 14px; font-family: 'DejaVu Sans', 'Liberation Sans', sans-serif; text-anchor: end" x="200.23" y="760.08" transform="rotate(-0 200.23 760.08)">60000</text>
</g>
</g>
<g id="ytick_43">
<g id="line2d_84">
<g>
<path d="M 0 0 L -3.5 0" transform="translate(207.23 731.22)" style="stroke: #000000; stroke-width: 0.8"/>
</g>
</g>
<g id="text_98">
<text style="font-size: 14px; font-family: 'DejaVu Sans', 'Liberation Sans', sans-serif; text-anchor: end" x="200.23" y="736.93" transform="rotate(-0 200.23 736.93)">70000</text>
</g>
</g>
<g id="text_99">
<text style="font-size: 14px; font-family: 'DejaVu Sans', 'Liberation Sans', sans-serif; text-anchor: middle" x="149.04" y="810.85" transform="rotate(-90 149.04 810.85)">N (days)</text>
</g>
</g>
<g id="patch_386">
<path d="M 207.23 893.26 L 207.23 727.4" style="fill: none; stroke: #000000; stroke-width: 0.8; stroke-linejoin: miter; stroke-linecap: square"/>
</g>
<g id="patch_387">
<path d="M 620.9 893.26 L 620.9 727.4" style="fill: none; stroke: #000000; stroke-width: 0.8; stroke-linejoin: miter; stroke-linecap: square"/>
</g>
<g id="patch_388">
<path d="M 207.23 893.26 L 620.9 893.26" style="fill: none; stroke: #000000; stroke-width: 0.8; stroke-linejoin: miter; stroke-linecap: square"/>
</g>
<g id="patch_389">
<path d="M 207.23 727.4 L 620.9 727.4" style="fill: none; stroke: #000000; stroke-width: 0.8; stroke-linejoin: miter; stroke-linecap: square"/>
</g>
<g id="patch_390">
<path d="M 226.03 893.26 L 260.22 893.26 L 260.22 735.31 L 226.03 735.31 z" clip-path="url(#pf9a34589d6)" style="fill: #808080"/>
</g>
<g id="patch_391">
<path d="M 311.5 893.26 L 345.69 893.26 L 345.69 763.51 L 311.5 763.51 z" clip-path="url(#pf9a34589d6)" style="fill: #d62728"/>
</g>
<g id="patch_392">
<path d="M 396.97 893.26 L 431.16 893.26 L 431.16 865.34 L 396.97 865.34 z" clip-path="url(#pf9a34589d6)" style="fill: #d62728"/>
</g>
<g id="patch_393">
<path d="M 482.44 893.26 L 516.63 893.26 L 516.63 836.61 L 482.44 836.61 z" clip-path="url(#pf9a34589d6)" style="fill: #4382bc"/>
</g>
<g id="patch_394">
<path d="M 567.91 893.26 L 602.1 893.26 L 602.1 792.1 L 567.91 792.1 z" clip-path="url(#pf9a34589d6)" style="fill: #4382bc"/>
</g>
<g id="legend_4">
<g id="patch_395">
<path d="M 394.56 780.08 L 611.1 780.08 Q 613.9 780.08 613.9 777.28 L 613.9 737.2 Q 613.9 734.4 611.1 734.4 L 394.56 734.4 Q 391.76 734.4 391.76 737.2 L 391.76 777.28 Q 391.76 780.08 394.56 780.08 z" style="fill: #ffffff; opacity: 0.8; stroke: #cccccc; stroke-linejoin: miter"/>
</g>
<g id="patch_396">
<path d="M 397.36 750.63 L 425.36 750.63 L 425.36 740.83 L 397.36 740.83 z" style="fill: #d62728"/>
</g>
<g id="text_100">
<text style="font-size: 14px; font-family: 'DejaVu Sans', 'Liberation Sans', sans-serif; text-anchor: start" x="435.65" y="750.63" transform="rotate(-0 435.65 750.63)">DynQual_Random Forest</text>
</g>
<g id="patch_397">
<path d="M 397.36 771.57 L 425.36 771.57 L 425.36 761.77 L 397.36 761.77 z" style="fill: #4382bc"/>
</g>
<g id="text_101">
<text style="font-size: 14px; font-family: 'DejaVu Sans', 'Liberation Sans', sans-serif; text-anchor: start" x="435.65" y="771.57" transform="rotate(-0 435.65 771.57)">DynQual</text>
</g>
</g>
</g>
<g id="axes_8">
<g id="patch_398">
<path d="M 831.63 893.26 L 1245.31 893.26 L 1245.31 727.4 L 831.63 727.4 z" style="fill: #ffffff"/>
</g>
<g id="matplotlib.axis_13">
<g id="xtick_40">
<g id="line2d_85">
<g>
<path d="M 0 0 L 0 3.5" transform="translate(867.53 893.26)" style="stroke: #000000; stroke-width: 0.8"/>
</g>
</g>
<g id="text_102">
<text style="font-size: 14px; font-family: 'DejaVu Sans', 'Liberation Sans', sans-serif" transform="translate(870.93 1023.62) rotate(-90)">DO data &lt; 3 mg/l</text>
</g>
</g>
<g id="xtick_41">
<g id="line2d_86">
<g>
<path d="M 0 0 L 0 3.5" transform="translate(953 893.26)" style="stroke: #000000; stroke-width: 0.8"/>
</g>
</g>
<g id="text_103">
<text style="font-size: 14px; font-family: 'DejaVu Sans', 'Liberation Sans', sans-serif" transform="translate(948.57 1027.94) rotate(-90)">DO data &lt; 3 mg/l</text>
<text style="font-size: 14px; font-family: 'DejaVu Sans', 'Liberation Sans', sans-serif" transform="translate(964.24 1032.27) rotate(-90)">&amp; DO sim &lt; 3 mg/l</text>
</g>
</g>
<g id="xtick_42">
<g id="line2d_87">
<g>
<path d="M 0 0 L 0 3.5" transform="translate(1038.47 893.26)" style="stroke: #000000; stroke-width: 0.8"/>
</g>
</g>
<g id="text_104">
<text style="font-size: 14px; font-family: 'DejaVu Sans', 'Liberation Sans', sans-serif" transform="translate(1034.04 1027.94) rotate(-90)">DO data &lt; 3 mg/l</text>
<text style="font-size: 14px; font-family: 'DejaVu Sans', 'Liberation Sans', sans-serif" transform="translate(1049.71 1032.27) rotate(-90)">&amp; DO sim &gt; 3 mg/l</text>
</g>
</g>
<g id="xtick_43">
<g id="line2d_88">
<g>
<path d="M 0 0 L 0 3.5" transform="translate(1123.94 893.26)" style="stroke: #000000; stroke-width: 0.8"/>
</g>
</g>
<g id="text_105">
<text style="font-size: 14px; font-family: 'DejaVu Sans', 'Liberation Sans', sans-serif" transform="translate(1119.51 1027.94) rotate(-90)">DO data &lt; 3 mg/l</text>
<text style="font-size: 14px; font-family: 'DejaVu Sans', 'Liberation Sans', sans-serif" transform="translate(1135.18 1032.27) rotate(-90)">&amp; DO sim &lt; 3 mg/l</text>
</g>
</g>
<g id="xtick_44">
<g id="line2d_89">
<g>
<path d="M 0 0 L 0 3.5" transform="translate(1209.41 893.26)" style="stroke: #000000; stroke-width: 0.8"/>
</g>
</g>
<g id="text_106">
<text style="font-size: 14px; font-family: 'DejaVu Sans', 'Liberation Sans', sans-serif" transform="translate(1204.97 1027.94) rotate(-90)">DO data &lt; 3 mg/l</text>
<text style="font-size: 14px; font-family: 'DejaVu Sans', 'Liberation Sans', sans-serif" transform="translate(1220.65 1032.27) rotate(-90)">&amp; DO sim &gt; 3 mg/l</text>
</g>
</g>
</g>
<g id="matplotlib.axis_14">
<g id="ytick_44">
<g id="line2d_90">
<g>
<path d="M 0 0 L -3.5 0" transform="translate(831.63 893.26)" style="stroke: #000000; stroke-width: 0.8"/>
</g>
</g>
<g id="text_107">
<text style="font-size: 14px; font-family: 'DejaVu Sans', 'Liberation Sans', sans-serif; text-anchor: end" x="824.63" y="898.97" transform="rotate(-0 824.63 898.97)">0</text>
</g>
</g>
<g id="ytick_45">
<g id="line2d_91">
<g>
<path d="M 0 0 L -3.5 0" transform="translate(831.63 865.61)" style="stroke: #000000; stroke-width: 0.8"/>
</g>
</g>
<g id="text_108">
<text style="font-size: 14px; font-family: 'DejaVu Sans', 'Liberation Sans', sans-serif; text-anchor: end" x="824.63" y="871.33" transform="rotate(-0 824.63 871.33)">5000</text>
</g>
</g>
<g id="ytick_46">
<g id="line2d_92">
<g>
<path d="M 0 0 L -3.5 0" transform="translate(831.63 837.97)" style="stroke: #000000; stroke-width: 0.8"/>
</g>
</g>
<g id="text_109">
<text style="font-size: 14px; font-family: 'DejaVu Sans', 'Liberation Sans', sans-serif; text-anchor: end" x="824.63" y="843.68" transform="rotate(-0 824.63 843.68)">10000</text>
</g>
</g>
<g id="ytick_47">
<g id="line2d_93">
<g>
<path d="M 0 0 L -3.5 0" transform="translate(831.63 810.33)" style="stroke: #000000; stroke-width: 0.8"/>
</g>
</g>
<g id="text_110">
<text style="font-size: 14px; font-family: 'DejaVu Sans', 'Liberation Sans', sans-serif; text-anchor: end" x="824.63" y="816.04" transform="rotate(-0 824.63 816.04)">15000</text>
</g>
</g>
<g id="ytick_48">
<g id="line2d_94">
<g>
<path d="M 0 0 L -3.5 0" transform="translate(831.63 782.68)" style="stroke: #000000; stroke-width: 0.8"/>
</g>
</g>
<g id="text_111">
<text style="font-size: 14px; font-family: 'DejaVu Sans', 'Liberation Sans', sans-serif; text-anchor: end" x="824.63" y="788.4" transform="rotate(-0 824.63 788.4)">20000</text>
</g>
</g>
<g id="ytick_49">
<g id="line2d_95">
<g>
<path d="M 0 0 L -3.5 0" transform="translate(831.63 755.04)" style="stroke: #000000; stroke-width: 0.8"/>
</g>
</g>
<g id="text_112">
<text style="font-size: 14px; font-family: 'DejaVu Sans', 'Liberation Sans', sans-serif; text-anchor: end" x="824.63" y="760.75" transform="rotate(-0 824.63 760.75)">25000</text>
</g>
</g>
<g id="ytick_50">
<g id="line2d_96">
<g>
<path d="M 0 0 L -3.5 0" transform="translate(831.63 727.4)" style="stroke: #000000; stroke-width: 0.8"/>
</g>
</g>
<g id="text_113">
<text style="font-size: 14px; font-family: 'DejaVu Sans', 'Liberation Sans', sans-serif; text-anchor: end" x="824.63" y="733.11" transform="rotate(-0 824.63 733.11)">30000</text>
</g>
</g>
<g id="text_114">
<text style="font-size: 14px; font-family: 'DejaVu Sans', 'Liberation Sans', sans-serif; text-anchor: middle" x="773.45" y="810.85" transform="rotate(-90 773.45 810.85)">N (days)</text>
</g>
</g>
<g id="patch_399">
<path d="M 831.63 893.26 L 831.63 727.4" style="fill: none; stroke: #000000; stroke-width: 0.8; stroke-linejoin: miter; stroke-linecap: square"/>
</g>
<g id="patch_400">
<path d="M 1245.31 893.26 L 1245.31 727.4" style="fill: none; stroke: #000000; stroke-width: 0.8; stroke-linejoin: miter; stroke-linecap: square"/>
</g>
<g id="patch_401">
<path d="M 831.63 893.26 L 1245.31 893.26" style="fill: none; stroke: #000000; stroke-width: 0.8; stroke-linejoin: miter; stroke-linecap: square"/>
</g>
<g id="patch_402">
<path d="M 831.63 727.4 L 1245.31 727.4" style="fill: none; stroke: #000000; stroke-width: 0.8; stroke-linejoin: miter; stroke-linecap: square"/>
</g>
<g id="patch_403">
<path d="M 850.44 893.26 L 884.62 893.26 L 884.62 759.85 L 850.44 759.85 z" clip-path="url(#p121d68709d)" style="fill: #808080"/>
</g>
<g id="patch_404">
<path d="M 935.91 893.26 L 970.09 893.26 L 970.09 785.31 L 935.91 785.31 z" clip-path="url(#p121d68709d)" style="fill: #d62728"/>
</g>
<g id="patch_405">
<path d="M 1021.38 893.26 L 1055.56 893.26 L 1055.56 867.96 L 1021.38 867.96 z" clip-path="url(#p121d68709d)" style="fill: #d62728"/>
</g>
<g id="patch_406">
<path d="M 1106.84 893.26 L 1141.03 893.26 L 1141.03 860.14 L 1106.84 860.14 z" clip-path="url(#p121d68709d)" style="fill: #4382bc"/>
</g>
<g id="patch_407">
<path d="M 1192.31 893.26 L 1226.5 893.26 L 1226.5 792.97 L 1192.31 792.97 z" clip-path="url(#p121d68709d)" style="fill: #4382bc"/>
</g>
<g id="legend_5">
<g id="patch_408">
<path d="M 1018.96 780.08 L 1235.51 780.08 Q 1238.31 780.08 1238.31 777.28 L 1238.31 737.2 Q 1238.31 734.4 1235.51 734.4 L 1018.96 734.4 Q 1016.16 734.4 1016.16 737.2 L 1016.16 777.28 Q 1016.16 780.08 1018.96 780.08 z" style="fill: #ffffff; opacity: 0.8; stroke: #cccccc; stroke-linejoin: miter"/>
</g>
<g id="patch_409">
<path d="M 1021.76 750.63 L 1049.76 750.63 L 1049.76 740.83 L 1021.76 740.83 z" style="fill: #d62728"/>
</g>
<g id="text_115">
<text style="font-size: 14px; font-family: 'DejaVu Sans', 'Liberation Sans', sans-serif; text-anchor: start" x="1060.05" y="750.63" transform="rotate(-0 1060.05 750.63)">DynQual_Random Forest</text>
</g>
<g id="patch_410">
<path d="M 1021.76 771.57 L 1049.76 771.57 L 1049.76 761.77 L 1021.76 761.77 z" style="fill: #4382bc"/>
</g>
<g id="text_116">
<text style="font-size: 14px; font-family: 'DejaVu Sans', 'Liberation Sans', sans-serif; text-anchor: start" x="1060.05" y="771.57" transform="rotate(-0 1060.05 771.57)">DynQual</text>
</g>
</g>
</g>
<g id="axes_9">
<g id="patch_411">
<path d="M 76.19 190.54 L 407.39 190.54 L 407.39 173.78 L 76.19 173.78 z" style="fill: #ffffff"/>
</g>
<g id="cbarfill_a">
<path d="M 76.19 190.54 L 407.39 190.54 L 407.39 173.78 L 76.19 173.78 z" clip-path="url(#pbebfc1d31c)" style="fill: url(#jetgrad)"/>
</g>
<g id="matplotlib.axis_15">
<g id="xtick_45">
<g id="line2d_97">
<g>
<path d="M 0 0 L 0 3.5" transform="translate(76.19 190.54)" style="stroke: #000000; stroke-width: 0.8"/>
</g>
</g>
<g id="text_117">
<text style="font-size: 14px; font-family: 'DejaVu Sans', 'Liberation Sans', sans-serif; text-anchor: middle" x="76.19" y="208.57" transform="rotate(-0 76.19 208.57)">0</text>
</g>
</g>
<g id="xtick_46">
<g id="line2d_98">
<g>
<path d="M 0 0 L 0 3.5" transform="translate(142.43 190.54)" style="stroke: #000000; stroke-width: 0.8"/>
</g>
</g>
<g id="text_118">
<text style="font-size: 14px; font-family: 'DejaVu Sans', 'Liberation Sans', sans-serif; text-anchor: middle" x="142.43" y="208.57" transform="rotate(-0 142.43 208.57)">1</text>
</g>
</g>
<g id="xtick_47">
<g id="line2d_99">
<g>
<path d="M 0 0 L 0 3.5" transform="translate(208.67 190.54)" style="stroke: #000000; stroke-width: 0.8"/>
</g>
</g>
<g id="text_119">
<text style="font-size: 14px; font-family: 'DejaVu Sans', 'Liberation Sans', sans-serif; text-anchor: middle" x="208.67" y="208.57" transform="rotate(-0 208.67 208.57)">2</text>
</g>
</g>
<g id="xtick_48">
<g id="line2d_100">
<g>
<path d="M 0 0 L 0 3.5" transform="translate(274.91 190.54)" style="stroke: #000000; stroke-width: 0.8"/>
</g>
</g>
<g id="text_120">
<text style="font-size: 14px; font-family: 'DejaVu Sans', 'Liberation Sans', sans-serif; text-anchor: middle" x="274.91" y="208.57" transform="rotate(-0 274.91 208.57)">3</text>
</g>
</g>
<g id="xtick_49">
<g id="line2d_101">
<g>
<path d="M 0 0 L 0 3.5" transform="translate(341.15 190.54)" style="stroke: #000000; stroke-width: 0.8"/>
</g>
</g>
<g id="text_121">
<text style="font-size: 14px; font-family: 'DejaVu Sans', 'Liberation Sans', sans-serif; text-anchor: middle" x="341.15" y="208.57" transform="rotate(-0 341.15 208.57)">4</text>
</g>
</g>
<g id="xtick_50">
<g id="line2d_102">
<g>
<path d="M 0 0 L 0 3.5" transform="translate(407.39 190.54)" style="stroke: #000000; stroke-width: 0.8"/>
</g>
</g>
<g id="text_122">
<text style="font-size: 14px; font-family: 'DejaVu Sans', 'Liberation Sans', sans-serif; text-anchor: middle" x="407.39" y="208.57" transform="rotate(-0 407.39 208.57)">5</text>
</g>
</g>
<g id="text_123">
<text style="font-size: 14px; font-family: 'DejaVu Sans', 'Liberation Sans', sans-serif; text-anchor: middle" x="241.79" y="226.12" transform="rotate(-0 241.79 226.12)">RMSE (mg/l)</text>
</g>
</g>
<g id="matplotlib.axis_16"/>
<g id="patch_412">
<path d="M 76.19 190.54 L 76.19 173.78" style="fill: none; stroke: #000000; stroke-width: 0.6; stroke-linejoin: miter; stroke-linecap: square"/>
</g>
<g id="patch_413">
<path d="M 407.39 190.54 L 407.39 173.78" style="fill: none; stroke: #000000; stroke-width: 0.6; stroke-linejoin: miter; stroke-linecap: square"/>
</g>
<g id="patch_414">
<path d="M 76.19 190.54 L 407.39 190.54" style="fill: none; stroke: #000000; stroke-width: 0.6; stroke-linejoin: miter; stroke-linecap: square"/>
</g>
<g id="patch_415">
<path d="M 76.19 173.78 L 407.39 173.78" style="fill: none; stroke: #000000; stroke-width: 0.6; stroke-linejoin: miter; stroke-linecap: square"/>
</g>
</g>
<g id="axes_10">
<g id="patch_416">
<path d="M 76.19 421.99 L 407.39 421.99 L 407.39 405.23 L 76.19 405.23 z" style="fill: #ffffff"/>
</g>
<g id="cbarfill_d">
<path d="M 76.19 421.99 L 407.39 421.99 L 407.39 405.23 L 76.19 405.23 z" clip-path="url(#p86ea70df00)" style="fill: url(#jetgrad)"/>
</g>
<g id="matplotlib.axis_17">
<g id="xtick_51">
<g id="line2d_103">
<g>
<path d="M 0 0 L 0 3.5" transform="translate(76.19 421.99)" style="stroke: #000000; stroke-width: 0.8"/>
</g>
</g>
<g id="text_124">
<text style="font-size: 14px; font-family: 'DejaVu Sans', 'Liberation Sans', sans-serif; text-anchor: middle" x="76.19" y="440.02" transform="rotate(-0 76.19 440.02)">0</text>
</g>
</g>
<g id="xtick_52">
<g id="line2d_104">
<g>
<path d="M 0 0 L 0 3.5" transform="translate(142.43 421.99)" style="stroke: #000000; stroke-width: 0.8"/>
</g>
</g>
<g id="text_125">
<text style="font-size: 14px; font-family: 'DejaVu Sans', 'Liberation Sans', sans-serif; text-anchor: middle" x="142.43" y="440.02" transform="rotate(-0 142.43 440.02)">1</text>
</g>
</g>
<g id="xtick_53">
<g id="line2d_105">
<g>
<path d="M 0 0 L 0 3.5" transform="translate(208.67 421.99)" style="stroke: #000000; stroke-width: 0.8"/>
</g>
</g>
<g id="text_126">
<text style="font-size: 14px; font-family: 'DejaVu Sans', 'Liberation Sans', sans-serif; text-anchor: middle" x="208.67" y="440.02" transform="rotate(-0 208.67 440.02)">2</text>
</g>
</g>
<g id="xtick_54">
<g id="line2d_106">
<g>
<path d="M 0 0 L 0 3.5" transform="translate(274.91 421.99)" style="stroke: #000000; stroke-width: 0.8"/>
</g>
</g>
<g id="text_127">
<text style="font-size: 14px; font-family: 'DejaVu Sans', 'Liberation Sans', sans-serif; text-anchor: middle" x="274.91" y="440.02" transform="rotate(-0 274.91 440.02)">3</text>
</g>
</g>
<g id="xtick_55">
<g id="line2d_107">
<g>
<path d="M 0 0 L 0 3.5" transform="translate(341.15 421.99)" style="stroke: #000000; stroke-width: 0.8"/>
</g>
</g>
<g id="text_128">
<text style="font-size: 14px; font-family: 'DejaVu Sans', 'Liberation Sans', sans-serif; text-anchor: middle" x="341.15" y="440.02" transform="rotate(-0 341.15 440.02)">4</text>
</g>
</g>
<g id="xtick_56">
<g id="line2d_108">
<g>
<path d="M 0 0 L 0 3.5" transform="translate(407.39 421.99)" style="stroke: #000000; stroke-width: 0.8"/>
</g>
</g>
<g id="text_129">
<text style="font-size: 14px; font-family: 'DejaVu Sans', 'Liberation Sans', sans-serif; text-anchor: middle" x="407.39" y="440.02" transform="rotate(-0 407.39 440.02)">5</text>
</g>
</g>
<g id="text_130">
<text style="font-size: 14px; font-family: 'DejaVu Sans', 'Liberation Sans', sans-serif; text-anchor: middle" x="241.79" y="457.57" transform="rotate(-0 241.79 457.57)">RMSE (mg/l)</text>
</g>
</g>
<g id="matplotlib.axis_18"/>
<g id="patch_417">
<path d="M 76.19 421.99 L 76.19 405.23" style="fill: none; stroke: #000000; stroke-width: 0.6; stroke-linejoin: miter; stroke-linecap: square"/>
</g>
<g id="patch_418">
<path d="M 407.39 421.99 L 407.39 405.23" style="fill: none; stroke: #000000; stroke-width: 0.6; stroke-linejoin: miter; stroke-linecap: square"/>
</g>
<g id="patch_419">
<path d="M 76.19 421.99 L 407.39 421.99" style="fill: none; stroke: #000000; stroke-width: 0.6; stroke-linejoin: miter; stroke-linecap: square"/>
</g>
<g id="patch_420">
<path d="M 76.19 405.23 L 407.39 405.23" style="fill: none; stroke: #000000; stroke-width: 0.6; stroke-linejoin: miter; stroke-linecap: square"/>
</g>
</g>
<g id="axes_11">
<g id="patch_421">
<path d="M 1044.92 190.54 L 1375.85 190.54 L 1375.85 173.78 L 1044.92 173.78 z" style="fill: #ffffff"/>
</g>
<g id="cbarfill_c">
<path d="M 1044.92 190.54 L 1375.85 190.54 L 1375.85 173.78 L 1044.92 173.78 z" clip-path="url(#p850e935e48)" style="fill: url(#jetgrad)"/>
</g>
<g id="matplotlib.axis_19">
<g id="xtick_57">
<g id="line2d_109">
<g>
<path d="M 0 0 L 0 3.5" transform="translate(1044.92 190.54)" style="stroke: #000000; stroke-width: 0.8"/>
</g>
</g>
<g id="text_131">
<text style="font-size: 14px; font-family: 'DejaVu Sans', 'Liberation Sans', sans-serif; text-anchor: middle" x="1044.92" y="208.57" transform="rotate(-0 1044.92 208.57)">0</text>
</g>
</g>
<g id="xtick_58">
<g id="line2d_110">
<g>
<path d="M 0 0 L 0 3.5" transform="translate(1111.1 190.54)" style="stroke: #000000; stroke-width: 0.8"/>
</g>
</g>
<g id="text_132">
<text style="font-size: 14px; font-family: 'DejaVu Sans', 'Liberation Sans', sans-serif; text-anchor: middle" x="1111.1" y="208.57" transform="rotate(-0 1111.1 208.57)">1</text>
</g>
</g>
<g id="xtick_59">
<g id="line2d_111">
<g>
<path d="M 0 0 L 0 3.5" transform="translate(1177.29 190.54)" style="stroke: #000000; stroke-width: 0.8"/>
</g>
</g>
<g id="text_133">
<text style="font-size: 14px; font-family: 'DejaVu Sans', 'Liberation Sans', sans-serif; text-anchor: middle" x="1177.29" y="208.57" transform="rotate(-0 1177.29 208.57)">2</text>
</g>
</g>
<g id="xtick_60">
<g id="line2d_112">
<g>
<path d="M 0 0 L 0 3.5" transform="translate(1243.48 190.54)" style="stroke: #000000; stroke-width: 0.8"/>
</g>
</g>
<g id="text_134">
<text style="font-size: 14px; font-family: 'DejaVu Sans', 'Liberation Sans', sans-serif; text-anchor: middle" x="1243.48" y="208.57" transform="rotate(-0 1243.48 208.57)">3</text>
</g>
</g>
<g id="xtick_61">
<g id="line2d_113">
<g>
<path d="M 0 0 L 0 3.5" transform="translate(1309.67 190.54)" style="stroke: #000000; stroke-width: 0.8"/>
</g>
</g>
<g id="text_135">
<text style="font-size: 14px; font-family: 'DejaVu Sans', 'Liberation Sans', sans-serif; text-anchor: middle" x="1309.67" y="208.57" transform="rotate(-0 1309.67 208.57)">4</text>
</g>
</g>
<g id="xtick_62">
<g id="line2d_114">
<g>
<path d="M 0 0 L 0 3.5" transform="translate(1375.85 190.54)" style="stroke: #000000; stroke-width: 0.8"/>
</g>
</g>
<g id="text_136">
<text style="font-size: 14px; font-family: 'DejaVu Sans', 'Liberation Sans', sans-serif; text-anchor: middle" x="1375.85" y="208.57" transform="rotate(-0 1375.85 208.57)">5</text>
</g>
</g>
<g id="text_137">
<text style="font-size: 14px; font-family: 'DejaVu Sans', 'Liberation Sans', sans-serif; text-anchor: middle" x="1210.39" y="226.12" transform="rotate(-0 1210.39 226.12)">RMSE (mg/l)</text>
</g>
</g>
<g id="matplotlib.axis_20"/>
<g id="patch_422">
<path d="M 1044.92 190.54 L 1044.92 173.78" style="fill: none; stroke: #000000; stroke-width: 0.6; stroke-linejoin: miter; stroke-linecap: square"/>
</g>
<g id="patch_423">
<path d="M 1375.85 190.54 L 1375.85 173.78" style="fill: none; stroke: #000000; stroke-width: 0.6; stroke-linejoin: miter; stroke-linecap: square"/>
</g>
<g id="patch_424">
<path d="M 1044.92 190.54 L 1375.85 190.54" style="fill: none; stroke: #000000; stroke-width: 0.6; stroke-linejoin: miter; stroke-linecap: square"/>
</g>
<g id="patch_425">
<path d="M 1044.92 173.78 L 1375.85 173.78" style="fill: none; stroke: #000000; stroke-width: 0.6; stroke-linejoin: miter; stroke-linecap: square"/>
</g>
</g>
<g id="axes_12">
<g id="patch_426">
<path d="M 1044.92 421.99 L 1375.85 421.99 L 1375.85 405.23 L 1044.92 405.23 z" style="fill: #ffffff"/>
</g>
<g id="cbarfill_f">
<path d="M 1044.92 421.99 L 1375.85 421.99 L 1375.85 405.23 L 1044.92 405.23 z" clip-path="url(#pe4f08450b5)" style="fill: url(#jetgrad)"/>
</g>
<g id="matplotlib.axis_21">
<g id="xtick_63">
<g id="line2d_115">
<g>
<path d="M 0 0 L 0 3.5" transform="translate(1044.92 421.99)" style="stroke: #000000; stroke-width: 0.8"/>
</g>
</g>
<g id="text_138">
<text style="font-size: 14px; font-family: 'DejaVu Sans', 'Liberation Sans', sans-serif; text-anchor: middle" x="1044.92" y="440.02" transform="rotate(-0 1044.92 440.02)">0</text>
</g>
</g>
<g id="xtick_64">
<g id="line2d_116">
<g>
<path d="M 0 0 L 0 3.5" transform="translate(1111.1 421.99)" style="stroke: #000000; stroke-width: 0.8"/>
</g>
</g>
<g id="text_139">
<text style="font-size: 14px; font-family: 'DejaVu Sans', 'Liberation Sans', sans-serif; text-anchor: middle" x="1111.1" y="440.02" transform="rotate(-0 1111.1 440.02)">1</text>
</g>
</g>
<g id="xtick_65">
<g id="line2d_117">
<g>
<path d="M 0 0 L 0 3.5" transform="translate(1177.29 421.99)" style="stroke: #000000; stroke-width: 0.8"/>
</g>
</g>
<g id="text_140">
<text style="font-size: 14px; font-family: 'DejaVu Sans', 'Liberation Sans', sans-serif; text-anchor: middle" x="1177.29" y="440.02" transform="rotate(-0 1177.29 440.02)">2</text>
</g>
</g>
<g id="xtick_66">
<g id="line2d_118">
<g>
<path d="M 0 0 L 0 3.5" transform="translate(1243.48 421.99)" style="stroke: #000000; stroke-width: 0.8"/>
</g>
</g>
<g id="text_141">
<text style="font-size: 14px; font-family: 'DejaVu Sans', 'Liberation Sans', sans-serif; text-anchor: middle" x="1243.48" y="440.02" transform="rotate(-0 1243.48 440.02)">3</text>
</g>
</g>
<g id="xtick_67">
<g id="line2d_119">
<g>
<path d="M 0 0 L 0 3.5" transform="translate(1309.67 421.99)" style="stroke: #000000; stroke-width: 0.8"/>
</g>
</g>
<g id="text_142">
<text style="font-size: 14px; font-family: 'DejaVu Sans', 'Liberation Sans', sans-serif; text-anchor: middle" x="1309.67" y="440.02" transform="rotate(-0 1309.67 440.02)">4</text>
</g>
</g>
<g id="xtick_68">
<g id="line2d_120">
<g>
<path d="M 0 0 L 0 3.5" transform="translate(1375.85 421.99)" style="stroke: #000000; stroke-width: 0.8"/>
</g>
</g>
<g id="text_143">
<text style="font-size: 14px; font-family: 'DejaVu Sans', 'Liberation Sans', sans-serif; text-anchor: middle" x="1375.85" y="440.02" transform="rotate(-0 1375.85 440.02)">5</text>
</g>
</g>
<g id="text_144">
<text style="font-size: 14px; font-family: 'DejaVu Sans', 'Liberation Sans', sans-serif; text-anchor: middle" x="1210.39" y="457.57" transform="rotate(-0 1210.39 457.57)">RMSE (mg/l)</text>
</g>
</g>
<g id="matplotlib.axis_22"/>
<g id="patch_427">
<path d="M 1044.92 421.99 L 1044.92 405.23" style="fill: none; stroke: #000000; stroke-width: 0.6; stroke-linejoin: miter; stroke-linecap: square"/>
</g>
<g id="patch_428">
<path d="M 1375.85 421.99 L 1375.85 405.23" style="fill: none; stroke: #000000; stroke-width: 0.6; stroke-linejoin: miter; stroke-linecap: square"/>
</g>
<g id="patch_429">
<path d="M 1044.92 421.99 L 1375.85 421.99" style="fill: none; stroke: #000000; stroke-width: 0.6; stroke-linejoin: miter; stroke-linecap: square"/>
</g>
<g id="patch_430">
<path d="M 1044.92 405.23 L 1375.85 405.23" style="fill: none; stroke: #000000; stroke-width: 0.6; stroke-linejoin: miter; stroke-linecap: square"/>
</g>
</g>
<g id="text_145">
<text style="font-weight: 700; font-size: 14px; font-family: 'DejaVu Sans', 'Liberation Sans', sans-serif; text-anchor: start" x="95.16" y="11.26" transform="rotate(-0 95.16 11.26)">a</text>
</g>
<g id="text_146">
<text style="font-weight: 700; font-size: 14px; font-family: 'DejaVu Sans', 'Liberation Sans', sans-serif; text-anchor: start" x="162.74" y="11.26" transform="rotate(-0 162.74 11.26)">DynQual_Random Forest</text>
</g>
<g id="text_147">
<text style="font-weight: 700; font-size: 14px; font-family: 'DejaVu Sans', 'Liberation Sans', sans-serif; text-anchor: start" x="95.13" y="242.71" transform="rotate(-0 95.13 242.71)">d</text>
</g>
<g id="text_148">
<text style="font-weight: 700; font-size: 14px; font-family: 'DejaVu Sans', 'Liberation Sans', sans-serif; text-anchor: start" x="163.27" y="242.71" transform="rotate(-0 163.27 242.71)">DynQual_Random Forest</text>
</g>
<g id="text_149">
<text style="font-weight: 700; font-size: 14px; font-family: 'DejaVu Sans', 'Liberation Sans', sans-serif; text-anchor: start" x="519.12" y="27.26" transform="rotate(-0 519.12 27.26)">b</text>
</g>
<g id="text_150">
<text style="font-weight: 700; font-size: 14px; font-family: 'DejaVu Sans', 'Liberation Sans', sans-serif; text-anchor: start" x="665.3" y="27.26" transform="rotate(-0 665.3 27.26)">RMSE: All data</text>
</g>
<g id="text_151">
<text style="font-weight: 700; font-size: 14px; font-family: 'DejaVu Sans', 'Liberation Sans', sans-serif; text-anchor: start" x="519.24" y="258.71" transform="rotate(-0 519.24 258.71)">e</text>
</g>
<g id="text_152">
<text style="font-weight: 700; font-size: 14px; font-family: 'DejaVu Sans', 'Liberation Sans', sans-serif; text-anchor: start" x="606.43" y="258.71" transform="rotate(-0 606.43 258.71)">RMSE: Data &lt; 10th percentile</text>
</g>
<g id="text_153">
<text style="font-weight: 700; font-size: 14px; font-family: 'DejaVu Sans', 'Liberation Sans', sans-serif; text-anchor: start" x="519.12" y="490.16" transform="rotate(-0 519.12 490.16)">h</text>
</g>
<g id="text_154">
<text style="font-weight: 700; font-size: 14px; font-family: 'DejaVu Sans', 'Liberation Sans', sans-serif; text-anchor: start" x="669.82" y="490.16" transform="rotate(-0 669.82 490.16)">MAE: All data</text>
</g>
<g id="text_155">
<text style="font-weight: 700; font-size: 14px; font-family: 'DejaVu Sans', 'Liberation Sans', sans-serif; text-anchor: start" x="35.01" y="490.16" transform="rotate(-0 35.01 490.16)">g</text>
</g>
<g id="text_156">
<text style="font-weight: 700; font-size: 14px; font-family: 'DejaVu Sans', 'Liberation Sans', sans-serif; text-anchor: start" x="146.84" y="490.16" transform="rotate(-0 146.84 490.16)">DynQual_Random Forest</text>
</g>
<g id="text_157">
<text style="font-weight: 700; font-size: 14px; font-family: 'DejaVu Sans', 'Liberation Sans', sans-serif; text-anchor: start" x="1003.48" y="490.16" transform="rotate(-0 1003.48 490.16)">i</text>
</g>
<g id="text_158">
<text style="font-weight: 700; font-size: 14px; font-family: 'DejaVu Sans', 'Liberation Sans', sans-serif; text-anchor: start" x="1173.3" y="490.16" transform="rotate(-0 1173.3 490.16)">DynQual</text>
</g>
<g id="text_159">
<text style="font-weight: 700; font-size: 14px; font-family: 'DejaVu Sans', 'Liberation Sans', sans-serif; text-anchor: start" x="212.34" y="721.64" transform="rotate(-0 212.34 721.64)">j</text>
</g>
<g id="text_160">
<text style="font-weight: 700; font-size: 14px; font-family: 'DejaVu Sans', 'Liberation Sans', sans-serif; text-anchor: start" x="289.61" y="721.64" transform="rotate(-0 289.61 721.64)">Stress days (DO data &lt; 5 mg/l)</text>
</g>
<g id="text_161">
<text style="font-weight: 700; font-size: 14px; font-family: 'DejaVu Sans', 'Liberation Sans', sans-serif; text-anchor: start" x="836.25" y="721.64" transform="rotate(-0 836.25 721.64)">k</text>
</g>
<g id="text_162">
<text style="font-weight: 700; font-size: 14px; font-family: 'DejaVu Sans', 'Liberation Sans', sans-serif; text-anchor: start" x="913.44" y="721.64" transform="rotate(-0 913.44 721.64)">Hypoxia days (DO data &lt; 3 mg/l)</text>
</g>
<g id="text_163">
<text style="font-weight: 700; font-size: 14px; font-family: 'DejaVu Sans', 'Liberation Sans', sans-serif; text-anchor: start" x="1063.62" y="11.39" transform="rotate(-0 1063.62 11.39)">c</text>
</g>
<g id="text_164">
<text style="font-weight: 700; font-size: 14px; font-family: 'DejaVu Sans', 'Liberation Sans', sans-serif; text-anchor: start" x="1178.86" y="11.39" transform="rotate(-0 1178.86 11.39)">DynQual</text>
</g>
<g id="text_165">
<text style="font-weight: 700; font-size: 14px; font-family: 'DejaVu Sans', 'Liberation Sans', sans-serif; text-anchor: start" x="1056.76" y="242.9" transform="rotate(-0 1056.76 242.9)">f</text>
</g>
<g id="text_166">
<text style="font-weight: 700; font-size: 14px; font-family: 'DejaVu Sans', 'Liberation Sans', sans-serif; text-anchor: start" x="1174.34" y="242.9" transform="rotate(-0 1174.34 242.9)">DynQual</text>
</g>
</g>
<defs>
<clipPath id="p8a1bfb4084">
<rect x="0" y="0" width="1419.05" height="1031.56"/>
</clipPath>
<clipPath id="p2bac3826d2">
<rect x="519.38" y="33.05" width="413.67" height="165.73"/>
</clipPath>
<clipPath id="pc23253623a">
<rect x="519.38" y="264.5" width="413.67" height="165.73"/>
</clipPath>
<clipPath id="p4a960772e0">
<rect x="519.38" y="495.95" width="413.67" height="165.73"/>
</clipPath>
<clipPath id="pe89f815ff4">
<rect x="35.05" y="495.95" width="413.67" height="165.73"/>
</clipPath>
<clipPath id="p575f5931a7">
<rect x="1003.84" y="495.95" width="413.67" height="165.73"/>
</clipPath>
<clipPath id="pf9a34589d6">
<rect x="207.23" y="727.4" width="413.67" height="165.86"/>
</clipPath>
<clipPath id="p121d68709d">
<rect x="831.63" y="727.4" width="413.67" height="165.86"/>
</clipPath>
<clipPath id="pbebfc1d31c">
<rect x="76.19" y="173.78" width="331.2" height="16.76"/>
</clipPath>
<clipPath id="p86ea70df00">
<rect x="76.19" y="405.23" width="331.2" height="16.76"/>
</clipPath>
<clipPath id="p850e935e48">
<rect x="1044.92" y="173.78" width="330.94" height="16.76"/>
</clipPath>
<clipPath id="pe4f08450b5">
<rect x="1044.92" y="405.23" width="330.94" height="16.76"/>
</clipPath>
</defs>
</svg>

</body></html>
